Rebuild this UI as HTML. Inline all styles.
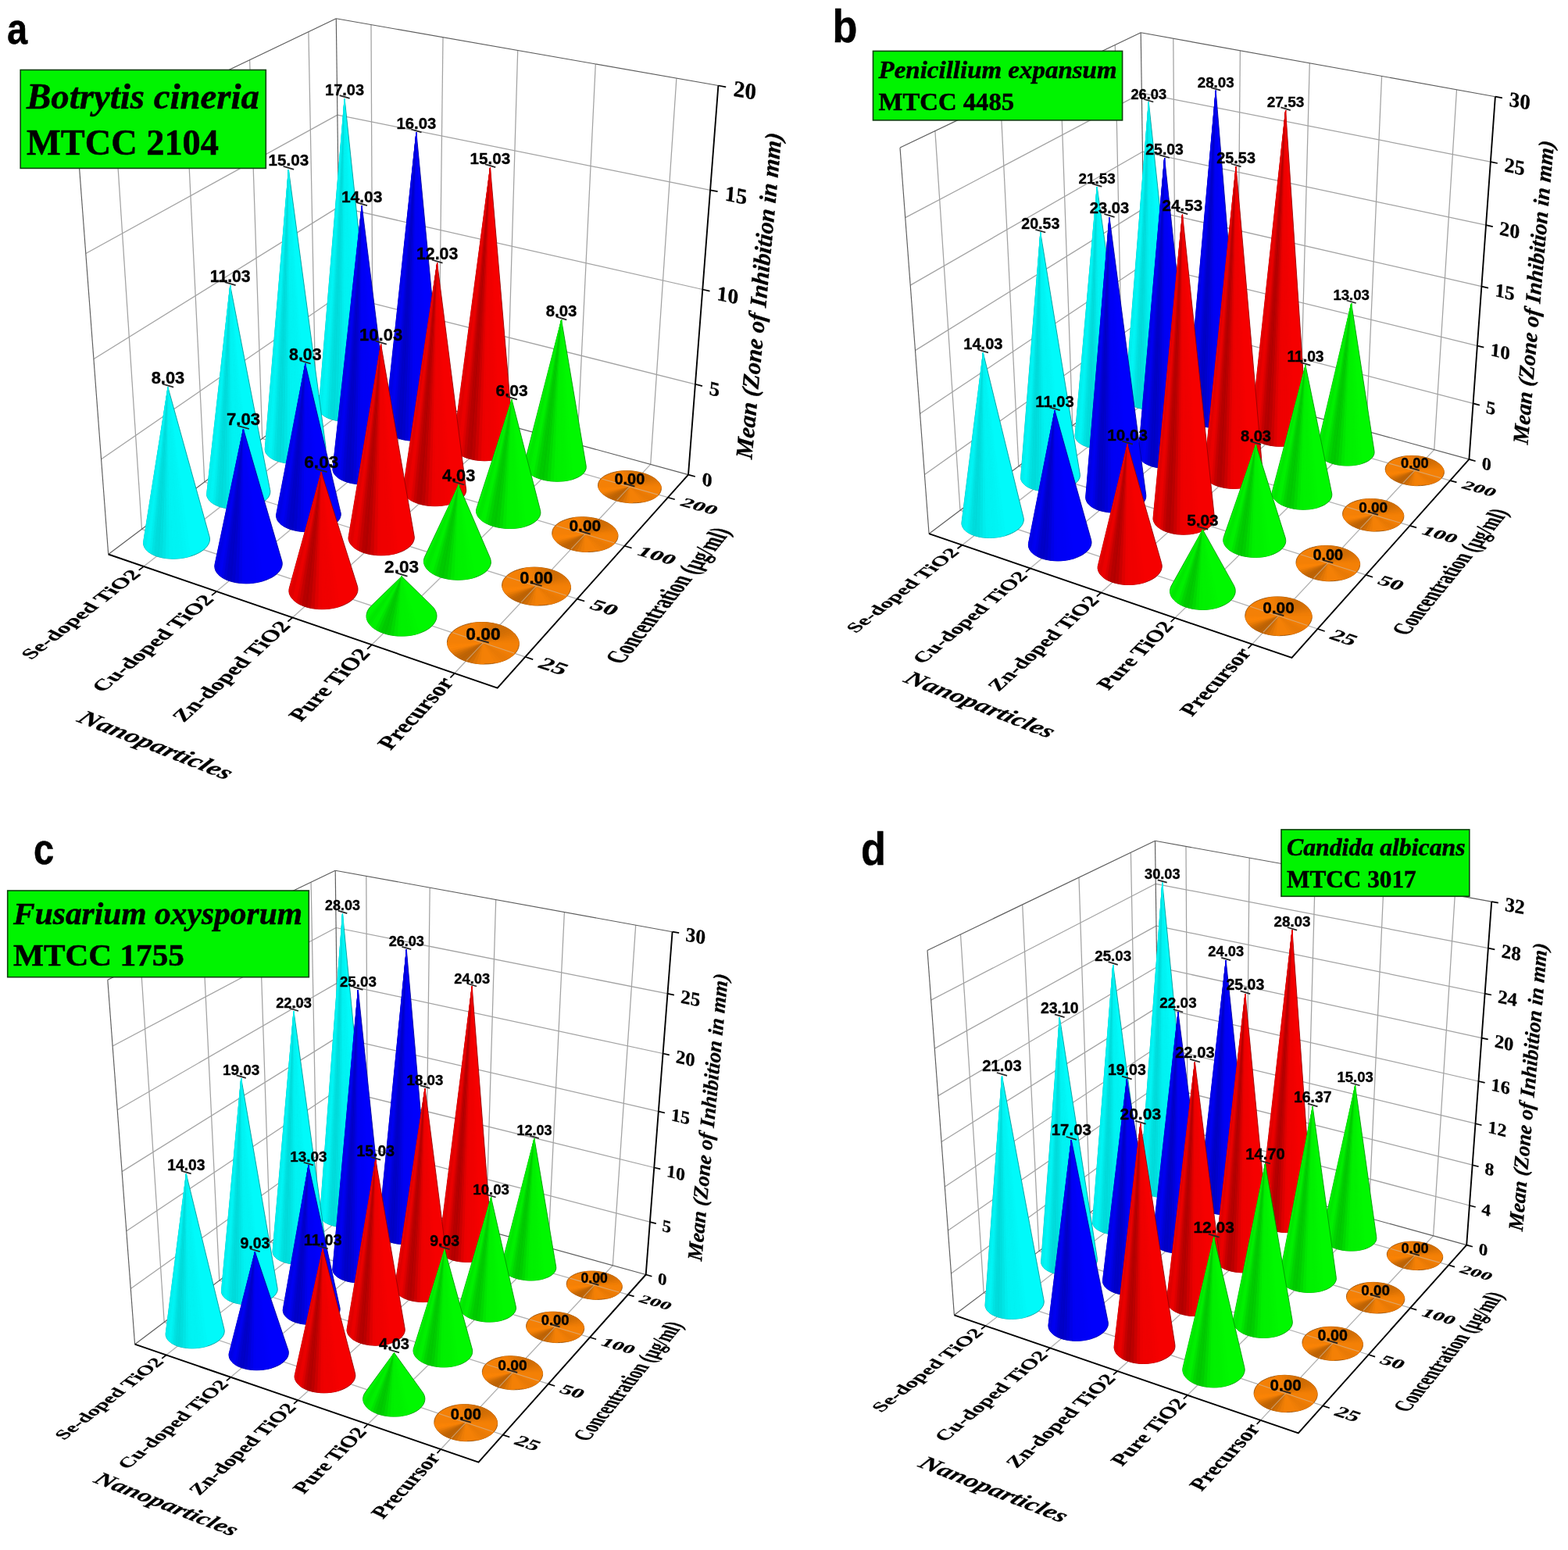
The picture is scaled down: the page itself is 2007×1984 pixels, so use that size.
<!DOCTYPE html><html><head><meta charset="utf-8"><title>Antifungal activity</title><style>
html,body{margin:0;padding:0;background:#fff}
svg{display:block}
text{font-family:"Liberation Serif",serif;font-weight:bold;fill:#000}
.s text{stroke:#000;stroke-width:1.1px;stroke-linejoin:round}
.pl,.t{stroke:#000;stroke-width:0.5px}
.v{font-family:"Liberation Sans",sans-serif;font-weight:bold;text-anchor:middle;stroke:#000;stroke-width:0.35px}
.pl{font-family:"Liberation Sans",sans-serif;font-weight:bold}
.i{font-style:italic}
</style></head><body>
<svg width="2007" height="1984" viewBox="0 0 2007 1984">
<rect width="2007" height="1984" fill="#fff"/>
<g id="panel-a">
<line x1="129.6" y1="587.7" x2="434.8" y2="377.7" stroke="#a2a2a2" stroke-width="1.25"/>
<line x1="434.8" y1="377.7" x2="889.9" y2="491.8" stroke="#a2a2a2" stroke-width="1.25"/>
<line x1="120" y1="459.5" x2="433.4" y2="264.9" stroke="#a2a2a2" stroke-width="1.25"/>
<line x1="433.4" y1="264.9" x2="899.3" y2="370.5" stroke="#a2a2a2" stroke-width="1.25"/>
<line x1="109.8" y1="324.5" x2="431.9" y2="147.1" stroke="#a2a2a2" stroke-width="1.25"/>
<line x1="431.9" y1="147.1" x2="909.1" y2="243.3" stroke="#a2a2a2" stroke-width="1.25"/>
<line x1="181.5" y1="677.4" x2="147.4" y2="159" stroke="#a2a2a2" stroke-width="1.25"/>
<line x1="181.5" y1="677.4" x2="672.3" y2="840.8" stroke="#b0b0b0" stroke-width="1.3"/>
<line x1="261.8" y1="617" x2="237.4" y2="116" stroke="#a2a2a2" stroke-width="1.25"/>
<line x1="261.8" y1="617" x2="738.7" y2="766.6" stroke="#b0b0b0" stroke-width="1.3"/>
<line x1="335.7" y1="561.4" x2="319.6" y2="76.7" stroke="#a2a2a2" stroke-width="1.25"/>
<line x1="335.7" y1="561.4" x2="799.3" y2="698.8" stroke="#b0b0b0" stroke-width="1.3"/>
<line x1="404" y1="510" x2="394.9" y2="40.7" stroke="#a2a2a2" stroke-width="1.25"/>
<line x1="404" y1="510" x2="854.9" y2="636.7" stroke="#b0b0b0" stroke-width="1.3"/>
<line x1="477.2" y1="497" x2="475" y2="31.7" stroke="#a2a2a2" stroke-width="1.25"/>
<line x1="183.9" y1="725.1" x2="477.2" y2="497" stroke="#b0b0b0" stroke-width="1.3"/>
<line x1="561.3" y1="520" x2="567" y2="47.8" stroke="#a2a2a2" stroke-width="1.25"/>
<line x1="277.1" y1="757.1" x2="561.3" y2="520" stroke="#b0b0b0" stroke-width="1.3"/>
<line x1="648.5" y1="543.9" x2="662.7" y2="64.6" stroke="#a2a2a2" stroke-width="1.25"/>
<line x1="374.3" y1="790.5" x2="648.5" y2="543.9" stroke="#b0b0b0" stroke-width="1.3"/>
<line x1="738.9" y1="568.7" x2="762.3" y2="82" stroke="#a2a2a2" stroke-width="1.25"/>
<line x1="475.8" y1="825.3" x2="738.9" y2="568.7" stroke="#b0b0b0" stroke-width="1.3"/>
<line x1="832.7" y1="594.4" x2="865.9" y2="100.2" stroke="#a2a2a2" stroke-width="1.25"/>
<line x1="581.8" y1="861.8" x2="832.7" y2="594.4" stroke="#b0b0b0" stroke-width="1.3"/>
<line x1="138.7" y1="709.5" x2="99.1" y2="182.1" stroke="#5c5c5c" stroke-width="1.15"/>
<line x1="99.1" y1="182.1" x2="430.3" y2="23.8" stroke="#5c5c5c" stroke-width="1.15"/>
<line x1="430.3" y1="23.8" x2="919.4" y2="109.5" stroke="#5c5c5c" stroke-width="1.15"/>
<line x1="436.2" y1="485.8" x2="430.3" y2="23.8" stroke="#5c5c5c" stroke-width="1.15"/>
<line x1="138.7" y1="709.5" x2="436.2" y2="485.8" stroke="#5c5c5c" stroke-width="1.15"/>
<line x1="436.2" y1="485.8" x2="881" y2="607.6" stroke="#5c5c5c" stroke-width="1.15"/>
<polyline points="138.7,709.5 636.7,880.6 881,607.6 919.4,109.5" fill="none" stroke="#000" stroke-width="1.9" stroke-linejoin="miter"/>
<line x1="183.9" y1="725.1" x2="177.7" y2="729.9" stroke="#000" stroke-width="1.7"/>
<line x1="277.1" y1="757.1" x2="271" y2="762.1" stroke="#000" stroke-width="1.7"/>
<line x1="374.3" y1="790.5" x2="368.4" y2="795.7" stroke="#000" stroke-width="1.7"/>
<line x1="475.8" y1="825.3" x2="470.1" y2="830.9" stroke="#000" stroke-width="1.7"/>
<line x1="581.8" y1="861.8" x2="576.4" y2="867.5" stroke="#000" stroke-width="1.7"/>
<line x1="672.3" y1="840.8" x2="682.2" y2="844.1" stroke="#000" stroke-width="1.7"/>
<line x1="738.7" y1="766.6" x2="748.2" y2="769.5" stroke="#000" stroke-width="1.7"/>
<line x1="799.3" y1="698.8" x2="808.6" y2="701.5" stroke="#000" stroke-width="1.7"/>
<line x1="854.9" y1="636.7" x2="863.8" y2="639.2" stroke="#000" stroke-width="1.7"/>
<line x1="881" y1="607.6" x2="889.8" y2="610" stroke="#000" stroke-width="1.7"/>
<line x1="889.9" y1="491.8" x2="898.9" y2="494.1" stroke="#000" stroke-width="1.7"/>
<line x1="899.3" y1="370.5" x2="908.5" y2="372.6" stroke="#000" stroke-width="1.7"/>
<line x1="909.1" y1="243.3" x2="918.6" y2="245.2" stroke="#000" stroke-width="1.7"/>
<line x1="919.4" y1="109.5" x2="929.2" y2="111.3" stroke="#000" stroke-width="1.7"/>
<g><polygon points="408.1,521.6 441.1,126.1 482.7,519.9 482.8,521.8 482.6,523.6 481.9,525.5 480.8,527.2 479.3,529 477.5,530.7 475.2,532.2 472.7,533.7 469.9,535 466.7,536.2 463.4,537.2 459.8,538.1 456.1,538.8 452.2,539.2 448.3,539.5 444.3,539.6 440.4,539.5 436.4,539.2 432.7,538.7 429,538 425.6,537.1 422.3,536.1 419.3,534.9 416.7,533.6 414.3,532.1 412.3,530.5 410.7,528.8 409.4,527.1 408.6,525.3 408.1,523.4" fill="#00fafa" stroke="#009b9b" stroke-width="0.9" stroke-linejoin="round"/><polygon points="441.1,126.1 408.1,521.6 408.1,523.4" fill="#00f9f9" stroke="#00f9f9" stroke-width="0.4"/><polygon points="441.1,126.1 408.1,523.4 408.6,525.3" fill="#00f6f6" stroke="#00f6f6" stroke-width="0.4"/><polygon points="441.1,126.1 408.6,525.3 409.4,527.1" fill="#00f0f0" stroke="#00f0f0" stroke-width="0.4"/><polygon points="441.1,126.1 409.4,527.1 410.7,528.8" fill="#00eeee" stroke="#00eeee" stroke-width="0.4"/><polygon points="441.1,126.1 410.7,528.8 412.3,530.5" fill="#00efef" stroke="#00efef" stroke-width="0.4"/><polygon points="441.1,126.1 412.3,530.5 414.3,532.1" fill="#00f4f4" stroke="#00f4f4" stroke-width="0.4"/><polygon points="441.1,126.1 414.3,532.1 416.7,533.6" fill="#00f4f4" stroke="#00f4f4" stroke-width="0.4"/><polygon points="441.1,126.1 416.7,533.6 419.3,534.9" fill="#00eded" stroke="#00eded" stroke-width="0.4"/><polygon points="441.1,126.1 419.3,534.9 422.3,536.1" fill="#00e3e3" stroke="#00e3e3" stroke-width="0.4"/><polygon points="441.1,126.1 422.3,536.1 425.6,537.1" fill="#00dcdc" stroke="#00dcdc" stroke-width="0.4"/><polygon points="441.1,126.1 425.6,537.1 429,538" fill="#00dada" stroke="#00dada" stroke-width="0.4"/><polygon points="441.1,126.1 459.8,538.1 463.4,537.2" fill="#00f8f8" stroke="#00f8f8" stroke-width="0.4"/><polygon points="441.1,126.1 429,538 432.7,538.7" fill="#00dede" stroke="#00dede" stroke-width="0.4"/><polygon points="441.1,126.1 456.1,538.8 459.8,538.1" fill="#00f6f6" stroke="#00f6f6" stroke-width="0.4"/><polygon points="441.1,126.1 432.7,538.7 436.5,539.2" fill="#00e5e5" stroke="#00e5e5" stroke-width="0.4"/><polygon points="441.1,126.1 452.2,539.2 456.1,538.8" fill="#00f4f4" stroke="#00f4f4" stroke-width="0.4"/><polygon points="441.1,126.1 436.5,539.2 440.3,539.5" fill="#00eded" stroke="#00eded" stroke-width="0.4"/><polygon points="441.1,126.1 448.3,539.5 452.2,539.2" fill="#00f3f3" stroke="#00f3f3" stroke-width="0.4"/><polygon points="441.1,126.1 440.3,539.5 444.3,539.6" fill="#00f2f2" stroke="#00f2f2" stroke-width="0.4"/><polygon points="441.1,126.1 444.3,539.6 448.3,539.5" fill="#00f3f3" stroke="#00f3f3" stroke-width="0.4"/></g>
<g><polygon points="492.6,545.5 532.9,169.6 568.7,545.7 568.5,547.6 568,549.5 567,551.4 565.6,553.2 563.8,554.9 561.7,556.6 559.2,558.1 556.4,559.5 553.3,560.7 549.9,561.7 546.3,562.6 542.6,563.3 538.7,563.8 534.7,564.1 530.7,564.2 526.6,564.1 522.6,563.8 518.8,563.3 515,562.5 511.4,561.6 508,560.6 504.9,559.3 502.1,557.9 499.6,556.4 497.5,554.8 495.7,553 494.3,551.2 493.3,549.3 492.8,547.4" fill="#0000fc" stroke="#00009c" stroke-width="0.9" stroke-linejoin="round"/><polygon points="532.9,169.6 492.6,545.5 492.8,547.4" fill="#0000fb" stroke="#0000fb" stroke-width="0.4"/><polygon points="532.9,169.6 492.8,547.4 493.3,549.3" fill="#0000f3" stroke="#0000f3" stroke-width="0.4"/><polygon points="532.9,169.6 493.3,549.3 494.3,551.2" fill="#0000e9" stroke="#0000e9" stroke-width="0.4"/><polygon points="532.9,169.6 494.3,551.2 495.7,553" fill="#0000e3" stroke="#0000e3" stroke-width="0.4"/><polygon points="532.9,169.6 495.7,553 497.5,554.8" fill="#0000e6" stroke="#0000e6" stroke-width="0.4"/><polygon points="532.9,169.6 497.5,554.8 499.6,556.4" fill="#0000ef" stroke="#0000ef" stroke-width="0.4"/><polygon points="532.9,169.6 499.6,556.4 502.1,557.9" fill="#0000f2" stroke="#0000f2" stroke-width="0.4"/><polygon points="532.9,169.6 502.1,557.9 504.9,559.3" fill="#0000e6" stroke="#0000e6" stroke-width="0.4"/><polygon points="532.9,169.6 504.9,559.3 508,560.6" fill="#0000d5" stroke="#0000d5" stroke-width="0.4"/><polygon points="532.9,169.6 508,560.6 511.4,561.6" fill="#0000c8" stroke="#0000c8" stroke-width="0.4"/><polygon points="532.9,169.6 511.4,561.6 515,562.6" fill="#0000c5" stroke="#0000c5" stroke-width="0.4"/><polygon points="532.9,169.6 546.3,562.6 549.9,561.7" fill="#0000fa" stroke="#0000fa" stroke-width="0.4"/><polygon points="532.9,169.6 515,562.6 518.7,563.3" fill="#0000cc" stroke="#0000cc" stroke-width="0.4"/><polygon points="532.9,169.6 542.6,563.3 546.3,562.6" fill="#0000f8" stroke="#0000f8" stroke-width="0.4"/><polygon points="532.9,169.6 518.7,563.3 522.6,563.8" fill="#0000d9" stroke="#0000d9" stroke-width="0.4"/><polygon points="532.9,169.6 538.7,563.8 542.6,563.3" fill="#0000f6" stroke="#0000f6" stroke-width="0.4"/><polygon points="532.9,169.6 522.6,563.8 526.6,564.1" fill="#0000e8" stroke="#0000e8" stroke-width="0.4"/><polygon points="532.9,169.6 534.7,564.1 538.7,563.8" fill="#0000f5" stroke="#0000f5" stroke-width="0.4"/><polygon points="532.9,169.6 526.6,564.1 530.7,564.2" fill="#0000f3" stroke="#0000f3" stroke-width="0.4"/><polygon points="532.9,169.6 530.7,564.2 534.7,564.1" fill="#0000f5" stroke="#0000f5" stroke-width="0.4"/></g>
<g><polygon points="580.2,570.3 580.4,568.3 627.5,214.3 657.8,570.5 657.7,572.5 657.3,574.5 656.4,576.4 655.1,578.3 653.4,580.1 651.4,581.8 648.9,583.4 646.1,584.8 643.1,586.1 639.7,587.2 636.1,588.1 632.4,588.8 628.4,589.3 624.4,589.6 620.3,589.8 616.2,589.6 612.1,589.3 608.1,588.8 604.2,588 600.5,587.1 597,586 593.7,584.7 590.8,583.2 588.1,581.6 585.8,579.9 583.9,578.1 582.4,576.2 581.2,574.3 580.5,572.3" fill="#f60000" stroke="#990000" stroke-width="0.9" stroke-linejoin="round"/><polygon points="627.5,214.3 580.2,570.3 580.5,572.3" fill="#f50000" stroke="#f50000" stroke-width="0.4"/><polygon points="627.5,214.3 580.5,572.3 581.2,574.3" fill="#ed0000" stroke="#ed0000" stroke-width="0.4"/><polygon points="627.5,214.3 581.2,574.3 582.4,576.2" fill="#e30000" stroke="#e30000" stroke-width="0.4"/><polygon points="627.5,214.3 582.4,576.2 583.9,578.1" fill="#de0000" stroke="#de0000" stroke-width="0.4"/><polygon points="627.5,214.3 583.9,578.1 585.8,579.9" fill="#e00000" stroke="#e00000" stroke-width="0.4"/><polygon points="627.5,214.3 585.8,579.9 588.1,581.6" fill="#ea0000" stroke="#ea0000" stroke-width="0.4"/><polygon points="627.5,214.3 588.1,581.6 590.8,583.2" fill="#ea0000" stroke="#ea0000" stroke-width="0.4"/><polygon points="627.5,214.3 590.8,583.2 593.7,584.7" fill="#db0000" stroke="#db0000" stroke-width="0.4"/><polygon points="627.5,214.3 593.7,584.7 597,586" fill="#c60000" stroke="#c60000" stroke-width="0.4"/><polygon points="627.5,214.3 597,586 600.5,587.1" fill="#b60000" stroke="#b60000" stroke-width="0.4"/><polygon points="627.5,214.3 600.5,587.1 604.2,588" fill="#b10000" stroke="#b10000" stroke-width="0.4"/><polygon points="627.5,214.3 636.1,588.1 639.7,587.2" fill="#f40000" stroke="#f40000" stroke-width="0.4"/><polygon points="627.5,214.3 604.2,588 608.1,588.8" fill="#ba0000" stroke="#ba0000" stroke-width="0.4"/><polygon points="627.5,214.3 632.4,588.8 636.1,588.1" fill="#f20000" stroke="#f20000" stroke-width="0.4"/><polygon points="627.5,214.3 608.1,588.8 612.1,589.3" fill="#cb0000" stroke="#cb0000" stroke-width="0.4"/><polygon points="627.5,214.3 628.4,589.3 632.4,588.8" fill="#f00000" stroke="#f00000" stroke-width="0.4"/><polygon points="627.5,214.3 612.1,589.3 616.2,589.6" fill="#de0000" stroke="#de0000" stroke-width="0.4"/><polygon points="627.5,214.3 624.4,589.6 628.4,589.3" fill="#ef0000" stroke="#ef0000" stroke-width="0.4"/><polygon points="627.5,214.3 616.2,589.6 620.3,589.7" fill="#ec0000" stroke="#ec0000" stroke-width="0.4"/><polygon points="627.5,214.3 620.3,589.7 624.4,589.6" fill="#ef0000" stroke="#ef0000" stroke-width="0.4"/></g>
<g><polygon points="339.3,575.9 339.3,573.9 369.4,217.1 417,572.1 417,574.1 416.7,576.1 415.9,578.1 414.6,580 413,581.9 411,583.7 408.6,585.4 405.9,587 402.9,588.4 399.6,589.7 396,590.8 392.2,591.7 388.3,592.5 384.3,593 380.2,593.3 376,593.4 371.9,593.3 367.9,593 364,592.4 360.2,591.7 356.7,590.7 353.4,589.6 350.3,588.3 347.6,586.8 345.2,585.2 343.2,583.5 341.6,581.7 340.4,579.8 339.6,577.9" fill="#00fafa" stroke="#009b9b" stroke-width="0.9" stroke-linejoin="round"/><polygon points="369.4,217.1 339.3,573.9 339.3,575.9" fill="#00f9f9" stroke="#00f9f9" stroke-width="0.4"/><polygon points="369.4,217.1 339.3,575.9 339.6,577.9" fill="#00f6f6" stroke="#00f6f6" stroke-width="0.4"/><polygon points="369.4,217.1 339.6,577.9 340.4,579.8" fill="#00f0f0" stroke="#00f0f0" stroke-width="0.4"/><polygon points="369.4,217.1 340.4,579.8 341.6,581.7" fill="#00eeee" stroke="#00eeee" stroke-width="0.4"/><polygon points="369.4,217.1 341.6,581.7 343.2,583.5" fill="#00efef" stroke="#00efef" stroke-width="0.4"/><polygon points="369.4,217.1 343.2,583.5 345.2,585.2" fill="#00f4f4" stroke="#00f4f4" stroke-width="0.4"/><polygon points="369.4,217.1 345.2,585.2 347.6,586.8" fill="#00f4f4" stroke="#00f4f4" stroke-width="0.4"/><polygon points="369.4,217.1 347.6,586.8 350.3,588.3" fill="#00eded" stroke="#00eded" stroke-width="0.4"/><polygon points="369.4,217.1 350.3,588.3 353.3,589.6" fill="#00e3e3" stroke="#00e3e3" stroke-width="0.4"/><polygon points="369.4,217.1 353.3,589.6 356.7,590.7" fill="#00dcdc" stroke="#00dcdc" stroke-width="0.4"/><polygon points="369.4,217.1 356.7,590.7 360.2,591.7" fill="#00dada" stroke="#00dada" stroke-width="0.4"/><polygon points="369.4,217.1 392.2,591.7 396,590.8" fill="#00f8f8" stroke="#00f8f8" stroke-width="0.4"/><polygon points="369.4,217.1 360.2,591.7 364,592.4" fill="#00dede" stroke="#00dede" stroke-width="0.4"/><polygon points="369.4,217.1 388.3,592.5 392.2,591.7" fill="#00f6f6" stroke="#00f6f6" stroke-width="0.4"/><polygon points="369.4,217.1 364,592.4 367.9,592.9" fill="#00e5e5" stroke="#00e5e5" stroke-width="0.4"/><polygon points="369.4,217.1 384.3,593 388.3,592.5" fill="#00f4f4" stroke="#00f4f4" stroke-width="0.4"/><polygon points="369.4,217.1 367.9,592.9 371.9,593.3" fill="#00eded" stroke="#00eded" stroke-width="0.4"/><polygon points="369.4,217.1 380.2,593.3 384.3,593" fill="#00f3f3" stroke="#00f3f3" stroke-width="0.4"/><polygon points="369.4,217.1 371.9,593.3 376,593.4" fill="#00f2f2" stroke="#00f2f2" stroke-width="0.4"/><polygon points="369.4,217.1 376,593.4 380.2,593.3" fill="#00f3f3" stroke="#00f3f3" stroke-width="0.4"/></g>
<g><polygon points="671.2,596.1 671.2,594 671.6,592 718.6,409.4 750.2,596.3 750.3,598.4 750,600.4 749.2,602.4 748,604.4 746.5,606.2 744.5,608 742.1,609.6 739.4,611.1 736.3,612.4 733,613.6 729.4,614.5 725.6,615.3 721.6,615.8 717.5,616.1 713.3,616.2 709.1,616.1 704.9,615.8 700.8,615.2 696.8,614.5 693,613.5 689.3,612.3 685.9,611 682.8,609.5 680,607.8 677.5,606.1 675.5,604.2 673.8,602.2 672.5,600.2 671.6,598.2" fill="#00f800" stroke="#009a00" stroke-width="0.9" stroke-linejoin="round"/><polygon points="718.6,409.5 671.2,596.1 671.6,598.2" fill="#00f700" stroke="#00f700" stroke-width="0.4"/><polygon points="718.6,409.5 671.6,598.2 672.5,600.2" fill="#00f200" stroke="#00f200" stroke-width="0.4"/><polygon points="718.6,409.5 672.5,600.2 673.8,602.2" fill="#00eb00" stroke="#00eb00" stroke-width="0.4"/><polygon points="718.6,409.5 673.8,602.2 675.5,604.2" fill="#00e700" stroke="#00e700" stroke-width="0.4"/><polygon points="718.6,409.5 675.5,604.2 677.5,606.1" fill="#00e900" stroke="#00e900" stroke-width="0.4"/><polygon points="718.6,409.5 677.5,606.1 680,607.8" fill="#00ef00" stroke="#00ef00" stroke-width="0.4"/><polygon points="718.6,409.5 680,607.8 682.8,609.5" fill="#00f000" stroke="#00f000" stroke-width="0.4"/><polygon points="718.6,409.5 682.8,609.5 685.9,611" fill="#00e400" stroke="#00e400" stroke-width="0.4"/><polygon points="718.6,409.5 685.9,611 689.3,612.3" fill="#00d500" stroke="#00d500" stroke-width="0.4"/><polygon points="718.6,409.5 689.3,612.3 693,613.5" fill="#00ca00" stroke="#00ca00" stroke-width="0.4"/><polygon points="718.6,409.5 693,613.5 696.8,614.5" fill="#00c700" stroke="#00c700" stroke-width="0.4"/><polygon points="718.6,409.5 729.4,614.5 733,613.6" fill="#00f600" stroke="#00f600" stroke-width="0.4"/><polygon points="718.6,409.5 696.8,614.5 700.8,615.2" fill="#00cd00" stroke="#00cd00" stroke-width="0.4"/><polygon points="718.6,409.5 725.6,615.3 729.4,614.5" fill="#00f400" stroke="#00f400" stroke-width="0.4"/><polygon points="718.6,409.5 700.8,615.2 704.9,615.8" fill="#00d900" stroke="#00d900" stroke-width="0.4"/><polygon points="718.6,409.5 721.6,615.8 725.6,615.3" fill="#00f200" stroke="#00f200" stroke-width="0.4"/><polygon points="718.6,409.5 704.9,615.8 709.1,616.1" fill="#00e600" stroke="#00e600" stroke-width="0.4"/><polygon points="718.6,409.5 717.5,616.1 721.6,615.8" fill="#00f100" stroke="#00f100" stroke-width="0.4"/><polygon points="718.6,409.5 709.1,616.1 713.3,616.3" fill="#00ef00" stroke="#00ef00" stroke-width="0.4"/><polygon points="718.6,409.5 713.3,616.3 717.5,616.1" fill="#00f100" stroke="#00f100" stroke-width="0.4"/></g>
<g><polygon points="426,599.8 463.2,263.4 505,597.9 505.2,600 504.9,602.1 504.2,604.1 503.1,606.1 501.6,608.1 499.6,610 497.3,611.8 494.7,613.4 491.7,614.9 488.4,616.2 484.8,617.4 481.1,618.3 477.1,619.1 473,619.6 468.9,620 464.6,620 460.5,619.9 456.3,619.6 452.3,619 448.4,618.2 444.7,617.3 441.3,616.1 438.1,614.7 435.2,613.2 432.7,611.6 430.6,609.8 428.8,607.9 427.5,606 426.5,603.9 426,601.9" fill="#0000fc" stroke="#00009c" stroke-width="0.9" stroke-linejoin="round"/><polygon points="463.2,263.4 426,599.8 426,601.9" fill="#0000fb" stroke="#0000fb" stroke-width="0.4"/><polygon points="463.2,263.4 426,601.9 426.5,603.9" fill="#0000f3" stroke="#0000f3" stroke-width="0.4"/><polygon points="463.2,263.4 426.5,603.9 427.5,606" fill="#0000e9" stroke="#0000e9" stroke-width="0.4"/><polygon points="463.2,263.4 427.5,606 428.8,607.9" fill="#0000e3" stroke="#0000e3" stroke-width="0.4"/><polygon points="463.2,263.4 428.8,607.9 430.6,609.8" fill="#0000e6" stroke="#0000e6" stroke-width="0.4"/><polygon points="463.2,263.4 430.6,609.8 432.7,611.6" fill="#0000ef" stroke="#0000ef" stroke-width="0.4"/><polygon points="463.2,263.4 432.7,611.6 435.2,613.2" fill="#0000f2" stroke="#0000f2" stroke-width="0.4"/><polygon points="463.2,263.4 435.2,613.2 438.1,614.7" fill="#0000e6" stroke="#0000e6" stroke-width="0.4"/><polygon points="463.2,263.4 438.1,614.7 441.3,616.1" fill="#0000d5" stroke="#0000d5" stroke-width="0.4"/><polygon points="463.2,263.4 441.3,616.1 444.7,617.3" fill="#0000c8" stroke="#0000c8" stroke-width="0.4"/><polygon points="463.2,263.4 444.7,617.3 448.4,618.2" fill="#0000c5" stroke="#0000c5" stroke-width="0.4"/><polygon points="463.2,263.4 481,618.3 484.8,617.4" fill="#0000fa" stroke="#0000fa" stroke-width="0.4"/><polygon points="463.2,263.4 448.4,618.2 452.3,619" fill="#0000cc" stroke="#0000cc" stroke-width="0.4"/><polygon points="463.2,263.4 477.1,619.1 481,618.3" fill="#0000f8" stroke="#0000f8" stroke-width="0.4"/><polygon points="463.2,263.4 452.3,619 456.3,619.6" fill="#0000d9" stroke="#0000d9" stroke-width="0.4"/><polygon points="463.2,263.4 473,619.6 477.1,619.1" fill="#0000f6" stroke="#0000f6" stroke-width="0.4"/><polygon points="463.2,263.4 456.3,619.6 460.5,619.9" fill="#0000e8" stroke="#0000e8" stroke-width="0.4"/><polygon points="463.2,263.4 468.9,619.9 473,619.6" fill="#0000f5" stroke="#0000f5" stroke-width="0.4"/><polygon points="463.2,263.4 460.5,619.9 464.6,620" fill="#0000f3" stroke="#0000f3" stroke-width="0.4"/><polygon points="463.2,263.4 464.6,620 468.9,619.9" fill="#0000f5" stroke="#0000f5" stroke-width="0.4"/></g>
<g><polygon points="765.5,620.7 765.8,618.6 766.5,616.5 767.7,614.5 769.3,612.6 771.3,610.9 773.6,609.2 776.3,607.8 779.3,606.5 782.6,605.3 786.1,604.4 789.9,603.6 793.8,603.1 797.8,602.8 801.9,602.7 806.1,602.8 810.3,603.1 814.4,603.7 818.4,604.5 822.4,605.4 826.1,606.6 829.6,607.9 832.9,609.4 835.9,611 838.5,612.8 840.9,614.7 842.8,616.7 844.3,618.8 845.5,620.9 846.2,623 846.4,625.2 846.2,627.3 845.6,629.4 844.6,631.4 843.1,633.4 841.1,635.2 838.8,636.9 836.2,638.5 833.1,639.8 829.8,641 826.2,642 822.4,642.8 818.4,643.4 814.2,643.7 810,643.8 805.7,643.7 801.4,643.3 797.2,642.7 793,641.9 789,640.9 785.3,639.7 781.7,638.3 778.4,636.8 775.4,635 772.8,633.2 770.6,631.2 768.7,629.2 767.2,627.1 766.2,625 765.6,622.8" fill="#f48006" stroke="#974f04" stroke-width="0.9" stroke-linejoin="round"/><polygon points="805.9,622.9 801.9,602.7 797.8,602.8" fill="#eb7b06" stroke="#eb7b06" stroke-width="0.4"/><polygon points="805.9,622.9 806.1,602.8 801.9,602.7" fill="#e67806" stroke="#e67806" stroke-width="0.4"/><polygon points="805.9,622.9 797.8,602.8 793.8,603.1" fill="#f07e06" stroke="#f07e06" stroke-width="0.4"/><polygon points="805.9,622.9 810.3,603.1 806.1,602.8" fill="#df7505" stroke="#df7505" stroke-width="0.4"/><polygon points="805.9,622.9 793.8,603.1 789.9,603.6" fill="#f37f06" stroke="#f37f06" stroke-width="0.4"/><polygon points="805.9,622.9 814.4,603.7 810.3,603.1" fill="#d97205" stroke="#d97205" stroke-width="0.4"/><polygon points="805.9,622.9 818.4,604.5 814.4,603.7" fill="#d46f05" stroke="#d46f05" stroke-width="0.4"/><polygon points="805.9,622.9 822.3,605.4 818.4,604.5" fill="#d06d05" stroke="#d06d05" stroke-width="0.4"/><polygon points="805.9,622.9 826.1,606.6 822.3,605.4" fill="#ce6c05" stroke="#ce6c05" stroke-width="0.4"/><polygon points="805.9,622.9 829.6,607.9 826.1,606.6" fill="#cd6c05" stroke="#cd6c05" stroke-width="0.4"/><polygon points="805.9,622.9 832.9,609.4 829.6,607.9" fill="#ce6c05" stroke="#ce6c05" stroke-width="0.4"/><polygon points="805.9,622.9 835.9,611 832.9,609.4" fill="#d16e05" stroke="#d16e05" stroke-width="0.4"/><polygon points="805.9,622.9 838.5,612.8 835.9,611" fill="#d67005" stroke="#d67005" stroke-width="0.4"/><polygon points="805.9,622.9 840.8,614.7 838.5,612.8" fill="#db7305" stroke="#db7305" stroke-width="0.4"/><polygon points="805.9,622.9 842.8,616.7 840.8,614.7" fill="#e27606" stroke="#e27606" stroke-width="0.4"/><polygon points="805.9,622.9 844.3,618.8 842.8,616.7" fill="#e77906" stroke="#e77906" stroke-width="0.4"/><polygon points="805.9,622.9 845.5,620.9 844.3,618.8" fill="#ed7c06" stroke="#ed7c06" stroke-width="0.4"/><polygon points="805.9,622.9 846.2,623 845.5,620.9" fill="#f17e06" stroke="#f17e06" stroke-width="0.4"/><polygon points="805.9,622.9 765.6,622.8 766.2,625" fill="#f68106" stroke="#f68106" stroke-width="0.4"/><polygon points="805.9,622.9 846.4,625.2 846.2,623" fill="#f38006" stroke="#f38006" stroke-width="0.4"/><polygon points="805.9,622.9 766.2,625 767.2,627.1" fill="#f98306" stroke="#f98306" stroke-width="0.4"/><polygon points="805.9,622.9 767.2,627.1 768.7,629.2" fill="#fb8406" stroke="#fb8406" stroke-width="0.4"/><polygon points="805.9,622.9 768.7,629.2 770.6,631.3" fill="#f68106" stroke="#f68106" stroke-width="0.4"/><polygon points="805.9,622.9 770.6,631.3 772.8,633.2" fill="#e87a06" stroke="#e87a06" stroke-width="0.4"/><polygon points="805.9,622.9 772.8,633.2 775.4,635" fill="#d77105" stroke="#d77105" stroke-width="0.4"/><polygon points="805.9,622.9 841.1,635.2 843.1,633.4" fill="#f37f06" stroke="#f37f06" stroke-width="0.4"/><polygon points="805.9,622.9 775.4,635 778.4,636.7" fill="#c96905" stroke="#c96905" stroke-width="0.4"/><polygon points="805.9,622.9 838.8,636.9 841.1,635.2" fill="#ef7d06" stroke="#ef7d06" stroke-width="0.4"/><polygon points="805.9,622.9 778.4,636.7 781.7,638.3" fill="#be6405" stroke="#be6405" stroke-width="0.4"/><polygon points="805.9,622.9 836.2,638.4 838.8,636.9" fill="#eb7b06" stroke="#eb7b06" stroke-width="0.4"/><polygon points="805.9,622.9 781.7,638.3 785.3,639.7" fill="#ba6105" stroke="#ba6105" stroke-width="0.4"/><polygon points="805.9,622.9 833.2,639.8 836.2,638.4" fill="#e87a06" stroke="#e87a06" stroke-width="0.4"/><polygon points="805.9,622.9 785.3,639.7 789.1,640.9" fill="#bc6305" stroke="#bc6305" stroke-width="0.4"/><polygon points="805.9,622.9 829.8,641 833.2,639.8" fill="#e97a06" stroke="#e97a06" stroke-width="0.4"/><polygon points="805.9,622.9 789.1,640.9 793,641.9" fill="#c56705" stroke="#c56705" stroke-width="0.4"/><polygon points="805.9,622.9 826.2,642 829.8,641" fill="#ec7c06" stroke="#ec7c06" stroke-width="0.4"/><polygon points="805.9,622.9 793,641.9 797.2,642.7" fill="#d26e05" stroke="#d26e05" stroke-width="0.4"/><polygon points="805.9,622.9 822.4,642.8 826.2,642" fill="#f07e06" stroke="#f07e06" stroke-width="0.4"/><polygon points="805.9,622.9 797.2,642.7 801.4,643.3" fill="#e07606" stroke="#e07606" stroke-width="0.4"/><polygon points="805.9,622.9 801.4,643.3 805.7,643.7" fill="#ec7c06" stroke="#ec7c06" stroke-width="0.4"/><polygon points="805.9,622.9 805.7,643.7 810,643.8" fill="#f38006" stroke="#f38006" stroke-width="0.4"/></g>
<line x1="770.4" y1="613" x2="841.9" y2="633.1" stroke="#cdbfae" stroke-width="1.1" opacity="0.6"/>
<line x1="805.9" y1="622.9" x2="789.6" y2="640.4" stroke="#cdbfae" stroke-width="1.1" opacity="0.6"/>
<g><polygon points="516,626.7 516.2,624.5 559.6,336.8 596.7,626.9 596.6,629 596,631.2 595,633.3 593.6,635.3 591.8,637.3 589.5,639.1 586.9,640.8 583.9,642.4 580.7,643.8 577.1,645 573.3,646 569.4,646.7 565.2,647.3 561,647.6 556.7,647.7 552.5,647.6 548.2,647.3 544.1,646.7 540.1,645.9 536.2,644.9 532.6,643.6 529.3,642.2 526.3,640.7 523.6,638.9 521.3,637.1 519.4,635.1 517.9,633.1 516.8,631 516.2,628.8" fill="#f60000" stroke="#990000" stroke-width="0.9" stroke-linejoin="round"/><polygon points="559.6,336.8 516,626.7 516.2,628.8" fill="#f50000" stroke="#f50000" stroke-width="0.4"/><polygon points="559.6,336.8 516.2,628.8 516.8,631" fill="#ed0000" stroke="#ed0000" stroke-width="0.4"/><polygon points="559.6,336.8 516.8,631 517.9,633.1" fill="#e30000" stroke="#e30000" stroke-width="0.4"/><polygon points="559.6,336.8 517.9,633.1 519.4,635.1" fill="#de0000" stroke="#de0000" stroke-width="0.4"/><polygon points="559.6,336.8 519.4,635.1 521.3,637.1" fill="#e00000" stroke="#e00000" stroke-width="0.4"/><polygon points="559.6,336.8 521.3,637.1 523.6,638.9" fill="#ea0000" stroke="#ea0000" stroke-width="0.4"/><polygon points="559.6,336.8 523.6,638.9 526.3,640.7" fill="#ea0000" stroke="#ea0000" stroke-width="0.4"/><polygon points="559.6,336.8 526.3,640.7 529.3,642.2" fill="#db0000" stroke="#db0000" stroke-width="0.4"/><polygon points="559.6,336.8 529.3,642.2 532.7,643.6" fill="#c60000" stroke="#c60000" stroke-width="0.4"/><polygon points="559.6,336.8 532.7,643.6 536.2,644.8" fill="#b60000" stroke="#b60000" stroke-width="0.4"/><polygon points="559.6,336.8 536.2,644.8 540.1,645.9" fill="#b10000" stroke="#b10000" stroke-width="0.4"/><polygon points="559.6,336.8 573.3,645.9 577.1,645" fill="#f40000" stroke="#f40000" stroke-width="0.4"/><polygon points="559.6,336.8 540.1,645.9 544.1,646.7" fill="#ba0000" stroke="#ba0000" stroke-width="0.4"/><polygon points="559.6,336.8 569.4,646.7 573.3,645.9" fill="#f20000" stroke="#f20000" stroke-width="0.4"/><polygon points="559.6,336.8 544.1,646.7 548.2,647.3" fill="#cb0000" stroke="#cb0000" stroke-width="0.4"/><polygon points="559.6,336.8 565.2,647.3 569.4,646.7" fill="#f00000" stroke="#f00000" stroke-width="0.4"/><polygon points="559.6,336.8 548.2,647.3 552.5,647.6" fill="#de0000" stroke="#de0000" stroke-width="0.4"/><polygon points="559.6,336.8 561,647.6 565.2,647.3" fill="#ef0000" stroke="#ef0000" stroke-width="0.4"/><polygon points="559.6,336.8 552.5,647.6 556.7,647.7" fill="#ec0000" stroke="#ec0000" stroke-width="0.4"/><polygon points="559.6,336.8 556.7,647.7 561,647.6" fill="#ef0000" stroke="#ef0000" stroke-width="0.4"/></g>
<g><polygon points="264.7,632.7 264.9,630.5 294.7,365.4 345.5,626.4 345.9,628.6 345.8,630.7 345.3,632.9 344.4,635.1 343,637.2 341.2,639.2 339,641.2 336.4,643 333.5,644.8 330.2,646.3 326.7,647.7 322.9,648.9 319,649.9 314.8,650.7 310.6,651.3 306.3,651.6 302,651.7 297.7,651.6 293.5,651.2 289.5,650.6 285.6,649.8 281.9,648.8 278.6,647.6 275.5,646.2 272.7,644.6 270.4,642.9 268.4,641 266.8,639 265.6,637 264.9,634.9" fill="#00fafa" stroke="#009b9b" stroke-width="0.9" stroke-linejoin="round"/><polygon points="294.7,365.4 264.9,630.5 264.7,632.7" fill="#00f9f9" stroke="#00f9f9" stroke-width="0.4"/><polygon points="294.7,365.4 264.7,632.7 264.9,634.9" fill="#00f6f6" stroke="#00f6f6" stroke-width="0.4"/><polygon points="294.7,365.4 264.9,634.9 265.6,637" fill="#00f0f0" stroke="#00f0f0" stroke-width="0.4"/><polygon points="294.7,365.4 265.6,637 266.8,639" fill="#00eeee" stroke="#00eeee" stroke-width="0.4"/><polygon points="294.7,365.4 266.8,639 268.4,641" fill="#00efef" stroke="#00efef" stroke-width="0.4"/><polygon points="294.7,365.4 268.4,641 270.4,642.9" fill="#00f4f4" stroke="#00f4f4" stroke-width="0.4"/><polygon points="294.7,365.4 270.4,642.9 272.7,644.6" fill="#00f4f4" stroke="#00f4f4" stroke-width="0.4"/><polygon points="294.7,365.4 272.7,644.6 275.5,646.2" fill="#00eded" stroke="#00eded" stroke-width="0.4"/><polygon points="294.7,365.4 275.5,646.2 278.6,647.6" fill="#00e3e3" stroke="#00e3e3" stroke-width="0.4"/><polygon points="294.7,365.4 278.6,647.6 282,648.8" fill="#00dcdc" stroke="#00dcdc" stroke-width="0.4"/><polygon points="294.7,365.4 282,648.8 285.6,649.8" fill="#00dada" stroke="#00dada" stroke-width="0.4"/><polygon points="294.7,365.4 319,649.9 322.9,648.9" fill="#00f8f8" stroke="#00f8f8" stroke-width="0.4"/><polygon points="294.7,365.4 285.6,649.8 289.5,650.6" fill="#00dede" stroke="#00dede" stroke-width="0.4"/><polygon points="294.7,365.4 314.8,650.7 319,649.9" fill="#00f6f6" stroke="#00f6f6" stroke-width="0.4"/><polygon points="294.7,365.4 289.5,650.6 293.5,651.2" fill="#00e5e5" stroke="#00e5e5" stroke-width="0.4"/><polygon points="294.7,365.4 310.6,651.3 314.8,650.7" fill="#00f4f4" stroke="#00f4f4" stroke-width="0.4"/><polygon points="294.7,365.4 293.5,651.2 297.7,651.6" fill="#00eded" stroke="#00eded" stroke-width="0.4"/><polygon points="294.7,365.4 306.3,651.6 310.6,651.3" fill="#00f3f3" stroke="#00f3f3" stroke-width="0.4"/><polygon points="294.7,365.4 297.7,651.6 302,651.7" fill="#00f2f2" stroke="#00f2f2" stroke-width="0.4"/><polygon points="294.7,365.4 302,651.7 306.3,651.6" fill="#00f3f3" stroke="#00f3f3" stroke-width="0.4"/></g>
<g><polygon points="609.5,654.6 609.6,652.4 610.2,650.2 655.1,511.5 691.4,652.6 691.8,654.8 691.9,657.1 691.4,659.3 690.6,661.5 689.2,663.6 687.5,665.6 685.3,667.6 682.8,669.3 679.9,671 676.6,672.4 673.1,673.6 669.3,674.7 665.3,675.5 661.1,676.1 656.9,676.4 652.5,676.5 648.1,676.4 643.8,676 639.5,675.4 635.4,674.6 631.4,673.5 627.7,672.3 624.2,670.8 621,669.2 618.1,667.4 615.7,665.5 613.6,663.4 611.9,661.3 610.7,659.1 609.9,656.9" fill="#00f800" stroke="#009a00" stroke-width="0.9" stroke-linejoin="round"/><polygon points="655.1,511.5 609.5,654.6 609.9,656.9" fill="#00f700" stroke="#00f700" stroke-width="0.4"/><polygon points="655.1,511.5 609.9,656.9 610.7,659.1" fill="#00f200" stroke="#00f200" stroke-width="0.4"/><polygon points="655.1,511.5 610.7,659.1 611.9,661.3" fill="#00eb00" stroke="#00eb00" stroke-width="0.4"/><polygon points="655.1,511.5 611.9,661.3 613.6,663.4" fill="#00e700" stroke="#00e700" stroke-width="0.4"/><polygon points="655.1,511.5 613.6,663.4 615.7,665.5" fill="#00e900" stroke="#00e900" stroke-width="0.4"/><polygon points="655.1,511.5 615.7,665.5 618.1,667.4" fill="#00ef00" stroke="#00ef00" stroke-width="0.4"/><polygon points="655.1,511.5 618.1,667.4 621,669.2" fill="#00f000" stroke="#00f000" stroke-width="0.4"/><polygon points="655.1,511.5 621,669.2 624.2,670.8" fill="#00e400" stroke="#00e400" stroke-width="0.4"/><polygon points="655.1,511.5 624.2,670.8 627.7,672.3" fill="#00d500" stroke="#00d500" stroke-width="0.4"/><polygon points="655.1,511.5 627.7,672.3 631.4,673.5" fill="#00ca00" stroke="#00ca00" stroke-width="0.4"/><polygon points="655.1,511.5 631.4,673.5 635.4,674.6" fill="#00c700" stroke="#00c700" stroke-width="0.4"/><polygon points="655.1,511.5 669.3,674.7 673.1,673.6" fill="#00f600" stroke="#00f600" stroke-width="0.4"/><polygon points="655.1,511.5 635.4,674.6 639.5,675.4" fill="#00cd00" stroke="#00cd00" stroke-width="0.4"/><polygon points="655.1,511.5 665.3,675.5 669.3,674.7" fill="#00f400" stroke="#00f400" stroke-width="0.4"/><polygon points="655.1,511.5 639.5,675.4 643.8,676" fill="#00d900" stroke="#00d900" stroke-width="0.4"/><polygon points="655.1,511.5 661.2,676.1 665.3,675.5" fill="#00f200" stroke="#00f200" stroke-width="0.4"/><polygon points="655.1,511.5 643.8,676 648.1,676.4" fill="#00e600" stroke="#00e600" stroke-width="0.4"/><polygon points="655.1,511.5 656.9,676.4 661.2,676.1" fill="#00f100" stroke="#00f100" stroke-width="0.4"/><polygon points="655.1,511.5 648.1,676.4 652.5,676.5" fill="#00ef00" stroke="#00ef00" stroke-width="0.4"/><polygon points="655.1,511.5 652.5,676.5 656.9,676.4" fill="#00f100" stroke="#00f100" stroke-width="0.4"/></g>
<g><polygon points="353.7,660.9 353.7,658.6 390.8,465.7 435.6,654.4 436.2,656.6 436.3,658.9 435.9,661.1 435.1,663.4 433.8,665.6 432.1,667.7 430,669.7 427.5,671.6 424.6,673.4 421.4,675.1 417.9,676.5 414.1,677.8 410.1,678.8 406,679.6 401.7,680.2 397.3,680.6 392.9,680.7 388.6,680.5 384.3,680.2 380.1,679.6 376.1,678.7 372.3,677.7 368.8,676.4 365.6,674.9 362.6,673.3 360.1,671.5 358,669.5 356.2,667.5 354.9,665.4 354.1,663.1" fill="#0000fc" stroke="#00009c" stroke-width="0.9" stroke-linejoin="round"/><polygon points="390.8,465.7 353.7,658.6 353.7,660.9" fill="#0000fb" stroke="#0000fb" stroke-width="0.4"/><polygon points="390.8,465.7 353.7,660.9 354.1,663.2" fill="#0000f3" stroke="#0000f3" stroke-width="0.4"/><polygon points="390.8,465.7 354.1,663.2 354.9,665.4" fill="#0000e9" stroke="#0000e9" stroke-width="0.4"/><polygon points="390.8,465.7 354.9,665.4 356.2,667.5" fill="#0000e3" stroke="#0000e3" stroke-width="0.4"/><polygon points="390.8,465.7 356.2,667.5 358,669.5" fill="#0000e6" stroke="#0000e6" stroke-width="0.4"/><polygon points="390.8,465.7 358,669.5 360.1,671.5" fill="#0000ef" stroke="#0000ef" stroke-width="0.4"/><polygon points="390.8,465.7 360.1,671.5 362.6,673.3" fill="#0000f2" stroke="#0000f2" stroke-width="0.4"/><polygon points="390.8,465.7 362.6,673.3 365.5,674.9" fill="#0000e6" stroke="#0000e6" stroke-width="0.4"/><polygon points="390.8,465.7 365.5,674.9 368.8,676.4" fill="#0000d5" stroke="#0000d5" stroke-width="0.4"/><polygon points="390.8,465.7 368.8,676.4 372.3,677.7" fill="#0000c8" stroke="#0000c8" stroke-width="0.4"/><polygon points="390.8,465.7 372.3,677.7 376.1,678.7" fill="#0000c5" stroke="#0000c5" stroke-width="0.4"/><polygon points="390.8,465.7 410.1,678.8 414.1,677.8" fill="#0000fa" stroke="#0000fa" stroke-width="0.4"/><polygon points="390.8,465.7 376.1,678.7 380.1,679.6" fill="#0000cc" stroke="#0000cc" stroke-width="0.4"/><polygon points="390.8,465.7 406,679.6 410.1,678.8" fill="#0000f8" stroke="#0000f8" stroke-width="0.4"/><polygon points="390.8,465.7 380.1,679.6 384.3,680.2" fill="#0000d9" stroke="#0000d9" stroke-width="0.4"/><polygon points="390.8,465.7 401.7,680.2 406,679.6" fill="#0000f6" stroke="#0000f6" stroke-width="0.4"/><polygon points="390.8,465.7 384.3,680.2 388.6,680.6" fill="#0000e8" stroke="#0000e8" stroke-width="0.4"/><polygon points="390.8,465.7 397.3,680.6 401.7,680.2" fill="#0000f5" stroke="#0000f5" stroke-width="0.4"/><polygon points="390.8,465.7 388.6,680.6 392.9,680.7" fill="#0000f3" stroke="#0000f3" stroke-width="0.4"/><polygon points="390.8,465.7 392.9,680.7 397.3,680.6" fill="#0000f5" stroke="#0000f5" stroke-width="0.4"/></g>
<g><polygon points="706.8,681.4 707.2,679.1 708,676.8 709.3,674.7 711,672.6 713.2,670.7 715.7,668.9 718.6,667.3 721.8,665.9 725.2,664.7 728.9,663.6 732.9,662.8 737,662.2 741.2,661.9 745.5,661.8 749.9,661.9 754.2,662.3 758.5,662.9 762.6,663.7 766.7,664.8 770.5,666 774.1,667.5 777.5,669.1 780.5,670.9 783.2,672.8 785.6,674.9 787.5,677 789,679.3 790.1,681.6 790.8,683.9 791,686.3 790.7,688.6 790,690.9 788.8,693.1 787.1,695.2 785,697.2 782.6,699 779.7,700.7 776.5,702.2 773,703.5 769.2,704.6 765.2,705.4 761,706 756.6,706.4 752.2,706.5 747.7,706.4 743.2,706 738.8,705.4 734.6,704.5 730.4,703.4 726.5,702.1 722.9,700.5 719.5,698.9 716.5,697 713.8,695 711.6,692.9 709.7,690.6 708.3,688.4 707.3,686 706.8,683.7" fill="#f48006" stroke="#974f04" stroke-width="0.9" stroke-linejoin="round"/><polygon points="748.8,683.8 745.5,661.8 741.2,661.9" fill="#eb7b06" stroke="#eb7b06" stroke-width="0.4"/><polygon points="748.8,683.8 749.9,661.9 745.5,661.8" fill="#e67806" stroke="#e67806" stroke-width="0.4"/><polygon points="748.8,683.8 741.2,661.9 737,662.2" fill="#f07e06" stroke="#f07e06" stroke-width="0.4"/><polygon points="748.8,683.8 754.2,662.3 749.9,661.9" fill="#df7505" stroke="#df7505" stroke-width="0.4"/><polygon points="748.8,683.8 737,662.2 732.9,662.8" fill="#f37f06" stroke="#f37f06" stroke-width="0.4"/><polygon points="748.8,683.8 758.5,662.9 754.2,662.3" fill="#d97205" stroke="#d97205" stroke-width="0.4"/><polygon points="748.8,683.8 762.6,663.7 758.5,662.9" fill="#d46f05" stroke="#d46f05" stroke-width="0.4"/><polygon points="748.8,683.8 766.7,664.8 762.6,663.7" fill="#d06d05" stroke="#d06d05" stroke-width="0.4"/><polygon points="748.8,683.8 770.5,666 766.7,664.8" fill="#ce6c05" stroke="#ce6c05" stroke-width="0.4"/><polygon points="748.8,683.8 774.1,667.5 770.5,666" fill="#cd6c05" stroke="#cd6c05" stroke-width="0.4"/><polygon points="748.8,683.8 777.5,669.1 774.1,667.5" fill="#ce6c05" stroke="#ce6c05" stroke-width="0.4"/><polygon points="748.8,683.8 780.5,670.9 777.5,669.1" fill="#d16e05" stroke="#d16e05" stroke-width="0.4"/><polygon points="748.8,683.8 783.2,672.8 780.5,670.9" fill="#d67005" stroke="#d67005" stroke-width="0.4"/><polygon points="748.8,683.8 785.6,674.9 783.2,672.8" fill="#db7305" stroke="#db7305" stroke-width="0.4"/><polygon points="748.8,683.8 787.5,677 785.6,674.9" fill="#e27606" stroke="#e27606" stroke-width="0.4"/><polygon points="748.8,683.8 789.1,679.3 787.5,677" fill="#e77906" stroke="#e77906" stroke-width="0.4"/><polygon points="748.8,683.8 790.1,681.6 789.1,679.3" fill="#ed7c06" stroke="#ed7c06" stroke-width="0.4"/><polygon points="748.8,683.8 790.8,683.9 790.1,681.6" fill="#f17e06" stroke="#f17e06" stroke-width="0.4"/><polygon points="748.8,683.8 706.8,683.7 707.3,686.1" fill="#f68106" stroke="#f68106" stroke-width="0.4"/><polygon points="748.8,683.8 791,686.3 790.8,683.9" fill="#f38006" stroke="#f38006" stroke-width="0.4"/><polygon points="748.8,683.8 707.3,686.1 708.3,688.4" fill="#f98306" stroke="#f98306" stroke-width="0.4"/><polygon points="748.8,683.8 708.3,688.4 709.7,690.7" fill="#fb8406" stroke="#fb8406" stroke-width="0.4"/><polygon points="748.8,683.8 709.7,690.7 711.6,692.9" fill="#f68106" stroke="#f68106" stroke-width="0.4"/><polygon points="748.8,683.8 711.6,692.9 713.8,695" fill="#e87a06" stroke="#e87a06" stroke-width="0.4"/><polygon points="748.8,683.8 713.8,695 716.5,697" fill="#d77105" stroke="#d77105" stroke-width="0.4"/><polygon points="748.8,683.8 785.1,697.2 787.1,695.2" fill="#f37f06" stroke="#f37f06" stroke-width="0.4"/><polygon points="748.8,683.8 716.5,697 719.5,698.8" fill="#c96905" stroke="#c96905" stroke-width="0.4"/><polygon points="748.8,683.8 782.6,699 785.1,697.2" fill="#ef7d06" stroke="#ef7d06" stroke-width="0.4"/><polygon points="748.8,683.8 719.5,698.8 722.9,700.5" fill="#be6405" stroke="#be6405" stroke-width="0.4"/><polygon points="748.8,683.8 779.7,700.7 782.6,699" fill="#eb7b06" stroke="#eb7b06" stroke-width="0.4"/><polygon points="748.8,683.8 722.9,700.5 726.5,702.1" fill="#ba6105" stroke="#ba6105" stroke-width="0.4"/><polygon points="748.8,683.8 776.5,702.2 779.7,700.7" fill="#e87a06" stroke="#e87a06" stroke-width="0.4"/><polygon points="748.8,683.8 726.5,702.1 730.4,703.4" fill="#bc6305" stroke="#bc6305" stroke-width="0.4"/><polygon points="748.8,683.8 773,703.5 776.5,702.2" fill="#e97a06" stroke="#e97a06" stroke-width="0.4"/><polygon points="748.8,683.8 730.4,703.4 734.6,704.5" fill="#c56705" stroke="#c56705" stroke-width="0.4"/><polygon points="748.8,683.8 769.2,704.6 773,703.5" fill="#ec7c06" stroke="#ec7c06" stroke-width="0.4"/><polygon points="748.8,683.8 734.6,704.5 738.8,705.4" fill="#d26e05" stroke="#d26e05" stroke-width="0.4"/><polygon points="748.8,683.8 765.2,705.4 769.2,704.6" fill="#f07e06" stroke="#f07e06" stroke-width="0.4"/><polygon points="748.8,683.8 738.8,705.4 743.2,706" fill="#e07606" stroke="#e07606" stroke-width="0.4"/><polygon points="748.8,683.8 743.2,706 747.7,706.4" fill="#ec7c06" stroke="#ec7c06" stroke-width="0.4"/><polygon points="748.8,683.8 747.7,706.4 752.2,706.5" fill="#f38006" stroke="#f38006" stroke-width="0.4"/></g>
<line x1="712.2" y1="673" x2="786" y2="694.8" stroke="#cdbfae" stroke-width="1.1" opacity="0.6"/>
<line x1="748.8" y1="683.8" x2="731" y2="702.8" stroke="#cdbfae" stroke-width="1.1" opacity="0.6"/>
<g><polygon points="446.1,687.9 446.5,685.5 487.6,440.8 530.1,685.8 530.4,688.1 530.1,690.5 529.4,692.8 528.3,695.1 526.7,697.3 524.7,699.4 522.3,701.4 519.4,703.3 516.3,705 512.8,706.5 509,707.8 505,708.9 500.9,709.7 496.5,710.4 492.1,710.7 487.6,710.8 483.1,710.7 478.7,710.3 474.4,709.7 470.3,708.8 466.4,707.7 462.7,706.4 459.3,704.8 456.2,703.1 453.5,701.2 451.2,699.2 449.3,697.1 447.8,694.9 446.8,692.6 446.2,690.2" fill="#f60000" stroke="#990000" stroke-width="0.9" stroke-linejoin="round"/><polygon points="487.6,440.8 446.1,687.9 446.2,690.2" fill="#f50000" stroke="#f50000" stroke-width="0.4"/><polygon points="487.6,440.8 446.2,690.2 446.8,692.6" fill="#ed0000" stroke="#ed0000" stroke-width="0.4"/><polygon points="487.6,440.8 446.8,692.6 447.8,694.9" fill="#e30000" stroke="#e30000" stroke-width="0.4"/><polygon points="487.6,440.8 447.8,694.9 449.3,697.1" fill="#de0000" stroke="#de0000" stroke-width="0.4"/><polygon points="487.6,440.8 449.3,697.1 451.2,699.2" fill="#e00000" stroke="#e00000" stroke-width="0.4"/><polygon points="487.6,440.8 451.2,699.2 453.5,701.3" fill="#ea0000" stroke="#ea0000" stroke-width="0.4"/><polygon points="487.6,440.8 453.5,701.3 456.2,703.1" fill="#ea0000" stroke="#ea0000" stroke-width="0.4"/><polygon points="487.6,440.8 456.2,703.1 459.3,704.8" fill="#db0000" stroke="#db0000" stroke-width="0.4"/><polygon points="487.6,440.8 459.3,704.8 462.7,706.4" fill="#c60000" stroke="#c60000" stroke-width="0.4"/><polygon points="487.6,440.8 462.7,706.4 466.4,707.7" fill="#b60000" stroke="#b60000" stroke-width="0.4"/><polygon points="487.6,440.8 466.4,707.7 470.3,708.8" fill="#b10000" stroke="#b10000" stroke-width="0.4"/><polygon points="487.6,440.8 505,708.9 509,707.8" fill="#f40000" stroke="#f40000" stroke-width="0.4"/><polygon points="487.6,440.8 470.3,708.8 474.4,709.7" fill="#ba0000" stroke="#ba0000" stroke-width="0.4"/><polygon points="487.6,440.8 500.9,709.7 505,708.9" fill="#f20000" stroke="#f20000" stroke-width="0.4"/><polygon points="487.6,440.8 474.4,709.7 478.7,710.3" fill="#cb0000" stroke="#cb0000" stroke-width="0.4"/><polygon points="487.6,440.8 496.5,710.4 500.9,709.7" fill="#f00000" stroke="#f00000" stroke-width="0.4"/><polygon points="487.6,440.8 478.7,710.3 483.2,710.7" fill="#de0000" stroke="#de0000" stroke-width="0.4"/><polygon points="487.6,440.8 492.1,710.7 496.5,710.4" fill="#ef0000" stroke="#ef0000" stroke-width="0.4"/><polygon points="487.6,440.8 483.2,710.7 487.6,710.8" fill="#ec0000" stroke="#ec0000" stroke-width="0.4"/><polygon points="487.6,440.8 487.6,710.8 492.1,710.7" fill="#ef0000" stroke="#ef0000" stroke-width="0.4"/></g>
<g><polygon points="183.6,694.5 183.9,692.1 215,495.8 268.3,687.6 268.5,690 268.4,692.3 267.7,694.7 266.6,697 265.1,699.3 263.1,701.6 260.6,703.7 257.9,705.7 254.7,707.6 251.2,709.3 247.5,710.8 243.5,712.1 239.3,713.2 234.9,714.1 230.4,714.7 225.9,715.1 221.4,715.2 217,715 212.6,714.6 208.4,714 204.4,713.1 200.7,712 197.2,710.7 194.1,709.1 191.3,707.4 188.9,705.5 187,703.5 185.4,701.4 184.3,699.1 183.7,696.8" fill="#00fafa" stroke="#009b9b" stroke-width="0.9" stroke-linejoin="round"/><polygon points="215,495.8 183.9,692.1 183.6,694.5" fill="#00f9f9" stroke="#00f9f9" stroke-width="0.4"/><polygon points="215,495.8 183.6,694.5 183.7,696.8" fill="#00f6f6" stroke="#00f6f6" stroke-width="0.4"/><polygon points="215,495.8 183.7,696.8 184.4,699.1" fill="#00f0f0" stroke="#00f0f0" stroke-width="0.4"/><polygon points="215,495.8 184.4,699.1 185.4,701.4" fill="#00eeee" stroke="#00eeee" stroke-width="0.4"/><polygon points="215,495.8 185.4,701.4 187,703.5" fill="#00efef" stroke="#00efef" stroke-width="0.4"/><polygon points="215,495.8 187,703.5 188.9,705.5" fill="#00f4f4" stroke="#00f4f4" stroke-width="0.4"/><polygon points="215,495.8 188.9,705.5 191.3,707.4" fill="#00f4f4" stroke="#00f4f4" stroke-width="0.4"/><polygon points="215,495.8 191.3,707.4 194.1,709.1" fill="#00eded" stroke="#00eded" stroke-width="0.4"/><polygon points="215,495.8 194.1,709.1 197.2,710.7" fill="#00e3e3" stroke="#00e3e3" stroke-width="0.4"/><polygon points="215,495.8 197.2,710.7 200.7,712" fill="#00dcdc" stroke="#00dcdc" stroke-width="0.4"/><polygon points="215,495.8 200.7,712 204.4,713.1" fill="#00dada" stroke="#00dada" stroke-width="0.4"/><polygon points="215,495.8 239.3,713.2 243.5,712.1" fill="#00f8f8" stroke="#00f8f8" stroke-width="0.4"/><polygon points="215,495.8 204.4,713.1 208.4,714" fill="#00dede" stroke="#00dede" stroke-width="0.4"/><polygon points="215,495.8 234.9,714.1 239.3,713.2" fill="#00f6f6" stroke="#00f6f6" stroke-width="0.4"/><polygon points="215,495.8 208.4,714 212.6,714.7" fill="#00e5e5" stroke="#00e5e5" stroke-width="0.4"/><polygon points="215,495.8 230.5,714.7 234.9,714.1" fill="#00f4f4" stroke="#00f4f4" stroke-width="0.4"/><polygon points="215,495.8 212.6,714.7 217,715" fill="#00eded" stroke="#00eded" stroke-width="0.4"/><polygon points="215,495.8 225.9,715.1 230.5,714.7" fill="#00f3f3" stroke="#00f3f3" stroke-width="0.4"/><polygon points="215,495.8 217,715 221.4,715.2" fill="#00f2f2" stroke="#00f2f2" stroke-width="0.4"/><polygon points="215,495.8 221.4,715.2 225.9,715.1" fill="#00f3f3" stroke="#00f3f3" stroke-width="0.4"/></g>
<g><polygon points="542.4,718.3 542.6,715.9 543.3,713.5 587.1,620.7 627.1,713.7 627.9,716.1 628.3,718.6 628.3,721 627.7,723.5 626.7,725.8 625.2,728.1 623.3,730.4 621,732.4 618.2,734.4 615.1,736.1 611.6,737.7 607.9,739.1 603.9,740.2 599.7,741.1 595.3,741.7 590.8,742.1 586.2,742.2 581.7,742.1 577.1,741.7 572.7,741 568.4,740.1 564.3,739 560.5,737.6 556.9,736 553.7,734.2 550.8,732.3 548.3,730.2 546.2,727.9 544.5,725.6 543.4,723.2 542.6,720.8" fill="#00f800" stroke="#009a00" stroke-width="0.9" stroke-linejoin="round"/><polygon points="587.1,620.7 542.4,718.3 542.6,720.8" fill="#00f700" stroke="#00f700" stroke-width="0.4"/><polygon points="587.1,620.7 542.6,720.8 543.4,723.2" fill="#00f200" stroke="#00f200" stroke-width="0.4"/><polygon points="587.1,620.7 543.4,723.2 544.6,725.6" fill="#00eb00" stroke="#00eb00" stroke-width="0.4"/><polygon points="587.1,620.7 544.6,725.6 546.2,727.9" fill="#00e700" stroke="#00e700" stroke-width="0.4"/><polygon points="587.1,620.7 546.2,727.9 548.3,730.2" fill="#00e900" stroke="#00e900" stroke-width="0.4"/><polygon points="587.1,620.7 548.3,730.2 550.8,732.3" fill="#00ef00" stroke="#00ef00" stroke-width="0.4"/><polygon points="587.1,620.7 550.8,732.3 553.7,734.2" fill="#00f000" stroke="#00f000" stroke-width="0.4"/><polygon points="587.1,620.7 553.7,734.2 556.9,736" fill="#00e400" stroke="#00e400" stroke-width="0.4"/><polygon points="587.1,620.7 556.9,736 560.5,737.6" fill="#00d500" stroke="#00d500" stroke-width="0.4"/><polygon points="587.1,620.7 560.5,737.6 564.3,739" fill="#00ca00" stroke="#00ca00" stroke-width="0.4"/><polygon points="587.1,620.7 564.3,739 568.4,740.1" fill="#00c700" stroke="#00c700" stroke-width="0.4"/><polygon points="587.1,620.7 603.9,740.2 607.9,739.1" fill="#00f600" stroke="#00f600" stroke-width="0.4"/><polygon points="587.1,620.7 568.4,740.1 572.7,741" fill="#00cd00" stroke="#00cd00" stroke-width="0.4"/><polygon points="587.1,620.7 599.7,741.1 603.9,740.2" fill="#00f400" stroke="#00f400" stroke-width="0.4"/><polygon points="587.1,620.7 572.7,741 577.1,741.7" fill="#00d900" stroke="#00d900" stroke-width="0.4"/><polygon points="587.1,620.7 595.3,741.7 599.7,741.1" fill="#00f200" stroke="#00f200" stroke-width="0.4"/><polygon points="587.1,620.7 577.1,741.7 581.7,742.1" fill="#00e600" stroke="#00e600" stroke-width="0.4"/><polygon points="587.1,620.7 590.8,742.1 595.3,741.7" fill="#00f100" stroke="#00f100" stroke-width="0.4"/><polygon points="587.1,620.7 581.7,742.1 586.2,742.2" fill="#00ef00" stroke="#00ef00" stroke-width="0.4"/><polygon points="587.1,620.7 586.2,742.2 590.8,742.1" fill="#00f100" stroke="#00f100" stroke-width="0.4"/></g>
<g><polygon points="274.9,725.2 275,722.7 311.5,549.2 360.8,718.1 361.3,720.5 361.2,723 360.7,725.4 359.7,727.9 358.3,730.3 356.4,732.6 354.1,734.8 351.4,736.9 348.3,738.9 344.8,740.6 341.1,742.2 337.1,743.6 332.9,744.7 328.5,745.6 324,746.3 319.4,746.7 314.8,746.8 310.2,746.6 305.8,746.2 301.4,745.6 297.3,744.6 293.4,743.5 289.8,742.1 286.5,740.5 283.6,738.7 281,736.7 278.9,734.6 277.2,732.4 275.9,730 275.2,727.6" fill="#0000fc" stroke="#00009c" stroke-width="0.9" stroke-linejoin="round"/><polygon points="311.5,549.2 275,722.7 274.9,725.2" fill="#0000fb" stroke="#0000fb" stroke-width="0.4"/><polygon points="311.5,549.2 274.9,725.2 275.2,727.6" fill="#0000f3" stroke="#0000f3" stroke-width="0.4"/><polygon points="311.5,549.2 275.2,727.6 275.9,730.1" fill="#0000e9" stroke="#0000e9" stroke-width="0.4"/><polygon points="311.5,549.2 275.9,730.1 277.2,732.4" fill="#0000e3" stroke="#0000e3" stroke-width="0.4"/><polygon points="311.5,549.2 277.2,732.4 278.9,734.6" fill="#0000e6" stroke="#0000e6" stroke-width="0.4"/><polygon points="311.5,549.2 278.9,734.6 281,736.7" fill="#0000ef" stroke="#0000ef" stroke-width="0.4"/><polygon points="311.5,549.2 281,736.7 283.5,738.7" fill="#0000f2" stroke="#0000f2" stroke-width="0.4"/><polygon points="311.5,549.2 283.5,738.7 286.5,740.5" fill="#0000e6" stroke="#0000e6" stroke-width="0.4"/><polygon points="311.5,549.2 286.5,740.5 289.8,742.1" fill="#0000d5" stroke="#0000d5" stroke-width="0.4"/><polygon points="311.5,549.2 289.8,742.1 293.4,743.5" fill="#0000c8" stroke="#0000c8" stroke-width="0.4"/><polygon points="311.5,549.2 293.4,743.5 297.3,744.6" fill="#0000c5" stroke="#0000c5" stroke-width="0.4"/><polygon points="311.5,549.2 332.9,744.7 337.1,743.6" fill="#0000fa" stroke="#0000fa" stroke-width="0.4"/><polygon points="311.5,549.2 297.3,744.6 301.4,745.6" fill="#0000cc" stroke="#0000cc" stroke-width="0.4"/><polygon points="311.5,549.2 328.5,745.6 332.9,744.7" fill="#0000f8" stroke="#0000f8" stroke-width="0.4"/><polygon points="311.5,549.2 301.4,745.6 305.8,746.2" fill="#0000d9" stroke="#0000d9" stroke-width="0.4"/><polygon points="311.5,549.2 324,746.3 328.5,745.6" fill="#0000f6" stroke="#0000f6" stroke-width="0.4"/><polygon points="311.5,549.2 305.8,746.2 310.2,746.6" fill="#0000e8" stroke="#0000e8" stroke-width="0.4"/><polygon points="311.5,549.2 319.4,746.7 324,746.3" fill="#0000f5" stroke="#0000f5" stroke-width="0.4"/><polygon points="311.5,549.2 310.2,746.6 314.8,746.8" fill="#0000f3" stroke="#0000f3" stroke-width="0.4"/><polygon points="311.5,549.2 314.8,746.8 319.4,746.7" fill="#0000f5" stroke="#0000f5" stroke-width="0.4"/></g>
<g><polygon points="642.6,750.1 642.7,747.5 643.2,745 644.2,742.6 645.7,740.2 647.6,738 649.9,735.9 652.6,733.9 655.7,732.2 659.1,730.6 662.8,729.3 666.7,728.1 670.8,727.3 675.1,726.6 679.6,726.3 684.1,726.1 688.6,726.3 693.1,726.7 697.5,727.4 701.9,728.2 706,729.4 710,730.8 713.7,732.3 717.1,734.1 720.2,736.1 723,738.2 725.4,740.4 727.3,742.8 728.8,745.2 729.8,747.8 730.4,750.3 730.5,752.9 730.1,755.4 729.2,757.9 727.9,760.3 726.1,762.6 723.9,764.8 721.2,766.8 718.1,768.6 714.7,770.3 711,771.7 707,772.9 702.7,773.8 698.3,774.5 693.7,774.9 689.1,775 684.4,774.9 679.7,774.4 675.2,773.7 670.7,772.8 666.5,771.6 662.4,770.1 658.7,768.5 655.2,766.6 652.2,764.6 649.5,762.4 647.2,760.1 645.4,757.7 644,755.2 643.1,752.6" fill="#f48006" stroke="#974f04" stroke-width="0.9" stroke-linejoin="round"/><polygon points="686.5,750.2 684.1,726.2 679.6,726.3" fill="#eb7b06" stroke="#eb7b06" stroke-width="0.4"/><polygon points="686.5,750.2 688.6,726.3 684.1,726.2" fill="#e67806" stroke="#e67806" stroke-width="0.4"/><polygon points="686.5,750.2 679.6,726.3 675.1,726.6" fill="#f07e06" stroke="#f07e06" stroke-width="0.4"/><polygon points="686.5,750.2 693.1,726.7 688.6,726.3" fill="#df7505" stroke="#df7505" stroke-width="0.4"/><polygon points="686.5,750.2 675.1,726.6 670.8,727.3" fill="#f37f06" stroke="#f37f06" stroke-width="0.4"/><polygon points="686.5,750.2 697.6,727.3 693.1,726.7" fill="#d97205" stroke="#d97205" stroke-width="0.4"/><polygon points="686.5,750.2 701.9,728.2 697.6,727.3" fill="#d46f05" stroke="#d46f05" stroke-width="0.4"/><polygon points="686.5,750.2 706,729.4 701.9,728.2" fill="#d06d05" stroke="#d06d05" stroke-width="0.4"/><polygon points="686.5,750.2 710,730.8 706,729.4" fill="#ce6c05" stroke="#ce6c05" stroke-width="0.4"/><polygon points="686.5,750.2 713.7,732.3 710,730.8" fill="#cd6c05" stroke="#cd6c05" stroke-width="0.4"/><polygon points="686.5,750.2 717.1,734.1 713.7,732.3" fill="#ce6c05" stroke="#ce6c05" stroke-width="0.4"/><polygon points="686.5,750.2 720.3,736.1 717.1,734.1" fill="#d16e05" stroke="#d16e05" stroke-width="0.4"/><polygon points="686.5,750.2 723,738.2 720.3,736.1" fill="#d67005" stroke="#d67005" stroke-width="0.4"/><polygon points="686.5,750.2 725.4,740.4 723,738.2" fill="#db7305" stroke="#db7305" stroke-width="0.4"/><polygon points="686.5,750.2 727.3,742.8 725.4,740.4" fill="#e27606" stroke="#e27606" stroke-width="0.4"/><polygon points="686.5,750.2 728.8,745.2 727.3,742.8" fill="#e77906" stroke="#e77906" stroke-width="0.4"/><polygon points="686.5,750.2 729.8,747.8 728.8,745.2" fill="#ed7c06" stroke="#ed7c06" stroke-width="0.4"/><polygon points="686.5,750.2 730.4,750.3 729.8,747.8" fill="#f17e06" stroke="#f17e06" stroke-width="0.4"/><polygon points="686.5,750.2 642.6,750.1 643.1,752.6" fill="#f68106" stroke="#f68106" stroke-width="0.4"/><polygon points="686.5,750.2 730.5,752.9 730.4,750.3" fill="#f38006" stroke="#f38006" stroke-width="0.4"/><polygon points="686.5,750.2 643.1,752.6 644,755.2" fill="#f98306" stroke="#f98306" stroke-width="0.4"/><polygon points="686.5,750.2 644,755.2 645.4,757.7" fill="#fb8406" stroke="#fb8406" stroke-width="0.4"/><polygon points="686.5,750.2 645.4,757.7 647.2,760.1" fill="#f68106" stroke="#f68106" stroke-width="0.4"/><polygon points="686.5,750.2 647.2,760.1 649.5,762.4" fill="#e87a06" stroke="#e87a06" stroke-width="0.4"/><polygon points="686.5,750.2 649.5,762.4 652.2,764.6" fill="#d77105" stroke="#d77105" stroke-width="0.4"/><polygon points="686.5,750.2 723.8,764.8 726.1,762.6" fill="#f37f06" stroke="#f37f06" stroke-width="0.4"/><polygon points="686.5,750.2 652.2,764.6 655.3,766.6" fill="#c96905" stroke="#c96905" stroke-width="0.4"/><polygon points="686.5,750.2 721.2,766.8 723.8,764.8" fill="#ef7d06" stroke="#ef7d06" stroke-width="0.4"/><polygon points="686.5,750.2 655.3,766.6 658.7,768.5" fill="#be6405" stroke="#be6405" stroke-width="0.4"/><polygon points="686.5,750.2 718.1,768.6 721.2,766.8" fill="#eb7b06" stroke="#eb7b06" stroke-width="0.4"/><polygon points="686.5,750.2 658.7,768.5 662.4,770.1" fill="#ba6105" stroke="#ba6105" stroke-width="0.4"/><polygon points="686.5,750.2 714.7,770.3 718.1,768.6" fill="#e87a06" stroke="#e87a06" stroke-width="0.4"/><polygon points="686.5,750.2 662.4,770.1 666.5,771.6" fill="#bc6305" stroke="#bc6305" stroke-width="0.4"/><polygon points="686.5,750.2 711,771.7 714.7,770.3" fill="#e97a06" stroke="#e97a06" stroke-width="0.4"/><polygon points="686.5,750.2 666.5,771.6 670.7,772.8" fill="#c56705" stroke="#c56705" stroke-width="0.4"/><polygon points="686.5,750.2 707,772.9 711,771.7" fill="#ec7c06" stroke="#ec7c06" stroke-width="0.4"/><polygon points="686.5,750.2 670.7,772.8 675.2,773.7" fill="#d26e05" stroke="#d26e05" stroke-width="0.4"/><polygon points="686.5,750.2 702.7,773.8 707,772.9" fill="#f07e06" stroke="#f07e06" stroke-width="0.4"/><polygon points="686.5,750.2 675.2,773.7 679.7,774.4" fill="#e07606" stroke="#e07606" stroke-width="0.4"/><polygon points="686.5,750.2 679.7,774.4 684.4,774.8" fill="#ec7c06" stroke="#ec7c06" stroke-width="0.4"/><polygon points="686.5,750.2 684.4,774.8 689.1,775" fill="#f38006" stroke="#f38006" stroke-width="0.4"/></g>
<line x1="648.7" y1="738.3" x2="724.9" y2="762.2" stroke="#cdbfae" stroke-width="1.1" opacity="0.6"/>
<line x1="686.5" y1="750.2" x2="667.1" y2="770.9" stroke="#cdbfae" stroke-width="1.1" opacity="0.6"/>
<g><polygon points="370,757.2 370,754.6 370.5,752.1 411.3,604.4 457.3,749.8 457.9,752.3 458,754.9 457.7,757.5 456.8,760 455.5,762.5 453.7,764.9 451.5,767.3 448.9,769.4 445.8,771.5 442.4,773.3 438.7,775 434.7,776.4 430.5,777.6 426,778.5 421.5,779.2 416.8,779.6 412.1,779.7 407.5,779.6 402.9,779.1 398.4,778.5 394.1,777.5 390.1,776.3 386.3,774.8 382.8,773.2 379.7,771.3 377,769.2 374.7,767 372.8,764.7 371.4,762.3 370.4,759.8" fill="#f60000" stroke="#990000" stroke-width="0.9" stroke-linejoin="round"/><polygon points="411.3,604.4 370,754.7 370,757.2" fill="#f50000" stroke="#f50000" stroke-width="0.4"/><polygon points="411.3,604.4 370,757.2 370.4,759.8" fill="#ed0000" stroke="#ed0000" stroke-width="0.4"/><polygon points="411.3,604.4 370.4,759.8 371.4,762.3" fill="#e30000" stroke="#e30000" stroke-width="0.4"/><polygon points="411.3,604.4 371.4,762.3 372.8,764.7" fill="#de0000" stroke="#de0000" stroke-width="0.4"/><polygon points="411.3,604.4 372.8,764.7 374.7,767" fill="#e00000" stroke="#e00000" stroke-width="0.4"/><polygon points="411.3,604.4 374.7,767 377,769.2" fill="#ea0000" stroke="#ea0000" stroke-width="0.4"/><polygon points="411.3,604.4 377,769.2 379.7,771.3" fill="#ea0000" stroke="#ea0000" stroke-width="0.4"/><polygon points="411.3,604.4 379.7,771.3 382.8,773.2" fill="#db0000" stroke="#db0000" stroke-width="0.4"/><polygon points="411.3,604.4 382.8,773.2 386.3,774.8" fill="#c60000" stroke="#c60000" stroke-width="0.4"/><polygon points="411.3,604.4 386.3,774.8 390.1,776.3" fill="#b60000" stroke="#b60000" stroke-width="0.4"/><polygon points="411.3,604.4 390.1,776.3 394.1,777.5" fill="#b10000" stroke="#b10000" stroke-width="0.4"/><polygon points="411.3,604.4 430.5,777.6 434.7,776.4" fill="#f40000" stroke="#f40000" stroke-width="0.4"/><polygon points="411.3,604.4 394.1,777.5 398.4,778.5" fill="#ba0000" stroke="#ba0000" stroke-width="0.4"/><polygon points="411.3,604.4 426,778.5 430.5,777.6" fill="#f20000" stroke="#f20000" stroke-width="0.4"/><polygon points="411.3,604.4 398.4,778.5 402.9,779.2" fill="#cb0000" stroke="#cb0000" stroke-width="0.4"/><polygon points="411.3,604.4 421.5,779.2 426,778.5" fill="#f00000" stroke="#f00000" stroke-width="0.4"/><polygon points="411.3,604.4 402.9,779.2 407.5,779.6" fill="#de0000" stroke="#de0000" stroke-width="0.4"/><polygon points="411.3,604.4 416.8,779.6 421.5,779.2" fill="#ef0000" stroke="#ef0000" stroke-width="0.4"/><polygon points="411.3,604.4 407.5,779.6 412.1,779.7" fill="#ec0000" stroke="#ec0000" stroke-width="0.4"/><polygon points="411.3,604.4 412.1,779.7 416.8,779.6" fill="#ef0000" stroke="#ef0000" stroke-width="0.4"/></g>
<g><polygon points="469,787.9 469.4,785.3 470.2,782.6 471.5,780.1 473.3,777.6 475.5,775.2 514.1,737.8 552.8,775.5 554.9,777.8 556.6,780.3 557.9,782.9 558.7,785.5 559,788.2 558.8,790.9 558.1,793.5 556.9,796.1 555.2,798.7 553.1,801.1 550.6,803.4 547.6,805.5 544.3,807.4 540.6,809.1 536.6,810.6 532.3,811.9 527.9,812.9 523.2,813.6 518.5,814 513.8,814.1 509,814 504.2,813.5 499.6,812.8 495.2,811.8 491,810.5 487,809 483.4,807.3 480.1,805.3 477.1,803.2 474.6,800.9 472.6,798.5 470.9,795.9 469.8,793.3 469.2,790.6" fill="#00f800" stroke="#009a00" stroke-width="0.9" stroke-linejoin="round"/><polygon points="514.1,737.8 469,787.9 469.2,790.6" fill="#00f700" stroke="#00f700" stroke-width="0.4"/><polygon points="514.1,737.8 469.2,790.6 469.8,793.3" fill="#00f200" stroke="#00f200" stroke-width="0.4"/><polygon points="514.1,737.8 469.8,793.3 470.9,795.9" fill="#00eb00" stroke="#00eb00" stroke-width="0.4"/><polygon points="514.1,737.8 470.9,795.9 472.6,798.4" fill="#00e700" stroke="#00e700" stroke-width="0.4"/><polygon points="514.1,737.8 472.6,798.4 474.6,800.9" fill="#00e900" stroke="#00e900" stroke-width="0.4"/><polygon points="514.1,737.8 474.6,800.9 477.1,803.2" fill="#00ef00" stroke="#00ef00" stroke-width="0.4"/><polygon points="514.1,737.8 477.1,803.2 480.1,805.3" fill="#00f000" stroke="#00f000" stroke-width="0.4"/><polygon points="514.1,737.8 480.1,805.3 483.4,807.3" fill="#00e400" stroke="#00e400" stroke-width="0.4"/><polygon points="514.1,737.8 483.4,807.3 487,809" fill="#00d500" stroke="#00d500" stroke-width="0.4"/><polygon points="514.1,737.8 487,809 491,810.5" fill="#00ca00" stroke="#00ca00" stroke-width="0.4"/><polygon points="514.1,737.8 491,810.5 495.2,811.8" fill="#00c700" stroke="#00c700" stroke-width="0.4"/><polygon points="514.1,737.8 532.3,811.9 536.6,810.6" fill="#00f600" stroke="#00f600" stroke-width="0.4"/><polygon points="514.1,737.8 495.2,811.8 499.6,812.8" fill="#00cd00" stroke="#00cd00" stroke-width="0.4"/><polygon points="514.1,737.8 527.9,812.9 532.3,811.9" fill="#00f400" stroke="#00f400" stroke-width="0.4"/><polygon points="514.1,737.8 499.6,812.8 504.3,813.5" fill="#00d900" stroke="#00d900" stroke-width="0.4"/><polygon points="514.1,737.8 523.3,813.6 527.9,812.9" fill="#00f200" stroke="#00f200" stroke-width="0.4"/><polygon points="514.1,737.8 504.3,813.5 509,814" fill="#00e600" stroke="#00e600" stroke-width="0.4"/><polygon points="514.1,737.8 518.5,814 523.3,813.6" fill="#00f100" stroke="#00f100" stroke-width="0.4"/><polygon points="514.1,737.8 509,814 513.7,814.1" fill="#00ef00" stroke="#00ef00" stroke-width="0.4"/><polygon points="514.1,737.8 513.7,814.1 518.5,814" fill="#00f100" stroke="#00f100" stroke-width="0.4"/></g>
<g><polygon points="572.4,822.7 572.6,819.9 573.3,817.1 574.5,814.5 576.1,811.9 578.2,809.4 580.7,807.1 583.6,805 586.9,803.1 590.5,801.4 594.5,799.9 598.6,798.7 603,797.7 607.6,797 612.2,796.6 616.9,796.5 621.7,796.6 626.4,797.1 631,797.8 635.5,798.8 639.8,800 643.9,801.5 647.7,803.2 651.2,805.2 654.3,807.3 657.1,809.7 659.5,812.1 661.4,814.7 662.9,817.4 663.9,820.2 664.3,823 664.3,825.8 663.8,828.5 662.8,831.3 661.3,833.9 659.3,836.4 656.8,838.8 653.9,841 650.6,843.1 647,844.9 643,846.4 638.7,847.7 634.2,848.7 629.6,849.5 624.8,849.9 619.9,850 615,849.9 610.1,849.4 605.4,848.7 600.8,847.6 596.4,846.3 592.2,844.7 588.4,842.9 584.9,840.8 581.7,838.6 579,836.2 576.7,833.7 574.9,831 573.6,828.3 572.8,825.5" fill="#f48006" stroke="#974f04" stroke-width="0.9" stroke-linejoin="round"/><polygon points="618.4,822.8 616.9,796.5 612.2,796.6" fill="#eb7b06" stroke="#eb7b06" stroke-width="0.4"/><polygon points="618.4,822.8 621.7,796.6 616.9,796.5" fill="#e67806" stroke="#e67806" stroke-width="0.4"/><polygon points="618.4,822.8 612.2,796.6 607.6,797" fill="#f07e06" stroke="#f07e06" stroke-width="0.4"/><polygon points="618.4,822.8 626.4,797.1 621.7,796.6" fill="#df7505" stroke="#df7505" stroke-width="0.4"/><polygon points="618.4,822.8 607.6,797 603,797.7" fill="#f37f06" stroke="#f37f06" stroke-width="0.4"/><polygon points="618.4,822.8 631,797.8 626.4,797.1" fill="#d97205" stroke="#d97205" stroke-width="0.4"/><polygon points="618.4,822.8 635.5,798.8 631,797.8" fill="#d46f05" stroke="#d46f05" stroke-width="0.4"/><polygon points="618.4,822.8 639.8,800 635.5,798.8" fill="#d06d05" stroke="#d06d05" stroke-width="0.4"/><polygon points="618.4,822.8 643.9,801.5 639.8,800" fill="#ce6c05" stroke="#ce6c05" stroke-width="0.4"/><polygon points="618.4,822.8 647.7,803.3 643.9,801.5" fill="#cd6c05" stroke="#cd6c05" stroke-width="0.4"/><polygon points="618.4,822.8 651.2,805.2 647.7,803.3" fill="#ce6c05" stroke="#ce6c05" stroke-width="0.4"/><polygon points="618.4,822.8 654.3,807.3 651.2,805.2" fill="#d16e05" stroke="#d16e05" stroke-width="0.4"/><polygon points="618.4,822.8 657.1,809.7 654.3,807.3" fill="#d67005" stroke="#d67005" stroke-width="0.4"/><polygon points="618.4,822.8 659.5,812.1 657.1,809.7" fill="#db7305" stroke="#db7305" stroke-width="0.4"/><polygon points="618.4,822.8 661.4,814.7 659.5,812.1" fill="#e27606" stroke="#e27606" stroke-width="0.4"/><polygon points="618.4,822.8 662.9,817.4 661.4,814.7" fill="#e77906" stroke="#e77906" stroke-width="0.4"/><polygon points="618.4,822.8 663.9,820.2 662.9,817.4" fill="#ed7c06" stroke="#ed7c06" stroke-width="0.4"/><polygon points="618.4,822.8 664.3,823 663.9,820.2" fill="#f17e06" stroke="#f17e06" stroke-width="0.4"/><polygon points="618.4,822.8 572.4,822.7 572.8,825.5" fill="#f68106" stroke="#f68106" stroke-width="0.4"/><polygon points="618.4,822.8 664.3,825.8 664.3,823" fill="#f38006" stroke="#f38006" stroke-width="0.4"/><polygon points="618.4,822.8 572.8,825.5 573.6,828.3" fill="#f98306" stroke="#f98306" stroke-width="0.4"/><polygon points="618.4,822.8 573.6,828.3 574.9,831" fill="#fb8406" stroke="#fb8406" stroke-width="0.4"/><polygon points="618.4,822.8 574.9,831 576.7,833.7" fill="#f68106" stroke="#f68106" stroke-width="0.4"/><polygon points="618.4,822.8 576.7,833.7 579,836.2" fill="#e87a06" stroke="#e87a06" stroke-width="0.4"/><polygon points="618.4,822.8 579,836.2 581.7,838.6" fill="#d77105" stroke="#d77105" stroke-width="0.4"/><polygon points="618.4,822.8 656.8,838.8 659.3,836.4" fill="#f37f06" stroke="#f37f06" stroke-width="0.4"/><polygon points="618.4,822.8 581.7,838.6 584.9,840.8" fill="#c96905" stroke="#c96905" stroke-width="0.4"/><polygon points="618.4,822.8 653.9,841 656.8,838.8" fill="#ef7d06" stroke="#ef7d06" stroke-width="0.4"/><polygon points="618.4,822.8 584.9,840.8 588.4,842.9" fill="#be6405" stroke="#be6405" stroke-width="0.4"/><polygon points="618.4,822.8 650.6,843.1 653.9,841" fill="#eb7b06" stroke="#eb7b06" stroke-width="0.4"/><polygon points="618.4,822.8 588.4,842.9 592.2,844.7" fill="#ba6105" stroke="#ba6105" stroke-width="0.4"/><polygon points="618.4,822.8 647,844.9 650.6,843.1" fill="#e87a06" stroke="#e87a06" stroke-width="0.4"/><polygon points="618.4,822.8 592.2,844.7 596.4,846.3" fill="#bc6305" stroke="#bc6305" stroke-width="0.4"/><polygon points="618.4,822.8 643,846.4 647,844.9" fill="#e97a06" stroke="#e97a06" stroke-width="0.4"/><polygon points="618.4,822.8 596.4,846.3 600.8,847.6" fill="#c56705" stroke="#c56705" stroke-width="0.4"/><polygon points="618.4,822.8 638.7,847.7 643,846.4" fill="#ec7c06" stroke="#ec7c06" stroke-width="0.4"/><polygon points="618.4,822.8 600.8,847.6 605.4,848.7" fill="#d26e05" stroke="#d26e05" stroke-width="0.4"/><polygon points="618.4,822.8 634.2,848.7 638.7,847.7" fill="#f07e06" stroke="#f07e06" stroke-width="0.4"/><polygon points="618.4,822.8 605.4,848.7 610.1,849.4" fill="#e07606" stroke="#e07606" stroke-width="0.4"/><polygon points="618.4,822.8 610.1,849.4 615,849.9" fill="#ec7c06" stroke="#ec7c06" stroke-width="0.4"/><polygon points="618.4,822.8 615,849.9 619.9,850.1" fill="#f38006" stroke="#f38006" stroke-width="0.4"/></g>
<line x1="579.4" y1="809.8" x2="658" y2="836" stroke="#cdbfae" stroke-width="1.1" opacity="0.6"/>
<line x1="618.4" y1="822.8" x2="597" y2="845.6" stroke="#cdbfae" stroke-width="1.1" opacity="0.6"/>
<line x1="434.6" y1="122.1" x2="447.6" y2="125.9" stroke="#262626" stroke-width="1.8"/>
<text x="441.1" y="121.6" class="v" font-size="20.0">17.03</text>
<line x1="526.3" y1="165.5" x2="539.5" y2="169.4" stroke="#262626" stroke-width="1.8"/>
<text x="532.9" y="165" class="v" font-size="20.3">16.03</text>
<line x1="620.8" y1="210.2" x2="634.2" y2="214.1" stroke="#262626" stroke-width="1.8"/>
<text x="627.5" y="209.7" class="v" font-size="20.7">15.03</text>
<line x1="362.6" y1="212.9" x2="376.1" y2="216.9" stroke="#262626" stroke-width="1.8"/>
<text x="369.4" y="212.4" class="v" font-size="20.7">15.03</text>
<line x1="712" y1="405.4" x2="725.3" y2="409.3" stroke="#262626" stroke-width="1.8"/>
<text x="718.6" y="404.9" class="v" font-size="20.4">8.03</text>
<line x1="456.3" y1="259.1" x2="470" y2="263.2" stroke="#262626" stroke-width="1.8"/>
<text x="463.2" y="258.6" class="v" font-size="21.0">14.03</text>
<line x1="799.4" y1="618.9" x2="812.4" y2="622.7" stroke="#262626" stroke-width="1.8"/>
<text x="805.9" y="619.5" class="v" font-size="20.0">0.00</text>
<line x1="552.7" y1="332.5" x2="566.5" y2="336.6" stroke="#262626" stroke-width="1.8"/>
<text x="559.6" y="332" class="v" font-size="21.3">12.03</text>
<line x1="287.8" y1="361.2" x2="301.6" y2="365.2" stroke="#262626" stroke-width="1.8"/>
<text x="294.7" y="360.7" class="v" font-size="21.2">11.03</text>
<line x1="648.2" y1="507.3" x2="661.9" y2="511.3" stroke="#262626" stroke-width="1.8"/>
<text x="655.1" y="506.8" class="v" font-size="21.1">6.03</text>
<line x1="383.9" y1="461.4" x2="397.7" y2="465.5" stroke="#262626" stroke-width="1.8"/>
<text x="390.8" y="460.9" class="v" font-size="21.3">8.03</text>
<line x1="742" y1="679.6" x2="755.6" y2="683.6" stroke="#262626" stroke-width="1.8"/>
<text x="748.8" y="680.3" class="v" font-size="20.9">0.00</text>
<line x1="480.5" y1="436.4" x2="494.8" y2="440.6" stroke="#262626" stroke-width="1.8"/>
<text x="487.6" y="435.8" class="v" font-size="22.0">10.03</text>
<line x1="207.9" y1="491.5" x2="222.1" y2="495.6" stroke="#262626" stroke-width="1.8"/>
<text x="215" y="490.9" class="v" font-size="21.9">8.03</text>
<line x1="580" y1="616.3" x2="594.2" y2="620.5" stroke="#262626" stroke-width="1.8"/>
<text x="587.1" y="615.8" class="v" font-size="21.8">4.03</text>
<line x1="304.3" y1="544.8" x2="318.8" y2="549" stroke="#262626" stroke-width="1.8"/>
<text x="311.5" y="544.3" class="v" font-size="22.2">7.03</text>
<line x1="679.4" y1="745.8" x2="693.6" y2="750" stroke="#262626" stroke-width="1.8"/>
<text x="686.5" y="746.5" class="v" font-size="21.8">0.00</text>
<line x1="403.9" y1="599.9" x2="418.6" y2="604.2" stroke="#262626" stroke-width="1.8"/>
<text x="411.3" y="599.3" class="v" font-size="22.6">6.03</text>
<line x1="506.8" y1="733.2" x2="521.5" y2="737.6" stroke="#262626" stroke-width="1.8"/>
<text x="514.1" y="732.7" class="v" font-size="22.6">2.03</text>
<line x1="611" y1="818.3" x2="625.8" y2="822.6" stroke="#262626" stroke-width="1.8"/>
<text x="618.4" y="818.9" class="v" font-size="22.8">0.00</text>
<g class="s"><text transform="matrix(0.2216 -0.1723 0.2212 0.1117 175.1 731.9)" x="0" y="28" font-size="100" text-anchor="end">Se-doped TiO2</text>
<text transform="matrix(0.2155 -0.1797 0.2329 0.1165 268.5 764.2)" x="0" y="28" font-size="100" text-anchor="end">Cu-doped TiO2</text>
<text transform="matrix(0.2086 -0.1876 0.2453 0.1216 366.0 798.0)" x="0" y="28" font-size="100" text-anchor="end">Zn-doped TiO2</text>
<text transform="matrix(0.2009 -0.1960 0.2587 0.1270 467.8 833.2)" x="0" y="28" font-size="100" text-anchor="end">Pure TiO2</text>
<text transform="matrix(0.1923 -0.2050 0.2731 0.1329 574.2 870.0)" x="0" y="28" font-size="100" text-anchor="end">Precursor</text>
<text transform="matrix(0.3298 0.1098 -0.1654 0.1881 692.0 847.3)" x="0" y="33" font-size="100" text-anchor="start">25</text>
<text transform="matrix(0.3189 0.1000 -0.1506 0.1713 757.8 772.5)" x="0" y="33" font-size="100" text-anchor="start">50</text>
<text transform="matrix(0.3086 0.0915 -0.1377 0.1567 817.8 704.3)" x="0" y="33" font-size="100" text-anchor="start">100</text>
<text transform="matrix(0.2989 0.0840 -0.1264 0.1438 872.8 641.7)" x="0" y="33" font-size="100" text-anchor="start">200</text>
<text transform="matrix(0.2599 0.0712 -0.0194 0.2403 898.6 612.4)" x="0" y="33" font-size="100" text-anchor="start">0</text>
<text transform="matrix(0.2666 0.0668 -0.0204 0.2518 908.0 496.4)" x="0" y="33" font-size="100" text-anchor="start">5</text>
<text transform="matrix(0.2735 0.0620 -0.0214 0.2641 917.8 374.7)" x="0" y="33" font-size="100" text-anchor="start">10</text>
<text transform="matrix(0.2808 0.0566 -0.0224 0.2773 928.1 247.1)" x="0" y="33" font-size="100" text-anchor="start">15</text>
<text transform="matrix(0.2886 0.0506 -0.0236 0.2916 939.0 113.0)" x="0" y="33" font-size="100" text-anchor="start">20</text>
<text transform="matrix(0.3329 0.1311 -0.1882 0.2166 197.9 955.4)" x="0" y="25" font-size="100" text-anchor="middle" class="i">Nanoparticles</text>
<text transform="matrix(0.1466 -0.1788 0.3415 0.1044 857.7 763.1)" x="0" y="25" font-size="100" text-anchor="middle">Concentration (µg/ml)</text>
<text transform="matrix(0.0278 -0.3024 0.3038 0.0375 973.9 378.7)" x="0" y="25" font-size="100" text-anchor="middle" class="i">Mean (Zone of Inhibition in mm)</text></g>
<rect x="26.2" y="89.5" width="314.1" height="125.9" fill="#00f400" stroke="#0c400c" stroke-width="1.6"/><text x="34" y="138.7" font-size="46" class="i t" textLength="298" lengthAdjust="spacingAndGlyphs">Botrytis cineria</text><text x="34" y="197.6" font-size="46" class="t" textLength="246" lengthAdjust="spacingAndGlyphs">MTCC 2104</text><text class="pl" transform="translate(9 56.3) scale(0.84 1)" font-size="56">a</text>
</g>
<g id="panel-b">
<line x1="1183.4" y1="607.6" x2="1465.6" y2="407" stroke="#a2a2a2" stroke-width="1.25"/>
<line x1="1465.6" y1="407" x2="1885.6" y2="516.4" stroke="#a2a2a2" stroke-width="1.25"/>
<line x1="1177.5" y1="529.4" x2="1464.5" y2="338" stroke="#a2a2a2" stroke-width="1.25"/>
<line x1="1464.5" y1="338" x2="1890.9" y2="442.7" stroke="#a2a2a2" stroke-width="1.25"/>
<line x1="1171.4" y1="448.6" x2="1463.5" y2="267.1" stroke="#a2a2a2" stroke-width="1.25"/>
<line x1="1463.5" y1="267.1" x2="1896.4" y2="366.6" stroke="#a2a2a2" stroke-width="1.25"/>
<line x1="1165.2" y1="365.1" x2="1462.4" y2="194.2" stroke="#a2a2a2" stroke-width="1.25"/>
<line x1="1462.4" y1="194.2" x2="1902.1" y2="288.2" stroke="#a2a2a2" stroke-width="1.25"/>
<line x1="1158.7" y1="278.6" x2="1461.3" y2="119.1" stroke="#a2a2a2" stroke-width="1.25"/>
<line x1="1461.3" y1="119.1" x2="1907.9" y2="207.2" stroke="#a2a2a2" stroke-width="1.25"/>
<line x1="1229" y1="653.1" x2="1196.9" y2="167.6" stroke="#a2a2a2" stroke-width="1.25"/>
<line x1="1229" y1="653.1" x2="1686.6" y2="805" stroke="#b0b0b0" stroke-width="1.3"/>
<line x1="1303.8" y1="596.7" x2="1280.6" y2="127.6" stroke="#a2a2a2" stroke-width="1.25"/>
<line x1="1303.8" y1="596.7" x2="1748.3" y2="735.9" stroke="#b0b0b0" stroke-width="1.3"/>
<line x1="1372.8" y1="544.7" x2="1357.1" y2="91" stroke="#a2a2a2" stroke-width="1.25"/>
<line x1="1372.8" y1="544.7" x2="1804.6" y2="672.9" stroke="#b0b0b0" stroke-width="1.3"/>
<line x1="1436.5" y1="496.7" x2="1427.3" y2="57.5" stroke="#a2a2a2" stroke-width="1.25"/>
<line x1="1436.5" y1="496.7" x2="1856.2" y2="615.1" stroke="#b0b0b0" stroke-width="1.3"/>
<line x1="1504.8" y1="484.6" x2="1501.8" y2="49.3" stroke="#a2a2a2" stroke-width="1.25"/>
<line x1="1231.4" y1="697.7" x2="1504.8" y2="484.6" stroke="#b0b0b0" stroke-width="1.3"/>
<line x1="1583.3" y1="506.2" x2="1587.4" y2="64.7" stroke="#a2a2a2" stroke-width="1.25"/>
<line x1="1318.5" y1="727.5" x2="1583.3" y2="506.2" stroke="#b0b0b0" stroke-width="1.3"/>
<line x1="1664.5" y1="528.5" x2="1676.3" y2="80.8" stroke="#a2a2a2" stroke-width="1.25"/>
<line x1="1409.3" y1="758.5" x2="1664.5" y2="528.5" stroke="#b0b0b0" stroke-width="1.3"/>
<line x1="1748.6" y1="551.7" x2="1768.6" y2="97.4" stroke="#a2a2a2" stroke-width="1.25"/>
<line x1="1503.9" y1="790.9" x2="1748.6" y2="551.7" stroke="#b0b0b0" stroke-width="1.3"/>
<line x1="1835.7" y1="575.6" x2="1864.5" y2="114.7" stroke="#a2a2a2" stroke-width="1.25"/>
<line x1="1602.6" y1="824.6" x2="1835.7" y2="575.6" stroke="#b0b0b0" stroke-width="1.3"/>
<line x1="1189.1" y1="683.2" x2="1152" y2="189.1" stroke="#5c5c5c" stroke-width="1.15"/>
<line x1="1152" y1="189.1" x2="1460.2" y2="41.8" stroke="#5c5c5c" stroke-width="1.15"/>
<line x1="1460.2" y1="41.8" x2="1913.9" y2="123.7" stroke="#5c5c5c" stroke-width="1.15"/>
<line x1="1466.5" y1="474.1" x2="1460.2" y2="41.8" stroke="#5c5c5c" stroke-width="1.15"/>
<line x1="1189.1" y1="683.2" x2="1466.5" y2="474.1" stroke="#5c5c5c" stroke-width="1.15"/>
<line x1="1466.5" y1="474.1" x2="1880.4" y2="587.9" stroke="#5c5c5c" stroke-width="1.15"/>
<polyline points="1189.1,683.2 1653.5,842 1880.4,587.9 1913.9,123.7" fill="none" stroke="#000" stroke-width="1.9" stroke-linejoin="miter"/>
<line x1="1231.4" y1="697.7" x2="1225.5" y2="702.2" stroke="#000" stroke-width="1.7"/>
<line x1="1318.5" y1="727.5" x2="1312.9" y2="732.2" stroke="#000" stroke-width="1.7"/>
<line x1="1409.3" y1="758.5" x2="1403.8" y2="763.5" stroke="#000" stroke-width="1.7"/>
<line x1="1503.9" y1="790.9" x2="1498.6" y2="796" stroke="#000" stroke-width="1.7"/>
<line x1="1602.6" y1="824.6" x2="1597.5" y2="830" stroke="#000" stroke-width="1.7"/>
<line x1="1686.6" y1="805" x2="1695.7" y2="808" stroke="#000" stroke-width="1.7"/>
<line x1="1748.3" y1="735.9" x2="1757.1" y2="738.7" stroke="#000" stroke-width="1.7"/>
<line x1="1804.6" y1="672.9" x2="1813.1" y2="675.4" stroke="#000" stroke-width="1.7"/>
<line x1="1856.2" y1="615.1" x2="1864.5" y2="617.4" stroke="#000" stroke-width="1.7"/>
<line x1="1880.4" y1="587.9" x2="1888.6" y2="590.2" stroke="#000" stroke-width="1.7"/>
<line x1="1885.6" y1="516.4" x2="1893.9" y2="518.6" stroke="#000" stroke-width="1.7"/>
<line x1="1890.9" y1="442.7" x2="1899.3" y2="444.7" stroke="#000" stroke-width="1.7"/>
<line x1="1896.4" y1="366.6" x2="1905" y2="368.6" stroke="#000" stroke-width="1.7"/>
<line x1="1902.1" y1="288.2" x2="1910.8" y2="290.1" stroke="#000" stroke-width="1.7"/>
<line x1="1907.9" y1="207.2" x2="1916.8" y2="209" stroke="#000" stroke-width="1.7"/>
<line x1="1913.9" y1="123.7" x2="1922.9" y2="125.3" stroke="#000" stroke-width="1.7"/>
<g><polygon points="1440.3,507.5 1470.3,130.7 1510,506 1510.1,507.8 1509.8,509.5 1509.2,511.2 1508.2,512.9 1506.8,514.5 1505.1,516.1 1503,517.5 1500.7,518.9 1498,520.1 1495.1,521.3 1492,522.2 1488.6,523 1485.1,523.6 1481.5,524.1 1477.9,524.4 1474.2,524.4 1470.5,524.3 1466.8,524 1463.3,523.6 1459.9,522.9 1456.7,522.1 1453.7,521.1 1450.9,520 1448.4,518.8 1446.2,517.4 1444.3,515.9 1442.8,514.3 1441.6,512.7 1440.8,511 1440.4,509.3" fill="#00fafa" stroke="#009b9b" stroke-width="0.9" stroke-linejoin="round"/><polygon points="1470.3,130.7 1440.3,507.5 1440.4,509.3" fill="#00f9f9" stroke="#00f9f9" stroke-width="0.4"/><polygon points="1470.3,130.7 1440.4,509.3 1440.8,511" fill="#00f6f6" stroke="#00f6f6" stroke-width="0.4"/><polygon points="1470.3,130.7 1440.8,511 1441.6,512.7" fill="#00f0f0" stroke="#00f0f0" stroke-width="0.4"/><polygon points="1470.3,130.7 1441.6,512.7 1442.8,514.3" fill="#00eeee" stroke="#00eeee" stroke-width="0.4"/><polygon points="1470.3,130.7 1442.8,514.3 1444.3,515.9" fill="#00efef" stroke="#00efef" stroke-width="0.4"/><polygon points="1470.3,130.7 1444.3,515.9 1446.2,517.4" fill="#00f4f4" stroke="#00f4f4" stroke-width="0.4"/><polygon points="1470.3,130.7 1446.2,517.4 1448.4,518.8" fill="#00f4f4" stroke="#00f4f4" stroke-width="0.4"/><polygon points="1470.3,130.7 1448.4,518.8 1450.9,520" fill="#00eded" stroke="#00eded" stroke-width="0.4"/><polygon points="1470.3,130.7 1450.9,520 1453.6,521.1" fill="#00e3e3" stroke="#00e3e3" stroke-width="0.4"/><polygon points="1470.3,130.7 1453.6,521.1 1456.7,522.1" fill="#00dcdc" stroke="#00dcdc" stroke-width="0.4"/><polygon points="1470.3,130.7 1456.7,522.1 1459.9,522.9" fill="#00dada" stroke="#00dada" stroke-width="0.4"/><polygon points="1470.3,130.7 1488.6,523 1492,522.2" fill="#00f8f8" stroke="#00f8f8" stroke-width="0.4"/><polygon points="1470.3,130.7 1459.9,522.9 1463.3,523.6" fill="#00dede" stroke="#00dede" stroke-width="0.4"/><polygon points="1470.3,130.7 1485.1,523.6 1488.6,523" fill="#00f6f6" stroke="#00f6f6" stroke-width="0.4"/><polygon points="1470.3,130.7 1463.3,523.6 1466.8,524" fill="#00e5e5" stroke="#00e5e5" stroke-width="0.4"/><polygon points="1470.3,130.7 1481.5,524.1 1485.1,523.6" fill="#00f4f4" stroke="#00f4f4" stroke-width="0.4"/><polygon points="1470.3,130.7 1466.8,524 1470.5,524.3" fill="#00eded" stroke="#00eded" stroke-width="0.4"/><polygon points="1470.3,130.7 1477.9,524.4 1481.5,524.1" fill="#00f3f3" stroke="#00f3f3" stroke-width="0.4"/><polygon points="1470.3,130.7 1470.5,524.3 1474.2,524.4" fill="#00f2f2" stroke="#00f2f2" stroke-width="0.4"/><polygon points="1470.3,130.7 1474.2,524.4 1477.9,524.4" fill="#00f3f3" stroke="#00f3f3" stroke-width="0.4"/></g>
<g><polygon points="1519.2,530 1556.2,115.9 1590.2,530.2 1590,532 1589.5,533.8 1588.6,535.5 1587.3,537.2 1585.7,538.8 1583.7,540.3 1581.3,541.7 1578.7,543 1575.8,544.2 1572.7,545.1 1569.3,546 1565.8,546.6 1562.2,547.1 1558.5,547.4 1554.8,547.5 1551,547.4 1547.3,547 1543.6,546.6 1540.1,545.9 1536.8,545 1533.7,544 1530.8,542.9 1528.1,541.6 1525.8,540.1 1523.8,538.6 1522.1,537 1520.8,535.3 1519.9,533.5 1519.4,531.8" fill="#0000fc" stroke="#00009c" stroke-width="0.9" stroke-linejoin="round"/><polygon points="1556.2,115.9 1519.2,530 1519.4,531.8" fill="#0000fb" stroke="#0000fb" stroke-width="0.4"/><polygon points="1556.2,115.9 1519.4,531.8 1519.9,533.5" fill="#0000f3" stroke="#0000f3" stroke-width="0.4"/><polygon points="1556.2,115.9 1519.9,533.5 1520.8,535.3" fill="#0000e9" stroke="#0000e9" stroke-width="0.4"/><polygon points="1556.2,115.9 1520.8,535.3 1522.1,537" fill="#0000e3" stroke="#0000e3" stroke-width="0.4"/><polygon points="1556.2,115.9 1522.1,537 1523.8,538.6" fill="#0000e6" stroke="#0000e6" stroke-width="0.4"/><polygon points="1556.2,115.9 1523.8,538.6 1525.8,540.1" fill="#0000ef" stroke="#0000ef" stroke-width="0.4"/><polygon points="1556.2,115.9 1525.8,540.1 1528.1,541.6" fill="#0000f2" stroke="#0000f2" stroke-width="0.4"/><polygon points="1556.2,115.9 1528.1,541.6 1530.8,542.9" fill="#0000e6" stroke="#0000e6" stroke-width="0.4"/><polygon points="1556.2,115.9 1530.8,542.9 1533.7,544" fill="#0000d5" stroke="#0000d5" stroke-width="0.4"/><polygon points="1556.2,115.9 1533.7,544 1536.8,545" fill="#0000c8" stroke="#0000c8" stroke-width="0.4"/><polygon points="1556.2,115.9 1536.8,545 1540.1,545.9" fill="#0000c5" stroke="#0000c5" stroke-width="0.4"/><polygon points="1556.2,115.9 1569.4,546 1572.7,545.1" fill="#0000fa" stroke="#0000fa" stroke-width="0.4"/><polygon points="1556.2,115.9 1540.1,545.9 1543.6,546.6" fill="#0000cc" stroke="#0000cc" stroke-width="0.4"/><polygon points="1556.2,115.9 1565.9,546.6 1569.4,546" fill="#0000f8" stroke="#0000f8" stroke-width="0.4"/><polygon points="1556.2,115.9 1543.6,546.6 1547.3,547" fill="#0000d9" stroke="#0000d9" stroke-width="0.4"/><polygon points="1556.2,115.9 1562.2,547.1 1565.9,546.6" fill="#0000f6" stroke="#0000f6" stroke-width="0.4"/><polygon points="1556.2,115.9 1547.3,547 1551,547.3" fill="#0000e8" stroke="#0000e8" stroke-width="0.4"/><polygon points="1556.2,115.9 1558.5,547.4 1562.2,547.1" fill="#0000f5" stroke="#0000f5" stroke-width="0.4"/><polygon points="1556.2,115.9 1551,547.3 1554.7,547.5" fill="#0000f3" stroke="#0000f3" stroke-width="0.4"/><polygon points="1556.2,115.9 1554.7,547.5 1558.5,547.4" fill="#0000f5" stroke="#0000f5" stroke-width="0.4"/></g>
<g><polygon points="1600.9,553.2 1601.1,551.3 1645.6,141.3 1673.1,553.4 1673.1,555.2 1672.7,557.1 1671.8,558.9 1670.7,560.6 1669.1,562.3 1667.2,563.9 1664.9,565.4 1662.3,566.7 1659.4,567.9 1656.3,568.9 1653,569.8 1649.5,570.4 1645.8,570.9 1642,571.2 1638.2,571.3 1634.4,571.2 1630.6,570.9 1626.9,570.4 1623.2,569.7 1619.8,568.8 1616.5,567.8 1613.5,566.6 1610.8,565.2 1608.3,563.7 1606.2,562.1 1604.4,560.5 1602.9,558.7 1601.9,556.9 1601.2,555" fill="#f60000" stroke="#990000" stroke-width="0.9" stroke-linejoin="round"/><polygon points="1645.6,141.3 1600.9,553.2 1601.2,555" fill="#f50000" stroke="#f50000" stroke-width="0.4"/><polygon points="1645.6,141.3 1601.2,555 1601.9,556.9" fill="#ed0000" stroke="#ed0000" stroke-width="0.4"/><polygon points="1645.6,141.3 1601.9,556.9 1602.9,558.7" fill="#e30000" stroke="#e30000" stroke-width="0.4"/><polygon points="1645.6,141.3 1602.9,558.7 1604.4,560.5" fill="#de0000" stroke="#de0000" stroke-width="0.4"/><polygon points="1645.6,141.3 1604.4,560.5 1606.2,562.1" fill="#e00000" stroke="#e00000" stroke-width="0.4"/><polygon points="1645.6,141.3 1606.2,562.1 1608.3,563.7" fill="#ea0000" stroke="#ea0000" stroke-width="0.4"/><polygon points="1645.6,141.3 1608.3,563.7 1610.8,565.2" fill="#ea0000" stroke="#ea0000" stroke-width="0.4"/><polygon points="1645.6,141.3 1610.8,565.2 1613.5,566.6" fill="#db0000" stroke="#db0000" stroke-width="0.4"/><polygon points="1645.6,141.3 1613.5,566.6 1616.5,567.8" fill="#c60000" stroke="#c60000" stroke-width="0.4"/><polygon points="1645.6,141.3 1616.5,567.8 1619.8,568.8" fill="#b60000" stroke="#b60000" stroke-width="0.4"/><polygon points="1645.6,141.3 1619.8,568.8 1623.3,569.7" fill="#b10000" stroke="#b10000" stroke-width="0.4"/><polygon points="1645.6,141.3 1653,569.8 1656.3,568.9" fill="#f40000" stroke="#f40000" stroke-width="0.4"/><polygon points="1645.6,141.3 1623.3,569.7 1626.9,570.4" fill="#ba0000" stroke="#ba0000" stroke-width="0.4"/><polygon points="1645.6,141.3 1649.5,570.4 1653,569.8" fill="#f20000" stroke="#f20000" stroke-width="0.4"/><polygon points="1645.6,141.3 1626.9,570.4 1630.6,570.9" fill="#cb0000" stroke="#cb0000" stroke-width="0.4"/><polygon points="1645.6,141.3 1645.8,570.9 1649.5,570.4" fill="#f00000" stroke="#f00000" stroke-width="0.4"/><polygon points="1645.6,141.3 1630.6,570.9 1634.4,571.2" fill="#de0000" stroke="#de0000" stroke-width="0.4"/><polygon points="1645.6,141.3 1642,571.2 1645.8,570.9" fill="#ef0000" stroke="#ef0000" stroke-width="0.4"/><polygon points="1645.6,141.3 1634.4,571.2 1638.2,571.3" fill="#ec0000" stroke="#ec0000" stroke-width="0.4"/><polygon points="1645.6,141.3 1638.2,571.3 1642,571.2" fill="#ef0000" stroke="#ef0000" stroke-width="0.4"/></g>
<g><polygon points="1376.2,558.3 1376.2,556.4 1404.2,239 1448.7,554.8 1448.8,556.6 1448.4,558.5 1447.7,560.4 1446.5,562.2 1445,563.9 1443.2,565.6 1441,567.2 1438.4,568.7 1435.6,570 1432.5,571.2 1429.2,572.3 1425.7,573.1 1422,573.8 1418.2,574.3 1414.4,574.6 1410.5,574.7 1406.7,574.6 1402.9,574.2 1399.3,573.7 1395.8,573 1392.4,572.2 1389.3,571.1 1386.5,569.9 1384,568.5 1381.8,567 1379.9,565.5 1378.4,563.8 1377.2,562 1376.5,560.1" fill="#00fafa" stroke="#009b9b" stroke-width="0.9" stroke-linejoin="round"/><polygon points="1404.2,239 1376.2,556.4 1376.2,558.3" fill="#00f9f9" stroke="#00f9f9" stroke-width="0.4"/><polygon points="1404.2,239 1376.2,558.3 1376.5,560.2" fill="#00f6f6" stroke="#00f6f6" stroke-width="0.4"/><polygon points="1404.2,239 1376.5,560.2 1377.2,562" fill="#00f0f0" stroke="#00f0f0" stroke-width="0.4"/><polygon points="1404.2,239 1377.2,562 1378.4,563.8" fill="#00eeee" stroke="#00eeee" stroke-width="0.4"/><polygon points="1404.2,239 1378.4,563.8 1379.9,565.4" fill="#00efef" stroke="#00efef" stroke-width="0.4"/><polygon points="1404.2,239 1379.9,565.4 1381.7,567" fill="#00f4f4" stroke="#00f4f4" stroke-width="0.4"/><polygon points="1404.2,239 1381.7,567 1384,568.5" fill="#00f4f4" stroke="#00f4f4" stroke-width="0.4"/><polygon points="1404.2,239 1384,568.5 1386.5,569.9" fill="#00eded" stroke="#00eded" stroke-width="0.4"/><polygon points="1404.2,239 1386.5,569.9 1389.3,571.1" fill="#00e3e3" stroke="#00e3e3" stroke-width="0.4"/><polygon points="1404.2,239 1389.3,571.1 1392.4,572.2" fill="#00dcdc" stroke="#00dcdc" stroke-width="0.4"/><polygon points="1404.2,239 1392.4,572.2 1395.8,573" fill="#00dada" stroke="#00dada" stroke-width="0.4"/><polygon points="1404.2,239 1425.7,573.1 1429.2,572.3" fill="#00f8f8" stroke="#00f8f8" stroke-width="0.4"/><polygon points="1404.2,239 1395.8,573 1399.3,573.7" fill="#00dede" stroke="#00dede" stroke-width="0.4"/><polygon points="1404.2,239 1422,573.8 1425.7,573.1" fill="#00f6f6" stroke="#00f6f6" stroke-width="0.4"/><polygon points="1404.2,239 1399.3,573.7 1402.9,574.3" fill="#00e5e5" stroke="#00e5e5" stroke-width="0.4"/><polygon points="1404.2,239 1418.2,574.3 1422,573.8" fill="#00f4f4" stroke="#00f4f4" stroke-width="0.4"/><polygon points="1404.2,239 1402.9,574.3 1406.7,574.6" fill="#00eded" stroke="#00eded" stroke-width="0.4"/><polygon points="1404.2,239 1414.4,574.6 1418.2,574.3" fill="#00f3f3" stroke="#00f3f3" stroke-width="0.4"/><polygon points="1404.2,239 1406.7,574.6 1410.5,574.7" fill="#00f2f2" stroke="#00f2f2" stroke-width="0.4"/><polygon points="1404.2,239 1410.5,574.7 1414.4,574.6" fill="#00f3f3" stroke="#00f3f3" stroke-width="0.4"/></g>
<g><polygon points="1685.6,575.3 1686,573.4 1729.7,388.2 1759,577.4 1759.1,579.4 1758.8,581.3 1758.1,583.1 1757,585 1755.5,586.7 1753.7,588.3 1751.5,589.9 1749,591.2 1746.1,592.5 1743,593.5 1739.7,594.4 1736.1,595.1 1732.4,595.6 1728.6,595.9 1724.8,596 1720.8,595.9 1717,595.6 1713.1,595.1 1709.4,594.4 1705.8,593.5 1702.5,592.4 1699.3,591.1 1696.4,589.7 1693.8,588.2 1691.5,586.5 1689.6,584.8 1688,583 1686.8,581.1 1686,579.2 1685.6,577.2" fill="#00f800" stroke="#009a00" stroke-width="0.9" stroke-linejoin="round"/><polygon points="1729.7,388.2 1685.6,577.2 1686,579.2" fill="#00f700" stroke="#00f700" stroke-width="0.4"/><polygon points="1729.7,388.2 1686,579.2 1686.8,581.1" fill="#00f200" stroke="#00f200" stroke-width="0.4"/><polygon points="1729.7,388.2 1686.8,581.1 1688,583" fill="#00eb00" stroke="#00eb00" stroke-width="0.4"/><polygon points="1729.7,388.2 1688,583 1689.6,584.8" fill="#00e700" stroke="#00e700" stroke-width="0.4"/><polygon points="1729.7,388.2 1689.6,584.8 1691.5,586.5" fill="#00e900" stroke="#00e900" stroke-width="0.4"/><polygon points="1729.7,388.2 1691.5,586.5 1693.8,588.2" fill="#00ef00" stroke="#00ef00" stroke-width="0.4"/><polygon points="1729.7,388.2 1693.8,588.2 1696.4,589.7" fill="#00f000" stroke="#00f000" stroke-width="0.4"/><polygon points="1729.7,388.2 1696.4,589.7 1699.3,591.1" fill="#00e400" stroke="#00e400" stroke-width="0.4"/><polygon points="1729.7,388.2 1699.3,591.1 1702.5,592.4" fill="#00d500" stroke="#00d500" stroke-width="0.4"/><polygon points="1729.7,388.2 1702.5,592.4 1705.8,593.4" fill="#00ca00" stroke="#00ca00" stroke-width="0.4"/><polygon points="1729.7,388.2 1705.8,593.4 1709.4,594.4" fill="#00c700" stroke="#00c700" stroke-width="0.4"/><polygon points="1729.7,388.2 1739.7,594.4 1743,593.5" fill="#00f600" stroke="#00f600" stroke-width="0.4"/><polygon points="1729.7,388.2 1709.4,594.4 1713.1,595.1" fill="#00cd00" stroke="#00cd00" stroke-width="0.4"/><polygon points="1729.7,388.2 1736.1,595.1 1739.7,594.4" fill="#00f400" stroke="#00f400" stroke-width="0.4"/><polygon points="1729.7,388.2 1713.1,595.1 1717,595.6" fill="#00d900" stroke="#00d900" stroke-width="0.4"/><polygon points="1729.7,388.2 1732.4,595.6 1736.1,595.1" fill="#00f200" stroke="#00f200" stroke-width="0.4"/><polygon points="1729.7,388.2 1717,595.6 1720.9,595.9" fill="#00e600" stroke="#00e600" stroke-width="0.4"/><polygon points="1729.7,388.2 1728.6,595.9 1732.4,595.6" fill="#00f100" stroke="#00f100" stroke-width="0.4"/><polygon points="1729.7,388.2 1720.9,595.9 1724.8,596" fill="#00ef00" stroke="#00ef00" stroke-width="0.4"/><polygon points="1729.7,388.2 1724.8,596 1728.6,595.9" fill="#00f100" stroke="#00f100" stroke-width="0.4"/></g>
<g><polygon points="1457.2,580.6 1490.6,202.2 1530.8,578.9 1531,580.8 1530.8,582.8 1530.2,584.7 1529.1,586.6 1527.7,588.4 1525.9,590.2 1523.7,591.8 1521.2,593.4 1518.5,594.8 1515.4,596 1512.1,597.1 1508.5,598 1504.9,598.7 1501.1,599.2 1497.2,599.5 1493.3,599.6 1489.3,599.5 1485.5,599.1 1481.7,598.6 1478.1,597.9 1474.7,597 1471.5,595.9 1468.5,594.6 1465.8,593.2 1463.5,591.7 1461.5,590 1459.8,588.2 1458.6,586.4 1457.7,584.5 1457.2,582.6" fill="#0000fc" stroke="#00009c" stroke-width="0.9" stroke-linejoin="round"/><polygon points="1490.6,202.2 1457.2,580.6 1457.2,582.6" fill="#0000fb" stroke="#0000fb" stroke-width="0.4"/><polygon points="1490.6,202.2 1457.2,582.6 1457.7,584.5" fill="#0000f3" stroke="#0000f3" stroke-width="0.4"/><polygon points="1490.6,202.2 1457.7,584.5 1458.6,586.4" fill="#0000e9" stroke="#0000e9" stroke-width="0.4"/><polygon points="1490.6,202.2 1458.6,586.4 1459.8,588.2" fill="#0000e3" stroke="#0000e3" stroke-width="0.4"/><polygon points="1490.6,202.2 1459.8,588.2 1461.5,590" fill="#0000e6" stroke="#0000e6" stroke-width="0.4"/><polygon points="1490.6,202.2 1461.5,590 1463.5,591.7" fill="#0000ef" stroke="#0000ef" stroke-width="0.4"/><polygon points="1490.6,202.2 1463.5,591.7 1465.8,593.2" fill="#0000f2" stroke="#0000f2" stroke-width="0.4"/><polygon points="1490.6,202.2 1465.8,593.2 1468.5,594.6" fill="#0000e6" stroke="#0000e6" stroke-width="0.4"/><polygon points="1490.6,202.2 1468.5,594.6 1471.5,595.9" fill="#0000d5" stroke="#0000d5" stroke-width="0.4"/><polygon points="1490.6,202.2 1471.5,595.9 1474.7,597" fill="#0000c8" stroke="#0000c8" stroke-width="0.4"/><polygon points="1490.6,202.2 1474.7,597 1478.1,597.9" fill="#0000c5" stroke="#0000c5" stroke-width="0.4"/><polygon points="1490.6,202.2 1508.6,598 1512.1,597.1" fill="#0000fa" stroke="#0000fa" stroke-width="0.4"/><polygon points="1490.6,202.2 1478.1,597.9 1481.7,598.6" fill="#0000cc" stroke="#0000cc" stroke-width="0.4"/><polygon points="1490.6,202.2 1504.9,598.7 1508.6,598" fill="#0000f8" stroke="#0000f8" stroke-width="0.4"/><polygon points="1490.6,202.2 1481.7,598.6 1485.5,599.1" fill="#0000d9" stroke="#0000d9" stroke-width="0.4"/><polygon points="1490.6,202.2 1501.1,599.2 1504.9,598.7" fill="#0000f6" stroke="#0000f6" stroke-width="0.4"/><polygon points="1490.6,202.2 1485.5,599.1 1489.4,599.5" fill="#0000e8" stroke="#0000e8" stroke-width="0.4"/><polygon points="1490.6,202.2 1497.2,599.5 1501.1,599.2" fill="#0000f5" stroke="#0000f5" stroke-width="0.4"/><polygon points="1490.6,202.2 1489.4,599.5 1493.3,599.6" fill="#0000f3" stroke="#0000f3" stroke-width="0.4"/><polygon points="1490.6,202.2 1493.3,599.6 1497.2,599.5" fill="#0000f5" stroke="#0000f5" stroke-width="0.4"/></g>
<g><polygon points="1773.2,600.2 1773.5,598.2 1774.2,596.3 1775.3,594.4 1776.8,592.7 1778.6,591 1780.8,589.5 1783.3,588.1 1786.1,586.9 1789.1,585.9 1792.4,585 1795.9,584.3 1799.5,583.8 1803.3,583.5 1807.1,583.4 1811,583.5 1814.8,583.8 1818.7,584.3 1822.4,585 1826,586 1829.5,587 1832.8,588.3 1835.8,589.6 1838.6,591.2 1841,592.9 1843.2,594.6 1845,596.5 1846.4,598.4 1847.5,600.4 1848.1,602.4 1848.4,604.4 1848.2,606.4 1847.6,608.3 1846.6,610.2 1845.2,612 1843.4,613.7 1841.3,615.3 1838.8,616.7 1836,618 1832.9,619.1 1829.6,620 1826,620.7 1822.3,621.3 1818.5,621.6 1814.5,621.7 1810.5,621.6 1806.6,621.2 1802.6,620.7 1798.8,619.9 1795.1,619 1791.6,617.9 1788.3,616.6 1785.2,615.1 1782.5,613.5 1780,611.8 1777.9,610 1776.2,608.1 1774.8,606.2 1773.9,604.2 1773.4,602.2" fill="#f48006" stroke="#974f04" stroke-width="0.9" stroke-linejoin="round"/><polygon points="1810.8,602.3 1807.1,583.4 1803.3,583.5" fill="#eb7b06" stroke="#eb7b06" stroke-width="0.4"/><polygon points="1810.8,602.3 1811,583.5 1807.1,583.4" fill="#e67806" stroke="#e67806" stroke-width="0.4"/><polygon points="1810.8,602.3 1803.3,583.5 1799.5,583.8" fill="#f07e06" stroke="#f07e06" stroke-width="0.4"/><polygon points="1810.8,602.3 1814.8,583.8 1811,583.5" fill="#df7505" stroke="#df7505" stroke-width="0.4"/><polygon points="1810.8,602.3 1799.5,583.8 1795.9,584.3" fill="#f37f06" stroke="#f37f06" stroke-width="0.4"/><polygon points="1810.8,602.3 1818.7,584.3 1814.8,583.8" fill="#d97205" stroke="#d97205" stroke-width="0.4"/><polygon points="1810.8,602.3 1822.4,585.1 1818.7,584.3" fill="#d46f05" stroke="#d46f05" stroke-width="0.4"/><polygon points="1810.8,602.3 1826,585.9 1822.4,585.1" fill="#d06d05" stroke="#d06d05" stroke-width="0.4"/><polygon points="1810.8,602.3 1829.5,587 1826,585.9" fill="#ce6c05" stroke="#ce6c05" stroke-width="0.4"/><polygon points="1810.8,602.3 1832.8,588.3 1829.5,587" fill="#cd6c05" stroke="#cd6c05" stroke-width="0.4"/><polygon points="1810.8,602.3 1835.8,589.7 1832.8,588.3" fill="#ce6c05" stroke="#ce6c05" stroke-width="0.4"/><polygon points="1810.8,602.3 1838.6,591.2 1835.8,589.7" fill="#d16e05" stroke="#d16e05" stroke-width="0.4"/><polygon points="1810.8,602.3 1841,592.8 1838.6,591.2" fill="#d67005" stroke="#d67005" stroke-width="0.4"/><polygon points="1810.8,602.3 1843.2,594.6 1841,592.8" fill="#db7305" stroke="#db7305" stroke-width="0.4"/><polygon points="1810.8,602.3 1845,596.5 1843.2,594.6" fill="#e27606" stroke="#e27606" stroke-width="0.4"/><polygon points="1810.8,602.3 1846.4,598.4 1845,596.5" fill="#e77906" stroke="#e77906" stroke-width="0.4"/><polygon points="1810.8,602.3 1847.5,600.4 1846.4,598.4" fill="#ed7c06" stroke="#ed7c06" stroke-width="0.4"/><polygon points="1810.8,602.3 1848.1,602.4 1847.5,600.4" fill="#f17e06" stroke="#f17e06" stroke-width="0.4"/><polygon points="1810.8,602.3 1773.4,602.2 1773.9,604.2" fill="#f68106" stroke="#f68106" stroke-width="0.4"/><polygon points="1810.8,602.3 1848.4,604.4 1848.1,602.4" fill="#f38006" stroke="#f38006" stroke-width="0.4"/><polygon points="1810.8,602.3 1773.9,604.2 1774.9,606.2" fill="#f98306" stroke="#f98306" stroke-width="0.4"/><polygon points="1810.8,602.3 1774.9,606.2 1776.2,608.1" fill="#fb8406" stroke="#fb8406" stroke-width="0.4"/><polygon points="1810.8,602.3 1776.2,608.1 1777.9,610" fill="#f68106" stroke="#f68106" stroke-width="0.4"/><polygon points="1810.8,602.3 1777.9,610 1780,611.8" fill="#e87a06" stroke="#e87a06" stroke-width="0.4"/><polygon points="1810.8,602.3 1780,611.8 1782.5,613.5" fill="#d77105" stroke="#d77105" stroke-width="0.4"/><polygon points="1810.8,602.3 1843.4,613.7 1845.2,612" fill="#f37f06" stroke="#f37f06" stroke-width="0.4"/><polygon points="1810.8,602.3 1782.5,613.5 1785.2,615.1" fill="#c96905" stroke="#c96905" stroke-width="0.4"/><polygon points="1810.8,602.3 1841.3,615.3 1843.4,613.7" fill="#ef7d06" stroke="#ef7d06" stroke-width="0.4"/><polygon points="1810.8,602.3 1785.2,615.1 1788.3,616.6" fill="#be6405" stroke="#be6405" stroke-width="0.4"/><polygon points="1810.8,602.3 1838.8,616.7 1841.3,615.3" fill="#eb7b06" stroke="#eb7b06" stroke-width="0.4"/><polygon points="1810.8,602.3 1788.3,616.6 1791.6,617.9" fill="#ba6105" stroke="#ba6105" stroke-width="0.4"/><polygon points="1810.8,602.3 1836,618 1838.8,616.7" fill="#e87a06" stroke="#e87a06" stroke-width="0.4"/><polygon points="1810.8,602.3 1791.6,617.9 1795.1,619" fill="#bc6305" stroke="#bc6305" stroke-width="0.4"/><polygon points="1810.8,602.3 1832.9,619.1 1836,618" fill="#e97a06" stroke="#e97a06" stroke-width="0.4"/><polygon points="1810.8,602.3 1795.1,619 1798.8,619.9" fill="#c56705" stroke="#c56705" stroke-width="0.4"/><polygon points="1810.8,602.3 1829.6,620 1832.9,619.1" fill="#ec7c06" stroke="#ec7c06" stroke-width="0.4"/><polygon points="1810.8,602.3 1798.8,619.9 1802.6,620.7" fill="#d26e05" stroke="#d26e05" stroke-width="0.4"/><polygon points="1810.8,602.3 1826,620.7 1829.6,620" fill="#f07e06" stroke="#f07e06" stroke-width="0.4"/><polygon points="1810.8,602.3 1802.6,620.7 1806.6,621.2" fill="#e07606" stroke="#e07606" stroke-width="0.4"/><polygon points="1810.8,602.3 1806.6,621.2 1810.5,621.6" fill="#ec7c06" stroke="#ec7c06" stroke-width="0.4"/><polygon points="1810.8,602.3 1810.5,621.6 1814.5,621.7" fill="#f38006" stroke="#f38006" stroke-width="0.4"/></g>
<line x1="1777.8" y1="593" x2="1844.2" y2="611.7" stroke="#cdbfae" stroke-width="1.1" opacity="0.6"/>
<line x1="1810.8" y1="602.3" x2="1795.6" y2="618.5" stroke="#cdbfae" stroke-width="1.1" opacity="0.6"/>
<g><polygon points="1541.1,605.8 1582.1,213.5 1616.3,605.9 1616.2,608 1615.7,610 1614.7,611.9 1613.4,613.8 1611.7,615.6 1609.6,617.4 1607.2,618.9 1604.4,620.4 1601.4,621.7 1598.1,622.8 1594.5,623.7 1590.8,624.5 1587,625 1583.1,625.3 1579.1,625.4 1575.1,625.3 1571.2,625 1567.3,624.4 1563.6,623.6 1560,622.7 1556.7,621.6 1553.6,620.3 1550.8,618.8 1548.3,617.2 1546.1,615.5 1544.3,613.6 1542.9,611.7 1541.9,609.8 1541.3,607.8" fill="#f60000" stroke="#990000" stroke-width="0.9" stroke-linejoin="round"/><polygon points="1582.1,213.5 1541.1,605.8 1541.3,607.8" fill="#f50000" stroke="#f50000" stroke-width="0.4"/><polygon points="1582.1,213.5 1541.3,607.8 1541.9,609.8" fill="#ed0000" stroke="#ed0000" stroke-width="0.4"/><polygon points="1582.1,213.5 1541.9,609.8 1542.9,611.7" fill="#e30000" stroke="#e30000" stroke-width="0.4"/><polygon points="1582.1,213.5 1542.9,611.7 1544.3,613.6" fill="#de0000" stroke="#de0000" stroke-width="0.4"/><polygon points="1582.1,213.5 1544.3,613.6 1546.1,615.5" fill="#e00000" stroke="#e00000" stroke-width="0.4"/><polygon points="1582.1,213.5 1546.1,615.5 1548.3,617.2" fill="#ea0000" stroke="#ea0000" stroke-width="0.4"/><polygon points="1582.1,213.5 1548.3,617.2 1550.8,618.8" fill="#ea0000" stroke="#ea0000" stroke-width="0.4"/><polygon points="1582.1,213.5 1550.8,618.8 1553.6,620.3" fill="#db0000" stroke="#db0000" stroke-width="0.4"/><polygon points="1582.1,213.5 1553.6,620.3 1556.7,621.6" fill="#c60000" stroke="#c60000" stroke-width="0.4"/><polygon points="1582.1,213.5 1556.7,621.6 1560,622.7" fill="#b60000" stroke="#b60000" stroke-width="0.4"/><polygon points="1582.1,213.5 1560,622.7 1563.6,623.6" fill="#b10000" stroke="#b10000" stroke-width="0.4"/><polygon points="1582.1,213.5 1594.6,623.7 1598.1,622.8" fill="#f40000" stroke="#f40000" stroke-width="0.4"/><polygon points="1582.1,213.5 1563.6,623.6 1567.3,624.4" fill="#ba0000" stroke="#ba0000" stroke-width="0.4"/><polygon points="1582.1,213.5 1590.9,624.5 1594.6,623.7" fill="#f20000" stroke="#f20000" stroke-width="0.4"/><polygon points="1582.1,213.5 1567.3,624.4 1571.2,624.9" fill="#cb0000" stroke="#cb0000" stroke-width="0.4"/><polygon points="1582.1,213.5 1587,625 1590.9,624.5" fill="#f00000" stroke="#f00000" stroke-width="0.4"/><polygon points="1582.1,213.5 1571.2,624.9 1575.1,625.3" fill="#de0000" stroke="#de0000" stroke-width="0.4"/><polygon points="1582.1,213.5 1583.1,625.3 1587,625" fill="#ef0000" stroke="#ef0000" stroke-width="0.4"/><polygon points="1582.1,213.5 1575.1,625.3 1579.1,625.4" fill="#ec0000" stroke="#ec0000" stroke-width="0.4"/><polygon points="1582.1,213.5 1579.1,625.4 1583.1,625.3" fill="#ef0000" stroke="#ef0000" stroke-width="0.4"/></g>
<g><polygon points="1306.6,611.4 1306.8,609.4 1331.8,297.7 1382.4,607.5 1382.4,609.5 1381.9,611.6 1381,613.6 1379.8,615.6 1378.1,617.5 1376,619.3 1373.6,621 1370.9,622.6 1367.9,624.1 1364.6,625.4 1361.1,626.5 1357.4,627.5 1353.5,628.2 1349.6,628.7 1345.5,629.1 1341.5,629.2 1337.5,629 1333.6,628.7 1329.8,628.1 1326.2,627.4 1322.8,626.4 1319.6,625.3 1316.7,624 1314.2,622.5 1311.9,620.9 1310.1,619.2 1308.6,617.3 1307.5,615.4 1306.8,613.4" fill="#00fafa" stroke="#009b9b" stroke-width="0.9" stroke-linejoin="round"/><polygon points="1331.8,297.7 1306.6,611.4 1306.8,613.4" fill="#00f6f6" stroke="#00f6f6" stroke-width="0.4"/><polygon points="1331.8,297.7 1306.8,613.4 1307.5,615.4" fill="#00f0f0" stroke="#00f0f0" stroke-width="0.4"/><polygon points="1331.8,297.7 1307.5,615.4 1308.6,617.3" fill="#00eeee" stroke="#00eeee" stroke-width="0.4"/><polygon points="1331.8,297.7 1308.6,617.3 1310.1,619.2" fill="#00efef" stroke="#00efef" stroke-width="0.4"/><polygon points="1331.8,297.7 1310.1,619.2 1311.9,620.9" fill="#00f4f4" stroke="#00f4f4" stroke-width="0.4"/><polygon points="1331.8,297.7 1311.9,620.9 1314.2,622.5" fill="#00f4f4" stroke="#00f4f4" stroke-width="0.4"/><polygon points="1331.8,297.7 1314.2,622.5 1316.7,624" fill="#00eded" stroke="#00eded" stroke-width="0.4"/><polygon points="1331.8,297.7 1316.7,624 1319.6,625.3" fill="#00e3e3" stroke="#00e3e3" stroke-width="0.4"/><polygon points="1331.8,297.7 1319.6,625.3 1322.8,626.4" fill="#00dcdc" stroke="#00dcdc" stroke-width="0.4"/><polygon points="1331.8,297.7 1322.8,626.4 1326.2,627.4" fill="#00dada" stroke="#00dada" stroke-width="0.4"/><polygon points="1331.8,297.7 1357.4,627.5 1361.1,626.5" fill="#00f8f8" stroke="#00f8f8" stroke-width="0.4"/><polygon points="1331.8,297.7 1326.2,627.4 1329.8,628.2" fill="#00dede" stroke="#00dede" stroke-width="0.4"/><polygon points="1331.8,297.7 1353.5,628.2 1357.4,627.5" fill="#00f6f6" stroke="#00f6f6" stroke-width="0.4"/><polygon points="1331.8,297.7 1329.8,628.2 1333.6,628.7" fill="#00e5e5" stroke="#00e5e5" stroke-width="0.4"/><polygon points="1331.8,297.7 1349.6,628.7 1353.5,628.2" fill="#00f4f4" stroke="#00f4f4" stroke-width="0.4"/><polygon points="1331.8,297.7 1333.6,628.7 1337.5,629" fill="#00eded" stroke="#00eded" stroke-width="0.4"/><polygon points="1331.8,297.7 1345.5,629.1 1349.6,628.7" fill="#00f3f3" stroke="#00f3f3" stroke-width="0.4"/><polygon points="1331.8,297.7 1337.5,629 1341.5,629.2" fill="#00f2f2" stroke="#00f2f2" stroke-width="0.4"/><polygon points="1331.8,297.7 1341.5,629.2 1345.5,629.1" fill="#00f3f3" stroke="#00f3f3" stroke-width="0.4"/></g>
<g><polygon points="1628.2,631.8 1628.3,629.7 1628.8,627.7 1671,467.8 1704.8,632 1704.8,634.1 1704.4,636.2 1703.6,638.2 1702.4,640.2 1700.7,642.1 1698.7,643.8 1696.4,645.5 1693.7,647 1690.7,648.3 1687.4,649.5 1683.8,650.5 1680.1,651.2 1676.2,651.8 1672.3,652.1 1668.2,652.2 1664.1,652.1 1660.1,651.8 1656.1,651.2 1652.3,650.4 1648.6,649.4 1645.1,648.2 1641.9,646.9 1638.9,645.4 1636.2,643.7 1634,641.9 1632,640 1630.5,638 1629.3,636 1628.5,633.9" fill="#00f800" stroke="#009a00" stroke-width="0.9" stroke-linejoin="round"/><polygon points="1671,467.8 1628.2,631.8 1628.5,633.9" fill="#00f700" stroke="#00f700" stroke-width="0.4"/><polygon points="1671,467.8 1628.5,633.9 1629.3,636" fill="#00f200" stroke="#00f200" stroke-width="0.4"/><polygon points="1671,467.8 1629.3,636 1630.4,638" fill="#00eb00" stroke="#00eb00" stroke-width="0.4"/><polygon points="1671,467.8 1630.4,638 1632,640" fill="#00e700" stroke="#00e700" stroke-width="0.4"/><polygon points="1671,467.8 1632,640 1633.9,641.9" fill="#00e900" stroke="#00e900" stroke-width="0.4"/><polygon points="1671,467.8 1633.9,641.9 1636.3,643.7" fill="#00ef00" stroke="#00ef00" stroke-width="0.4"/><polygon points="1671,467.8 1636.3,643.7 1638.9,645.4" fill="#00f000" stroke="#00f000" stroke-width="0.4"/><polygon points="1671,467.8 1638.9,645.4 1641.9,646.9" fill="#00e400" stroke="#00e400" stroke-width="0.4"/><polygon points="1671,467.8 1641.9,646.9 1645.1,648.2" fill="#00d500" stroke="#00d500" stroke-width="0.4"/><polygon points="1671,467.8 1645.1,648.2 1648.6,649.4" fill="#00ca00" stroke="#00ca00" stroke-width="0.4"/><polygon points="1671,467.8 1648.6,649.4 1652.3,650.4" fill="#00c700" stroke="#00c700" stroke-width="0.4"/><polygon points="1671,467.8 1683.8,650.5 1687.4,649.5" fill="#00f600" stroke="#00f600" stroke-width="0.4"/><polygon points="1671,467.8 1652.3,650.4 1656.1,651.2" fill="#00cd00" stroke="#00cd00" stroke-width="0.4"/><polygon points="1671,467.8 1680.1,651.2 1683.8,650.5" fill="#00f400" stroke="#00f400" stroke-width="0.4"/><polygon points="1671,467.8 1656.1,651.2 1660.1,651.7" fill="#00d900" stroke="#00d900" stroke-width="0.4"/><polygon points="1671,467.8 1676.2,651.8 1680.1,651.2" fill="#00f200" stroke="#00f200" stroke-width="0.4"/><polygon points="1671,467.8 1660.1,651.7 1664.1,652.1" fill="#00e600" stroke="#00e600" stroke-width="0.4"/><polygon points="1671,467.8 1672.3,652.1 1676.2,651.8" fill="#00f100" stroke="#00f100" stroke-width="0.4"/><polygon points="1671,467.8 1664.1,652.1 1668.2,652.2" fill="#00ef00" stroke="#00ef00" stroke-width="0.4"/><polygon points="1671,467.8 1668.2,652.2 1672.3,652.1" fill="#00f100" stroke="#00f100" stroke-width="0.4"/></g>
<g><polygon points="1389.8,637.7 1389.8,635.6 1420,278 1466.8,633.7 1466.8,635.8 1466.5,637.9 1465.7,640 1464.6,642 1463,644 1461,645.9 1458.7,647.7 1456,649.4 1453,650.9 1449.8,652.3 1446.2,653.4 1442.5,654.4 1438.6,655.2 1434.7,655.7 1430.6,656.1 1426.5,656.2 1422.4,656 1418.4,655.7 1414.5,655.1 1410.8,654.3 1407.2,653.4 1403.9,652.2 1400.9,650.8 1398.2,649.3 1395.8,647.6 1393.8,645.8 1392.2,643.9 1391,641.9 1390.2,639.8" fill="#0000fc" stroke="#00009c" stroke-width="0.9" stroke-linejoin="round"/><polygon points="1420,278 1389.8,635.6 1389.8,637.7" fill="#0000fb" stroke="#0000fb" stroke-width="0.4"/><polygon points="1420,278 1389.8,637.7 1390.2,639.8" fill="#0000f3" stroke="#0000f3" stroke-width="0.4"/><polygon points="1420,278 1390.2,639.8 1391,641.9" fill="#0000e9" stroke="#0000e9" stroke-width="0.4"/><polygon points="1420,278 1391,641.9 1392.2,643.9" fill="#0000e3" stroke="#0000e3" stroke-width="0.4"/><polygon points="1420,278 1392.2,643.9 1393.8,645.8" fill="#0000e6" stroke="#0000e6" stroke-width="0.4"/><polygon points="1420,278 1393.8,645.8 1395.8,647.6" fill="#0000ef" stroke="#0000ef" stroke-width="0.4"/><polygon points="1420,278 1395.8,647.6 1398.2,649.3" fill="#0000f2" stroke="#0000f2" stroke-width="0.4"/><polygon points="1420,278 1398.2,649.3 1400.9,650.8" fill="#0000e6" stroke="#0000e6" stroke-width="0.4"/><polygon points="1420,278 1400.9,650.8 1403.9,652.2" fill="#0000d5" stroke="#0000d5" stroke-width="0.4"/><polygon points="1420,278 1403.9,652.2 1407.2,653.4" fill="#0000c8" stroke="#0000c8" stroke-width="0.4"/><polygon points="1420,278 1407.2,653.4 1410.8,654.3" fill="#0000c5" stroke="#0000c5" stroke-width="0.4"/><polygon points="1420,278 1442.5,654.4 1446.2,653.4" fill="#0000fa" stroke="#0000fa" stroke-width="0.4"/><polygon points="1420,278 1410.8,654.3 1414.5,655.1" fill="#0000cc" stroke="#0000cc" stroke-width="0.4"/><polygon points="1420,278 1438.6,655.2 1442.5,654.4" fill="#0000f8" stroke="#0000f8" stroke-width="0.4"/><polygon points="1420,278 1414.5,655.1 1418.4,655.7" fill="#0000d9" stroke="#0000d9" stroke-width="0.4"/><polygon points="1420,278 1434.6,655.7 1438.6,655.2" fill="#0000f6" stroke="#0000f6" stroke-width="0.4"/><polygon points="1420,278 1418.4,655.7 1422.4,656" fill="#0000e8" stroke="#0000e8" stroke-width="0.4"/><polygon points="1420,278 1430.6,656.1 1434.6,655.7" fill="#0000f5" stroke="#0000f5" stroke-width="0.4"/><polygon points="1420,278 1422.4,656 1426.5,656.2" fill="#0000f3" stroke="#0000f3" stroke-width="0.4"/><polygon points="1420,278 1426.5,656.2 1430.6,656.1" fill="#0000f5" stroke="#0000f5" stroke-width="0.4"/></g>
<g><polygon points="1718.6,656.7 1719,654.6 1719.8,652.5 1721,650.5 1722.6,648.5 1724.6,646.8 1726.9,645.1 1729.6,643.6 1732.6,642.3 1735.8,641.1 1739.2,640.2 1742.9,639.4 1746.7,638.9 1750.6,638.6 1754.6,638.5 1758.7,638.6 1762.7,638.9 1766.7,639.5 1770.5,640.2 1774.3,641.2 1777.8,642.4 1781.2,643.7 1784.3,645.2 1787.1,646.9 1789.7,648.7 1791.8,650.6 1793.6,652.6 1795,654.7 1796.1,656.9 1796.7,659 1796.8,661.2 1796.6,663.4 1795.9,665.5 1794.8,667.5 1793.2,669.5 1791.3,671.4 1789,673.1 1786.4,674.6 1783.4,676 1780.1,677.2 1776.6,678.3 1772.9,679.1 1769,679.6 1764.9,680 1760.8,680.1 1756.6,680 1752.5,679.6 1748.4,679 1744.4,678.2 1740.6,677.2 1737,676 1733.6,674.5 1730.5,673 1727.7,671.2 1725.2,669.4 1723.1,667.4 1721.4,665.3 1720,663.2 1719.1,661 1718.7,658.9" fill="#f48006" stroke="#974f04" stroke-width="0.9" stroke-linejoin="round"/><polygon points="1757.7,659 1754.6,638.5 1750.6,638.6" fill="#eb7b06" stroke="#eb7b06" stroke-width="0.4"/><polygon points="1757.7,659 1758.7,638.6 1754.6,638.5" fill="#e67806" stroke="#e67806" stroke-width="0.4"/><polygon points="1757.7,659 1750.6,638.6 1746.7,638.9" fill="#f07e06" stroke="#f07e06" stroke-width="0.4"/><polygon points="1757.7,659 1762.7,638.9 1758.7,638.6" fill="#df7505" stroke="#df7505" stroke-width="0.4"/><polygon points="1757.7,659 1746.7,638.9 1742.9,639.4" fill="#f37f06" stroke="#f37f06" stroke-width="0.4"/><polygon points="1757.7,659 1766.7,639.5 1762.7,638.9" fill="#d97205" stroke="#d97205" stroke-width="0.4"/><polygon points="1757.7,659 1770.5,640.2 1766.7,639.5" fill="#d46f05" stroke="#d46f05" stroke-width="0.4"/><polygon points="1757.7,659 1774.3,641.2 1770.5,640.2" fill="#d06d05" stroke="#d06d05" stroke-width="0.4"/><polygon points="1757.7,659 1777.9,642.4 1774.3,641.2" fill="#ce6c05" stroke="#ce6c05" stroke-width="0.4"/><polygon points="1757.7,659 1781.2,643.7 1777.9,642.4" fill="#cd6c05" stroke="#cd6c05" stroke-width="0.4"/><polygon points="1757.7,659 1784.3,645.2 1781.2,643.7" fill="#ce6c05" stroke="#ce6c05" stroke-width="0.4"/><polygon points="1757.7,659 1787.1,646.9 1784.3,645.2" fill="#d16e05" stroke="#d16e05" stroke-width="0.4"/><polygon points="1757.7,659 1789.7,648.7 1787.1,646.9" fill="#d67005" stroke="#d67005" stroke-width="0.4"/><polygon points="1757.7,659 1791.8,650.6 1789.7,648.7" fill="#db7305" stroke="#db7305" stroke-width="0.4"/><polygon points="1757.7,659 1793.6,652.6 1791.8,650.6" fill="#e27606" stroke="#e27606" stroke-width="0.4"/><polygon points="1757.7,659 1795,654.7 1793.6,652.6" fill="#e77906" stroke="#e77906" stroke-width="0.4"/><polygon points="1757.7,659 1796.1,656.9 1795,654.7" fill="#ed7c06" stroke="#ed7c06" stroke-width="0.4"/><polygon points="1757.7,659 1796.7,659 1796.1,656.9" fill="#f17e06" stroke="#f17e06" stroke-width="0.4"/><polygon points="1757.7,659 1718.7,658.9 1719.1,661" fill="#f68106" stroke="#f68106" stroke-width="0.4"/><polygon points="1757.7,659 1796.8,661.2 1796.7,659" fill="#f38006" stroke="#f38006" stroke-width="0.4"/><polygon points="1757.7,659 1719.1,661 1720,663.2" fill="#f98306" stroke="#f98306" stroke-width="0.4"/><polygon points="1757.7,659 1720,663.2 1721.4,665.3" fill="#fb8406" stroke="#fb8406" stroke-width="0.4"/><polygon points="1757.7,659 1721.4,665.3 1723.1,667.4" fill="#f68106" stroke="#f68106" stroke-width="0.4"/><polygon points="1757.7,659 1723.1,667.4 1725.2,669.4" fill="#e87a06" stroke="#e87a06" stroke-width="0.4"/><polygon points="1757.7,659 1725.2,669.4 1727.7,671.2" fill="#d77105" stroke="#d77105" stroke-width="0.4"/><polygon points="1757.7,659 1791.3,671.4 1793.2,669.5" fill="#f37f06" stroke="#f37f06" stroke-width="0.4"/><polygon points="1757.7,659 1727.7,671.2 1730.5,673" fill="#c96905" stroke="#c96905" stroke-width="0.4"/><polygon points="1757.7,659 1789,673.1 1791.3,671.4" fill="#ef7d06" stroke="#ef7d06" stroke-width="0.4"/><polygon points="1757.7,659 1730.5,673 1733.6,674.5" fill="#be6405" stroke="#be6405" stroke-width="0.4"/><polygon points="1757.7,659 1786.4,674.6 1789,673.1" fill="#eb7b06" stroke="#eb7b06" stroke-width="0.4"/><polygon points="1757.7,659 1733.6,674.5 1737,675.9" fill="#ba6105" stroke="#ba6105" stroke-width="0.4"/><polygon points="1757.7,659 1783.4,676 1786.4,674.6" fill="#e87a06" stroke="#e87a06" stroke-width="0.4"/><polygon points="1757.7,659 1737,675.9 1740.6,677.2" fill="#bc6305" stroke="#bc6305" stroke-width="0.4"/><polygon points="1757.7,659 1780.1,677.3 1783.4,676" fill="#e97a06" stroke="#e97a06" stroke-width="0.4"/><polygon points="1757.7,659 1740.6,677.2 1744.4,678.2" fill="#c56705" stroke="#c56705" stroke-width="0.4"/><polygon points="1757.7,659 1776.6,678.3 1780.1,677.3" fill="#ec7c06" stroke="#ec7c06" stroke-width="0.4"/><polygon points="1757.7,659 1744.4,678.2 1748.4,679" fill="#d26e05" stroke="#d26e05" stroke-width="0.4"/><polygon points="1757.7,659 1772.9,679.1 1776.6,678.3" fill="#f07e06" stroke="#f07e06" stroke-width="0.4"/><polygon points="1757.7,659 1748.4,679 1752.5,679.6" fill="#e07606" stroke="#e07606" stroke-width="0.4"/><polygon points="1757.7,659 1752.5,679.6 1756.6,680" fill="#ec7c06" stroke="#ec7c06" stroke-width="0.4"/><polygon points="1757.7,659 1756.6,680 1760.8,680.1" fill="#f38006" stroke="#f38006" stroke-width="0.4"/></g>
<line x1="1723.7" y1="648.9" x2="1792.2" y2="669.2" stroke="#cdbfae" stroke-width="1.1" opacity="0.6"/>
<line x1="1757.7" y1="659" x2="1741.1" y2="676.6" stroke="#cdbfae" stroke-width="1.1" opacity="0.6"/>
<g><polygon points="1476.1,662.9 1513.5,274.3 1554.3,660.9 1554.6,663 1554.3,665.2 1553.7,667.4 1552.7,669.5 1551.2,671.6 1549.3,673.6 1547,675.5 1544.4,677.2 1541.5,678.8 1538.2,680.2 1534.7,681.4 1531,682.4 1527.1,683.2 1523.1,683.8 1518.9,684.1 1514.8,684.2 1510.6,684.1 1506.5,683.8 1502.5,683.2 1498.7,682.3 1495,681.3 1491.5,680.1 1488.4,678.7 1485.5,677.1 1483,675.3 1480.8,673.5 1479,671.5 1477.7,669.4 1476.7,667.2 1476.2,665.1" fill="#f60000" stroke="#990000" stroke-width="0.9" stroke-linejoin="round"/><polygon points="1513.5,274.3 1476.1,662.9 1476.2,665.1" fill="#f50000" stroke="#f50000" stroke-width="0.4"/><polygon points="1513.5,274.3 1476.2,665.1 1476.7,667.2" fill="#ed0000" stroke="#ed0000" stroke-width="0.4"/><polygon points="1513.5,274.3 1476.7,667.2 1477.7,669.4" fill="#e30000" stroke="#e30000" stroke-width="0.4"/><polygon points="1513.5,274.3 1477.7,669.4 1479,671.5" fill="#de0000" stroke="#de0000" stroke-width="0.4"/><polygon points="1513.5,274.3 1479,671.5 1480.8,673.4" fill="#e00000" stroke="#e00000" stroke-width="0.4"/><polygon points="1513.5,274.3 1480.8,673.4 1483,675.3" fill="#ea0000" stroke="#ea0000" stroke-width="0.4"/><polygon points="1513.5,274.3 1483,675.3 1485.5,677.1" fill="#ea0000" stroke="#ea0000" stroke-width="0.4"/><polygon points="1513.5,274.3 1485.5,677.1 1488.4,678.7" fill="#db0000" stroke="#db0000" stroke-width="0.4"/><polygon points="1513.5,274.3 1488.4,678.7 1491.5,680.1" fill="#c60000" stroke="#c60000" stroke-width="0.4"/><polygon points="1513.5,274.3 1491.5,680.1 1495,681.3" fill="#b60000" stroke="#b60000" stroke-width="0.4"/><polygon points="1513.5,274.3 1495,681.3 1498.6,682.3" fill="#b10000" stroke="#b10000" stroke-width="0.4"/><polygon points="1513.5,274.3 1531,682.4 1534.7,681.4" fill="#f40000" stroke="#f40000" stroke-width="0.4"/><polygon points="1513.5,274.3 1498.6,682.3 1502.5,683.2" fill="#ba0000" stroke="#ba0000" stroke-width="0.4"/><polygon points="1513.5,274.3 1527.1,683.2 1531,682.4" fill="#f20000" stroke="#f20000" stroke-width="0.4"/><polygon points="1513.5,274.3 1502.5,683.2 1506.5,683.8" fill="#cb0000" stroke="#cb0000" stroke-width="0.4"/><polygon points="1513.5,274.3 1523.1,683.8 1527.1,683.2" fill="#f00000" stroke="#f00000" stroke-width="0.4"/><polygon points="1513.5,274.3 1506.5,683.8 1510.6,684.1" fill="#de0000" stroke="#de0000" stroke-width="0.4"/><polygon points="1513.5,274.3 1518.9,684.1 1523.1,683.8" fill="#ef0000" stroke="#ef0000" stroke-width="0.4"/><polygon points="1513.5,274.3 1510.6,684.1 1514.8,684.2" fill="#ec0000" stroke="#ec0000" stroke-width="0.4"/><polygon points="1513.5,274.3 1514.8,684.2 1518.9,684.1" fill="#ef0000" stroke="#ef0000" stroke-width="0.4"/></g>
<g><polygon points="1231,669.1 1258.4,451.5 1310.1,662.7 1310.4,664.9 1310.2,667.1 1309.6,669.3 1308.6,671.5 1307.1,673.6 1305.3,675.7 1303,677.7 1300.4,679.6 1297.5,681.3 1294.2,682.9 1290.7,684.4 1287,685.6 1283.1,686.6 1279,687.4 1274.8,688 1270.6,688.3 1266.4,688.5 1262.2,688.3 1258.2,688 1254.2,687.4 1250.5,686.5 1247,685.5 1243.8,684.2 1240.8,682.8 1238.2,681.2 1236,679.5 1234.1,677.6 1232.7,675.6 1231.7,673.5 1231.1,671.3" fill="#00fafa" stroke="#009b9b" stroke-width="0.9" stroke-linejoin="round"/><polygon points="1258.4,451.5 1231,669.1 1231.1,671.3" fill="#00f6f6" stroke="#00f6f6" stroke-width="0.4"/><polygon points="1258.4,451.5 1231.1,671.3 1231.7,673.5" fill="#00f0f0" stroke="#00f0f0" stroke-width="0.4"/><polygon points="1258.4,451.5 1231.7,673.5 1232.7,675.6" fill="#00eeee" stroke="#00eeee" stroke-width="0.4"/><polygon points="1258.4,451.5 1232.7,675.6 1234.1,677.6" fill="#00efef" stroke="#00efef" stroke-width="0.4"/><polygon points="1258.4,451.5 1234.1,677.6 1236,679.5" fill="#00f4f4" stroke="#00f4f4" stroke-width="0.4"/><polygon points="1258.4,451.5 1236,679.5 1238.2,681.2" fill="#00f4f4" stroke="#00f4f4" stroke-width="0.4"/><polygon points="1258.4,451.5 1238.2,681.2 1240.8,682.8" fill="#00eded" stroke="#00eded" stroke-width="0.4"/><polygon points="1258.4,451.5 1240.8,682.8 1243.8,684.3" fill="#00e3e3" stroke="#00e3e3" stroke-width="0.4"/><polygon points="1258.4,451.5 1243.8,684.3 1247,685.5" fill="#00dcdc" stroke="#00dcdc" stroke-width="0.4"/><polygon points="1258.4,451.5 1247,685.5 1250.5,686.5" fill="#00dada" stroke="#00dada" stroke-width="0.4"/><polygon points="1258.4,451.5 1283.1,686.6 1287,685.6" fill="#00f8f8" stroke="#00f8f8" stroke-width="0.4"/><polygon points="1258.4,451.5 1250.5,686.5 1254.3,687.4" fill="#00dede" stroke="#00dede" stroke-width="0.4"/><polygon points="1258.4,451.5 1279,687.4 1283.1,686.6" fill="#00f6f6" stroke="#00f6f6" stroke-width="0.4"/><polygon points="1258.4,451.5 1254.3,687.4 1258.2,688" fill="#00e5e5" stroke="#00e5e5" stroke-width="0.4"/><polygon points="1258.4,451.5 1274.8,688 1279,687.4" fill="#00f4f4" stroke="#00f4f4" stroke-width="0.4"/><polygon points="1258.4,451.5 1258.2,688 1262.2,688.3" fill="#00eded" stroke="#00eded" stroke-width="0.4"/><polygon points="1258.4,451.5 1270.6,688.3 1274.8,688" fill="#00f3f3" stroke="#00f3f3" stroke-width="0.4"/><polygon points="1258.4,451.5 1262.2,688.3 1266.4,688.4" fill="#00f2f2" stroke="#00f2f2" stroke-width="0.4"/><polygon points="1258.4,451.5 1266.4,688.4 1270.6,688.3" fill="#00f3f3" stroke="#00f3f3" stroke-width="0.4"/></g>
<g><polygon points="1565.8,691.2 1566,688.9 1566.6,686.7 1607.5,569.1 1645.4,689.1 1645.7,691.4 1645.7,693.6 1645.2,695.9 1644.2,698.1 1642.8,700.3 1641.1,702.3 1638.9,704.3 1636.3,706.1 1633.4,707.7 1630.2,709.2 1626.7,710.5 1623,711.5 1619.1,712.4 1615,713 1610.8,713.3 1606.6,713.4 1602.3,713.3 1598.1,712.9 1594,712.3 1590,711.5 1586.2,710.4 1582.6,709.1 1579.3,707.6 1576.3,706 1573.6,704.2 1571.3,702.2 1569.3,700.1 1567.8,698 1566.7,695.8 1566,693.5" fill="#00f800" stroke="#009a00" stroke-width="0.9" stroke-linejoin="round"/><polygon points="1607.5,569.1 1565.8,691.2 1566,693.5" fill="#00f700" stroke="#00f700" stroke-width="0.4"/><polygon points="1607.5,569.1 1566,693.5 1566.7,695.8" fill="#00f200" stroke="#00f200" stroke-width="0.4"/><polygon points="1607.5,569.1 1566.7,695.8 1567.8,698" fill="#00eb00" stroke="#00eb00" stroke-width="0.4"/><polygon points="1607.5,569.1 1567.8,698 1569.3,700.1" fill="#00e700" stroke="#00e700" stroke-width="0.4"/><polygon points="1607.5,569.1 1569.3,700.1 1571.3,702.2" fill="#00e900" stroke="#00e900" stroke-width="0.4"/><polygon points="1607.5,569.1 1571.3,702.2 1573.6,704.2" fill="#00ef00" stroke="#00ef00" stroke-width="0.4"/><polygon points="1607.5,569.1 1573.6,704.2 1576.3,706" fill="#00f000" stroke="#00f000" stroke-width="0.4"/><polygon points="1607.5,569.1 1576.3,706 1579.3,707.6" fill="#00e400" stroke="#00e400" stroke-width="0.4"/><polygon points="1607.5,569.1 1579.3,707.6 1582.6,709.1" fill="#00d500" stroke="#00d500" stroke-width="0.4"/><polygon points="1607.5,569.1 1582.6,709.1 1586.2,710.4" fill="#00ca00" stroke="#00ca00" stroke-width="0.4"/><polygon points="1607.5,569.1 1586.2,710.4 1590,711.5" fill="#00c700" stroke="#00c700" stroke-width="0.4"/><polygon points="1607.5,569.1 1623,711.5 1626.7,710.5" fill="#00f600" stroke="#00f600" stroke-width="0.4"/><polygon points="1607.5,569.1 1590,711.5 1594,712.3" fill="#00cd00" stroke="#00cd00" stroke-width="0.4"/><polygon points="1607.5,569.1 1619.1,712.4 1623,711.5" fill="#00f400" stroke="#00f400" stroke-width="0.4"/><polygon points="1607.5,569.1 1594,712.3 1598.1,712.9" fill="#00d900" stroke="#00d900" stroke-width="0.4"/><polygon points="1607.5,569.1 1615,713 1619.1,712.4" fill="#00f200" stroke="#00f200" stroke-width="0.4"/><polygon points="1607.5,569.1 1598.1,712.9 1602.3,713.3" fill="#00e600" stroke="#00e600" stroke-width="0.4"/><polygon points="1607.5,569.1 1610.8,713.3 1615,713" fill="#00f100" stroke="#00f100" stroke-width="0.4"/><polygon points="1607.5,569.1 1602.3,713.3 1606.6,713.4" fill="#00ef00" stroke="#00ef00" stroke-width="0.4"/><polygon points="1607.5,569.1 1606.6,713.4 1610.8,713.3" fill="#00f100" stroke="#00f100" stroke-width="0.4"/></g>
<g><polygon points="1316.4,697.8 1316.5,695.5 1350.1,525.4 1396.6,691.1 1397,693.3 1397,695.6 1396.5,697.9 1395.6,700.2 1394.3,702.4 1392.5,704.6 1390.3,706.7 1387.8,708.6 1384.9,710.5 1381.7,712.1 1378.2,713.6 1374.5,714.9 1370.6,715.9 1366.5,716.8 1362.3,717.4 1358,717.8 1353.7,717.9 1349.4,717.7 1345.3,717.4 1341.2,716.7 1337.4,715.9 1333.7,714.8 1330.3,713.5 1327.3,712 1324.5,710.3 1322.1,708.5 1320.1,706.5 1318.5,704.5 1317.4,702.3 1316.6,700" fill="#0000fc" stroke="#00009c" stroke-width="0.9" stroke-linejoin="round"/><polygon points="1350.1,525.4 1316.5,695.5 1316.4,697.8" fill="#0000fb" stroke="#0000fb" stroke-width="0.4"/><polygon points="1350.1,525.4 1316.4,697.8 1316.6,700" fill="#0000f3" stroke="#0000f3" stroke-width="0.4"/><polygon points="1350.1,525.4 1316.6,700 1317.4,702.3" fill="#0000e9" stroke="#0000e9" stroke-width="0.4"/><polygon points="1350.1,525.4 1317.4,702.3 1318.5,704.5" fill="#0000e3" stroke="#0000e3" stroke-width="0.4"/><polygon points="1350.1,525.4 1318.5,704.5 1320.1,706.5" fill="#0000e6" stroke="#0000e6" stroke-width="0.4"/><polygon points="1350.1,525.4 1320.1,706.5 1322.1,708.5" fill="#0000ef" stroke="#0000ef" stroke-width="0.4"/><polygon points="1350.1,525.4 1322.1,708.5 1324.5,710.3" fill="#0000f2" stroke="#0000f2" stroke-width="0.4"/><polygon points="1350.1,525.4 1324.5,710.3 1327.3,712" fill="#0000e6" stroke="#0000e6" stroke-width="0.4"/><polygon points="1350.1,525.4 1327.3,712 1330.3,713.5" fill="#0000d5" stroke="#0000d5" stroke-width="0.4"/><polygon points="1350.1,525.4 1330.3,713.5 1333.7,714.8" fill="#0000c8" stroke="#0000c8" stroke-width="0.4"/><polygon points="1350.1,525.4 1333.7,714.8 1337.4,715.9" fill="#0000c5" stroke="#0000c5" stroke-width="0.4"/><polygon points="1350.1,525.4 1370.6,715.9 1374.5,714.9" fill="#0000fa" stroke="#0000fa" stroke-width="0.4"/><polygon points="1350.1,525.4 1337.4,715.9 1341.2,716.7" fill="#0000cc" stroke="#0000cc" stroke-width="0.4"/><polygon points="1350.1,525.4 1366.5,716.8 1370.6,715.9" fill="#0000f8" stroke="#0000f8" stroke-width="0.4"/><polygon points="1350.1,525.4 1341.2,716.7 1345.3,717.4" fill="#0000d9" stroke="#0000d9" stroke-width="0.4"/><polygon points="1350.1,525.4 1362.3,717.4 1366.5,716.8" fill="#0000f6" stroke="#0000f6" stroke-width="0.4"/><polygon points="1350.1,525.4 1345.3,717.4 1349.4,717.7" fill="#0000e8" stroke="#0000e8" stroke-width="0.4"/><polygon points="1350.1,525.4 1358,717.7 1362.3,717.4" fill="#0000f5" stroke="#0000f5" stroke-width="0.4"/><polygon points="1350.1,525.4 1349.4,717.7 1353.7,717.9" fill="#0000f3" stroke="#0000f3" stroke-width="0.4"/><polygon points="1350.1,525.4 1353.7,717.9 1358,717.7" fill="#0000f5" stroke="#0000f5" stroke-width="0.4"/></g>
<g><polygon points="1659,720.7 1659.1,718.3 1659.6,716 1660.5,713.7 1661.9,711.5 1663.6,709.4 1665.8,707.5 1668.3,705.6 1671.2,704 1674.3,702.6 1677.7,701.3 1681.4,700.3 1685.2,699.4 1689.2,698.9 1693.3,698.5 1697.5,698.4 1701.7,698.5 1705.9,698.9 1710,699.5 1714.1,700.3 1717.9,701.4 1721.6,702.6 1725.1,704.1 1728.2,705.8 1731.1,707.6 1733.7,709.5 1735.9,711.6 1737.7,713.8 1739.1,716.1 1740,718.5 1740.6,720.8 1740.6,723.2 1740.3,725.6 1739.5,727.9 1738.2,730.1 1736.5,732.3 1734.5,734.3 1732,736.2 1729.1,737.9 1726,739.4 1722.5,740.7 1718.8,741.8 1714.8,742.7 1710.7,743.3 1706.5,743.7 1702.2,743.8 1697.8,743.7 1693.5,743.3 1689.2,742.6 1685.1,741.8 1681.2,740.6 1677.4,739.3 1673.9,737.8 1670.8,736 1667.9,734.2 1665.4,732.1 1663.3,730 1661.6,727.7 1660.3,725.4 1659.4,723" fill="#f48006" stroke="#974f04" stroke-width="0.9" stroke-linejoin="round"/><polygon points="1699.8,720.7 1697.5,698.4 1693.4,698.5" fill="#eb7b06" stroke="#eb7b06" stroke-width="0.4"/><polygon points="1699.8,720.7 1701.7,698.5 1697.5,698.4" fill="#e67806" stroke="#e67806" stroke-width="0.4"/><polygon points="1699.8,720.7 1693.4,698.5 1689.2,698.9" fill="#f07e06" stroke="#f07e06" stroke-width="0.4"/><polygon points="1699.8,720.7 1705.9,698.9 1701.7,698.5" fill="#df7505" stroke="#df7505" stroke-width="0.4"/><polygon points="1699.8,720.7 1689.2,698.9 1685.2,699.4" fill="#f37f06" stroke="#f37f06" stroke-width="0.4"/><polygon points="1699.8,720.7 1710.1,699.5 1705.9,698.9" fill="#d97205" stroke="#d97205" stroke-width="0.4"/><polygon points="1699.8,720.7 1714.1,700.3 1710.1,699.5" fill="#d46f05" stroke="#d46f05" stroke-width="0.4"/><polygon points="1699.8,720.7 1717.9,701.4 1714.1,700.3" fill="#d06d05" stroke="#d06d05" stroke-width="0.4"/><polygon points="1699.8,720.7 1721.6,702.7 1717.9,701.4" fill="#ce6c05" stroke="#ce6c05" stroke-width="0.4"/><polygon points="1699.8,720.7 1725.1,704.1 1721.6,702.7" fill="#cd6c05" stroke="#cd6c05" stroke-width="0.4"/><polygon points="1699.8,720.7 1728.3,705.8 1725.1,704.1" fill="#ce6c05" stroke="#ce6c05" stroke-width="0.4"/><polygon points="1699.8,720.7 1731.1,707.6 1728.3,705.8" fill="#d16e05" stroke="#d16e05" stroke-width="0.4"/><polygon points="1699.8,720.7 1733.7,709.5 1731.1,707.6" fill="#d67005" stroke="#d67005" stroke-width="0.4"/><polygon points="1699.8,720.7 1735.9,711.6 1733.7,709.5" fill="#db7305" stroke="#db7305" stroke-width="0.4"/><polygon points="1699.8,720.7 1737.7,713.8 1735.9,711.6" fill="#e27606" stroke="#e27606" stroke-width="0.4"/><polygon points="1699.8,720.7 1739.1,716.1 1737.7,713.8" fill="#e77906" stroke="#e77906" stroke-width="0.4"/><polygon points="1699.8,720.7 1740,718.5 1739.1,716.1" fill="#ed7c06" stroke="#ed7c06" stroke-width="0.4"/><polygon points="1699.8,720.7 1740.6,720.8 1740,718.5" fill="#f17e06" stroke="#f17e06" stroke-width="0.4"/><polygon points="1699.8,720.7 1659,720.7 1659.4,723.1" fill="#f68106" stroke="#f68106" stroke-width="0.4"/><polygon points="1699.8,720.7 1740.6,723.2 1740.6,720.8" fill="#f38006" stroke="#f38006" stroke-width="0.4"/><polygon points="1699.8,720.7 1659.4,723.1 1660.3,725.4" fill="#f98306" stroke="#f98306" stroke-width="0.4"/><polygon points="1699.8,720.7 1660.3,725.4 1661.6,727.7" fill="#fb8406" stroke="#fb8406" stroke-width="0.4"/><polygon points="1699.8,720.7 1661.6,727.7 1663.3,730" fill="#f68106" stroke="#f68106" stroke-width="0.4"/><polygon points="1699.8,720.7 1663.3,730 1665.4,732.1" fill="#e87a06" stroke="#e87a06" stroke-width="0.4"/><polygon points="1699.8,720.7 1665.4,732.1 1667.9,734.2" fill="#d77105" stroke="#d77105" stroke-width="0.4"/><polygon points="1699.8,720.7 1734.5,734.3 1736.5,732.3" fill="#f37f06" stroke="#f37f06" stroke-width="0.4"/><polygon points="1699.8,720.7 1667.9,734.2 1670.8,736.1" fill="#c96905" stroke="#c96905" stroke-width="0.4"/><polygon points="1699.8,720.7 1732,736.2 1734.5,734.3" fill="#ef7d06" stroke="#ef7d06" stroke-width="0.4"/><polygon points="1699.8,720.7 1670.8,736.1 1673.9,737.8" fill="#be6405" stroke="#be6405" stroke-width="0.4"/><polygon points="1699.8,720.7 1729.1,737.9 1732,736.2" fill="#eb7b06" stroke="#eb7b06" stroke-width="0.4"/><polygon points="1699.8,720.7 1673.9,737.8 1677.4,739.3" fill="#ba6105" stroke="#ba6105" stroke-width="0.4"/><polygon points="1699.8,720.7 1726,739.4 1729.1,737.9" fill="#e87a06" stroke="#e87a06" stroke-width="0.4"/><polygon points="1699.8,720.7 1677.4,739.3 1681.2,740.6" fill="#bc6305" stroke="#bc6305" stroke-width="0.4"/><polygon points="1699.8,720.7 1722.5,740.7 1726,739.4" fill="#e97a06" stroke="#e97a06" stroke-width="0.4"/><polygon points="1699.8,720.7 1681.2,740.6 1685.1,741.8" fill="#c56705" stroke="#c56705" stroke-width="0.4"/><polygon points="1699.8,720.7 1718.8,741.8 1722.5,740.7" fill="#ec7c06" stroke="#ec7c06" stroke-width="0.4"/><polygon points="1699.8,720.7 1685.1,741.8 1689.2,742.6" fill="#d26e05" stroke="#d26e05" stroke-width="0.4"/><polygon points="1699.8,720.7 1714.8,742.7 1718.8,741.8" fill="#f07e06" stroke="#f07e06" stroke-width="0.4"/><polygon points="1699.8,720.7 1689.2,742.6 1693.5,743.3" fill="#e07606" stroke="#e07606" stroke-width="0.4"/><polygon points="1699.8,720.7 1693.5,743.3 1697.8,743.7" fill="#ec7c06" stroke="#ec7c06" stroke-width="0.4"/><polygon points="1699.8,720.7 1697.8,743.7 1702.2,743.8" fill="#f38006" stroke="#f38006" stroke-width="0.4"/></g>
<line x1="1664.7" y1="709.8" x2="1735.4" y2="731.9" stroke="#cdbfae" stroke-width="1.1" opacity="0.6"/>
<line x1="1699.8" y1="720.7" x2="1681.7" y2="740" stroke="#cdbfae" stroke-width="1.1" opacity="0.6"/>
<g><polygon points="1405.2,727.6 1405.2,725.2 1405.7,722.8 1443.1,568.8 1486.6,720.6 1487.1,722.9 1487.3,725.3 1486.9,727.7 1486.2,730.1 1484.9,732.4 1483.3,734.7 1481.2,736.8 1478.8,738.9 1475.9,740.8 1472.8,742.5 1469.3,744 1465.6,745.4 1461.6,746.5 1457.5,747.4 1453.2,748 1448.9,748.4 1444.5,748.5 1440.2,748.4 1435.9,748 1431.8,747.3 1427.8,746.4 1424,745.3 1420.5,744 1417.2,742.4 1414.3,740.7 1411.8,738.8 1409.6,736.7 1407.8,734.5 1406.5,732.3 1405.6,729.9" fill="#f60000" stroke="#990000" stroke-width="0.9" stroke-linejoin="round"/><polygon points="1443.1,568.8 1405.2,725.2 1405.2,727.6" fill="#f50000" stroke="#f50000" stroke-width="0.4"/><polygon points="1443.1,568.8 1405.2,727.6 1405.6,729.9" fill="#ed0000" stroke="#ed0000" stroke-width="0.4"/><polygon points="1443.1,568.8 1405.6,729.9 1406.5,732.3" fill="#e30000" stroke="#e30000" stroke-width="0.4"/><polygon points="1443.1,568.8 1406.5,732.3 1407.8,734.5" fill="#de0000" stroke="#de0000" stroke-width="0.4"/><polygon points="1443.1,568.8 1407.8,734.5 1409.6,736.7" fill="#e00000" stroke="#e00000" stroke-width="0.4"/><polygon points="1443.1,568.8 1409.6,736.7 1411.8,738.8" fill="#ea0000" stroke="#ea0000" stroke-width="0.4"/><polygon points="1443.1,568.8 1411.8,738.8 1414.3,740.7" fill="#ea0000" stroke="#ea0000" stroke-width="0.4"/><polygon points="1443.1,568.8 1414.3,740.7 1417.2,742.4" fill="#db0000" stroke="#db0000" stroke-width="0.4"/><polygon points="1443.1,568.8 1417.2,742.4 1420.5,743.9" fill="#c60000" stroke="#c60000" stroke-width="0.4"/><polygon points="1443.1,568.8 1420.5,743.9 1424,745.3" fill="#b60000" stroke="#b60000" stroke-width="0.4"/><polygon points="1443.1,568.8 1424,745.3 1427.8,746.4" fill="#b10000" stroke="#b10000" stroke-width="0.4"/><polygon points="1443.1,568.8 1461.6,746.5 1465.6,745.4" fill="#f40000" stroke="#f40000" stroke-width="0.4"/><polygon points="1443.1,568.8 1427.8,746.4 1431.8,747.3" fill="#ba0000" stroke="#ba0000" stroke-width="0.4"/><polygon points="1443.1,568.8 1457.5,747.4 1461.6,746.5" fill="#f20000" stroke="#f20000" stroke-width="0.4"/><polygon points="1443.1,568.8 1431.8,747.3 1435.9,748" fill="#cb0000" stroke="#cb0000" stroke-width="0.4"/><polygon points="1443.1,568.8 1453.3,748 1457.5,747.4" fill="#f00000" stroke="#f00000" stroke-width="0.4"/><polygon points="1443.1,568.8 1435.9,748 1440.2,748.4" fill="#de0000" stroke="#de0000" stroke-width="0.4"/><polygon points="1443.1,568.8 1448.9,748.4 1453.3,748" fill="#ef0000" stroke="#ef0000" stroke-width="0.4"/><polygon points="1443.1,568.8 1440.2,748.4 1444.6,748.5" fill="#ec0000" stroke="#ec0000" stroke-width="0.4"/><polygon points="1443.1,568.8 1444.6,748.5 1448.9,748.4" fill="#ef0000" stroke="#ef0000" stroke-width="0.4"/></g>
<g><polygon points="1497.6,756.1 1497.9,753.6 1498.7,751.1 1499.9,748.7 1539.4,677.9 1579.1,748.9 1580.2,751.3 1581,753.7 1581.2,756.2 1581.1,758.7 1580.4,761.2 1579.3,763.6 1577.8,766 1575.8,768.2 1573.5,770.4 1570.7,772.3 1567.6,774.1 1564.2,775.7 1560.5,777.1 1556.5,778.3 1552.3,779.2 1548,779.9 1543.7,780.3 1539.2,780.4 1534.8,780.2 1530.4,779.8 1526.1,779.2 1522,778.2 1518,777.1 1514.3,775.7 1510.9,774 1507.8,772.2 1505.1,770.2 1502.8,768.1 1500.8,765.9 1499.3,763.5 1498.3,761.1 1497.7,758.6" fill="#00f800" stroke="#009a00" stroke-width="0.9" stroke-linejoin="round"/><polygon points="1539.4,677.9 1497.6,756.1 1497.7,758.6" fill="#00f700" stroke="#00f700" stroke-width="0.4"/><polygon points="1539.4,677.9 1497.7,758.6 1498.3,761.1" fill="#00f200" stroke="#00f200" stroke-width="0.4"/><polygon points="1539.4,677.9 1498.3,761.1 1499.4,763.5" fill="#00eb00" stroke="#00eb00" stroke-width="0.4"/><polygon points="1539.4,677.9 1499.4,763.5 1500.8,765.9" fill="#00e700" stroke="#00e700" stroke-width="0.4"/><polygon points="1539.4,677.9 1500.8,765.9 1502.8,768.1" fill="#00e900" stroke="#00e900" stroke-width="0.4"/><polygon points="1539.4,677.9 1502.8,768.1 1505.1,770.2" fill="#00ef00" stroke="#00ef00" stroke-width="0.4"/><polygon points="1539.4,677.9 1505.1,770.2 1507.8,772.2" fill="#00f000" stroke="#00f000" stroke-width="0.4"/><polygon points="1539.4,677.9 1507.8,772.2 1510.9,774" fill="#00e400" stroke="#00e400" stroke-width="0.4"/><polygon points="1539.4,677.9 1510.9,774 1514.3,775.7" fill="#00d500" stroke="#00d500" stroke-width="0.4"/><polygon points="1539.4,677.9 1514.3,775.7 1518,777.1" fill="#00ca00" stroke="#00ca00" stroke-width="0.4"/><polygon points="1539.4,677.9 1518,777.1 1522,778.2" fill="#00c700" stroke="#00c700" stroke-width="0.4"/><polygon points="1539.4,677.9 1556.5,778.3 1560.4,777.1" fill="#00f600" stroke="#00f600" stroke-width="0.4"/><polygon points="1539.4,677.9 1522,778.2 1526.1,779.2" fill="#00cd00" stroke="#00cd00" stroke-width="0.4"/><polygon points="1539.4,677.9 1552.3,779.2 1556.5,778.3" fill="#00f400" stroke="#00f400" stroke-width="0.4"/><polygon points="1539.4,677.9 1526.1,779.2 1530.4,779.8" fill="#00d900" stroke="#00d900" stroke-width="0.4"/><polygon points="1539.4,677.9 1548,779.9 1552.3,779.2" fill="#00f200" stroke="#00f200" stroke-width="0.4"/><polygon points="1539.4,677.9 1530.4,779.8 1534.8,780.3" fill="#00e600" stroke="#00e600" stroke-width="0.4"/><polygon points="1539.4,677.9 1543.7,780.3 1548,779.9" fill="#00f100" stroke="#00f100" stroke-width="0.4"/><polygon points="1539.4,677.9 1534.8,780.3 1539.2,780.4" fill="#00ef00" stroke="#00ef00" stroke-width="0.4"/><polygon points="1539.4,677.9 1539.2,780.4 1543.7,780.3" fill="#00f100" stroke="#00f100" stroke-width="0.4"/></g>
<g><polygon points="1593.8,788.3 1594,785.7 1594.6,783.1 1595.7,780.6 1597.2,778.2 1599.1,776 1601.5,773.8 1604.2,771.8 1607.2,770 1610.6,768.5 1614.3,767.1 1618.1,765.9 1622.2,765 1626.4,764.4 1630.8,764 1635.1,763.9 1639.5,764 1643.9,764.4 1648.2,765.1 1652.4,766 1656.4,767.1 1660.2,768.5 1663.7,770.1 1667,771.9 1669.9,773.9 1672.5,776.1 1674.7,778.4 1676.5,780.8 1677.8,783.3 1678.7,785.8 1679.2,788.4 1679.2,791 1678.7,793.6 1677.7,796.1 1676.3,798.6 1674.5,801 1672.2,803.2 1669.5,805.2 1666.5,807.1 1663.1,808.8 1659.4,810.2 1655.4,811.5 1651.2,812.4 1646.9,813.1 1642.4,813.5 1637.9,813.7 1633.4,813.5 1628.8,813.1 1624.4,812.4 1620.2,811.4 1616,810.2 1612.2,808.7 1608.6,807 1605.3,805.1 1602.4,803.1 1599.9,800.9 1597.8,798.5 1596.1,796 1594.9,793.5 1594.1,790.9" fill="#f48006" stroke="#974f04" stroke-width="0.9" stroke-linejoin="round"/><polygon points="1636.5,788.4 1635.1,763.9 1630.8,764" fill="#eb7b06" stroke="#eb7b06" stroke-width="0.4"/><polygon points="1636.5,788.4 1639.5,764 1635.1,763.9" fill="#e67806" stroke="#e67806" stroke-width="0.4"/><polygon points="1636.5,788.4 1630.8,764 1626.4,764.4" fill="#f07e06" stroke="#f07e06" stroke-width="0.4"/><polygon points="1636.5,788.4 1643.9,764.4 1639.5,764" fill="#df7505" stroke="#df7505" stroke-width="0.4"/><polygon points="1636.5,788.4 1626.4,764.4 1622.2,765" fill="#f37f06" stroke="#f37f06" stroke-width="0.4"/><polygon points="1636.5,788.4 1648.2,765.1 1643.9,764.4" fill="#d97205" stroke="#d97205" stroke-width="0.4"/><polygon points="1636.5,788.4 1652.4,766 1648.2,765.1" fill="#d46f05" stroke="#d46f05" stroke-width="0.4"/><polygon points="1636.5,788.4 1656.4,767.1 1652.4,766" fill="#d06d05" stroke="#d06d05" stroke-width="0.4"/><polygon points="1636.5,788.4 1660.2,768.5 1656.4,767.1" fill="#ce6c05" stroke="#ce6c05" stroke-width="0.4"/><polygon points="1636.5,788.4 1663.7,770.1 1660.2,768.5" fill="#cd6c05" stroke="#cd6c05" stroke-width="0.4"/><polygon points="1636.5,788.4 1667,771.9 1663.7,770.1" fill="#ce6c05" stroke="#ce6c05" stroke-width="0.4"/><polygon points="1636.5,788.4 1669.9,773.9 1667,771.9" fill="#d16e05" stroke="#d16e05" stroke-width="0.4"/><polygon points="1636.5,788.4 1672.5,776.1 1669.9,773.9" fill="#d67005" stroke="#d67005" stroke-width="0.4"/><polygon points="1636.5,788.4 1674.7,778.4 1672.5,776.1" fill="#db7305" stroke="#db7305" stroke-width="0.4"/><polygon points="1636.5,788.4 1676.5,780.8 1674.7,778.4" fill="#e27606" stroke="#e27606" stroke-width="0.4"/><polygon points="1636.5,788.4 1677.8,783.3 1676.5,780.8" fill="#e77906" stroke="#e77906" stroke-width="0.4"/><polygon points="1636.5,788.4 1678.7,785.8 1677.8,783.3" fill="#ed7c06" stroke="#ed7c06" stroke-width="0.4"/><polygon points="1636.5,788.4 1679.2,788.4 1678.7,785.8" fill="#f17e06" stroke="#f17e06" stroke-width="0.4"/><polygon points="1636.5,788.4 1593.8,788.3 1594.1,790.9" fill="#f68106" stroke="#f68106" stroke-width="0.4"/><polygon points="1636.5,788.4 1679.2,791 1679.2,788.4" fill="#f38006" stroke="#f38006" stroke-width="0.4"/><polygon points="1636.5,788.4 1594.1,790.9 1594.9,793.5" fill="#f98306" stroke="#f98306" stroke-width="0.4"/><polygon points="1636.5,788.4 1594.9,793.5 1596.1,796" fill="#fb8406" stroke="#fb8406" stroke-width="0.4"/><polygon points="1636.5,788.4 1596.1,796 1597.8,798.5" fill="#f68106" stroke="#f68106" stroke-width="0.4"/><polygon points="1636.5,788.4 1597.8,798.5 1599.9,800.9" fill="#e87a06" stroke="#e87a06" stroke-width="0.4"/><polygon points="1636.5,788.4 1599.9,800.9 1602.4,803.1" fill="#d77105" stroke="#d77105" stroke-width="0.4"/><polygon points="1636.5,788.4 1672.2,803.2 1674.5,801" fill="#f37f06" stroke="#f37f06" stroke-width="0.4"/><polygon points="1636.5,788.4 1602.4,803.1 1605.3,805.2" fill="#c96905" stroke="#c96905" stroke-width="0.4"/><polygon points="1636.5,788.4 1669.5,805.2 1672.2,803.2" fill="#ef7d06" stroke="#ef7d06" stroke-width="0.4"/><polygon points="1636.5,788.4 1605.3,805.2 1608.6,807" fill="#be6405" stroke="#be6405" stroke-width="0.4"/><polygon points="1636.5,788.4 1666.5,807.1 1669.5,805.2" fill="#eb7b06" stroke="#eb7b06" stroke-width="0.4"/><polygon points="1636.5,788.4 1608.6,807 1612.2,808.7" fill="#ba6105" stroke="#ba6105" stroke-width="0.4"/><polygon points="1636.5,788.4 1663.1,808.8 1666.5,807.1" fill="#e87a06" stroke="#e87a06" stroke-width="0.4"/><polygon points="1636.5,788.4 1612.2,808.7 1616.1,810.2" fill="#bc6305" stroke="#bc6305" stroke-width="0.4"/><polygon points="1636.5,788.4 1659.4,810.2 1663.1,808.8" fill="#e97a06" stroke="#e97a06" stroke-width="0.4"/><polygon points="1636.5,788.4 1616.1,810.2 1620.1,811.4" fill="#c56705" stroke="#c56705" stroke-width="0.4"/><polygon points="1636.5,788.4 1655.4,811.5 1659.4,810.2" fill="#ec7c06" stroke="#ec7c06" stroke-width="0.4"/><polygon points="1636.5,788.4 1620.1,811.4 1624.4,812.4" fill="#d26e05" stroke="#d26e05" stroke-width="0.4"/><polygon points="1636.5,788.4 1651.2,812.4 1655.4,811.5" fill="#f07e06" stroke="#f07e06" stroke-width="0.4"/><polygon points="1636.5,788.4 1624.4,812.4 1628.8,813.1" fill="#e07606" stroke="#e07606" stroke-width="0.4"/><polygon points="1636.5,788.4 1628.8,813.1 1633.4,813.5" fill="#ec7c06" stroke="#ec7c06" stroke-width="0.4"/><polygon points="1636.5,788.4 1633.4,813.5 1637.9,813.7" fill="#f38006" stroke="#f38006" stroke-width="0.4"/></g>
<line x1="1600.2" y1="776.3" x2="1673.3" y2="800.6" stroke="#cdbfae" stroke-width="1.1" opacity="0.6"/>
<line x1="1636.5" y1="788.4" x2="1616.7" y2="809.5" stroke="#cdbfae" stroke-width="1.1" opacity="0.6"/>
<line x1="1464.3" y1="127" x2="1476.3" y2="130.5" stroke="#262626" stroke-width="1.8"/>
<text x="1470.3" y="126.5" class="v" font-size="18.3">26.03</text>
<line x1="1550" y1="112.1" x2="1562.3" y2="115.7" stroke="#262626" stroke-width="1.8"/>
<text x="1556.2" y="111.6" class="v" font-size="18.8">28.03</text>
<line x1="1639.3" y1="137.4" x2="1651.8" y2="141.1" stroke="#262626" stroke-width="1.8"/>
<text x="1645.6" y="137" class="v" font-size="19.1">27.53</text>
<line x1="1398" y1="235.2" x2="1410.3" y2="238.8" stroke="#262626" stroke-width="1.8"/>
<text x="1404.2" y="234.8" class="v" font-size="18.9">21.53</text>
<line x1="1723.6" y1="384.5" x2="1735.7" y2="388" stroke="#262626" stroke-width="1.8"/>
<text x="1729.7" y="384" class="v" font-size="18.6">13.03</text>
<line x1="1484.3" y1="198.3" x2="1496.9" y2="202" stroke="#262626" stroke-width="1.8"/>
<text x="1490.6" y="197.8" class="v" font-size="19.4">25.03</text>
<line x1="1804.8" y1="598.6" x2="1816.7" y2="602.1" stroke="#262626" stroke-width="1.8"/>
<text x="1810.8" y="599.2" class="v" font-size="18.3">0.00</text>
<line x1="1575.6" y1="209.5" x2="1588.5" y2="213.3" stroke="#262626" stroke-width="1.8"/>
<text x="1582.1" y="209" class="v" font-size="19.9">25.53</text>
<line x1="1325.4" y1="293.8" x2="1338.2" y2="297.5" stroke="#262626" stroke-width="1.8"/>
<text x="1331.8" y="293.3" class="v" font-size="19.6">20.53</text>
<line x1="1664.7" y1="463.9" x2="1677.3" y2="467.6" stroke="#262626" stroke-width="1.8"/>
<text x="1671" y="463.4" class="v" font-size="19.3">11.03</text>
<line x1="1413.4" y1="273.9" x2="1426.6" y2="277.8" stroke="#262626" stroke-width="1.8"/>
<text x="1420" y="273.4" class="v" font-size="20.2">23.03</text>
<line x1="1751.5" y1="655.1" x2="1763.9" y2="658.8" stroke="#262626" stroke-width="1.8"/>
<text x="1757.7" y="655.7" class="v" font-size="19.0">0.00</text>
<line x1="1506.7" y1="270.2" x2="1520.2" y2="274.1" stroke="#262626" stroke-width="1.8"/>
<text x="1513.5" y="269.7" class="v" font-size="20.7">24.53</text>
<line x1="1251.8" y1="447.5" x2="1264.9" y2="451.3" stroke="#262626" stroke-width="1.8"/>
<text x="1258.4" y="447" class="v" font-size="20.1">14.03</text>
<line x1="1601" y1="565.1" x2="1614.1" y2="568.9" stroke="#262626" stroke-width="1.8"/>
<text x="1607.5" y="564.6" class="v" font-size="20.0">8.03</text>
<line x1="1343.5" y1="521.3" x2="1356.7" y2="525.2" stroke="#262626" stroke-width="1.8"/>
<text x="1350.1" y="520.8" class="v" font-size="20.3">11.03</text>
<line x1="1693.3" y1="716.8" x2="1706.3" y2="720.5" stroke="#262626" stroke-width="1.8"/>
<text x="1699.8" y="717.4" class="v" font-size="19.9">0.00</text>
<line x1="1436.4" y1="564.7" x2="1449.9" y2="568.6" stroke="#262626" stroke-width="1.8"/>
<text x="1443.1" y="564.2" class="v" font-size="20.7">10.03</text>
<line x1="1532.7" y1="673.8" x2="1546.2" y2="677.7" stroke="#262626" stroke-width="1.8"/>
<text x="1539.4" y="673.3" class="v" font-size="20.8">5.03</text>
<line x1="1629.7" y1="784.2" x2="1643.3" y2="788.2" stroke="#262626" stroke-width="1.8"/>
<text x="1636.5" y="784.8" class="v" font-size="20.8">0.00</text>
<g class="s"><text transform="matrix(0.2094 -0.1631 0.2099 0.1055 1223.1 704.1)" x="0" y="28" font-size="100" text-anchor="end">Se-doped TiO2</text>
<text transform="matrix(0.2033 -0.1700 0.2206 0.1099 1310.5 734.2)" x="0" y="28" font-size="100" text-anchor="end">Cu-doped TiO2</text>
<text transform="matrix(0.1967 -0.1772 0.2320 0.1145 1401.6 765.5)" x="0" y="28" font-size="100" text-anchor="end">Zn-doped TiO2</text>
<text transform="matrix(0.1892 -0.1850 0.2441 0.1194 1496.4 798.2)" x="0" y="28" font-size="100" text-anchor="end">Pure TiO2</text>
<text transform="matrix(0.1809 -0.1932 0.2571 0.1246 1595.4 832.2)" x="0" y="28" font-size="100" text-anchor="end">Precursor</text>
<text transform="matrix(0.3060 0.1015 -0.1536 0.1750 1704.9 811.0)" x="0" y="33" font-size="100" text-anchor="start">25</text>
<text transform="matrix(0.2958 0.0927 -0.1399 0.1594 1765.9 741.5)" x="0" y="33" font-size="100" text-anchor="start">50</text>
<text transform="matrix(0.2862 0.0849 -0.1279 0.1458 1821.7 678.0)" x="0" y="33" font-size="100" text-anchor="start">100</text>
<text transform="matrix(0.2771 0.0781 -0.1175 0.1339 1872.8 619.8)" x="0" y="33" font-size="100" text-anchor="start">200</text>
<text transform="matrix(0.2409 0.0663 -0.0170 0.2247 1896.7 592.4)" x="0" y="33" font-size="100" text-anchor="start">0</text>
<text transform="matrix(0.2448 0.0638 -0.0175 0.2315 1902.2 520.7)" x="0" y="33" font-size="100" text-anchor="start">5</text>
<text transform="matrix(0.2488 0.0611 -0.0181 0.2387 1907.8 446.8)" x="0" y="33" font-size="100" text-anchor="start">10</text>
<text transform="matrix(0.2530 0.0581 -0.0186 0.2462 1913.5 370.6)" x="0" y="33" font-size="100" text-anchor="start">15</text>
<text transform="matrix(0.2573 0.0550 -0.0192 0.2541 1919.5 291.9)" x="0" y="33" font-size="100" text-anchor="start">20</text>
<text transform="matrix(0.2618 0.0517 -0.0199 0.2623 1925.6 210.7)" x="0" y="33" font-size="100" text-anchor="start">25</text>
<text transform="matrix(0.2664 0.0481 -0.0205 0.2710 1932.0 126.9)" x="0" y="33" font-size="100" text-anchor="start">30</text>
<text transform="matrix(0.3236 0.1261 -0.1820 0.2100 1253.1 903.5)" x="0" y="25" font-size="100" text-anchor="middle" class="i">Nanoparticles</text>
<text transform="matrix(0.1361 -0.1662 0.3163 0.0967 1858.6 732.6)" x="0" y="25" font-size="100" text-anchor="middle">Concentration (µg/ml)</text>
<text transform="matrix(0.0243 -0.2818 0.2806 0.0353 1965.3 374.3)" x="0" y="25" font-size="100" text-anchor="middle" class="i">Mean (Zone of Inhibition in mm)</text></g>
<rect x="1117.5" y="65.4" width="319.0999999999999" height="88.5" fill="#00f400" stroke="#0c400c" stroke-width="1.6"/><text x="1124.6" y="100.3" font-size="32" class="i t" textLength="305" lengthAdjust="spacingAndGlyphs">Penicillium expansum</text><text x="1124.6" y="141.4" font-size="32" class="t" textLength="173.6" lengthAdjust="spacingAndGlyphs">MTCC 4485</text><text class="pl" transform="translate(1065.5 54) scale(0.87 1)" font-size="60">b</text>
</g>
<g id="panel-c">
<line x1="167.3" y1="1649.5" x2="433.6" y2="1459.8" stroke="#a2a2a2" stroke-width="1.25"/>
<line x1="433.6" y1="1459.8" x2="831.9" y2="1564.1" stroke="#a2a2a2" stroke-width="1.25"/>
<line x1="161.8" y1="1575.8" x2="432.8" y2="1394.7" stroke="#a2a2a2" stroke-width="1.25"/>
<line x1="432.8" y1="1394.7" x2="837.3" y2="1494.5" stroke="#a2a2a2" stroke-width="1.25"/>
<line x1="156.1" y1="1499.6" x2="431.9" y2="1327.6" stroke="#a2a2a2" stroke-width="1.25"/>
<line x1="431.9" y1="1327.6" x2="842.9" y2="1422.7" stroke="#a2a2a2" stroke-width="1.25"/>
<line x1="150.2" y1="1420.7" x2="431" y2="1258.6" stroke="#a2a2a2" stroke-width="1.25"/>
<line x1="431" y1="1258.6" x2="848.6" y2="1348.5" stroke="#a2a2a2" stroke-width="1.25"/>
<line x1="144.1" y1="1339" x2="430.1" y2="1187.5" stroke="#a2a2a2" stroke-width="1.25"/>
<line x1="430.1" y1="1187.5" x2="854.5" y2="1271.9" stroke="#a2a2a2" stroke-width="1.25"/>
<line x1="210.2" y1="1692.3" x2="180.2" y2="1233.9" stroke="#a2a2a2" stroke-width="1.25"/>
<line x1="210.2" y1="1692.3" x2="643.7" y2="1836.6" stroke="#b0b0b0" stroke-width="1.3"/>
<line x1="280.8" y1="1639" x2="259.4" y2="1195.8" stroke="#a2a2a2" stroke-width="1.25"/>
<line x1="280.8" y1="1639" x2="701.9" y2="1771.4" stroke="#b0b0b0" stroke-width="1.3"/>
<line x1="345.9" y1="1589.9" x2="331.7" y2="1161.1" stroke="#a2a2a2" stroke-width="1.25"/>
<line x1="345.9" y1="1589.9" x2="755" y2="1711.8" stroke="#b0b0b0" stroke-width="1.3"/>
<line x1="406" y1="1544.5" x2="398.1" y2="1129.2" stroke="#a2a2a2" stroke-width="1.25"/>
<line x1="406" y1="1544.5" x2="803.8" y2="1657.2" stroke="#b0b0b0" stroke-width="1.3"/>
<line x1="470.6" y1="1533.1" x2="468.8" y2="1121.4" stroke="#a2a2a2" stroke-width="1.25"/>
<line x1="212.7" y1="1734.5" x2="470.6" y2="1533.1" stroke="#b0b0b0" stroke-width="1.3"/>
<line x1="545" y1="1553.7" x2="550.2" y2="1136.2" stroke="#a2a2a2" stroke-width="1.25"/>
<line x1="295.3" y1="1762.8" x2="545" y2="1553.7" stroke="#b0b0b0" stroke-width="1.3"/>
<line x1="622" y1="1575" x2="634.7" y2="1151.6" stroke="#a2a2a2" stroke-width="1.25"/>
<line x1="381.2" y1="1792.3" x2="622" y2="1575" stroke="#b0b0b0" stroke-width="1.3"/>
<line x1="701.7" y1="1597" x2="722.4" y2="1167.5" stroke="#a2a2a2" stroke-width="1.25"/>
<line x1="470.8" y1="1823" x2="701.7" y2="1597" stroke="#b0b0b0" stroke-width="1.3"/>
<line x1="784.3" y1="1619.8" x2="813.7" y2="1184.1" stroke="#a2a2a2" stroke-width="1.25"/>
<line x1="564.2" y1="1855" x2="784.3" y2="1619.8" stroke="#b0b0b0" stroke-width="1.3"/>
<line x1="172.6" y1="1720.7" x2="137.8" y2="1254.3" stroke="#5c5c5c" stroke-width="1.15"/>
<line x1="137.8" y1="1254.3" x2="429.2" y2="1114.2" stroke="#5c5c5c" stroke-width="1.15"/>
<line x1="429.2" y1="1114.2" x2="860.6" y2="1192.7" stroke="#5c5c5c" stroke-width="1.15"/>
<line x1="434.4" y1="1523.1" x2="429.2" y2="1114.2" stroke="#5c5c5c" stroke-width="1.15"/>
<line x1="172.6" y1="1720.7" x2="434.4" y2="1523.1" stroke="#5c5c5c" stroke-width="1.15"/>
<line x1="434.4" y1="1523.1" x2="826.7" y2="1631.5" stroke="#5c5c5c" stroke-width="1.15"/>
<polyline points="172.6,1720.7 612.5,1871.6 826.7,1631.5 860.6,1192.7" fill="none" stroke="#000" stroke-width="1.9" stroke-linejoin="miter"/>
<line x1="212.7" y1="1734.5" x2="207.2" y2="1738.8" stroke="#000" stroke-width="1.7"/>
<line x1="295.3" y1="1762.8" x2="289.9" y2="1767.3" stroke="#000" stroke-width="1.7"/>
<line x1="381.2" y1="1792.3" x2="376.1" y2="1796.9" stroke="#000" stroke-width="1.7"/>
<line x1="470.8" y1="1823" x2="465.9" y2="1827.8" stroke="#000" stroke-width="1.7"/>
<line x1="564.2" y1="1855" x2="559.5" y2="1860.1" stroke="#000" stroke-width="1.7"/>
<line x1="643.7" y1="1836.6" x2="652.3" y2="1839.5" stroke="#000" stroke-width="1.7"/>
<line x1="701.9" y1="1771.4" x2="710.2" y2="1774" stroke="#000" stroke-width="1.7"/>
<line x1="755" y1="1711.8" x2="763.1" y2="1714.2" stroke="#000" stroke-width="1.7"/>
<line x1="803.8" y1="1657.2" x2="811.6" y2="1659.4" stroke="#000" stroke-width="1.7"/>
<line x1="826.7" y1="1631.5" x2="834.4" y2="1633.7" stroke="#000" stroke-width="1.7"/>
<line x1="831.9" y1="1564.1" x2="839.8" y2="1566.1" stroke="#000" stroke-width="1.7"/>
<line x1="837.3" y1="1494.5" x2="845.3" y2="1496.4" stroke="#000" stroke-width="1.7"/>
<line x1="842.9" y1="1422.7" x2="851" y2="1424.5" stroke="#000" stroke-width="1.7"/>
<line x1="848.6" y1="1348.5" x2="856.8" y2="1350.3" stroke="#000" stroke-width="1.7"/>
<line x1="854.5" y1="1271.9" x2="862.9" y2="1273.6" stroke="#000" stroke-width="1.7"/>
<line x1="860.6" y1="1192.7" x2="869.2" y2="1194.2" stroke="#000" stroke-width="1.7"/>
<g><polygon points="409.7,1554.8 438.5,1169.3 475.6,1553.5 475.7,1555.1 475.5,1556.7 474.9,1558.3 473.9,1559.9 472.7,1561.5 471,1563 469.1,1564.3 466.8,1565.6 464.3,1566.8 461.6,1567.8 458.6,1568.8 455.4,1569.5 452.1,1570.1 448.8,1570.5 445.3,1570.8 441.8,1570.8 438.3,1570.7 434.8,1570.5 431.5,1570 428.2,1569.4 425.2,1568.6 422.3,1567.7 419.7,1566.6 417.3,1565.4 415.2,1564.1 413.4,1562.7 412,1561.2 410.9,1559.7 410.1,1558.1 409.7,1556.4" fill="#00fafa" stroke="#009b9b" stroke-width="0.9" stroke-linejoin="round"/><polygon points="438.5,1169.3 409.7,1554.8 409.7,1556.4" fill="#00f9f9" stroke="#00f9f9" stroke-width="0.4"/><polygon points="438.5,1169.3 409.7,1556.4 410.1,1558.1" fill="#00f6f6" stroke="#00f6f6" stroke-width="0.4"/><polygon points="438.5,1169.3 410.1,1558.1 410.9,1559.7" fill="#00f0f0" stroke="#00f0f0" stroke-width="0.4"/><polygon points="438.5,1169.3 410.9,1559.7 412,1561.2" fill="#00eeee" stroke="#00eeee" stroke-width="0.4"/><polygon points="438.5,1169.3 412,1561.2 413.4,1562.7" fill="#00efef" stroke="#00efef" stroke-width="0.4"/><polygon points="438.5,1169.3 413.4,1562.7 415.2,1564.1" fill="#00f4f4" stroke="#00f4f4" stroke-width="0.4"/><polygon points="438.5,1169.3 415.2,1564.1 417.3,1565.4" fill="#00f4f4" stroke="#00f4f4" stroke-width="0.4"/><polygon points="438.5,1169.3 417.3,1565.4 419.7,1566.6" fill="#00eded" stroke="#00eded" stroke-width="0.4"/><polygon points="438.5,1169.3 419.7,1566.6 422.3,1567.7" fill="#00e3e3" stroke="#00e3e3" stroke-width="0.4"/><polygon points="438.5,1169.3 422.3,1567.7 425.2,1568.6" fill="#00dcdc" stroke="#00dcdc" stroke-width="0.4"/><polygon points="438.5,1169.3 425.2,1568.6 428.3,1569.4" fill="#00dada" stroke="#00dada" stroke-width="0.4"/><polygon points="438.5,1169.3 455.4,1569.5 458.6,1568.8" fill="#00f8f8" stroke="#00f8f8" stroke-width="0.4"/><polygon points="438.5,1169.3 428.3,1569.4 431.5,1570" fill="#00dede" stroke="#00dede" stroke-width="0.4"/><polygon points="438.5,1169.3 452.2,1570.1 455.4,1569.5" fill="#00f6f6" stroke="#00f6f6" stroke-width="0.4"/><polygon points="438.5,1169.3 431.5,1570 434.8,1570.5" fill="#00e5e5" stroke="#00e5e5" stroke-width="0.4"/><polygon points="438.5,1169.3 448.7,1570.5 452.2,1570.1" fill="#00f4f4" stroke="#00f4f4" stroke-width="0.4"/><polygon points="438.5,1169.3 434.8,1570.5 438.3,1570.7" fill="#00eded" stroke="#00eded" stroke-width="0.4"/><polygon points="438.5,1169.3 445.3,1570.8 448.7,1570.5" fill="#00f3f3" stroke="#00f3f3" stroke-width="0.4"/><polygon points="438.5,1169.3 438.3,1570.7 441.8,1570.8" fill="#00f2f2" stroke="#00f2f2" stroke-width="0.4"/><polygon points="438.5,1169.3 441.8,1570.8 445.3,1570.8" fill="#00f3f3" stroke="#00f3f3" stroke-width="0.4"/></g>
<g><polygon points="484.5,1576.1 520.3,1215.4 551.6,1576.4 551.5,1578.1 551,1579.8 550.1,1581.5 548.9,1583 547.4,1584.6 545.5,1586 543.3,1587.3 540.8,1588.6 538.1,1589.7 535.1,1590.6 532,1591.4 528.6,1592 525.2,1592.4 521.7,1592.7 518.1,1592.7 514.6,1592.6 511.1,1592.3 507.6,1591.9 504.3,1591.2 501.1,1590.4 498.2,1589.5 495.4,1588.4 492.9,1587.1 490.7,1585.8 488.8,1584.3 487.2,1582.8 486,1581.2 485.1,1579.5 484.6,1577.8" fill="#0000fc" stroke="#00009c" stroke-width="0.9" stroke-linejoin="round"/><polygon points="520.3,1215.4 484.5,1576.1 484.6,1577.8" fill="#0000fb" stroke="#0000fb" stroke-width="0.4"/><polygon points="520.3,1215.4 484.6,1577.8 485.1,1579.5" fill="#0000f3" stroke="#0000f3" stroke-width="0.4"/><polygon points="520.3,1215.4 485.1,1579.5 486,1581.2" fill="#0000e9" stroke="#0000e9" stroke-width="0.4"/><polygon points="520.3,1215.4 486,1581.2 487.2,1582.8" fill="#0000e3" stroke="#0000e3" stroke-width="0.4"/><polygon points="520.3,1215.4 487.2,1582.8 488.8,1584.3" fill="#0000e6" stroke="#0000e6" stroke-width="0.4"/><polygon points="520.3,1215.4 488.8,1584.3 490.7,1585.8" fill="#0000ef" stroke="#0000ef" stroke-width="0.4"/><polygon points="520.3,1215.4 490.7,1585.8 492.9,1587.1" fill="#0000f2" stroke="#0000f2" stroke-width="0.4"/><polygon points="520.3,1215.4 492.9,1587.1 495.4,1588.4" fill="#0000e6" stroke="#0000e6" stroke-width="0.4"/><polygon points="520.3,1215.4 495.4,1588.4 498.2,1589.5" fill="#0000d5" stroke="#0000d5" stroke-width="0.4"/><polygon points="520.3,1215.4 498.2,1589.5 501.1,1590.4" fill="#0000c8" stroke="#0000c8" stroke-width="0.4"/><polygon points="520.3,1215.4 501.1,1590.4 504.3,1591.2" fill="#0000c5" stroke="#0000c5" stroke-width="0.4"/><polygon points="520.3,1215.4 532,1591.4 535.1,1590.6" fill="#0000fa" stroke="#0000fa" stroke-width="0.4"/><polygon points="520.3,1215.4 504.3,1591.2 507.6,1591.9" fill="#0000cc" stroke="#0000cc" stroke-width="0.4"/><polygon points="520.3,1215.4 528.6,1592 532,1591.4" fill="#0000f8" stroke="#0000f8" stroke-width="0.4"/><polygon points="520.3,1215.4 507.6,1591.9 511.1,1592.3" fill="#0000d9" stroke="#0000d9" stroke-width="0.4"/><polygon points="520.3,1215.4 525.2,1592.4 528.6,1592" fill="#0000f6" stroke="#0000f6" stroke-width="0.4"/><polygon points="520.3,1215.4 511.1,1592.3 514.6,1592.6" fill="#0000e8" stroke="#0000e8" stroke-width="0.4"/><polygon points="520.3,1215.4 521.7,1592.7 525.2,1592.4" fill="#0000f5" stroke="#0000f5" stroke-width="0.4"/><polygon points="520.3,1215.4 514.6,1592.6 518.1,1592.7" fill="#0000f3" stroke="#0000f3" stroke-width="0.4"/><polygon points="520.3,1215.4 518.1,1592.7 521.7,1592.7" fill="#0000f5" stroke="#0000f5" stroke-width="0.4"/></g>
<g><polygon points="561.9,1598.2 562,1596.5 604.2,1262.7 630.2,1598.5 630.2,1600.3 629.8,1602 629.1,1603.7 627.9,1605.4 626.5,1607 624.6,1608.5 622.5,1609.8 620,1611.1 617.3,1612.2 614.4,1613.2 611.2,1614 607.9,1614.6 604.4,1615.1 600.9,1615.4 597.2,1615.4 593.6,1615.3 590,1615 586.5,1614.5 583.1,1613.9 579.8,1613.1 576.7,1612.1 573.8,1610.9 571.2,1609.6 568.9,1608.2 566.9,1606.7 565.1,1605.1 563.8,1603.5 562.8,1601.7 562.2,1600" fill="#f60000" stroke="#990000" stroke-width="0.9" stroke-linejoin="round"/><polygon points="604.2,1262.7 561.9,1598.2 562.2,1600" fill="#f50000" stroke="#f50000" stroke-width="0.4"/><polygon points="604.2,1262.7 562.2,1600 562.8,1601.7" fill="#ed0000" stroke="#ed0000" stroke-width="0.4"/><polygon points="604.2,1262.7 562.8,1601.7 563.8,1603.5" fill="#e30000" stroke="#e30000" stroke-width="0.4"/><polygon points="604.2,1262.7 563.8,1603.5 565.2,1605.1" fill="#de0000" stroke="#de0000" stroke-width="0.4"/><polygon points="604.2,1262.7 565.2,1605.1 566.9,1606.7" fill="#e00000" stroke="#e00000" stroke-width="0.4"/><polygon points="604.2,1262.7 566.9,1606.7 568.9,1608.2" fill="#ea0000" stroke="#ea0000" stroke-width="0.4"/><polygon points="604.2,1262.7 568.9,1608.2 571.2,1609.6" fill="#ea0000" stroke="#ea0000" stroke-width="0.4"/><polygon points="604.2,1262.7 571.2,1609.6 573.8,1610.9" fill="#db0000" stroke="#db0000" stroke-width="0.4"/><polygon points="604.2,1262.7 573.8,1610.9 576.7,1612.1" fill="#c60000" stroke="#c60000" stroke-width="0.4"/><polygon points="604.2,1262.7 576.7,1612.1 579.8,1613.1" fill="#b60000" stroke="#b60000" stroke-width="0.4"/><polygon points="604.2,1262.7 579.8,1613.1 583.1,1613.9" fill="#b10000" stroke="#b10000" stroke-width="0.4"/><polygon points="604.2,1262.7 611.2,1614 614.4,1613.2" fill="#f40000" stroke="#f40000" stroke-width="0.4"/><polygon points="604.2,1262.7 583.1,1613.9 586.5,1614.6" fill="#ba0000" stroke="#ba0000" stroke-width="0.4"/><polygon points="604.2,1262.7 607.9,1614.6 611.2,1614" fill="#f20000" stroke="#f20000" stroke-width="0.4"/><polygon points="604.2,1262.7 586.5,1614.6 590,1615" fill="#cb0000" stroke="#cb0000" stroke-width="0.4"/><polygon points="604.2,1262.7 604.4,1615.1 607.9,1614.6" fill="#f00000" stroke="#f00000" stroke-width="0.4"/><polygon points="604.2,1262.7 590,1615 593.6,1615.3" fill="#de0000" stroke="#de0000" stroke-width="0.4"/><polygon points="604.2,1262.7 600.9,1615.4 604.4,1615.1" fill="#ef0000" stroke="#ef0000" stroke-width="0.4"/><polygon points="604.2,1262.7 593.6,1615.3 597.3,1615.4" fill="#ec0000" stroke="#ec0000" stroke-width="0.4"/><polygon points="604.2,1262.7 597.3,1615.4 600.9,1615.4" fill="#ef0000" stroke="#ef0000" stroke-width="0.4"/></g>
<g><polygon points="349.1,1602.8 349.1,1601 376,1294.2 417.8,1599.5 417.9,1601.3 417.5,1603.1 416.8,1604.8 415.8,1606.5 414.3,1608.2 412.6,1609.8 410.5,1611.3 408.1,1612.7 405.4,1614 402.5,1615.1 399.3,1616.1 396,1616.9 392.6,1617.5 389,1618 385.4,1618.2 381.7,1618.3 378.1,1618.2 374.5,1617.9 371,1617.4 367.7,1616.8 364.6,1615.9 361.6,1614.9 358.9,1613.8 356.5,1612.5 354.4,1611.1 352.6,1609.5 351.2,1607.9 350.1,1606.3 349.4,1604.5" fill="#00fafa" stroke="#009b9b" stroke-width="0.9" stroke-linejoin="round"/><polygon points="376,1294.2 349.1,1601 349.1,1602.8" fill="#00f9f9" stroke="#00f9f9" stroke-width="0.4"/><polygon points="376,1294.2 349.1,1602.8 349.4,1604.5" fill="#00f6f6" stroke="#00f6f6" stroke-width="0.4"/><polygon points="376,1294.2 349.4,1604.5 350.1,1606.3" fill="#00f0f0" stroke="#00f0f0" stroke-width="0.4"/><polygon points="376,1294.2 350.1,1606.3 351.2,1607.9" fill="#00eeee" stroke="#00eeee" stroke-width="0.4"/><polygon points="376,1294.2 351.2,1607.9 352.7,1609.5" fill="#00efef" stroke="#00efef" stroke-width="0.4"/><polygon points="376,1294.2 352.7,1609.5 354.4,1611.1" fill="#00f4f4" stroke="#00f4f4" stroke-width="0.4"/><polygon points="376,1294.2 354.4,1611.1 356.5,1612.5" fill="#00f4f4" stroke="#00f4f4" stroke-width="0.4"/><polygon points="376,1294.2 356.5,1612.5 358.9,1613.8" fill="#00eded" stroke="#00eded" stroke-width="0.4"/><polygon points="376,1294.2 358.9,1613.8 361.6,1614.9" fill="#00e3e3" stroke="#00e3e3" stroke-width="0.4"/><polygon points="376,1294.2 361.6,1614.9 364.6,1615.9" fill="#00dcdc" stroke="#00dcdc" stroke-width="0.4"/><polygon points="376,1294.2 364.6,1615.9 367.7,1616.8" fill="#00dada" stroke="#00dada" stroke-width="0.4"/><polygon points="376,1294.2 396,1616.9 399.3,1616.1" fill="#00f8f8" stroke="#00f8f8" stroke-width="0.4"/><polygon points="376,1294.2 367.7,1616.8 371,1617.4" fill="#00dede" stroke="#00dede" stroke-width="0.4"/><polygon points="376,1294.2 392.6,1617.5 396,1616.9" fill="#00f6f6" stroke="#00f6f6" stroke-width="0.4"/><polygon points="376,1294.2 371,1617.4 374.5,1617.9" fill="#00e5e5" stroke="#00e5e5" stroke-width="0.4"/><polygon points="376,1294.2 389,1618 392.6,1617.5" fill="#00f4f4" stroke="#00f4f4" stroke-width="0.4"/><polygon points="376,1294.2 374.5,1617.9 378.1,1618.2" fill="#00eded" stroke="#00eded" stroke-width="0.4"/><polygon points="376,1294.2 385.4,1618.2 389,1618" fill="#00f3f3" stroke="#00f3f3" stroke-width="0.4"/><polygon points="376,1294.2 378.1,1618.2 381.7,1618.3" fill="#00f2f2" stroke="#00f2f2" stroke-width="0.4"/><polygon points="376,1294.2 381.7,1618.3 385.4,1618.2" fill="#00f3f3" stroke="#00f3f3" stroke-width="0.4"/></g>
<g><polygon points="642.1,1619.3 642.5,1617.5 683.9,1457.2 711.7,1621.4 711.8,1623.2 711.5,1625 710.8,1626.8 709.8,1628.5 708.4,1630.2 706.6,1631.7 704.6,1633.2 702.2,1634.5 699.5,1635.6 696.5,1636.6 693.4,1637.5 690,1638.1 686.5,1638.6 682.9,1638.9 679.3,1639 675.6,1638.9 671.9,1638.5 668.2,1638 664.7,1637.4 661.3,1636.5 658.1,1635.5 655.1,1634.3 652.4,1633 649.9,1631.5 647.8,1629.9 645.9,1628.3 644.4,1626.5 643.3,1624.8 642.5,1623 642.1,1621.1" fill="#00f800" stroke="#009a00" stroke-width="0.9" stroke-linejoin="round"/><polygon points="683.9,1457.2 642.1,1621.1 642.5,1622.9" fill="#00f700" stroke="#00f700" stroke-width="0.4"/><polygon points="683.9,1457.2 642.5,1622.9 643.3,1624.8" fill="#00f200" stroke="#00f200" stroke-width="0.4"/><polygon points="683.9,1457.2 643.3,1624.8 644.4,1626.5" fill="#00eb00" stroke="#00eb00" stroke-width="0.4"/><polygon points="683.9,1457.2 644.4,1626.5 645.9,1628.3" fill="#00e700" stroke="#00e700" stroke-width="0.4"/><polygon points="683.9,1457.2 645.9,1628.3 647.7,1629.9" fill="#00e900" stroke="#00e900" stroke-width="0.4"/><polygon points="683.9,1457.2 647.7,1629.9 649.9,1631.5" fill="#00ef00" stroke="#00ef00" stroke-width="0.4"/><polygon points="683.9,1457.2 649.9,1631.5 652.4,1633" fill="#00f000" stroke="#00f000" stroke-width="0.4"/><polygon points="683.9,1457.2 652.4,1633 655.1,1634.3" fill="#00e400" stroke="#00e400" stroke-width="0.4"/><polygon points="683.9,1457.2 655.1,1634.3 658.1,1635.5" fill="#00d500" stroke="#00d500" stroke-width="0.4"/><polygon points="683.9,1457.2 658.1,1635.5 661.3,1636.5" fill="#00ca00" stroke="#00ca00" stroke-width="0.4"/><polygon points="683.9,1457.2 661.3,1636.5 664.7,1637.4" fill="#00c700" stroke="#00c700" stroke-width="0.4"/><polygon points="683.9,1457.2 693.4,1637.5 696.5,1636.6" fill="#00f600" stroke="#00f600" stroke-width="0.4"/><polygon points="683.9,1457.2 664.7,1637.4 668.3,1638" fill="#00cd00" stroke="#00cd00" stroke-width="0.4"/><polygon points="683.9,1457.2 690,1638.1 693.4,1637.5" fill="#00f400" stroke="#00f400" stroke-width="0.4"/><polygon points="683.9,1457.2 668.3,1638 671.9,1638.6" fill="#00d900" stroke="#00d900" stroke-width="0.4"/><polygon points="683.9,1457.2 686.5,1638.6 690,1638.1" fill="#00f200" stroke="#00f200" stroke-width="0.4"/><polygon points="683.9,1457.2 671.9,1638.6 675.6,1638.9" fill="#00e600" stroke="#00e600" stroke-width="0.4"/><polygon points="683.9,1457.2 682.9,1638.9 686.5,1638.6" fill="#00f100" stroke="#00f100" stroke-width="0.4"/><polygon points="683.9,1457.2 675.6,1638.9 679.3,1639" fill="#00ef00" stroke="#00ef00" stroke-width="0.4"/><polygon points="683.9,1457.2 679.3,1639 682.9,1638.9" fill="#00f100" stroke="#00f100" stroke-width="0.4"/></g>
<g><polygon points="425.9,1624 458.4,1267.1 495.6,1622.5 495.8,1624.3 495.6,1626.2 495,1628 494,1629.8 492.6,1631.5 490.9,1633.2 488.9,1634.7 486.6,1636.2 483.9,1637.5 481,1638.7 477.9,1639.7 474.6,1640.5 471.1,1641.2 467.5,1641.6 463.8,1641.9 460.1,1642 456.4,1641.9 452.8,1641.6 449.2,1641.1 445.8,1640.4 442.5,1639.5 439.5,1638.5 436.6,1637.3 434.1,1636 431.9,1634.5 430,1632.9 428.4,1631.2 427.2,1629.5 426.4,1627.7 425.9,1625.9" fill="#0000fc" stroke="#00009c" stroke-width="0.9" stroke-linejoin="round"/><polygon points="458.4,1267.1 425.9,1624 425.9,1625.9" fill="#0000fb" stroke="#0000fb" stroke-width="0.4"/><polygon points="458.4,1267.1 425.9,1625.9 426.4,1627.7" fill="#0000f3" stroke="#0000f3" stroke-width="0.4"/><polygon points="458.4,1267.1 426.4,1627.7 427.2,1629.5" fill="#0000e9" stroke="#0000e9" stroke-width="0.4"/><polygon points="458.4,1267.1 427.2,1629.5 428.4,1631.2" fill="#0000e3" stroke="#0000e3" stroke-width="0.4"/><polygon points="458.4,1267.1 428.4,1631.2 430,1632.9" fill="#0000e6" stroke="#0000e6" stroke-width="0.4"/><polygon points="458.4,1267.1 430,1632.9 431.9,1634.5" fill="#0000ef" stroke="#0000ef" stroke-width="0.4"/><polygon points="458.4,1267.1 431.9,1634.5 434.1,1635.9" fill="#0000f2" stroke="#0000f2" stroke-width="0.4"/><polygon points="458.4,1267.1 434.1,1635.9 436.7,1637.3" fill="#0000e6" stroke="#0000e6" stroke-width="0.4"/><polygon points="458.4,1267.1 436.7,1637.3 439.5,1638.5" fill="#0000d5" stroke="#0000d5" stroke-width="0.4"/><polygon points="458.4,1267.1 439.5,1638.5 442.5,1639.5" fill="#0000c8" stroke="#0000c8" stroke-width="0.4"/><polygon points="458.4,1267.1 442.5,1639.5 445.8,1640.4" fill="#0000c5" stroke="#0000c5" stroke-width="0.4"/><polygon points="458.4,1267.1 474.6,1640.5 477.9,1639.7" fill="#0000fa" stroke="#0000fa" stroke-width="0.4"/><polygon points="458.4,1267.1 445.8,1640.4 449.2,1641.1" fill="#0000cc" stroke="#0000cc" stroke-width="0.4"/><polygon points="458.4,1267.1 471.1,1641.2 474.6,1640.5" fill="#0000f8" stroke="#0000f8" stroke-width="0.4"/><polygon points="458.4,1267.1 449.2,1641.1 452.8,1641.6" fill="#0000d9" stroke="#0000d9" stroke-width="0.4"/><polygon points="458.4,1267.1 467.5,1641.6 471.1,1641.2" fill="#0000f6" stroke="#0000f6" stroke-width="0.4"/><polygon points="458.4,1267.1 452.8,1641.6 456.4,1641.9" fill="#0000e8" stroke="#0000e8" stroke-width="0.4"/><polygon points="458.4,1267.1 463.8,1641.9 467.5,1641.6" fill="#0000f5" stroke="#0000f5" stroke-width="0.4"/><polygon points="458.4,1267.1 456.4,1641.9 460.1,1642" fill="#0000f3" stroke="#0000f3" stroke-width="0.4"/><polygon points="458.4,1267.1 460.1,1642 463.8,1641.9" fill="#0000f5" stroke="#0000f5" stroke-width="0.4"/></g>
<g><polygon points="725.2,1643 725.5,1641.1 726.1,1639.3 727.1,1637.5 728.5,1635.9 730.2,1634.3 732.3,1632.9 734.7,1631.6 737.3,1630.4 740.2,1629.4 743.3,1628.6 746.6,1627.9 750,1627.5 753.6,1627.2 757.2,1627.1 760.9,1627.2 764.5,1627.5 768.2,1628 771.7,1628.7 775.2,1629.6 778.4,1630.6 781.5,1631.8 784.4,1633.1 787,1634.5 789.4,1636.1 791.4,1637.8 793.1,1639.5 794.5,1641.4 795.5,1643.2 796.1,1645.1 796.3,1647 796.2,1648.9 795.6,1650.8 794.7,1652.5 793.4,1654.2 791.7,1655.8 789.7,1657.3 787.3,1658.7 784.7,1659.9 781.8,1661 778.6,1661.8 775.2,1662.5 771.7,1663 768.1,1663.3 764.3,1663.4 760.6,1663.3 756.8,1662.9 753.1,1662.4 749.4,1661.7 745.9,1660.8 742.6,1659.7 739.5,1658.5 736.6,1657.1 734,1655.6 731.6,1654 729.6,1652.3 728,1650.5 726.7,1648.6 725.8,1646.8 725.3,1644.8" fill="#f48006" stroke="#974f04" stroke-width="0.9" stroke-linejoin="round"/><polygon points="760.7,1645 757.2,1627.1 753.6,1627.2" fill="#eb7b06" stroke="#eb7b06" stroke-width="0.4"/><polygon points="760.7,1645 760.9,1627.2 757.2,1627.1" fill="#e67806" stroke="#e67806" stroke-width="0.4"/><polygon points="760.7,1645 753.6,1627.2 750,1627.5" fill="#f07e06" stroke="#f07e06" stroke-width="0.4"/><polygon points="760.7,1645 764.5,1627.5 760.9,1627.2" fill="#df7505" stroke="#df7505" stroke-width="0.4"/><polygon points="760.7,1645 750,1627.5 746.6,1627.9" fill="#f37f06" stroke="#f37f06" stroke-width="0.4"/><polygon points="760.7,1645 768.2,1628 764.5,1627.5" fill="#d97205" stroke="#d97205" stroke-width="0.4"/><polygon points="760.7,1645 771.7,1628.7 768.2,1628" fill="#d46f05" stroke="#d46f05" stroke-width="0.4"/><polygon points="760.7,1645 775.2,1629.6 771.7,1628.7" fill="#d06d05" stroke="#d06d05" stroke-width="0.4"/><polygon points="760.7,1645 778.4,1630.6 775.2,1629.6" fill="#ce6c05" stroke="#ce6c05" stroke-width="0.4"/><polygon points="760.7,1645 781.5,1631.8 778.4,1630.6" fill="#cd6c05" stroke="#cd6c05" stroke-width="0.4"/><polygon points="760.7,1645 784.4,1633.1 781.5,1631.8" fill="#ce6c05" stroke="#ce6c05" stroke-width="0.4"/><polygon points="760.7,1645 787,1634.5 784.4,1633.1" fill="#d16e05" stroke="#d16e05" stroke-width="0.4"/><polygon points="760.7,1645 789.4,1636.1 787,1634.5" fill="#d67005" stroke="#d67005" stroke-width="0.4"/><polygon points="760.7,1645 791.4,1637.8 789.4,1636.1" fill="#db7305" stroke="#db7305" stroke-width="0.4"/><polygon points="760.7,1645 793.1,1639.6 791.4,1637.8" fill="#e27606" stroke="#e27606" stroke-width="0.4"/><polygon points="760.7,1645 794.5,1641.4 793.1,1639.6" fill="#e77906" stroke="#e77906" stroke-width="0.4"/><polygon points="760.7,1645 795.5,1643.2 794.5,1641.4" fill="#ed7c06" stroke="#ed7c06" stroke-width="0.4"/><polygon points="760.7,1645 796.1,1645.1 795.5,1643.2" fill="#f17e06" stroke="#f17e06" stroke-width="0.4"/><polygon points="760.7,1645 725.3,1644.9 725.8,1646.7" fill="#f68106" stroke="#f68106" stroke-width="0.4"/><polygon points="760.7,1645 796.3,1647 796.1,1645.1" fill="#f38006" stroke="#f38006" stroke-width="0.4"/><polygon points="760.7,1645 725.8,1646.7 726.7,1648.6" fill="#f98306" stroke="#f98306" stroke-width="0.4"/><polygon points="760.7,1645 726.7,1648.6 728,1650.5" fill="#fb8406" stroke="#fb8406" stroke-width="0.4"/><polygon points="760.7,1645 728,1650.5 729.6,1652.3" fill="#f68106" stroke="#f68106" stroke-width="0.4"/><polygon points="760.7,1645 729.6,1652.3 731.6,1654" fill="#e87a06" stroke="#e87a06" stroke-width="0.4"/><polygon points="760.7,1645 731.6,1654 733.9,1655.6" fill="#d77105" stroke="#d77105" stroke-width="0.4"/><polygon points="760.7,1645 791.7,1655.8 793.4,1654.2" fill="#f37f06" stroke="#f37f06" stroke-width="0.4"/><polygon points="760.7,1645 733.9,1655.6 736.6,1657.1" fill="#c96905" stroke="#c96905" stroke-width="0.4"/><polygon points="760.7,1645 789.7,1657.3 791.7,1655.8" fill="#ef7d06" stroke="#ef7d06" stroke-width="0.4"/><polygon points="760.7,1645 736.6,1657.1 739.5,1658.5" fill="#be6405" stroke="#be6405" stroke-width="0.4"/><polygon points="760.7,1645 787.3,1658.7 789.7,1657.3" fill="#eb7b06" stroke="#eb7b06" stroke-width="0.4"/><polygon points="760.7,1645 739.5,1658.5 742.6,1659.7" fill="#ba6105" stroke="#ba6105" stroke-width="0.4"/><polygon points="760.7,1645 784.7,1659.9 787.3,1658.7" fill="#e87a06" stroke="#e87a06" stroke-width="0.4"/><polygon points="760.7,1645 742.6,1659.7 745.9,1660.8" fill="#bc6305" stroke="#bc6305" stroke-width="0.4"/><polygon points="760.7,1645 781.8,1661 784.7,1659.9" fill="#e97a06" stroke="#e97a06" stroke-width="0.4"/><polygon points="760.7,1645 745.9,1660.8 749.4,1661.7" fill="#c56705" stroke="#c56705" stroke-width="0.4"/><polygon points="760.7,1645 778.6,1661.8 781.8,1661" fill="#ec7c06" stroke="#ec7c06" stroke-width="0.4"/><polygon points="760.7,1645 749.4,1661.7 753.1,1662.4" fill="#d26e05" stroke="#d26e05" stroke-width="0.4"/><polygon points="760.7,1645 775.2,1662.5 778.6,1661.8" fill="#f07e06" stroke="#f07e06" stroke-width="0.4"/><polygon points="760.7,1645 753.1,1662.4 756.8,1662.9" fill="#e07606" stroke="#e07606" stroke-width="0.4"/><polygon points="760.7,1645 756.8,1662.9 760.6,1663.3" fill="#ec7c06" stroke="#ec7c06" stroke-width="0.4"/><polygon points="760.7,1645 760.6,1663.3 764.3,1663.4" fill="#f38006" stroke="#f38006" stroke-width="0.4"/></g>
<line x1="729.5" y1="1636.1" x2="792.4" y2="1654" stroke="#cdbfae" stroke-width="1.1" opacity="0.6"/>
<line x1="760.7" y1="1645" x2="746.4" y2="1660.3" stroke="#cdbfae" stroke-width="1.1" opacity="0.6"/>
<g><polygon points="505.4,1647.9 505.6,1646 544,1393.1 576.6,1648.2 576.5,1650.1 576,1652 575.1,1653.9 573.9,1655.7 572.3,1657.4 570.3,1659 568,1660.5 565.4,1661.9 562.5,1663.1 559.4,1664.1 556.1,1665 552.6,1665.7 548.9,1666.2 545.2,1666.5 541.4,1666.6 537.7,1666.5 533.9,1666.1 530.3,1665.6 526.7,1664.9 523.4,1664 520.2,1662.9 517.2,1661.7 514.6,1660.3 512.2,1658.8 510.2,1657.1 508.5,1655.4 507.1,1653.6 506.2,1651.7 505.6,1649.8" fill="#f60000" stroke="#990000" stroke-width="0.9" stroke-linejoin="round"/><polygon points="544,1393.1 505.4,1647.9 505.6,1649.8" fill="#f50000" stroke="#f50000" stroke-width="0.4"/><polygon points="544,1393.1 505.6,1649.8 506.2,1651.7" fill="#ed0000" stroke="#ed0000" stroke-width="0.4"/><polygon points="544,1393.1 506.2,1651.7 507.1,1653.6" fill="#e30000" stroke="#e30000" stroke-width="0.4"/><polygon points="544,1393.1 507.1,1653.6 508.5,1655.4" fill="#de0000" stroke="#de0000" stroke-width="0.4"/><polygon points="544,1393.1 508.5,1655.4 510.2,1657.1" fill="#e00000" stroke="#e00000" stroke-width="0.4"/><polygon points="544,1393.1 510.2,1657.1 512.2,1658.8" fill="#ea0000" stroke="#ea0000" stroke-width="0.4"/><polygon points="544,1393.1 512.2,1658.8 514.6,1660.3" fill="#ea0000" stroke="#ea0000" stroke-width="0.4"/><polygon points="544,1393.1 514.6,1660.3 517.3,1661.7" fill="#db0000" stroke="#db0000" stroke-width="0.4"/><polygon points="544,1393.1 517.3,1661.7 520.2,1662.9" fill="#c60000" stroke="#c60000" stroke-width="0.4"/><polygon points="544,1393.1 520.2,1662.9 523.4,1664" fill="#b60000" stroke="#b60000" stroke-width="0.4"/><polygon points="544,1393.1 523.4,1664 526.7,1664.9" fill="#b10000" stroke="#b10000" stroke-width="0.4"/><polygon points="544,1393.1 556.1,1665 559.4,1664.1" fill="#f40000" stroke="#f40000" stroke-width="0.4"/><polygon points="544,1393.1 526.7,1664.9 530.3,1665.6" fill="#ba0000" stroke="#ba0000" stroke-width="0.4"/><polygon points="544,1393.1 552.6,1665.7 556.1,1665" fill="#f20000" stroke="#f20000" stroke-width="0.4"/><polygon points="544,1393.1 530.3,1665.6 533.9,1666.1" fill="#cb0000" stroke="#cb0000" stroke-width="0.4"/><polygon points="544,1393.1 548.9,1666.2 552.6,1665.7" fill="#f00000" stroke="#f00000" stroke-width="0.4"/><polygon points="544,1393.1 533.9,1666.1 537.7,1666.5" fill="#de0000" stroke="#de0000" stroke-width="0.4"/><polygon points="544,1393.1 545.2,1666.5 548.9,1666.2" fill="#ef0000" stroke="#ef0000" stroke-width="0.4"/><polygon points="544,1393.1 537.7,1666.5 541.4,1666.6" fill="#ec0000" stroke="#ec0000" stroke-width="0.4"/><polygon points="544,1393.1 541.4,1666.6 545.2,1666.5" fill="#ef0000" stroke="#ef0000" stroke-width="0.4"/></g>
<g><polygon points="283.5,1653 283.6,1651 308.7,1380.1 355.2,1649.4 355.2,1651.3 354.8,1653.2 353.9,1655.1 352.7,1657 351.1,1658.8 349.2,1660.5 347,1662.2 344.4,1663.7 341.5,1665.1 338.4,1666.3 335.1,1667.3 331.6,1668.2 327.9,1668.9 324.2,1669.4 320.4,1669.7 316.6,1669.8 312.8,1669.7 309.1,1669.4 305.5,1668.8 302.1,1668.1 298.9,1667.2 295.9,1666.1 293.1,1664.9 290.7,1663.5 288.6,1661.9 286.8,1660.3 285.4,1658.5 284.4,1656.7 283.7,1654.9" fill="#00fafa" stroke="#009b9b" stroke-width="0.9" stroke-linejoin="round"/><polygon points="308.7,1380.1 283.6,1651 283.5,1653" fill="#00f9f9" stroke="#00f9f9" stroke-width="0.4"/><polygon points="308.7,1380.1 283.5,1653 283.7,1654.9" fill="#00f6f6" stroke="#00f6f6" stroke-width="0.4"/><polygon points="308.7,1380.1 283.7,1654.9 284.4,1656.7" fill="#00f0f0" stroke="#00f0f0" stroke-width="0.4"/><polygon points="308.7,1380.1 284.4,1656.7 285.4,1658.6" fill="#00eeee" stroke="#00eeee" stroke-width="0.4"/><polygon points="308.7,1380.1 285.4,1658.6 286.8,1660.3" fill="#00efef" stroke="#00efef" stroke-width="0.4"/><polygon points="308.7,1380.1 286.8,1660.3 288.6,1661.9" fill="#00f4f4" stroke="#00f4f4" stroke-width="0.4"/><polygon points="308.7,1380.1 288.6,1661.9 290.7,1663.5" fill="#00f4f4" stroke="#00f4f4" stroke-width="0.4"/><polygon points="308.7,1380.1 290.7,1663.5 293.1,1664.9" fill="#00eded" stroke="#00eded" stroke-width="0.4"/><polygon points="308.7,1380.1 293.1,1664.9 295.9,1666.1" fill="#00e3e3" stroke="#00e3e3" stroke-width="0.4"/><polygon points="308.7,1380.1 295.9,1666.1 298.9,1667.2" fill="#00dcdc" stroke="#00dcdc" stroke-width="0.4"/><polygon points="308.7,1380.1 298.9,1667.2 302.1,1668.1" fill="#00dada" stroke="#00dada" stroke-width="0.4"/><polygon points="308.7,1380.1 331.6,1668.2 335.1,1667.3" fill="#00f8f8" stroke="#00f8f8" stroke-width="0.4"/><polygon points="308.7,1380.1 302.1,1668.1 305.5,1668.8" fill="#00dede" stroke="#00dede" stroke-width="0.4"/><polygon points="308.7,1380.1 328,1668.9 331.6,1668.2" fill="#00f6f6" stroke="#00f6f6" stroke-width="0.4"/><polygon points="308.7,1380.1 305.5,1668.8 309.1,1669.4" fill="#00e5e5" stroke="#00e5e5" stroke-width="0.4"/><polygon points="308.7,1380.1 324.2,1669.4 328,1668.9" fill="#00f4f4" stroke="#00f4f4" stroke-width="0.4"/><polygon points="308.7,1380.1 309.1,1669.4 312.8,1669.7" fill="#00eded" stroke="#00eded" stroke-width="0.4"/><polygon points="308.7,1380.1 320.4,1669.7 324.2,1669.4" fill="#00f3f3" stroke="#00f3f3" stroke-width="0.4"/><polygon points="308.7,1380.1 312.8,1669.7 316.6,1669.8" fill="#00f2f2" stroke="#00f2f2" stroke-width="0.4"/><polygon points="308.7,1380.1 316.6,1669.8 320.4,1669.7" fill="#00f3f3" stroke="#00f3f3" stroke-width="0.4"/></g>
<g><polygon points="588,1672.7 588,1670.7 588.5,1668.8 628.6,1532.8 660,1671 660.4,1673 660.5,1675 660.1,1676.9 659.3,1678.9 658.2,1680.7 656.6,1682.5 654.8,1684.2 652.5,1685.8 650,1687.2 647.1,1688.5 644,1689.5 640.7,1690.5 637.1,1691.2 633.5,1691.7 629.7,1692 625.9,1692.1 622,1692 618.2,1691.6 614.4,1691.1 610.8,1690.3 607.3,1689.4 604,1688.3 600.9,1687 598.1,1685.6 595.6,1684 593.4,1682.3 591.6,1680.5 590.1,1678.6 589,1676.7 588.3,1674.7" fill="#00f800" stroke="#009a00" stroke-width="0.9" stroke-linejoin="round"/><polygon points="628.6,1532.7 588,1672.7 588.3,1674.7" fill="#00f700" stroke="#00f700" stroke-width="0.4"/><polygon points="628.6,1532.7 588.3,1674.7 589,1676.7" fill="#00f200" stroke="#00f200" stroke-width="0.4"/><polygon points="628.6,1532.7 589,1676.7 590.1,1678.6" fill="#00eb00" stroke="#00eb00" stroke-width="0.4"/><polygon points="628.6,1532.7 590.1,1678.6 591.6,1680.5" fill="#00e700" stroke="#00e700" stroke-width="0.4"/><polygon points="628.6,1532.7 591.6,1680.5 593.4,1682.3" fill="#00e900" stroke="#00e900" stroke-width="0.4"/><polygon points="628.6,1532.7 593.4,1682.3 595.6,1684" fill="#00ef00" stroke="#00ef00" stroke-width="0.4"/><polygon points="628.6,1532.7 595.6,1684 598.1,1685.6" fill="#00f000" stroke="#00f000" stroke-width="0.4"/><polygon points="628.6,1532.7 598.1,1685.6 600.9,1687" fill="#00e400" stroke="#00e400" stroke-width="0.4"/><polygon points="628.6,1532.7 600.9,1687 604,1688.3" fill="#00d500" stroke="#00d500" stroke-width="0.4"/><polygon points="628.6,1532.7 604,1688.3 607.3,1689.4" fill="#00ca00" stroke="#00ca00" stroke-width="0.4"/><polygon points="628.6,1532.7 607.3,1689.4 610.8,1690.3" fill="#00c700" stroke="#00c700" stroke-width="0.4"/><polygon points="628.6,1532.7 640.7,1690.5 644,1689.5" fill="#00f600" stroke="#00f600" stroke-width="0.4"/><polygon points="628.6,1532.7 610.8,1690.3 614.4,1691.1" fill="#00cd00" stroke="#00cd00" stroke-width="0.4"/><polygon points="628.6,1532.7 637.1,1691.2 640.7,1690.5" fill="#00f400" stroke="#00f400" stroke-width="0.4"/><polygon points="628.6,1532.7 614.4,1691.1 618.2,1691.6" fill="#00d900" stroke="#00d900" stroke-width="0.4"/><polygon points="628.6,1532.7 633.5,1691.7 637.1,1691.2" fill="#00f200" stroke="#00f200" stroke-width="0.4"/><polygon points="628.6,1532.7 618.2,1691.6 622,1692" fill="#00e600" stroke="#00e600" stroke-width="0.4"/><polygon points="628.6,1532.7 629.7,1692 633.5,1691.7" fill="#00f100" stroke="#00f100" stroke-width="0.4"/><polygon points="628.6,1532.7 622,1692 625.9,1692.1" fill="#00ef00" stroke="#00ef00" stroke-width="0.4"/><polygon points="628.6,1532.7 625.9,1692.1 629.7,1692" fill="#00f100" stroke="#00f100" stroke-width="0.4"/></g>
<g><polygon points="362.3,1678 362.3,1676 394.9,1491.6 435.1,1674.3 435.2,1676.3 434.9,1678.3 434.2,1680.2 433.1,1682.2 431.6,1684.1 429.7,1685.8 427.5,1687.5 425,1689.1 422.2,1690.5 419.1,1691.8 415.8,1692.9 412.3,1693.8 408.6,1694.6 404.8,1695.1 401,1695.4 397.1,1695.5 393.2,1695.4 389.4,1695 385.8,1694.5 382.2,1693.7 378.9,1692.8 375.8,1691.7 372.9,1690.4 370.3,1688.9 368.1,1687.3 366.1,1685.6 364.6,1683.8 363.4,1681.9 362.7,1680" fill="#0000fc" stroke="#00009c" stroke-width="0.9" stroke-linejoin="round"/><polygon points="394.9,1491.6 362.3,1676 362.3,1678" fill="#0000fb" stroke="#0000fb" stroke-width="0.4"/><polygon points="394.9,1491.6 362.3,1678 362.7,1680" fill="#0000f3" stroke="#0000f3" stroke-width="0.4"/><polygon points="394.9,1491.6 362.7,1680 363.4,1681.9" fill="#0000e9" stroke="#0000e9" stroke-width="0.4"/><polygon points="394.9,1491.6 363.4,1681.9 364.6,1683.8" fill="#0000e3" stroke="#0000e3" stroke-width="0.4"/><polygon points="394.9,1491.6 364.6,1683.8 366.2,1685.6" fill="#0000e6" stroke="#0000e6" stroke-width="0.4"/><polygon points="394.9,1491.6 366.2,1685.6 368.1,1687.3" fill="#0000ef" stroke="#0000ef" stroke-width="0.4"/><polygon points="394.9,1491.6 368.1,1687.3 370.3,1688.9" fill="#0000f2" stroke="#0000f2" stroke-width="0.4"/><polygon points="394.9,1491.6 370.3,1688.9 372.9,1690.4" fill="#0000e6" stroke="#0000e6" stroke-width="0.4"/><polygon points="394.9,1491.6 372.9,1690.4 375.7,1691.7" fill="#0000d5" stroke="#0000d5" stroke-width="0.4"/><polygon points="394.9,1491.6 375.7,1691.7 378.9,1692.8" fill="#0000c8" stroke="#0000c8" stroke-width="0.4"/><polygon points="394.9,1491.6 378.9,1692.8 382.2,1693.7" fill="#0000c5" stroke="#0000c5" stroke-width="0.4"/><polygon points="394.9,1491.6 412.3,1693.8 415.8,1692.9" fill="#0000fa" stroke="#0000fa" stroke-width="0.4"/><polygon points="394.9,1491.6 382.2,1693.7 385.8,1694.5" fill="#0000cc" stroke="#0000cc" stroke-width="0.4"/><polygon points="394.9,1491.6 408.6,1694.6 412.3,1693.8" fill="#0000f8" stroke="#0000f8" stroke-width="0.4"/><polygon points="394.9,1491.6 385.8,1694.5 389.5,1695" fill="#0000d9" stroke="#0000d9" stroke-width="0.4"/><polygon points="394.9,1491.6 404.8,1695.1 408.6,1694.6" fill="#0000f6" stroke="#0000f6" stroke-width="0.4"/><polygon points="394.9,1491.6 389.5,1695 393.2,1695.4" fill="#0000e8" stroke="#0000e8" stroke-width="0.4"/><polygon points="394.9,1491.6 401,1695.4 404.8,1695.1" fill="#0000f5" stroke="#0000f5" stroke-width="0.4"/><polygon points="394.9,1491.6 393.2,1695.4 397.1,1695.5" fill="#0000f3" stroke="#0000f3" stroke-width="0.4"/><polygon points="394.9,1491.6 397.1,1695.5 401,1695.4" fill="#0000f5" stroke="#0000f5" stroke-width="0.4"/></g>
<g><polygon points="673.6,1696.4 674,1694.4 674.7,1692.4 675.9,1690.5 677.4,1688.7 679.2,1687 681.5,1685.4 684,1684 686.8,1682.8 689.8,1681.7 693.1,1680.8 696.6,1680.1 700.2,1679.6 703.9,1679.3 707.7,1679.2 711.5,1679.3 715.3,1679.6 719.1,1680.2 722.7,1680.9 726.3,1681.8 729.7,1682.9 732.8,1684.2 735.8,1685.6 738.5,1687.2 740.9,1688.9 742.9,1690.8 744.6,1692.7 746,1694.6 746.9,1696.7 747.5,1698.7 747.7,1700.8 747.4,1702.8 746.8,1704.8 745.7,1706.8 744.3,1708.6 742.5,1710.4 740.3,1712 737.8,1713.5 735,1714.8 731.9,1715.9 728.5,1716.9 725,1717.6 721.3,1718.2 717.5,1718.5 713.6,1718.6 709.7,1718.5 705.7,1718.1 701.9,1717.5 698.1,1716.8 694.5,1715.8 691,1714.6 687.8,1713.3 684.9,1711.8 682.2,1710.2 679.9,1708.4 677.9,1706.5 676.2,1704.6 675,1702.6 674.1,1700.5 673.7,1698.5" fill="#f48006" stroke="#974f04" stroke-width="0.9" stroke-linejoin="round"/><polygon points="710.6,1698.6 707.7,1679.2 703.9,1679.3" fill="#eb7b06" stroke="#eb7b06" stroke-width="0.4"/><polygon points="710.6,1698.6 711.5,1679.3 707.7,1679.2" fill="#e67806" stroke="#e67806" stroke-width="0.4"/><polygon points="710.6,1698.6 703.9,1679.3 700.2,1679.6" fill="#f07e06" stroke="#f07e06" stroke-width="0.4"/><polygon points="710.6,1698.6 715.3,1679.6 711.5,1679.3" fill="#df7505" stroke="#df7505" stroke-width="0.4"/><polygon points="710.6,1698.6 700.2,1679.6 696.6,1680.1" fill="#f37f06" stroke="#f37f06" stroke-width="0.4"/><polygon points="710.6,1698.6 719.1,1680.2 715.3,1679.6" fill="#d97205" stroke="#d97205" stroke-width="0.4"/><polygon points="710.6,1698.6 722.7,1680.9 719.1,1680.2" fill="#d46f05" stroke="#d46f05" stroke-width="0.4"/><polygon points="710.6,1698.6 726.3,1681.8 722.7,1680.9" fill="#d06d05" stroke="#d06d05" stroke-width="0.4"/><polygon points="710.6,1698.6 729.7,1682.9 726.3,1681.8" fill="#ce6c05" stroke="#ce6c05" stroke-width="0.4"/><polygon points="710.6,1698.6 732.8,1684.2 729.7,1682.9" fill="#cd6c05" stroke="#cd6c05" stroke-width="0.4"/><polygon points="710.6,1698.6 735.8,1685.6 732.8,1684.2" fill="#ce6c05" stroke="#ce6c05" stroke-width="0.4"/><polygon points="710.6,1698.6 738.5,1687.2 735.8,1685.6" fill="#d16e05" stroke="#d16e05" stroke-width="0.4"/><polygon points="710.6,1698.6 740.8,1688.9 738.5,1687.2" fill="#d67005" stroke="#d67005" stroke-width="0.4"/><polygon points="710.6,1698.6 742.9,1690.8 740.8,1688.9" fill="#db7305" stroke="#db7305" stroke-width="0.4"/><polygon points="710.6,1698.6 744.6,1692.7 742.9,1690.8" fill="#e27606" stroke="#e27606" stroke-width="0.4"/><polygon points="710.6,1698.6 746,1694.6 744.6,1692.7" fill="#e77906" stroke="#e77906" stroke-width="0.4"/><polygon points="710.6,1698.6 746.9,1696.7 746,1694.6" fill="#ed7c06" stroke="#ed7c06" stroke-width="0.4"/><polygon points="710.6,1698.6 747.5,1698.7 746.9,1696.7" fill="#f17e06" stroke="#f17e06" stroke-width="0.4"/><polygon points="710.6,1698.6 673.7,1698.5 674.1,1700.5" fill="#f68106" stroke="#f68106" stroke-width="0.4"/><polygon points="710.6,1698.6 747.7,1700.8 747.5,1698.7" fill="#f38006" stroke="#f38006" stroke-width="0.4"/><polygon points="710.6,1698.6 674.1,1700.5 675,1702.6" fill="#f98306" stroke="#f98306" stroke-width="0.4"/><polygon points="710.6,1698.6 675,1702.6 676.2,1704.6" fill="#fb8406" stroke="#fb8406" stroke-width="0.4"/><polygon points="710.6,1698.6 676.2,1704.6 677.9,1706.5" fill="#f68106" stroke="#f68106" stroke-width="0.4"/><polygon points="710.6,1698.6 677.9,1706.5 679.9,1708.4" fill="#e87a06" stroke="#e87a06" stroke-width="0.4"/><polygon points="710.6,1698.6 679.9,1708.4 682.2,1710.2" fill="#d77105" stroke="#d77105" stroke-width="0.4"/><polygon points="710.6,1698.6 742.5,1710.4 744.3,1708.6" fill="#f37f06" stroke="#f37f06" stroke-width="0.4"/><polygon points="710.6,1698.6 682.2,1710.2 684.9,1711.8" fill="#c96905" stroke="#c96905" stroke-width="0.4"/><polygon points="710.6,1698.6 740.3,1712 742.5,1710.4" fill="#ef7d06" stroke="#ef7d06" stroke-width="0.4"/><polygon points="710.6,1698.6 684.9,1711.8 687.8,1713.3" fill="#be6405" stroke="#be6405" stroke-width="0.4"/><polygon points="710.6,1698.6 737.8,1713.5 740.3,1712" fill="#eb7b06" stroke="#eb7b06" stroke-width="0.4"/><polygon points="710.6,1698.6 687.8,1713.3 691,1714.6" fill="#ba6105" stroke="#ba6105" stroke-width="0.4"/><polygon points="710.6,1698.6 735,1714.8 737.8,1713.5" fill="#e87a06" stroke="#e87a06" stroke-width="0.4"/><polygon points="710.6,1698.6 691,1714.6 694.5,1715.8" fill="#bc6305" stroke="#bc6305" stroke-width="0.4"/><polygon points="710.6,1698.6 731.9,1715.9 735,1714.8" fill="#e97a06" stroke="#e97a06" stroke-width="0.4"/><polygon points="710.6,1698.6 694.5,1715.8 698.1,1716.8" fill="#c56705" stroke="#c56705" stroke-width="0.4"/><polygon points="710.6,1698.6 728.6,1716.9 731.9,1715.9" fill="#ec7c06" stroke="#ec7c06" stroke-width="0.4"/><polygon points="710.6,1698.6 698.1,1716.8 701.9,1717.6" fill="#d26e05" stroke="#d26e05" stroke-width="0.4"/><polygon points="710.6,1698.6 725,1717.6 728.6,1716.9" fill="#f07e06" stroke="#f07e06" stroke-width="0.4"/><polygon points="710.6,1698.6 701.9,1717.6 705.7,1718.1" fill="#e07606" stroke="#e07606" stroke-width="0.4"/><polygon points="710.6,1698.6 705.7,1718.1 709.7,1718.5" fill="#ec7c06" stroke="#ec7c06" stroke-width="0.4"/><polygon points="710.6,1698.6 709.7,1718.5 713.6,1718.6" fill="#f38006" stroke="#f38006" stroke-width="0.4"/></g>
<line x1="678.4" y1="1689" x2="743.3" y2="1708.3" stroke="#cdbfae" stroke-width="1.1" opacity="0.6"/>
<line x1="710.6" y1="1698.6" x2="695" y2="1715.3" stroke="#cdbfae" stroke-width="1.1" opacity="0.6"/>
<g><polygon points="444.1,1701.9 444.4,1699.8 480.8,1484.8 518.1,1700.1 518.3,1702.2 518.1,1704.2 517.5,1706.3 516.5,1708.3 515.1,1710.3 513.4,1712.2 511.2,1713.9 508.8,1715.5 506,1717 502.9,1718.4 499.6,1719.5 496.1,1720.5 492.4,1721.2 488.6,1721.8 484.7,1722.1 480.8,1722.2 476.8,1722 472.9,1721.7 469.1,1721.1 465.5,1720.3 462,1719.4 458.8,1718.2 455.8,1716.8 453,1715.3 450.6,1713.7 448.6,1711.9 446.9,1710 445.6,1708.1 444.7,1706 444.2,1704" fill="#f60000" stroke="#990000" stroke-width="0.9" stroke-linejoin="round"/><polygon points="480.7,1484.8 444.1,1701.9 444.2,1704" fill="#f50000" stroke="#f50000" stroke-width="0.4"/><polygon points="480.7,1484.8 444.2,1704 444.7,1706" fill="#ed0000" stroke="#ed0000" stroke-width="0.4"/><polygon points="480.7,1484.8 444.7,1706 445.6,1708.1" fill="#e30000" stroke="#e30000" stroke-width="0.4"/><polygon points="480.7,1484.8 445.6,1708.1 446.9,1710" fill="#de0000" stroke="#de0000" stroke-width="0.4"/><polygon points="480.7,1484.8 446.9,1710 448.6,1711.9" fill="#e00000" stroke="#e00000" stroke-width="0.4"/><polygon points="480.7,1484.8 448.6,1711.9 450.6,1713.7" fill="#ea0000" stroke="#ea0000" stroke-width="0.4"/><polygon points="480.7,1484.8 450.6,1713.7 453,1715.3" fill="#ea0000" stroke="#ea0000" stroke-width="0.4"/><polygon points="480.7,1484.8 453,1715.3 455.7,1716.9" fill="#db0000" stroke="#db0000" stroke-width="0.4"/><polygon points="480.7,1484.8 455.7,1716.9 458.7,1718.2" fill="#c60000" stroke="#c60000" stroke-width="0.4"/><polygon points="480.7,1484.8 458.7,1718.2 462,1719.4" fill="#b60000" stroke="#b60000" stroke-width="0.4"/><polygon points="480.7,1484.8 462,1719.4 465.5,1720.4" fill="#b10000" stroke="#b10000" stroke-width="0.4"/><polygon points="480.7,1484.8 496.1,1720.5 499.6,1719.5" fill="#f40000" stroke="#f40000" stroke-width="0.4"/><polygon points="480.7,1484.8 465.5,1720.4 469.1,1721.1" fill="#ba0000" stroke="#ba0000" stroke-width="0.4"/><polygon points="480.7,1484.8 492.4,1721.2 496.1,1720.5" fill="#f20000" stroke="#f20000" stroke-width="0.4"/><polygon points="480.7,1484.8 469.1,1721.1 472.9,1721.7" fill="#cb0000" stroke="#cb0000" stroke-width="0.4"/><polygon points="480.7,1484.8 488.6,1721.8 492.4,1721.2" fill="#f00000" stroke="#f00000" stroke-width="0.4"/><polygon points="480.7,1484.8 472.9,1721.7 476.8,1722" fill="#de0000" stroke="#de0000" stroke-width="0.4"/><polygon points="480.7,1484.8 484.7,1722.1 488.6,1721.8" fill="#ef0000" stroke="#ef0000" stroke-width="0.4"/><polygon points="480.7,1484.8 476.8,1722 480.8,1722.2" fill="#ec0000" stroke="#ec0000" stroke-width="0.4"/><polygon points="480.7,1484.8 480.8,1722.2 484.7,1722.1" fill="#ef0000" stroke="#ef0000" stroke-width="0.4"/></g>
<g><polygon points="212.2,1707.5 212.4,1705.4 238.4,1502.6 287,1701.5 287.3,1703.6 287.1,1705.7 286.6,1707.7 285.6,1709.8 284.2,1711.8 282.5,1713.8 280.4,1715.7 277.9,1717.5 275.2,1719.1 272.1,1720.6 268.8,1722 265.2,1723.1 261.5,1724.1 257.7,1724.8 253.8,1725.4 249.8,1725.7 245.8,1725.8 241.8,1725.7 238,1725.3 234.3,1724.8 230.7,1724 227.4,1723 224.3,1721.8 221.6,1720.4 219.1,1718.9 217,1717.2 215.2,1715.5 213.8,1713.6 212.9,1711.6 212.3,1709.5" fill="#00fafa" stroke="#009b9b" stroke-width="0.9" stroke-linejoin="round"/><polygon points="238.4,1502.6 212.4,1705.4 212.2,1707.5" fill="#00f9f9" stroke="#00f9f9" stroke-width="0.4"/><polygon points="238.4,1502.6 212.2,1707.5 212.3,1709.5" fill="#00f6f6" stroke="#00f6f6" stroke-width="0.4"/><polygon points="238.4,1502.6 212.3,1709.5 212.9,1711.6" fill="#00f0f0" stroke="#00f0f0" stroke-width="0.4"/><polygon points="238.4,1502.6 212.9,1711.6 213.9,1713.6" fill="#00eeee" stroke="#00eeee" stroke-width="0.4"/><polygon points="238.4,1502.6 213.9,1713.6 215.2,1715.5" fill="#00efef" stroke="#00efef" stroke-width="0.4"/><polygon points="238.4,1502.6 215.2,1715.5 217,1717.2" fill="#00f4f4" stroke="#00f4f4" stroke-width="0.4"/><polygon points="238.4,1502.6 217,1717.2 219.1,1718.9" fill="#00f4f4" stroke="#00f4f4" stroke-width="0.4"/><polygon points="238.4,1502.6 219.1,1718.9 221.6,1720.4" fill="#00eded" stroke="#00eded" stroke-width="0.4"/><polygon points="238.4,1502.6 221.6,1720.4 224.3,1721.8" fill="#00e3e3" stroke="#00e3e3" stroke-width="0.4"/><polygon points="238.4,1502.6 224.3,1721.8 227.4,1723" fill="#00dcdc" stroke="#00dcdc" stroke-width="0.4"/><polygon points="238.4,1502.6 227.4,1723 230.7,1724" fill="#00dada" stroke="#00dada" stroke-width="0.4"/><polygon points="238.4,1502.6 261.5,1724.1 265.3,1723.1" fill="#00f8f8" stroke="#00f8f8" stroke-width="0.4"/><polygon points="238.4,1502.6 230.7,1724 234.3,1724.7" fill="#00dede" stroke="#00dede" stroke-width="0.4"/><polygon points="238.4,1502.6 257.7,1724.8 261.5,1724.1" fill="#00f6f6" stroke="#00f6f6" stroke-width="0.4"/><polygon points="238.4,1502.6 234.3,1724.7 238,1725.3" fill="#00e5e5" stroke="#00e5e5" stroke-width="0.4"/><polygon points="238.4,1502.6 253.8,1725.4 257.7,1724.8" fill="#00f4f4" stroke="#00f4f4" stroke-width="0.4"/><polygon points="238.4,1502.6 238,1725.3 241.9,1725.7" fill="#00eded" stroke="#00eded" stroke-width="0.4"/><polygon points="238.4,1502.6 249.8,1725.7 253.8,1725.4" fill="#00f3f3" stroke="#00f3f3" stroke-width="0.4"/><polygon points="238.4,1502.6 241.9,1725.7 245.8,1725.8" fill="#00f2f2" stroke="#00f2f2" stroke-width="0.4"/><polygon points="238.4,1502.6 245.8,1725.8 249.8,1725.7" fill="#00f3f3" stroke="#00f3f3" stroke-width="0.4"/></g>
<g><polygon points="529,1728.8 529.2,1726.7 529.8,1724.6 569.2,1599.3 604.4,1727 604.7,1729.1 604.6,1731.3 604.2,1733.4 603.3,1735.5 602,1737.5 600.3,1739.5 598.3,1741.3 595.9,1743 593.1,1744.6 590.1,1746 586.8,1747.1 583.3,1748.1 579.6,1748.9 575.7,1749.5 571.8,1749.8 567.7,1749.9 563.7,1749.8 559.7,1749.4 555.8,1748.8 552,1748 548.4,1747 545,1745.8 541.9,1744.4 539,1742.8 536.5,1741.1 534.3,1739.2 532.4,1737.3 531,1735.2 529.9,1733.1 529.3,1731" fill="#00f800" stroke="#009a00" stroke-width="0.9" stroke-linejoin="round"/><polygon points="569.2,1599.3 529,1728.8 529.3,1731" fill="#00f700" stroke="#00f700" stroke-width="0.4"/><polygon points="569.2,1599.3 529.3,1731 529.9,1733.1" fill="#00f200" stroke="#00f200" stroke-width="0.4"/><polygon points="569.2,1599.3 529.9,1733.1 531,1735.2" fill="#00eb00" stroke="#00eb00" stroke-width="0.4"/><polygon points="569.2,1599.3 531,1735.2 532.4,1737.3" fill="#00e700" stroke="#00e700" stroke-width="0.4"/><polygon points="569.2,1599.3 532.4,1737.3 534.3,1739.2" fill="#00e900" stroke="#00e900" stroke-width="0.4"/><polygon points="569.2,1599.3 534.3,1739.2 536.5,1741.1" fill="#00ef00" stroke="#00ef00" stroke-width="0.4"/><polygon points="569.2,1599.3 536.5,1741.1 539,1742.8" fill="#00f000" stroke="#00f000" stroke-width="0.4"/><polygon points="569.2,1599.3 539,1742.8 541.9,1744.4" fill="#00e400" stroke="#00e400" stroke-width="0.4"/><polygon points="569.2,1599.3 541.9,1744.4 545,1745.8" fill="#00d500" stroke="#00d500" stroke-width="0.4"/><polygon points="569.2,1599.3 545,1745.8 548.4,1747" fill="#00ca00" stroke="#00ca00" stroke-width="0.4"/><polygon points="569.2,1599.3 548.4,1747 552.1,1748" fill="#00c700" stroke="#00c700" stroke-width="0.4"/><polygon points="569.2,1599.3 583.3,1748.1 586.8,1747.1" fill="#00f600" stroke="#00f600" stroke-width="0.4"/><polygon points="569.2,1599.3 552.1,1748 555.8,1748.8" fill="#00cd00" stroke="#00cd00" stroke-width="0.4"/><polygon points="569.2,1599.3 579.6,1748.9 583.3,1748.1" fill="#00f400" stroke="#00f400" stroke-width="0.4"/><polygon points="569.2,1599.3 555.8,1748.8 559.7,1749.4" fill="#00d900" stroke="#00d900" stroke-width="0.4"/><polygon points="569.2,1599.3 575.7,1749.5 579.6,1748.9" fill="#00f200" stroke="#00f200" stroke-width="0.4"/><polygon points="569.2,1599.3 559.7,1749.4 563.7,1749.8" fill="#00e600" stroke="#00e600" stroke-width="0.4"/><polygon points="569.2,1599.3 571.7,1749.8 575.7,1749.5" fill="#00f100" stroke="#00f100" stroke-width="0.4"/><polygon points="569.2,1599.3 563.7,1749.8 567.7,1749.9" fill="#00ef00" stroke="#00ef00" stroke-width="0.4"/><polygon points="569.2,1599.3 567.7,1749.9 571.7,1749.8" fill="#00f100" stroke="#00f100" stroke-width="0.4"/></g>
<g><polygon points="293.1,1734.7 293.2,1732.5 293.8,1730.3 326.4,1602.4 369,1728.5 369.4,1730.6 369.3,1732.8 368.9,1734.9 368.1,1737.1 366.8,1739.2 365.1,1741.3 363.1,1743.2 360.7,1745.1 358,1746.8 355,1748.3 351.7,1749.7 348.1,1750.9 344.4,1752 340.6,1752.7 336.6,1753.3 332.5,1753.6 328.5,1753.7 324.4,1753.6 320.5,1753.2 316.7,1752.7 313,1751.8 309.6,1750.8 306.4,1749.6 303.4,1748.2 300.8,1746.6 298.6,1744.9 296.7,1743 295.2,1741 294.1,1739 293.4,1736.8" fill="#0000fc" stroke="#00009c" stroke-width="0.9" stroke-linejoin="round"/><polygon points="326.4,1602.4 293.2,1732.5 293.1,1734.7" fill="#0000fb" stroke="#0000fb" stroke-width="0.4"/><polygon points="326.4,1602.4 293.1,1734.7 293.4,1736.8" fill="#0000f3" stroke="#0000f3" stroke-width="0.4"/><polygon points="326.4,1602.4 293.4,1736.8 294,1739" fill="#0000e9" stroke="#0000e9" stroke-width="0.4"/><polygon points="326.4,1602.4 294,1739 295.2,1741" fill="#0000e3" stroke="#0000e3" stroke-width="0.4"/><polygon points="326.4,1602.4 295.2,1741 296.7,1743" fill="#0000e6" stroke="#0000e6" stroke-width="0.4"/><polygon points="326.4,1602.4 296.7,1743 298.6,1744.9" fill="#0000ef" stroke="#0000ef" stroke-width="0.4"/><polygon points="326.4,1602.4 298.6,1744.9 300.8,1746.6" fill="#0000f2" stroke="#0000f2" stroke-width="0.4"/><polygon points="326.4,1602.4 300.8,1746.6 303.4,1748.2" fill="#0000e6" stroke="#0000e6" stroke-width="0.4"/><polygon points="326.4,1602.4 303.4,1748.2 306.4,1749.6" fill="#0000d5" stroke="#0000d5" stroke-width="0.4"/><polygon points="326.4,1602.4 306.4,1749.6 309.6,1750.8" fill="#0000c8" stroke="#0000c8" stroke-width="0.4"/><polygon points="326.4,1602.4 309.6,1750.8 313,1751.8" fill="#0000c5" stroke="#0000c5" stroke-width="0.4"/><polygon points="326.4,1602.4 344.4,1751.9 348.1,1750.9" fill="#0000fa" stroke="#0000fa" stroke-width="0.4"/><polygon points="326.4,1602.4 313,1751.8 316.7,1752.7" fill="#0000cc" stroke="#0000cc" stroke-width="0.4"/><polygon points="326.4,1602.4 340.5,1752.7 344.4,1751.9" fill="#0000f8" stroke="#0000f8" stroke-width="0.4"/><polygon points="326.4,1602.4 316.7,1752.7 320.5,1753.2" fill="#0000d9" stroke="#0000d9" stroke-width="0.4"/><polygon points="326.4,1602.4 336.6,1753.3 340.5,1752.7" fill="#0000f6" stroke="#0000f6" stroke-width="0.4"/><polygon points="326.4,1602.4 320.5,1753.2 324.5,1753.6" fill="#0000e8" stroke="#0000e8" stroke-width="0.4"/><polygon points="326.4,1602.4 332.5,1753.6 336.6,1753.3" fill="#0000f5" stroke="#0000f5" stroke-width="0.4"/><polygon points="326.4,1602.4 324.5,1753.6 328.5,1753.7" fill="#0000f3" stroke="#0000f3" stroke-width="0.4"/><polygon points="326.4,1602.4 328.5,1753.7 332.5,1753.6" fill="#0000f5" stroke="#0000f5" stroke-width="0.4"/></g>
<g><polygon points="617.4,1756.8 617.4,1754.6 617.9,1752.4 618.8,1750.2 620,1748.2 621.7,1746.2 623.7,1744.3 626.1,1742.7 628.8,1741.1 631.8,1739.7 635,1738.5 638.5,1737.6 642.1,1736.8 645.9,1736.2 649.8,1735.9 653.8,1735.8 657.7,1736 661.7,1736.3 665.6,1736.9 669.4,1737.7 673.1,1738.7 676.6,1739.9 679.8,1741.3 682.9,1742.8 685.6,1744.6 688,1746.4 690.1,1748.4 691.8,1750.5 693.1,1752.7 694,1754.9 694.5,1757.1 694.6,1759.4 694.3,1761.6 693.5,1763.8 692.4,1765.9 690.8,1767.9 688.8,1769.8 686.5,1771.6 683.8,1773.2 680.8,1774.7 677.5,1775.9 674,1776.9 670.2,1777.8 666.4,1778.3 662.3,1778.7 658.3,1778.8 654.1,1778.7 650.1,1778.3 646,1777.7 642.1,1776.8 638.4,1775.8 634.9,1774.5 631.5,1773 628.5,1771.4 625.8,1769.6 623.4,1767.7 621.4,1765.7 619.8,1763.5 618.6,1761.3 617.8,1759.1" fill="#f48006" stroke="#974f04" stroke-width="0.9" stroke-linejoin="round"/><polygon points="656,1757 653.8,1735.8 649.8,1735.9" fill="#eb7b06" stroke="#eb7b06" stroke-width="0.4"/><polygon points="656,1757 657.7,1735.9 653.8,1735.8" fill="#e67806" stroke="#e67806" stroke-width="0.4"/><polygon points="656,1757 649.8,1735.9 645.9,1736.2" fill="#f07e06" stroke="#f07e06" stroke-width="0.4"/><polygon points="656,1757 661.7,1736.3 657.7,1735.9" fill="#df7505" stroke="#df7505" stroke-width="0.4"/><polygon points="656,1757 645.9,1736.2 642.1,1736.8" fill="#f37f06" stroke="#f37f06" stroke-width="0.4"/><polygon points="656,1757 665.6,1736.9 661.7,1736.3" fill="#d97205" stroke="#d97205" stroke-width="0.4"/><polygon points="656,1757 669.4,1737.7 665.6,1736.9" fill="#d46f05" stroke="#d46f05" stroke-width="0.4"/><polygon points="656,1757 673.1,1738.7 669.4,1737.7" fill="#d06d05" stroke="#d06d05" stroke-width="0.4"/><polygon points="656,1757 676.6,1739.9 673.1,1738.7" fill="#ce6c05" stroke="#ce6c05" stroke-width="0.4"/><polygon points="656,1757 679.8,1741.3 676.6,1739.9" fill="#cd6c05" stroke="#cd6c05" stroke-width="0.4"/><polygon points="656,1757 682.9,1742.8 679.8,1741.3" fill="#ce6c05" stroke="#ce6c05" stroke-width="0.4"/><polygon points="656,1757 685.6,1744.6 682.9,1742.8" fill="#d16e05" stroke="#d16e05" stroke-width="0.4"/><polygon points="656,1757 688,1746.4 685.6,1744.6" fill="#d67005" stroke="#d67005" stroke-width="0.4"/><polygon points="656,1757 690.1,1748.4 688,1746.4" fill="#db7305" stroke="#db7305" stroke-width="0.4"/><polygon points="656,1757 691.8,1750.5 690.1,1748.4" fill="#e27606" stroke="#e27606" stroke-width="0.4"/><polygon points="656,1757 693.1,1752.7 691.8,1750.5" fill="#e77906" stroke="#e77906" stroke-width="0.4"/><polygon points="656,1757 694,1754.9 693.1,1752.7" fill="#ed7c06" stroke="#ed7c06" stroke-width="0.4"/><polygon points="656,1757 694.5,1757.1 694,1754.9" fill="#f17e06" stroke="#f17e06" stroke-width="0.4"/><polygon points="656,1757 617.4,1756.8 617.8,1759.1" fill="#f68106" stroke="#f68106" stroke-width="0.4"/><polygon points="656,1757 694.6,1759.4 694.5,1757.1" fill="#f38006" stroke="#f38006" stroke-width="0.4"/><polygon points="656,1757 617.8,1759.1 618.6,1761.3" fill="#f98306" stroke="#f98306" stroke-width="0.4"/><polygon points="656,1757 618.6,1761.3 619.8,1763.5" fill="#fb8406" stroke="#fb8406" stroke-width="0.4"/><polygon points="656,1757 619.8,1763.5 621.4,1765.7" fill="#f68106" stroke="#f68106" stroke-width="0.4"/><polygon points="656,1757 621.4,1765.7 623.4,1767.7" fill="#e87a06" stroke="#e87a06" stroke-width="0.4"/><polygon points="656,1757 623.4,1767.7 625.8,1769.6" fill="#d77105" stroke="#d77105" stroke-width="0.4"/><polygon points="656,1757 688.8,1769.8 690.8,1767.9" fill="#f37f06" stroke="#f37f06" stroke-width="0.4"/><polygon points="656,1757 625.8,1769.6 628.5,1771.4" fill="#c96905" stroke="#c96905" stroke-width="0.4"/><polygon points="656,1757 686.5,1771.6 688.8,1769.8" fill="#ef7d06" stroke="#ef7d06" stroke-width="0.4"/><polygon points="656,1757 628.5,1771.4 631.5,1773" fill="#be6405" stroke="#be6405" stroke-width="0.4"/><polygon points="656,1757 683.8,1773.2 686.5,1771.6" fill="#eb7b06" stroke="#eb7b06" stroke-width="0.4"/><polygon points="656,1757 631.5,1773 634.8,1774.5" fill="#ba6105" stroke="#ba6105" stroke-width="0.4"/><polygon points="656,1757 680.8,1774.7 683.8,1773.2" fill="#e87a06" stroke="#e87a06" stroke-width="0.4"/><polygon points="656,1757 634.8,1774.5 638.4,1775.8" fill="#bc6305" stroke="#bc6305" stroke-width="0.4"/><polygon points="656,1757 677.5,1775.9 680.8,1774.7" fill="#e97a06" stroke="#e97a06" stroke-width="0.4"/><polygon points="656,1757 638.4,1775.8 642.1,1776.8" fill="#c56705" stroke="#c56705" stroke-width="0.4"/><polygon points="656,1757 674,1776.9 677.5,1775.9" fill="#ec7c06" stroke="#ec7c06" stroke-width="0.4"/><polygon points="656,1757 642.1,1776.8 646,1777.7" fill="#d26e05" stroke="#d26e05" stroke-width="0.4"/><polygon points="656,1757 670.2,1777.8 674,1776.9" fill="#f07e06" stroke="#f07e06" stroke-width="0.4"/><polygon points="656,1757 646,1777.7 650.1,1778.3" fill="#e07606" stroke="#e07606" stroke-width="0.4"/><polygon points="656,1757 650.1,1778.3 654.1,1778.7" fill="#ec7c06" stroke="#ec7c06" stroke-width="0.4"/><polygon points="656,1757 654.1,1778.7 658.3,1778.8" fill="#f38006" stroke="#f38006" stroke-width="0.4"/></g>
<line x1="622.7" y1="1746.5" x2="689.7" y2="1767.6" stroke="#cdbfae" stroke-width="1.1" opacity="0.6"/>
<line x1="656" y1="1757" x2="638.9" y2="1775.2" stroke="#cdbfae" stroke-width="1.1" opacity="0.6"/>
<g><polygon points="377.2,1763 377.2,1760.7 377.7,1758.5 413.2,1598.5 454.2,1756.5 454.7,1758.7 454.9,1761 454.6,1763.2 453.8,1765.5 452.7,1767.7 451.1,1769.8 449.2,1771.9 446.9,1773.8 444.2,1775.6 441.2,1777.2 437.9,1778.7 434.4,1779.9 430.7,1781 426.8,1781.8 422.8,1782.4 418.7,1782.7 414.5,1782.8 410.4,1782.7 406.4,1782.3 402.4,1781.7 398.6,1780.9 395.1,1779.8 391.7,1778.5 388.6,1777 385.9,1775.4 383.5,1773.6 381.4,1771.6 379.8,1769.6 378.5,1767.5 377.6,1765.2" fill="#f60000" stroke="#990000" stroke-width="0.9" stroke-linejoin="round"/><polygon points="413.2,1598.5 377.2,1760.7 377.2,1763" fill="#f50000" stroke="#f50000" stroke-width="0.4"/><polygon points="413.2,1598.5 377.2,1763 377.7,1765.2" fill="#ed0000" stroke="#ed0000" stroke-width="0.4"/><polygon points="413.2,1598.5 377.7,1765.2 378.5,1767.4" fill="#e30000" stroke="#e30000" stroke-width="0.4"/><polygon points="413.2,1598.5 378.5,1767.4 379.8,1769.6" fill="#de0000" stroke="#de0000" stroke-width="0.4"/><polygon points="413.2,1598.5 379.8,1769.6 381.4,1771.6" fill="#e00000" stroke="#e00000" stroke-width="0.4"/><polygon points="413.2,1598.5 381.4,1771.6 383.5,1773.6" fill="#ea0000" stroke="#ea0000" stroke-width="0.4"/><polygon points="413.2,1598.5 383.5,1773.6 385.9,1775.4" fill="#ea0000" stroke="#ea0000" stroke-width="0.4"/><polygon points="413.2,1598.5 385.9,1775.4 388.7,1777" fill="#db0000" stroke="#db0000" stroke-width="0.4"/><polygon points="413.2,1598.5 388.7,1777 391.7,1778.5" fill="#c60000" stroke="#c60000" stroke-width="0.4"/><polygon points="413.2,1598.5 391.7,1778.5 395.1,1779.8" fill="#b60000" stroke="#b60000" stroke-width="0.4"/><polygon points="413.2,1598.5 395.1,1779.8 398.7,1780.9" fill="#b10000" stroke="#b10000" stroke-width="0.4"/><polygon points="413.2,1598.5 430.7,1781 434.4,1779.9" fill="#f40000" stroke="#f40000" stroke-width="0.4"/><polygon points="413.2,1598.5 398.7,1780.9 402.4,1781.7" fill="#ba0000" stroke="#ba0000" stroke-width="0.4"/><polygon points="413.2,1598.5 426.8,1781.8 430.7,1781" fill="#f20000" stroke="#f20000" stroke-width="0.4"/><polygon points="413.2,1598.5 402.4,1781.7 406.4,1782.3" fill="#cb0000" stroke="#cb0000" stroke-width="0.4"/><polygon points="413.2,1598.5 422.8,1782.4 426.8,1781.8" fill="#f00000" stroke="#f00000" stroke-width="0.4"/><polygon points="413.2,1598.5 406.4,1782.3 410.4,1782.7" fill="#de0000" stroke="#de0000" stroke-width="0.4"/><polygon points="413.2,1598.5 418.7,1782.7 422.8,1782.4" fill="#ef0000" stroke="#ef0000" stroke-width="0.4"/><polygon points="413.2,1598.5 410.4,1782.7 414.5,1782.8" fill="#ec0000" stroke="#ec0000" stroke-width="0.4"/><polygon points="413.2,1598.5 414.5,1782.8 418.7,1782.7" fill="#ef0000" stroke="#ef0000" stroke-width="0.4"/></g>
<g><polygon points="464.7,1790.1 465,1787.7 465.7,1785.4 466.9,1783.2 468.4,1781 504.5,1731.5 540.3,1781.2 541.8,1783.4 542.9,1785.7 543.6,1788 543.9,1790.3 543.7,1792.7 543.1,1795 542.1,1797.3 540.6,1799.6 538.8,1801.7 536.6,1803.7 534,1805.6 531,1807.3 527.8,1808.8 524.3,1810.1 520.5,1811.2 516.6,1812 512.5,1812.7 508.4,1813 504.2,1813.1 500,1813 495.8,1812.6 491.8,1812 487.9,1811.1 484.1,1810 480.6,1808.6 477.4,1807.1 474.5,1805.4 471.9,1803.5 469.7,1801.5 467.9,1799.3 466.4,1797.1 465.4,1794.8 464.9,1792.5" fill="#00f800" stroke="#009a00" stroke-width="0.9" stroke-linejoin="round"/><polygon points="504.5,1731.5 464.7,1790.1 464.8,1792.5" fill="#00f700" stroke="#00f700" stroke-width="0.4"/><polygon points="504.5,1731.5 464.8,1792.5 465.4,1794.8" fill="#00f200" stroke="#00f200" stroke-width="0.4"/><polygon points="504.5,1731.5 465.4,1794.8 466.4,1797.1" fill="#00eb00" stroke="#00eb00" stroke-width="0.4"/><polygon points="504.5,1731.5 466.4,1797.1 467.9,1799.3" fill="#00e700" stroke="#00e700" stroke-width="0.4"/><polygon points="504.5,1731.5 467.9,1799.3 469.7,1801.5" fill="#00e900" stroke="#00e900" stroke-width="0.4"/><polygon points="504.5,1731.5 469.7,1801.5 471.9,1803.5" fill="#00ef00" stroke="#00ef00" stroke-width="0.4"/><polygon points="504.5,1731.5 471.9,1803.5 474.5,1805.4" fill="#00f000" stroke="#00f000" stroke-width="0.4"/><polygon points="504.5,1731.5 474.5,1805.4 477.4,1807.1" fill="#00e400" stroke="#00e400" stroke-width="0.4"/><polygon points="504.5,1731.5 477.4,1807.1 480.6,1808.6" fill="#00d500" stroke="#00d500" stroke-width="0.4"/><polygon points="504.5,1731.5 480.6,1808.6 484.1,1810" fill="#00ca00" stroke="#00ca00" stroke-width="0.4"/><polygon points="504.5,1731.5 484.1,1810 487.9,1811.1" fill="#00c700" stroke="#00c700" stroke-width="0.4"/><polygon points="504.5,1731.5 520.5,1811.2 524.3,1810.1" fill="#00f600" stroke="#00f600" stroke-width="0.4"/><polygon points="504.5,1731.5 487.9,1811.1 491.8,1812" fill="#00cd00" stroke="#00cd00" stroke-width="0.4"/><polygon points="504.5,1731.5 516.6,1812 520.5,1811.2" fill="#00f400" stroke="#00f400" stroke-width="0.4"/><polygon points="504.5,1731.5 491.8,1812 495.8,1812.6" fill="#00d900" stroke="#00d900" stroke-width="0.4"/><polygon points="504.5,1731.5 512.5,1812.7 516.6,1812" fill="#00f200" stroke="#00f200" stroke-width="0.4"/><polygon points="504.5,1731.5 495.8,1812.6 500,1813" fill="#00e600" stroke="#00e600" stroke-width="0.4"/><polygon points="504.5,1731.5 508.4,1813 512.5,1812.7" fill="#00f100" stroke="#00f100" stroke-width="0.4"/><polygon points="504.5,1731.5 500,1813 504.2,1813.1" fill="#00ef00" stroke="#00ef00" stroke-width="0.4"/><polygon points="504.5,1731.5 504.2,1813.1 508.4,1813" fill="#00f100" stroke="#00f100" stroke-width="0.4"/></g>
<g><polygon points="555.9,1820.7 556,1818.2 556.6,1815.8 557.6,1813.5 559,1811.2 560.9,1809 563.1,1807 565.6,1805.2 568.5,1803.5 571.7,1802 575.2,1800.7 578.8,1799.6 582.7,1798.7 586.7,1798.1 590.8,1797.8 594.9,1797.7 599.1,1797.8 603.2,1798.2 607.2,1798.8 611.2,1799.7 615,1800.8 618.6,1802.1 621.9,1803.6 625,1805.3 627.8,1807.2 630.3,1809.3 632.4,1811.4 634,1813.7 635.3,1816.1 636.2,1818.5 636.6,1821 636.6,1823.4 636.2,1825.8 635.3,1828.2 634,1830.6 632.2,1832.8 630.1,1834.9 627.5,1836.8 624.6,1838.6 621.4,1840.2 618,1841.5 614.2,1842.7 610.3,1843.6 606.2,1844.2 601.9,1844.6 597.7,1844.7 593.4,1844.6 589.1,1844.2 584.9,1843.5 580.9,1842.6 577,1841.4 573.3,1840 569.9,1838.4 566.8,1836.7 564.1,1834.7 561.7,1832.6 559.7,1830.3 558.1,1828 556.9,1825.6 556.1,1823.2" fill="#f48006" stroke="#974f04" stroke-width="0.9" stroke-linejoin="round"/><polygon points="596.3,1820.8 594.9,1797.7 590.7,1797.8" fill="#eb7b06" stroke="#eb7b06" stroke-width="0.4"/><polygon points="596.3,1820.8 599.1,1797.8 594.9,1797.7" fill="#e67806" stroke="#e67806" stroke-width="0.4"/><polygon points="596.3,1820.8 590.7,1797.8 586.7,1798.1" fill="#f07e06" stroke="#f07e06" stroke-width="0.4"/><polygon points="596.3,1820.8 603.2,1798.2 599.1,1797.8" fill="#df7505" stroke="#df7505" stroke-width="0.4"/><polygon points="596.3,1820.8 586.7,1798.1 582.7,1798.7" fill="#f37f06" stroke="#f37f06" stroke-width="0.4"/><polygon points="596.3,1820.8 607.3,1798.8 603.2,1798.2" fill="#d97205" stroke="#d97205" stroke-width="0.4"/><polygon points="596.3,1820.8 611.2,1799.7 607.3,1798.8" fill="#d46f05" stroke="#d46f05" stroke-width="0.4"/><polygon points="596.3,1820.8 615,1800.8 611.2,1799.7" fill="#d06d05" stroke="#d06d05" stroke-width="0.4"/><polygon points="596.3,1820.8 618.6,1802.1 615,1800.8" fill="#ce6c05" stroke="#ce6c05" stroke-width="0.4"/><polygon points="596.3,1820.8 621.9,1803.6 618.6,1802.1" fill="#cd6c05" stroke="#cd6c05" stroke-width="0.4"/><polygon points="596.3,1820.8 625,1805.3 621.9,1803.6" fill="#ce6c05" stroke="#ce6c05" stroke-width="0.4"/><polygon points="596.3,1820.8 627.8,1807.2 625,1805.3" fill="#d16e05" stroke="#d16e05" stroke-width="0.4"/><polygon points="596.3,1820.8 630.3,1809.3 627.8,1807.2" fill="#d67005" stroke="#d67005" stroke-width="0.4"/><polygon points="596.3,1820.8 632.4,1811.4 630.3,1809.3" fill="#db7305" stroke="#db7305" stroke-width="0.4"/><polygon points="596.3,1820.8 634,1813.7 632.4,1811.4" fill="#e27606" stroke="#e27606" stroke-width="0.4"/><polygon points="596.3,1820.8 635.3,1816.1 634,1813.7" fill="#e77906" stroke="#e77906" stroke-width="0.4"/><polygon points="596.3,1820.8 636.2,1818.5 635.3,1816.1" fill="#ed7c06" stroke="#ed7c06" stroke-width="0.4"/><polygon points="596.3,1820.8 636.6,1820.9 636.2,1818.5" fill="#f17e06" stroke="#f17e06" stroke-width="0.4"/><polygon points="596.3,1820.8 555.8,1820.7 556.1,1823.2" fill="#f68106" stroke="#f68106" stroke-width="0.4"/><polygon points="596.3,1820.8 636.6,1823.4 636.6,1820.9" fill="#f38006" stroke="#f38006" stroke-width="0.4"/><polygon points="596.3,1820.8 556.1,1823.2 556.9,1825.6" fill="#f98306" stroke="#f98306" stroke-width="0.4"/><polygon points="596.3,1820.8 556.9,1825.6 558.1,1828" fill="#fb8406" stroke="#fb8406" stroke-width="0.4"/><polygon points="596.3,1820.8 558.1,1828 559.7,1830.3" fill="#f68106" stroke="#f68106" stroke-width="0.4"/><polygon points="596.3,1820.8 559.7,1830.3 561.7,1832.6" fill="#e87a06" stroke="#e87a06" stroke-width="0.4"/><polygon points="596.3,1820.8 561.7,1832.6 564.1,1834.7" fill="#d77105" stroke="#d77105" stroke-width="0.4"/><polygon points="596.3,1820.8 630.1,1834.9 632.2,1832.8" fill="#f37f06" stroke="#f37f06" stroke-width="0.4"/><polygon points="596.3,1820.8 564.1,1834.7 566.8,1836.7" fill="#c96905" stroke="#c96905" stroke-width="0.4"/><polygon points="596.3,1820.8 627.5,1836.8 630.1,1834.9" fill="#ef7d06" stroke="#ef7d06" stroke-width="0.4"/><polygon points="596.3,1820.8 566.8,1836.7 569.9,1838.4" fill="#be6405" stroke="#be6405" stroke-width="0.4"/><polygon points="596.3,1820.8 624.6,1838.6 627.5,1836.8" fill="#eb7b06" stroke="#eb7b06" stroke-width="0.4"/><polygon points="596.3,1820.8 569.9,1838.4 573.3,1840" fill="#ba6105" stroke="#ba6105" stroke-width="0.4"/><polygon points="596.3,1820.8 621.4,1840.2 624.6,1838.6" fill="#e87a06" stroke="#e87a06" stroke-width="0.4"/><polygon points="596.3,1820.8 573.3,1840 577,1841.4" fill="#bc6305" stroke="#bc6305" stroke-width="0.4"/><polygon points="596.3,1820.8 617.9,1841.6 621.4,1840.2" fill="#e97a06" stroke="#e97a06" stroke-width="0.4"/><polygon points="596.3,1820.8 577,1841.4 580.9,1842.6" fill="#c56705" stroke="#c56705" stroke-width="0.4"/><polygon points="596.3,1820.8 614.2,1842.7 617.9,1841.6" fill="#ec7c06" stroke="#ec7c06" stroke-width="0.4"/><polygon points="596.3,1820.8 580.9,1842.6 584.9,1843.5" fill="#d26e05" stroke="#d26e05" stroke-width="0.4"/><polygon points="596.3,1820.8 610.3,1843.6 614.2,1842.7" fill="#f07e06" stroke="#f07e06" stroke-width="0.4"/><polygon points="596.3,1820.8 584.9,1843.5 589.1,1844.2" fill="#e07606" stroke="#e07606" stroke-width="0.4"/><polygon points="596.3,1820.8 589.1,1844.2 593.4,1844.6" fill="#ec7c06" stroke="#ec7c06" stroke-width="0.4"/><polygon points="596.3,1820.8 593.4,1844.6 597.7,1844.7" fill="#f38006" stroke="#f38006" stroke-width="0.4"/></g>
<line x1="561.9" y1="1809.4" x2="631.1" y2="1832.4" stroke="#cdbfae" stroke-width="1.1" opacity="0.6"/>
<line x1="596.3" y1="1820.8" x2="577.6" y2="1840.8" stroke="#cdbfae" stroke-width="1.1" opacity="0.6"/>
<line x1="432.7" y1="1165.7" x2="444.3" y2="1169.1" stroke="#262626" stroke-width="1.8"/>
<text x="438.5" y="1165.3" class="v" font-size="17.9">28.03</text>
<line x1="514.4" y1="1211.8" x2="526.2" y2="1215.2" stroke="#262626" stroke-width="1.8"/>
<text x="520.3" y="1211.3" class="v" font-size="18.1">26.03</text>
<line x1="598.2" y1="1259" x2="610.1" y2="1262.5" stroke="#262626" stroke-width="1.8"/>
<text x="604.2" y="1258.6" class="v" font-size="18.3">24.03</text>
<line x1="370.1" y1="1290.5" x2="381.9" y2="1294" stroke="#262626" stroke-width="1.8"/>
<text x="376" y="1290.1" class="v" font-size="18.3">22.03</text>
<line x1="678.1" y1="1453.6" x2="689.8" y2="1457" stroke="#262626" stroke-width="1.8"/>
<text x="683.9" y="1453.2" class="v" font-size="18.0">12.03</text>
<line x1="452.3" y1="1263.3" x2="464.5" y2="1266.9" stroke="#262626" stroke-width="1.8"/>
<text x="458.4" y="1262.8" class="v" font-size="18.8">25.03</text>
<line x1="755" y1="1641.5" x2="766.4" y2="1644.8" stroke="#262626" stroke-width="1.8"/>
<text x="760.7" y="1642" class="v" font-size="17.6">0.00</text>
<line x1="537.9" y1="1389.3" x2="550.1" y2="1392.9" stroke="#262626" stroke-width="1.8"/>
<text x="544" y="1388.9" class="v" font-size="18.7">18.03</text>
<line x1="302.6" y1="1376.3" x2="314.8" y2="1379.9" stroke="#262626" stroke-width="1.8"/>
<text x="308.7" y="1375.9" class="v" font-size="18.9">19.03</text>
<line x1="622.5" y1="1529" x2="634.6" y2="1532.5" stroke="#262626" stroke-width="1.8"/>
<text x="628.6" y="1528.6" class="v" font-size="18.6">10.03</text>
<line x1="388.7" y1="1487.8" x2="401" y2="1491.4" stroke="#262626" stroke-width="1.8"/>
<text x="394.9" y="1487.4" class="v" font-size="18.9">13.03</text>
<line x1="704.6" y1="1694.9" x2="716.6" y2="1698.4" stroke="#262626" stroke-width="1.8"/>
<text x="710.6" y="1695.5" class="v" font-size="18.4">0.00</text>
<line x1="474.4" y1="1480.9" x2="487.1" y2="1484.6" stroke="#262626" stroke-width="1.8"/>
<text x="480.7" y="1480.4" class="v" font-size="19.4">15.03</text>
<line x1="232" y1="1498.7" x2="244.7" y2="1502.4" stroke="#262626" stroke-width="1.8"/>
<text x="238.4" y="1498.2" class="v" font-size="19.4">14.03</text>
<line x1="562.9" y1="1595.4" x2="575.5" y2="1599.1" stroke="#262626" stroke-width="1.8"/>
<text x="569.2" y="1594.9" class="v" font-size="19.4">9.03</text>
<line x1="320.1" y1="1598.5" x2="332.7" y2="1602.2" stroke="#262626" stroke-width="1.8"/>
<text x="326.4" y="1598.1" class="v" font-size="19.5">9.03</text>
<line x1="649.7" y1="1753.1" x2="662.2" y2="1756.8" stroke="#262626" stroke-width="1.8"/>
<text x="656" y="1753.7" class="v" font-size="19.2">0.00</text>
<line x1="406.7" y1="1594.5" x2="419.7" y2="1598.3" stroke="#262626" stroke-width="1.8"/>
<text x="413.2" y="1594" class="v" font-size="20.0">11.03</text>
<line x1="498" y1="1727.5" x2="511" y2="1731.3" stroke="#262626" stroke-width="1.8"/>
<text x="504.5" y="1727" class="v" font-size="20.0">4.03</text>
<line x1="589.7" y1="1816.8" x2="602.8" y2="1820.6" stroke="#262626" stroke-width="1.8"/>
<text x="596.3" y="1817.4" class="v" font-size="20.1">0.00</text>
<g class="s"><text transform="matrix(0.2016 -0.1573 0.2033 0.1023 204.9 1740.5)" x="0" y="28" font-size="100" text-anchor="end">Se-doped TiO2</text>
<text transform="matrix(0.1958 -0.1639 0.2136 0.1065 287.7 1769.1)" x="0" y="28" font-size="100" text-anchor="end">Cu-doped TiO2</text>
<text transform="matrix(0.1894 -0.1709 0.2246 0.1109 373.9 1798.9)" x="0" y="28" font-size="100" text-anchor="end">Zn-doped TiO2</text>
<text transform="matrix(0.1822 -0.1784 0.2363 0.1157 463.8 1829.9)" x="0" y="28" font-size="100" text-anchor="end">Pure TiO2</text>
<text transform="matrix(0.1743 -0.1863 0.2489 0.1208 557.5 1862.2)" x="0" y="28" font-size="100" text-anchor="end">Precursor</text>
<text transform="matrix(0.2898 0.0965 -0.1448 0.1652 661.0 1842.4)" x="0" y="33" font-size="100" text-anchor="start">25</text>
<text transform="matrix(0.2802 0.0881 -0.1320 0.1505 718.6 1776.7)" x="0" y="33" font-size="100" text-anchor="start">50</text>
<text transform="matrix(0.2711 0.0808 -0.1208 0.1378 771.2 1716.7)" x="0" y="33" font-size="100" text-anchor="start">100</text>
<text transform="matrix(0.2626 0.0744 -0.1110 0.1266 819.5 1661.6)" x="0" y="33" font-size="100" text-anchor="start">200</text>
<text transform="matrix(0.2283 0.0631 -0.0172 0.2117 842.1 1635.8)" x="0" y="33" font-size="100" text-anchor="start">0</text>
<text transform="matrix(0.2321 0.0608 -0.0177 0.2184 847.6 1568.2)" x="0" y="33" font-size="100" text-anchor="start">5</text>
<text transform="matrix(0.2361 0.0582 -0.0183 0.2254 853.3 1498.4)" x="0" y="33" font-size="100" text-anchor="start">10</text>
<text transform="matrix(0.2402 0.0555 -0.0189 0.2327 859.1 1426.4)" x="0" y="33" font-size="100" text-anchor="start">15</text>
<text transform="matrix(0.2444 0.0526 -0.0195 0.2403 865.1 1352.1)" x="0" y="33" font-size="100" text-anchor="start">20</text>
<text transform="matrix(0.2488 0.0495 -0.0201 0.2484 871.4 1275.2)" x="0" y="33" font-size="100" text-anchor="start">25</text>
<text transform="matrix(0.2533 0.0461 -0.0208 0.2568 877.8 1195.8)" x="0" y="33" font-size="100" text-anchor="start">30</text>
<text transform="matrix(0.3094 0.1208 -0.1728 0.1999 211.9 1926.7)" x="0" y="25" font-size="100" text-anchor="middle" class="i">Nanoparticles</text>
<text transform="matrix(0.1285 -0.1570 0.2996 0.0919 806.3 1768.5)" x="0" y="25" font-size="100" text-anchor="middle">Concentration (µg/ml)</text>
<text transform="matrix(0.0245 -0.2663 0.2665 0.0340 908.3 1430.1)" x="0" y="25" font-size="100" text-anchor="middle" class="i">Mean (Zone of Inhibition in mm)</text></g>
<rect x="9.7" y="1140" width="385.6" height="110.70000000000005" fill="#00f400" stroke="#0c400c" stroke-width="1.6"/><text x="17" y="1182.6" font-size="40" class="i t" textLength="370" lengthAdjust="spacingAndGlyphs">Fusarium oxysporum</text><text x="17" y="1235.5" font-size="40" class="t" textLength="219" lengthAdjust="spacingAndGlyphs">MTCC 1755</text><text class="pl" transform="translate(43 1106) scale(0.84 1)" font-size="56">c</text>
</g>
<g id="panel-d">
<line x1="1217.5" y1="1629.9" x2="1483.5" y2="1437.7" stroke="#a2a2a2" stroke-width="1.25"/>
<line x1="1483.5" y1="1437.7" x2="1880.9" y2="1543" stroke="#a2a2a2" stroke-width="1.25"/>
<line x1="1213.5" y1="1575.1" x2="1482.8" y2="1389.3" stroke="#a2a2a2" stroke-width="1.25"/>
<line x1="1482.8" y1="1389.3" x2="1884.6" y2="1491.2" stroke="#a2a2a2" stroke-width="1.25"/>
<line x1="1209.3" y1="1519" x2="1482.1" y2="1339.8" stroke="#a2a2a2" stroke-width="1.25"/>
<line x1="1482.1" y1="1339.8" x2="1888.5" y2="1438.2" stroke="#a2a2a2" stroke-width="1.25"/>
<line x1="1205.1" y1="1461.5" x2="1481.5" y2="1289.4" stroke="#a2a2a2" stroke-width="1.25"/>
<line x1="1481.5" y1="1289.4" x2="1892.4" y2="1384" stroke="#a2a2a2" stroke-width="1.25"/>
<line x1="1200.8" y1="1402.6" x2="1480.8" y2="1237.8" stroke="#a2a2a2" stroke-width="1.25"/>
<line x1="1480.8" y1="1237.8" x2="1896.5" y2="1328.6" stroke="#a2a2a2" stroke-width="1.25"/>
<line x1="1196.3" y1="1342.1" x2="1480" y2="1185.1" stroke="#a2a2a2" stroke-width="1.25"/>
<line x1="1480" y1="1185.1" x2="1900.6" y2="1271.8" stroke="#a2a2a2" stroke-width="1.25"/>
<line x1="1191.7" y1="1280.1" x2="1479.3" y2="1131.3" stroke="#a2a2a2" stroke-width="1.25"/>
<line x1="1479.3" y1="1131.3" x2="1904.9" y2="1213.6" stroke="#a2a2a2" stroke-width="1.25"/>
<line x1="1259.2" y1="1654.8" x2="1229.5" y2="1196" stroke="#a2a2a2" stroke-width="1.25"/>
<line x1="1259.2" y1="1654.8" x2="1693.2" y2="1799.4" stroke="#b0b0b0" stroke-width="1.3"/>
<line x1="1330" y1="1601.4" x2="1308.7" y2="1158" stroke="#a2a2a2" stroke-width="1.25"/>
<line x1="1330" y1="1601.4" x2="1751.7" y2="1734" stroke="#b0b0b0" stroke-width="1.3"/>
<line x1="1395.3" y1="1552.1" x2="1381" y2="1123.2" stroke="#a2a2a2" stroke-width="1.25"/>
<line x1="1395.3" y1="1552.1" x2="1805.1" y2="1674.2" stroke="#b0b0b0" stroke-width="1.3"/>
<line x1="1455.7" y1="1506.6" x2="1447.4" y2="1091.3" stroke="#a2a2a2" stroke-width="1.25"/>
<line x1="1455.7" y1="1506.6" x2="1854.1" y2="1619.3" stroke="#b0b0b0" stroke-width="1.3"/>
<line x1="1520.4" y1="1495.1" x2="1518" y2="1083.4" stroke="#a2a2a2" stroke-width="1.25"/>
<line x1="1261.5" y1="1697.1" x2="1520.4" y2="1495.1" stroke="#b0b0b0" stroke-width="1.3"/>
<line x1="1594.9" y1="1515.7" x2="1599.2" y2="1098.1" stroke="#a2a2a2" stroke-width="1.25"/>
<line x1="1344.1" y1="1725.4" x2="1594.9" y2="1515.7" stroke="#b0b0b0" stroke-width="1.3"/>
<line x1="1672" y1="1537" x2="1683.5" y2="1113.3" stroke="#a2a2a2" stroke-width="1.25"/>
<line x1="1430.2" y1="1755" x2="1672" y2="1537" stroke="#b0b0b0" stroke-width="1.3"/>
<line x1="1751.9" y1="1559" x2="1771.2" y2="1129.2" stroke="#a2a2a2" stroke-width="1.25"/>
<line x1="1519.9" y1="1785.8" x2="1751.9" y2="1559" stroke="#b0b0b0" stroke-width="1.3"/>
<line x1="1834.6" y1="1581.8" x2="1862.3" y2="1145.6" stroke="#a2a2a2" stroke-width="1.25"/>
<line x1="1613.5" y1="1817.9" x2="1834.6" y2="1581.8" stroke="#b0b0b0" stroke-width="1.3"/>
<line x1="1221.4" y1="1683.3" x2="1187" y2="1216.4" stroke="#5c5c5c" stroke-width="1.15"/>
<line x1="1187" y1="1216.4" x2="1478.5" y2="1076.3" stroke="#5c5c5c" stroke-width="1.15"/>
<line x1="1478.5" y1="1076.3" x2="1909.2" y2="1154.1" stroke="#5c5c5c" stroke-width="1.15"/>
<line x1="1484.1" y1="1485.1" x2="1478.5" y2="1076.3" stroke="#5c5c5c" stroke-width="1.15"/>
<line x1="1221.4" y1="1683.3" x2="1484.1" y2="1485.1" stroke="#5c5c5c" stroke-width="1.15"/>
<line x1="1484.1" y1="1485.1" x2="1877.2" y2="1593.6" stroke="#5c5c5c" stroke-width="1.15"/>
<polyline points="1221.4,1683.3 1661.8,1834.5 1877.2,1593.6 1909.2,1154.1" fill="none" stroke="#000" stroke-width="1.9" stroke-linejoin="miter"/>
<line x1="1261.5" y1="1697.1" x2="1256" y2="1701.3" stroke="#000" stroke-width="1.7"/>
<line x1="1344.1" y1="1725.4" x2="1338.8" y2="1729.9" stroke="#000" stroke-width="1.7"/>
<line x1="1430.2" y1="1755" x2="1425" y2="1759.6" stroke="#000" stroke-width="1.7"/>
<line x1="1519.9" y1="1785.8" x2="1514.9" y2="1790.6" stroke="#000" stroke-width="1.7"/>
<line x1="1613.5" y1="1817.9" x2="1608.7" y2="1823" stroke="#000" stroke-width="1.7"/>
<line x1="1693.2" y1="1799.4" x2="1701.8" y2="1802.3" stroke="#000" stroke-width="1.7"/>
<line x1="1751.7" y1="1734" x2="1760.1" y2="1736.6" stroke="#000" stroke-width="1.7"/>
<line x1="1805.1" y1="1674.2" x2="1813.2" y2="1676.6" stroke="#000" stroke-width="1.7"/>
<line x1="1854.1" y1="1619.3" x2="1862" y2="1621.6" stroke="#000" stroke-width="1.7"/>
<line x1="1877.2" y1="1593.6" x2="1884.9" y2="1595.7" stroke="#000" stroke-width="1.7"/>
<line x1="1880.9" y1="1543" x2="1888.7" y2="1545" stroke="#000" stroke-width="1.7"/>
<line x1="1884.6" y1="1491.2" x2="1892.6" y2="1493.2" stroke="#000" stroke-width="1.7"/>
<line x1="1888.5" y1="1438.2" x2="1896.5" y2="1440.2" stroke="#000" stroke-width="1.7"/>
<line x1="1892.4" y1="1384" x2="1900.6" y2="1385.9" stroke="#000" stroke-width="1.7"/>
<line x1="1896.5" y1="1328.6" x2="1904.7" y2="1330.4" stroke="#000" stroke-width="1.7"/>
<line x1="1900.6" y1="1271.8" x2="1909" y2="1273.5" stroke="#000" stroke-width="1.7"/>
<line x1="1904.9" y1="1213.6" x2="1913.3" y2="1215.3" stroke="#000" stroke-width="1.7"/>
<line x1="1909.2" y1="1154.1" x2="1917.8" y2="1155.6" stroke="#000" stroke-width="1.7"/>
<g><polygon points="1459.3,1516.9 1487.8,1129.9 1525.3,1515.5 1525.5,1517.1 1525.2,1518.8 1524.6,1520.4 1523.7,1522 1522.4,1523.5 1520.8,1525 1518.8,1526.4 1516.5,1527.7 1514,1528.9 1511.3,1529.9 1508.3,1530.8 1505.1,1531.6 1501.8,1532.2 1498.4,1532.6 1494.9,1532.9 1491.4,1532.9 1487.9,1532.8 1484.5,1532.6 1481.1,1532.1 1477.9,1531.5 1474.8,1530.7 1472,1529.8 1469.3,1528.7 1466.9,1527.5 1464.8,1526.2 1463.1,1524.8 1461.6,1523.3 1460.5,1521.8 1459.8,1520.2 1459.3,1518.5" fill="#00fafa" stroke="#009b9b" stroke-width="0.9" stroke-linejoin="round"/><polygon points="1487.8,1129.9 1459.3,1516.9 1459.3,1518.5" fill="#00f9f9" stroke="#00f9f9" stroke-width="0.4"/><polygon points="1487.8,1129.9 1459.3,1518.5 1459.7,1520.2" fill="#00f6f6" stroke="#00f6f6" stroke-width="0.4"/><polygon points="1487.8,1129.9 1459.7,1520.2 1460.5,1521.8" fill="#00f0f0" stroke="#00f0f0" stroke-width="0.4"/><polygon points="1487.8,1129.9 1460.5,1521.8 1461.6,1523.3" fill="#00eeee" stroke="#00eeee" stroke-width="0.4"/><polygon points="1487.8,1129.9 1461.6,1523.3 1463.1,1524.8" fill="#00efef" stroke="#00efef" stroke-width="0.4"/><polygon points="1487.8,1129.9 1463.1,1524.8 1464.9,1526.2" fill="#00f4f4" stroke="#00f4f4" stroke-width="0.4"/><polygon points="1487.8,1129.9 1464.9,1526.2 1466.9,1527.5" fill="#00f4f4" stroke="#00f4f4" stroke-width="0.4"/><polygon points="1487.8,1129.9 1466.9,1527.5 1469.3,1528.7" fill="#00eded" stroke="#00eded" stroke-width="0.4"/><polygon points="1487.8,1129.9 1469.3,1528.7 1472,1529.8" fill="#00e3e3" stroke="#00e3e3" stroke-width="0.4"/><polygon points="1487.8,1129.9 1472,1529.8 1474.8,1530.7" fill="#00dcdc" stroke="#00dcdc" stroke-width="0.4"/><polygon points="1487.8,1129.9 1474.8,1530.7 1477.9,1531.5" fill="#00dada" stroke="#00dada" stroke-width="0.4"/><polygon points="1487.8,1129.9 1505.1,1531.6 1508.3,1530.8" fill="#00f8f8" stroke="#00f8f8" stroke-width="0.4"/><polygon points="1487.8,1129.9 1477.9,1531.5 1481.1,1532.1" fill="#00dede" stroke="#00dede" stroke-width="0.4"/><polygon points="1487.8,1129.9 1501.8,1532.2 1505.1,1531.6" fill="#00f6f6" stroke="#00f6f6" stroke-width="0.4"/><polygon points="1487.8,1129.9 1481.1,1532.1 1484.5,1532.6" fill="#00e5e5" stroke="#00e5e5" stroke-width="0.4"/><polygon points="1487.8,1129.9 1498.4,1532.6 1501.8,1532.2" fill="#00f4f4" stroke="#00f4f4" stroke-width="0.4"/><polygon points="1487.8,1129.9 1484.5,1532.6 1487.9,1532.8" fill="#00eded" stroke="#00eded" stroke-width="0.4"/><polygon points="1487.8,1129.9 1494.9,1532.9 1498.4,1532.6" fill="#00f3f3" stroke="#00f3f3" stroke-width="0.4"/><polygon points="1487.8,1129.9 1487.9,1532.8 1491.4,1532.9" fill="#00f2f2" stroke="#00f2f2" stroke-width="0.4"/><polygon points="1487.8,1129.9 1491.4,1532.9 1494.9,1532.9" fill="#00f3f3" stroke="#00f3f3" stroke-width="0.4"/></g>
<g><polygon points="1534.2,1538.2 1569.2,1229.4 1601.5,1538.5 1601.3,1540.2 1600.8,1541.9 1600,1543.5 1598.8,1545.1 1597.2,1546.7 1595.3,1548.1 1593.1,1549.4 1590.6,1550.7 1587.9,1551.7 1584.9,1552.7 1581.7,1553.5 1578.4,1554.1 1575,1554.5 1571.5,1554.8 1567.9,1554.8 1564.3,1554.8 1560.8,1554.5 1557.3,1554 1554,1553.3 1550.8,1552.5 1547.9,1551.6 1545.1,1550.5 1542.6,1549.2 1540.4,1547.9 1538.5,1546.4 1536.9,1544.9 1535.7,1543.3 1534.8,1541.6 1534.3,1539.9" fill="#0000fc" stroke="#00009c" stroke-width="0.9" stroke-linejoin="round"/><polygon points="1569.2,1229.4 1534.2,1538.2 1534.3,1539.9" fill="#0000fb" stroke="#0000fb" stroke-width="0.4"/><polygon points="1569.2,1229.4 1534.3,1539.9 1534.8,1541.6" fill="#0000f3" stroke="#0000f3" stroke-width="0.4"/><polygon points="1569.2,1229.4 1534.8,1541.6 1535.7,1543.3" fill="#0000e9" stroke="#0000e9" stroke-width="0.4"/><polygon points="1569.2,1229.4 1535.7,1543.3 1536.9,1544.9" fill="#0000e3" stroke="#0000e3" stroke-width="0.4"/><polygon points="1569.2,1229.4 1536.9,1544.9 1538.5,1546.4" fill="#0000e6" stroke="#0000e6" stroke-width="0.4"/><polygon points="1569.2,1229.4 1538.5,1546.4 1540.4,1547.9" fill="#0000ef" stroke="#0000ef" stroke-width="0.4"/><polygon points="1569.2,1229.4 1540.4,1547.9 1542.6,1549.2" fill="#0000f2" stroke="#0000f2" stroke-width="0.4"/><polygon points="1569.2,1229.4 1542.6,1549.2 1545.1,1550.5" fill="#0000e6" stroke="#0000e6" stroke-width="0.4"/><polygon points="1569.2,1229.4 1545.1,1550.5 1547.9,1551.6" fill="#0000d5" stroke="#0000d5" stroke-width="0.4"/><polygon points="1569.2,1229.4 1547.9,1551.6 1550.8,1552.5" fill="#0000c8" stroke="#0000c8" stroke-width="0.4"/><polygon points="1569.2,1229.4 1550.8,1552.5 1554,1553.4" fill="#0000c5" stroke="#0000c5" stroke-width="0.4"/><polygon points="1569.2,1229.4 1581.7,1553.5 1584.9,1552.7" fill="#0000fa" stroke="#0000fa" stroke-width="0.4"/><polygon points="1569.2,1229.4 1554,1553.4 1557.3,1554" fill="#0000cc" stroke="#0000cc" stroke-width="0.4"/><polygon points="1569.2,1229.4 1578.4,1554.1 1581.7,1553.5" fill="#0000f8" stroke="#0000f8" stroke-width="0.4"/><polygon points="1569.2,1229.4 1557.3,1554 1560.8,1554.5" fill="#0000d9" stroke="#0000d9" stroke-width="0.4"/><polygon points="1569.2,1229.4 1575,1554.5 1578.4,1554.1" fill="#0000f6" stroke="#0000f6" stroke-width="0.4"/><polygon points="1569.2,1229.4 1560.8,1554.5 1564.3,1554.7" fill="#0000e8" stroke="#0000e8" stroke-width="0.4"/><polygon points="1569.2,1229.4 1571.4,1554.8 1575,1554.5" fill="#0000f5" stroke="#0000f5" stroke-width="0.4"/><polygon points="1569.2,1229.4 1564.3,1554.7 1567.9,1554.9" fill="#0000f3" stroke="#0000f3" stroke-width="0.4"/><polygon points="1569.2,1229.4 1567.9,1554.9 1571.4,1554.8" fill="#0000f5" stroke="#0000f5" stroke-width="0.4"/></g>
<g><polygon points="1611.7,1560.3 1611.8,1558.6 1654,1190.8 1680.2,1560.6 1680.2,1562.3 1679.8,1564.1 1679,1565.8 1677.9,1567.5 1676.4,1569 1674.6,1570.5 1672.4,1571.9 1670,1573.2 1667.2,1574.3 1664.3,1575.3 1661.1,1576.1 1657.8,1576.8 1654.3,1577.2 1650.7,1577.5 1647.1,1577.6 1643.5,1577.5 1639.9,1577.2 1636.3,1576.7 1632.9,1576 1629.6,1575.2 1626.5,1574.2 1623.7,1573 1621,1571.8 1618.7,1570.3 1616.7,1568.8 1615,1567.2 1613.6,1565.6 1612.6,1563.8 1612,1562.1" fill="#f60000" stroke="#990000" stroke-width="0.9" stroke-linejoin="round"/><polygon points="1654,1190.8 1611.7,1560.3 1612,1562.1" fill="#f50000" stroke="#f50000" stroke-width="0.4"/><polygon points="1654,1190.8 1612,1562.1 1612.6,1563.8" fill="#ed0000" stroke="#ed0000" stroke-width="0.4"/><polygon points="1654,1190.8 1612.6,1563.8 1613.6,1565.6" fill="#e30000" stroke="#e30000" stroke-width="0.4"/><polygon points="1654,1190.8 1613.6,1565.6 1615,1567.2" fill="#de0000" stroke="#de0000" stroke-width="0.4"/><polygon points="1654,1190.8 1615,1567.2 1616.7,1568.8" fill="#e00000" stroke="#e00000" stroke-width="0.4"/><polygon points="1654,1190.8 1616.7,1568.8 1618.7,1570.3" fill="#ea0000" stroke="#ea0000" stroke-width="0.4"/><polygon points="1654,1190.8 1618.7,1570.3 1621,1571.8" fill="#ea0000" stroke="#ea0000" stroke-width="0.4"/><polygon points="1654,1190.8 1621,1571.8 1623.7,1573" fill="#db0000" stroke="#db0000" stroke-width="0.4"/><polygon points="1654,1190.8 1623.7,1573 1626.5,1574.2" fill="#c60000" stroke="#c60000" stroke-width="0.4"/><polygon points="1654,1190.8 1626.5,1574.2 1629.6,1575.2" fill="#b60000" stroke="#b60000" stroke-width="0.4"/><polygon points="1654,1190.8 1629.6,1575.2 1632.9,1576" fill="#b10000" stroke="#b10000" stroke-width="0.4"/><polygon points="1654,1190.8 1661.1,1576.1 1664.3,1575.3" fill="#f40000" stroke="#f40000" stroke-width="0.4"/><polygon points="1654,1190.8 1632.9,1576 1636.3,1576.7" fill="#ba0000" stroke="#ba0000" stroke-width="0.4"/><polygon points="1654,1190.8 1657.8,1576.8 1661.1,1576.1" fill="#f20000" stroke="#f20000" stroke-width="0.4"/><polygon points="1654,1190.8 1636.3,1576.7 1639.9,1577.2" fill="#cb0000" stroke="#cb0000" stroke-width="0.4"/><polygon points="1654,1190.8 1654.3,1577.2 1657.8,1576.8" fill="#f00000" stroke="#f00000" stroke-width="0.4"/><polygon points="1654,1190.8 1639.9,1577.2 1643.5,1577.5" fill="#de0000" stroke="#de0000" stroke-width="0.4"/><polygon points="1654,1190.8 1650.7,1577.5 1654.3,1577.2" fill="#ef0000" stroke="#ef0000" stroke-width="0.4"/><polygon points="1654,1190.8 1643.5,1577.5 1647.1,1577.6" fill="#ec0000" stroke="#ec0000" stroke-width="0.4"/><polygon points="1654,1190.8 1647.1,1577.6 1650.7,1577.5" fill="#ef0000" stroke="#ef0000" stroke-width="0.4"/></g>
<g><polygon points="1398.5,1565 1398.6,1563.2 1424.7,1235 1467.3,1561.7 1467.4,1563.5 1467,1565.2 1466.3,1567 1465.3,1568.7 1463.8,1570.4 1462.1,1572 1460,1573.5 1457.5,1574.9 1454.9,1576.2 1451.9,1577.3 1448.8,1578.3 1445.5,1579.1 1442,1579.8 1438.4,1580.2 1434.8,1580.5 1431.1,1580.6 1427.5,1580.5 1423.9,1580.2 1420.5,1579.7 1417.1,1579 1414,1578.2 1411,1577.2 1408.3,1576 1405.9,1574.7 1403.8,1573.3 1402,1571.8 1400.6,1570.2 1399.5,1568.5 1398.8,1566.8" fill="#00fafa" stroke="#009b9b" stroke-width="0.9" stroke-linejoin="round"/><polygon points="1424.7,1235 1398.6,1563.2 1398.5,1565" fill="#00f9f9" stroke="#00f9f9" stroke-width="0.4"/><polygon points="1424.7,1235 1398.5,1565 1398.8,1566.8" fill="#00f6f6" stroke="#00f6f6" stroke-width="0.4"/><polygon points="1424.7,1235 1398.8,1566.8 1399.5,1568.5" fill="#00f0f0" stroke="#00f0f0" stroke-width="0.4"/><polygon points="1424.7,1235 1399.5,1568.5 1400.6,1570.2" fill="#00eeee" stroke="#00eeee" stroke-width="0.4"/><polygon points="1424.7,1235 1400.6,1570.2 1402.1,1571.8" fill="#00efef" stroke="#00efef" stroke-width="0.4"/><polygon points="1424.7,1235 1402.1,1571.8 1403.8,1573.3" fill="#00f4f4" stroke="#00f4f4" stroke-width="0.4"/><polygon points="1424.7,1235 1403.8,1573.3 1405.9,1574.7" fill="#00f4f4" stroke="#00f4f4" stroke-width="0.4"/><polygon points="1424.7,1235 1405.9,1574.7 1408.3,1576" fill="#00eded" stroke="#00eded" stroke-width="0.4"/><polygon points="1424.7,1235 1408.3,1576 1411,1577.2" fill="#00e3e3" stroke="#00e3e3" stroke-width="0.4"/><polygon points="1424.7,1235 1411,1577.2 1414,1578.2" fill="#00dcdc" stroke="#00dcdc" stroke-width="0.4"/><polygon points="1424.7,1235 1414,1578.2 1417.1,1579" fill="#00dada" stroke="#00dada" stroke-width="0.4"/><polygon points="1424.7,1235 1445.5,1579.1 1448.8,1578.3" fill="#00f8f8" stroke="#00f8f8" stroke-width="0.4"/><polygon points="1424.7,1235 1417.1,1579 1420.4,1579.7" fill="#00dede" stroke="#00dede" stroke-width="0.4"/><polygon points="1424.7,1235 1442,1579.7 1445.5,1579.1" fill="#00f6f6" stroke="#00f6f6" stroke-width="0.4"/><polygon points="1424.7,1235 1420.4,1579.7 1423.9,1580.2" fill="#00e5e5" stroke="#00e5e5" stroke-width="0.4"/><polygon points="1424.7,1235 1438.4,1580.2 1442,1579.7" fill="#00f4f4" stroke="#00f4f4" stroke-width="0.4"/><polygon points="1424.7,1235 1423.9,1580.2 1427.5,1580.5" fill="#00eded" stroke="#00eded" stroke-width="0.4"/><polygon points="1424.7,1235 1434.8,1580.5 1438.4,1580.2" fill="#00f3f3" stroke="#00f3f3" stroke-width="0.4"/><polygon points="1424.7,1235 1427.5,1580.5 1431.1,1580.6" fill="#00f2f2" stroke="#00f2f2" stroke-width="0.4"/><polygon points="1424.7,1235 1431.1,1580.6 1434.8,1580.5" fill="#00f3f3" stroke="#00f3f3" stroke-width="0.4"/></g>
<g><polygon points="1692.1,1583.2 1692.1,1581.4 1692.5,1579.6 1734.6,1389.7 1761.8,1583.5 1761.9,1585.3 1761.6,1587.1 1761,1588.9 1759.9,1590.6 1758.5,1592.3 1756.8,1593.8 1754.7,1595.3 1752.2,1596.6 1749.6,1597.8 1746.6,1598.8 1743.4,1599.6 1740.1,1600.3 1736.6,1600.8 1733,1601 1729.3,1601.1 1725.6,1601 1721.9,1600.7 1718.2,1600.2 1714.7,1599.5 1711.3,1598.6 1708.1,1597.6 1705.1,1596.4 1702.3,1595.1 1699.9,1593.6 1697.7,1592.1 1695.9,1590.4 1694.4,1588.7 1693.2,1586.9 1692.5,1585.1" fill="#00f800" stroke="#009a00" stroke-width="0.9" stroke-linejoin="round"/><polygon points="1734.6,1389.7 1692.1,1583.2 1692.5,1585.1" fill="#00f700" stroke="#00f700" stroke-width="0.4"/><polygon points="1734.6,1389.7 1692.5,1585.1 1693.2,1586.9" fill="#00f200" stroke="#00f200" stroke-width="0.4"/><polygon points="1734.6,1389.7 1693.2,1586.9 1694.4,1588.7" fill="#00eb00" stroke="#00eb00" stroke-width="0.4"/><polygon points="1734.6,1389.7 1694.4,1588.7 1695.9,1590.4" fill="#00e700" stroke="#00e700" stroke-width="0.4"/><polygon points="1734.6,1389.7 1695.9,1590.4 1697.7,1592.1" fill="#00e900" stroke="#00e900" stroke-width="0.4"/><polygon points="1734.6,1389.7 1697.7,1592.1 1699.9,1593.6" fill="#00ef00" stroke="#00ef00" stroke-width="0.4"/><polygon points="1734.6,1389.7 1699.9,1593.6 1702.3,1595.1" fill="#00f000" stroke="#00f000" stroke-width="0.4"/><polygon points="1734.6,1389.7 1702.3,1595.1 1705.1,1596.4" fill="#00e400" stroke="#00e400" stroke-width="0.4"/><polygon points="1734.6,1389.7 1705.1,1596.4 1708.1,1597.6" fill="#00d500" stroke="#00d500" stroke-width="0.4"/><polygon points="1734.6,1389.7 1708.1,1597.6 1711.3,1598.6" fill="#00ca00" stroke="#00ca00" stroke-width="0.4"/><polygon points="1734.6,1389.7 1711.3,1598.6 1714.7,1599.5" fill="#00c700" stroke="#00c700" stroke-width="0.4"/><polygon points="1734.6,1389.7 1743.4,1599.6 1746.6,1598.8" fill="#00f600" stroke="#00f600" stroke-width="0.4"/><polygon points="1734.6,1389.7 1714.7,1599.5 1718.2,1600.2" fill="#00cd00" stroke="#00cd00" stroke-width="0.4"/><polygon points="1734.6,1389.7 1740.1,1600.3 1743.4,1599.6" fill="#00f400" stroke="#00f400" stroke-width="0.4"/><polygon points="1734.6,1389.7 1718.2,1600.2 1721.9,1600.7" fill="#00d900" stroke="#00d900" stroke-width="0.4"/><polygon points="1734.6,1389.7 1736.6,1600.7 1740.1,1600.3" fill="#00f200" stroke="#00f200" stroke-width="0.4"/><polygon points="1734.6,1389.7 1721.9,1600.7 1725.6,1601" fill="#00e600" stroke="#00e600" stroke-width="0.4"/><polygon points="1734.6,1389.7 1733,1601 1736.6,1600.7" fill="#00f100" stroke="#00f100" stroke-width="0.4"/><polygon points="1734.6,1389.7 1725.6,1601 1729.3,1601.1" fill="#00ef00" stroke="#00ef00" stroke-width="0.4"/><polygon points="1734.6,1389.7 1729.3,1601.1 1733,1601" fill="#00f100" stroke="#00f100" stroke-width="0.4"/></g>
<g><polygon points="1475.3,1586.3 1508,1295.7 1545.2,1584.7 1545.4,1586.5 1545.2,1588.4 1544.6,1590.2 1543.6,1592 1542.2,1593.7 1540.5,1595.4 1538.5,1596.9 1536.1,1598.4 1533.5,1599.7 1530.6,1600.9 1527.4,1601.9 1524.1,1602.8 1520.6,1603.4 1517,1603.9 1513.3,1604.2 1509.6,1604.3 1505.9,1604.2 1502.2,1603.8 1498.7,1603.3 1495.2,1602.7 1492,1601.8 1488.9,1600.7 1486.1,1599.5 1483.6,1598.2 1481.3,1596.7 1479.4,1595.2 1477.9,1593.5 1476.7,1591.7 1475.8,1589.9 1475.4,1588.1" fill="#0000fc" stroke="#00009c" stroke-width="0.9" stroke-linejoin="round"/><polygon points="1508,1295.7 1475.3,1586.3 1475.4,1588.1" fill="#0000fb" stroke="#0000fb" stroke-width="0.4"/><polygon points="1508,1295.7 1475.4,1588.1 1475.9,1589.9" fill="#0000f3" stroke="#0000f3" stroke-width="0.4"/><polygon points="1508,1295.7 1475.9,1589.9 1476.7,1591.7" fill="#0000e9" stroke="#0000e9" stroke-width="0.4"/><polygon points="1508,1295.7 1476.7,1591.7 1477.9,1593.5" fill="#0000e3" stroke="#0000e3" stroke-width="0.4"/><polygon points="1508,1295.7 1477.9,1593.5 1479.4,1595.2" fill="#0000e6" stroke="#0000e6" stroke-width="0.4"/><polygon points="1508,1295.7 1479.4,1595.2 1481.3,1596.7" fill="#0000ef" stroke="#0000ef" stroke-width="0.4"/><polygon points="1508,1295.7 1481.3,1596.7 1483.6,1598.2" fill="#0000f2" stroke="#0000f2" stroke-width="0.4"/><polygon points="1508,1295.7 1483.6,1598.2 1486.1,1599.5" fill="#0000e6" stroke="#0000e6" stroke-width="0.4"/><polygon points="1508,1295.7 1486.1,1599.5 1488.9,1600.7" fill="#0000d5" stroke="#0000d5" stroke-width="0.4"/><polygon points="1508,1295.7 1488.9,1600.7 1492,1601.8" fill="#0000c8" stroke="#0000c8" stroke-width="0.4"/><polygon points="1508,1295.7 1492,1601.8 1495.2,1602.6" fill="#0000c5" stroke="#0000c5" stroke-width="0.4"/><polygon points="1508,1295.7 1524.1,1602.7 1527.4,1601.9" fill="#0000fa" stroke="#0000fa" stroke-width="0.4"/><polygon points="1508,1295.7 1495.2,1602.6 1498.7,1603.3" fill="#0000cc" stroke="#0000cc" stroke-width="0.4"/><polygon points="1508,1295.7 1520.6,1603.4 1524.1,1602.7" fill="#0000f8" stroke="#0000f8" stroke-width="0.4"/><polygon points="1508,1295.7 1498.7,1603.3 1502.2,1603.8" fill="#0000d9" stroke="#0000d9" stroke-width="0.4"/><polygon points="1508,1295.7 1517,1603.9 1520.6,1603.4" fill="#0000f6" stroke="#0000f6" stroke-width="0.4"/><polygon points="1508,1295.7 1502.2,1603.8 1505.9,1604.2" fill="#0000e8" stroke="#0000e8" stroke-width="0.4"/><polygon points="1508,1295.7 1513.3,1604.2 1517,1603.9" fill="#0000f5" stroke="#0000f5" stroke-width="0.4"/><polygon points="1508,1295.7 1505.9,1604.2 1509.6,1604.3" fill="#0000f3" stroke="#0000f3" stroke-width="0.4"/><polygon points="1508,1295.7 1509.6,1604.3 1513.3,1604.2" fill="#0000f5" stroke="#0000f5" stroke-width="0.4"/></g>
<g><polygon points="1775.3,1605.1 1775.6,1603.2 1776.3,1601.4 1777.3,1599.7 1778.7,1598 1780.4,1596.4 1782.5,1595 1784.9,1593.7 1787.5,1592.5 1790.4,1591.5 1793.5,1590.7 1796.8,1590 1800.3,1589.6 1803.8,1589.3 1807.5,1589.2 1811.2,1589.3 1814.8,1589.6 1818.5,1590.1 1822,1590.8 1825.5,1591.6 1828.8,1592.7 1831.9,1593.8 1834.8,1595.2 1837.4,1596.6 1839.7,1598.2 1841.8,1599.9 1843.5,1601.6 1844.8,1603.5 1845.8,1605.3 1846.5,1607.2 1846.7,1609.1 1846.5,1611 1846,1612.9 1845,1614.7 1843.7,1616.4 1842,1618 1840,1619.5 1837.6,1620.8 1835,1622.1 1832,1623.1 1828.9,1624 1825.5,1624.7 1822,1625.2 1818.3,1625.5 1814.5,1625.6 1810.8,1625.4 1807,1625.1 1803.2,1624.6 1799.6,1623.9 1796.1,1623 1792.7,1621.9 1789.6,1620.7 1786.7,1619.3 1784.1,1617.8 1781.8,1616.2 1779.8,1614.4 1778.1,1612.6 1776.9,1610.8 1776,1608.9 1775.5,1607" fill="#f48006" stroke="#974f04" stroke-width="0.9" stroke-linejoin="round"/><polygon points="1811,1607.1 1807.5,1589.2 1803.8,1589.3" fill="#eb7b06" stroke="#eb7b06" stroke-width="0.4"/><polygon points="1811,1607.1 1811.2,1589.3 1807.5,1589.2" fill="#e67806" stroke="#e67806" stroke-width="0.4"/><polygon points="1811,1607.1 1803.8,1589.3 1800.3,1589.6" fill="#f07e06" stroke="#f07e06" stroke-width="0.4"/><polygon points="1811,1607.1 1814.8,1589.6 1811.2,1589.3" fill="#df7505" stroke="#df7505" stroke-width="0.4"/><polygon points="1811,1607.1 1800.3,1589.6 1796.8,1590" fill="#f37f06" stroke="#f37f06" stroke-width="0.4"/><polygon points="1811,1607.1 1818.5,1590.1 1814.8,1589.6" fill="#d97205" stroke="#d97205" stroke-width="0.4"/><polygon points="1811,1607.1 1822,1590.8 1818.5,1590.1" fill="#d46f05" stroke="#d46f05" stroke-width="0.4"/><polygon points="1811,1607.1 1825.5,1591.6 1822,1590.8" fill="#d06d05" stroke="#d06d05" stroke-width="0.4"/><polygon points="1811,1607.1 1828.8,1592.7 1825.5,1591.6" fill="#ce6c05" stroke="#ce6c05" stroke-width="0.4"/><polygon points="1811,1607.1 1831.9,1593.8 1828.8,1592.7" fill="#cd6c05" stroke="#cd6c05" stroke-width="0.4"/><polygon points="1811,1607.1 1834.8,1595.2 1831.9,1593.8" fill="#ce6c05" stroke="#ce6c05" stroke-width="0.4"/><polygon points="1811,1607.1 1837.4,1596.6 1834.8,1595.2" fill="#d16e05" stroke="#d16e05" stroke-width="0.4"/><polygon points="1811,1607.1 1839.7,1598.2 1837.4,1596.6" fill="#d67005" stroke="#d67005" stroke-width="0.4"/><polygon points="1811,1607.1 1841.8,1599.9 1839.7,1598.2" fill="#db7305" stroke="#db7305" stroke-width="0.4"/><polygon points="1811,1607.1 1843.5,1601.6 1841.8,1599.9" fill="#e27606" stroke="#e27606" stroke-width="0.4"/><polygon points="1811,1607.1 1844.8,1603.5 1843.5,1601.6" fill="#e77906" stroke="#e77906" stroke-width="0.4"/><polygon points="1811,1607.1 1845.8,1605.3 1844.8,1603.5" fill="#ed7c06" stroke="#ed7c06" stroke-width="0.4"/><polygon points="1811,1607.1 1846.5,1607.2 1845.8,1605.3" fill="#f17e06" stroke="#f17e06" stroke-width="0.4"/><polygon points="1811,1607.1 1775.5,1607 1776,1608.9" fill="#f68106" stroke="#f68106" stroke-width="0.4"/><polygon points="1811,1607.1 1846.7,1609.1 1846.5,1607.2" fill="#f38006" stroke="#f38006" stroke-width="0.4"/><polygon points="1811,1607.1 1776,1608.9 1776.9,1610.8" fill="#f98306" stroke="#f98306" stroke-width="0.4"/><polygon points="1811,1607.1 1776.9,1610.8 1778.1,1612.6" fill="#fb8406" stroke="#fb8406" stroke-width="0.4"/><polygon points="1811,1607.1 1778.1,1612.6 1779.8,1614.4" fill="#f68106" stroke="#f68106" stroke-width="0.4"/><polygon points="1811,1607.1 1779.8,1614.4 1781.8,1616.2" fill="#e87a06" stroke="#e87a06" stroke-width="0.4"/><polygon points="1811,1607.1 1781.8,1616.2 1784.1,1617.8" fill="#d77105" stroke="#d77105" stroke-width="0.4"/><polygon points="1811,1607.1 1842,1618 1843.7,1616.4" fill="#f37f06" stroke="#f37f06" stroke-width="0.4"/><polygon points="1811,1607.1 1784.1,1617.8 1786.7,1619.3" fill="#c96905" stroke="#c96905" stroke-width="0.4"/><polygon points="1811,1607.1 1840,1619.5 1842,1618" fill="#ef7d06" stroke="#ef7d06" stroke-width="0.4"/><polygon points="1811,1607.1 1786.7,1619.3 1789.6,1620.7" fill="#be6405" stroke="#be6405" stroke-width="0.4"/><polygon points="1811,1607.1 1837.6,1620.9 1840,1619.5" fill="#eb7b06" stroke="#eb7b06" stroke-width="0.4"/><polygon points="1811,1607.1 1789.6,1620.7 1792.7,1621.9" fill="#ba6105" stroke="#ba6105" stroke-width="0.4"/><polygon points="1811,1607.1 1835,1622.1 1837.6,1620.9" fill="#e87a06" stroke="#e87a06" stroke-width="0.4"/><polygon points="1811,1607.1 1792.7,1621.9 1796.1,1623" fill="#bc6305" stroke="#bc6305" stroke-width="0.4"/><polygon points="1811,1607.1 1832,1623.1 1835,1622.1" fill="#e97a06" stroke="#e97a06" stroke-width="0.4"/><polygon points="1811,1607.1 1796.1,1623 1799.6,1623.9" fill="#c56705" stroke="#c56705" stroke-width="0.4"/><polygon points="1811,1607.1 1828.9,1624 1832,1623.1" fill="#ec7c06" stroke="#ec7c06" stroke-width="0.4"/><polygon points="1811,1607.1 1799.6,1623.9 1803.2,1624.6" fill="#d26e05" stroke="#d26e05" stroke-width="0.4"/><polygon points="1811,1607.1 1825.5,1624.7 1828.9,1624" fill="#f07e06" stroke="#f07e06" stroke-width="0.4"/><polygon points="1811,1607.1 1803.2,1624.6 1807,1625.1" fill="#e07606" stroke="#e07606" stroke-width="0.4"/><polygon points="1811,1607.1 1807,1625.1 1810.8,1625.4" fill="#ec7c06" stroke="#ec7c06" stroke-width="0.4"/><polygon points="1811,1607.1 1810.8,1625.4 1814.5,1625.6" fill="#f38006" stroke="#f38006" stroke-width="0.4"/></g>
<line x1="1779.6" y1="1598.3" x2="1842.7" y2="1616.1" stroke="#cdbfae" stroke-width="1.1" opacity="0.6"/>
<line x1="1811" y1="1607.1" x2="1796.5" y2="1622.5" stroke="#cdbfae" stroke-width="1.1" opacity="0.6"/>
<g><polygon points="1555,1610.2 1555.2,1608.3 1593.9,1272.3 1626.3,1610.4 1626.2,1612.3 1625.7,1614.2 1624.8,1616.1 1623.6,1617.9 1622,1619.6 1620,1621.2 1617.7,1622.8 1615.1,1624.1 1612.2,1625.3 1609,1626.4 1605.7,1627.3 1602.2,1628 1598.6,1628.5 1594.8,1628.8 1591,1628.9 1587.3,1628.7 1583.5,1628.4 1579.8,1627.9 1576.3,1627.2 1572.9,1626.3 1569.8,1625.2 1566.8,1624 1564.2,1622.6 1561.8,1621 1559.7,1619.4 1558,1617.7 1556.7,1615.9 1555.7,1614 1555.2,1612.1" fill="#f60000" stroke="#990000" stroke-width="0.9" stroke-linejoin="round"/><polygon points="1593.9,1272.3 1555,1610.2 1555.2,1612.1" fill="#f50000" stroke="#f50000" stroke-width="0.4"/><polygon points="1593.9,1272.3 1555.2,1612.1 1555.7,1614" fill="#ed0000" stroke="#ed0000" stroke-width="0.4"/><polygon points="1593.9,1272.3 1555.7,1614 1556.7,1615.9" fill="#e30000" stroke="#e30000" stroke-width="0.4"/><polygon points="1593.9,1272.3 1556.7,1615.9 1558,1617.7" fill="#de0000" stroke="#de0000" stroke-width="0.4"/><polygon points="1593.9,1272.3 1558,1617.7 1559.7,1619.4" fill="#e00000" stroke="#e00000" stroke-width="0.4"/><polygon points="1593.9,1272.3 1559.7,1619.4 1561.8,1621" fill="#ea0000" stroke="#ea0000" stroke-width="0.4"/><polygon points="1593.9,1272.3 1561.8,1621 1564.2,1622.6" fill="#ea0000" stroke="#ea0000" stroke-width="0.4"/><polygon points="1593.9,1272.3 1564.2,1622.6 1566.8,1624" fill="#db0000" stroke="#db0000" stroke-width="0.4"/><polygon points="1593.9,1272.3 1566.8,1624 1569.8,1625.2" fill="#c60000" stroke="#c60000" stroke-width="0.4"/><polygon points="1593.9,1272.3 1569.8,1625.2 1572.9,1626.3" fill="#b60000" stroke="#b60000" stroke-width="0.4"/><polygon points="1593.9,1272.3 1572.9,1626.3 1576.3,1627.2" fill="#b10000" stroke="#b10000" stroke-width="0.4"/><polygon points="1593.9,1272.3 1605.7,1627.3 1609.1,1626.4" fill="#f40000" stroke="#f40000" stroke-width="0.4"/><polygon points="1593.9,1272.3 1576.3,1627.2 1579.9,1627.9" fill="#ba0000" stroke="#ba0000" stroke-width="0.4"/><polygon points="1593.9,1272.3 1602.2,1628 1605.7,1627.3" fill="#f20000" stroke="#f20000" stroke-width="0.4"/><polygon points="1593.9,1272.3 1579.9,1627.9 1583.5,1628.4" fill="#cb0000" stroke="#cb0000" stroke-width="0.4"/><polygon points="1593.9,1272.3 1598.6,1628.5 1602.2,1628" fill="#f00000" stroke="#f00000" stroke-width="0.4"/><polygon points="1593.9,1272.3 1583.5,1628.4 1587.3,1628.7" fill="#de0000" stroke="#de0000" stroke-width="0.4"/><polygon points="1593.9,1272.3 1594.8,1628.8 1598.6,1628.5" fill="#ef0000" stroke="#ef0000" stroke-width="0.4"/><polygon points="1593.9,1272.3 1587.3,1628.7 1591,1628.9" fill="#ec0000" stroke="#ec0000" stroke-width="0.4"/><polygon points="1593.9,1272.3 1591,1628.9 1594.8,1628.8" fill="#ef0000" stroke="#ef0000" stroke-width="0.4"/></g>
<g><polygon points="1332.7,1615.3 1356.3,1302.3 1404.5,1611.7 1404.5,1613.6 1404,1615.6 1403.2,1617.5 1402,1619.3 1400.4,1621.2 1398.5,1622.9 1396.2,1624.5 1393.6,1626 1390.8,1627.4 1387.6,1628.7 1384.3,1629.7 1380.8,1630.6 1377.1,1631.3 1373.4,1631.8 1369.6,1632.1 1365.8,1632.2 1362,1632.1 1358.3,1631.8 1354.7,1631.2 1351.2,1630.5 1348,1629.6 1345,1628.5 1342.3,1627.2 1339.8,1625.8 1337.7,1624.3 1336,1622.7 1334.5,1620.9 1333.5,1619.1 1332.9,1617.2" fill="#00fafa" stroke="#009b9b" stroke-width="0.9" stroke-linejoin="round"/><polygon points="1356.3,1302.3 1332.6,1615.3 1332.9,1617.2" fill="#00f6f6" stroke="#00f6f6" stroke-width="0.4"/><polygon points="1356.3,1302.3 1332.9,1617.2 1333.5,1619.1" fill="#00f0f0" stroke="#00f0f0" stroke-width="0.4"/><polygon points="1356.3,1302.3 1333.5,1619.1 1334.6,1620.9" fill="#00eeee" stroke="#00eeee" stroke-width="0.4"/><polygon points="1356.3,1302.3 1334.6,1620.9 1336,1622.7" fill="#00efef" stroke="#00efef" stroke-width="0.4"/><polygon points="1356.3,1302.3 1336,1622.7 1337.7,1624.3" fill="#00f4f4" stroke="#00f4f4" stroke-width="0.4"/><polygon points="1356.3,1302.3 1337.7,1624.3 1339.8,1625.9" fill="#00f4f4" stroke="#00f4f4" stroke-width="0.4"/><polygon points="1356.3,1302.3 1339.8,1625.9 1342.3,1627.3" fill="#00eded" stroke="#00eded" stroke-width="0.4"/><polygon points="1356.3,1302.3 1342.3,1627.3 1345,1628.5" fill="#00e3e3" stroke="#00e3e3" stroke-width="0.4"/><polygon points="1356.3,1302.3 1345,1628.5 1348,1629.6" fill="#00dcdc" stroke="#00dcdc" stroke-width="0.4"/><polygon points="1356.3,1302.3 1348,1629.6 1351.3,1630.5" fill="#00dada" stroke="#00dada" stroke-width="0.4"/><polygon points="1356.3,1302.3 1380.8,1630.6 1384.3,1629.7" fill="#00f8f8" stroke="#00f8f8" stroke-width="0.4"/><polygon points="1356.3,1302.3 1351.3,1630.5 1354.7,1631.2" fill="#00dede" stroke="#00dede" stroke-width="0.4"/><polygon points="1356.3,1302.3 1377.1,1631.3 1380.8,1630.6" fill="#00f6f6" stroke="#00f6f6" stroke-width="0.4"/><polygon points="1356.3,1302.3 1354.7,1631.2 1358.3,1631.7" fill="#00e5e5" stroke="#00e5e5" stroke-width="0.4"/><polygon points="1356.3,1302.3 1373.4,1631.8 1377.1,1631.3" fill="#00f4f4" stroke="#00f4f4" stroke-width="0.4"/><polygon points="1356.3,1302.3 1358.3,1631.7 1362,1632.1" fill="#00eded" stroke="#00eded" stroke-width="0.4"/><polygon points="1356.3,1302.3 1369.6,1632.1 1373.4,1631.8" fill="#00f3f3" stroke="#00f3f3" stroke-width="0.4"/><polygon points="1356.3,1302.3 1362,1632.1 1365.8,1632.2" fill="#00f2f2" stroke="#00f2f2" stroke-width="0.4"/><polygon points="1356.3,1302.3 1365.8,1632.2 1369.6,1632.1" fill="#00f3f3" stroke="#00f3f3" stroke-width="0.4"/></g>
<g><polygon points="1637.7,1635 1637.8,1633 1680.2,1416.5 1710.3,1635.2 1710.4,1637.2 1710,1639.2 1709.2,1641.1 1708,1643 1706.5,1644.8 1704.6,1646.5 1702.4,1648 1699.8,1649.5 1696.9,1650.8 1693.8,1651.8 1690.5,1652.8 1686.9,1653.5 1683.3,1654 1679.5,1654.3 1675.6,1654.4 1671.8,1654.3 1667.9,1654 1664.2,1653.4 1660.5,1652.7 1657,1651.7 1653.7,1650.6 1650.6,1649.3 1647.8,1647.9 1645.3,1646.3 1643.1,1644.6 1641.3,1642.8 1639.8,1640.9 1638.7,1639 1638,1637" fill="#00f800" stroke="#009a00" stroke-width="0.9" stroke-linejoin="round"/><polygon points="1680.2,1416.6 1637.7,1635 1638,1637" fill="#00f700" stroke="#00f700" stroke-width="0.4"/><polygon points="1680.2,1416.6 1638,1637 1638.7,1639" fill="#00f200" stroke="#00f200" stroke-width="0.4"/><polygon points="1680.2,1416.6 1638.7,1639 1639.8,1640.9" fill="#00eb00" stroke="#00eb00" stroke-width="0.4"/><polygon points="1680.2,1416.6 1639.8,1640.9 1641.3,1642.8" fill="#00e700" stroke="#00e700" stroke-width="0.4"/><polygon points="1680.2,1416.6 1641.3,1642.8 1643.1,1644.6" fill="#00e900" stroke="#00e900" stroke-width="0.4"/><polygon points="1680.2,1416.6 1643.1,1644.6 1645.3,1646.3" fill="#00ef00" stroke="#00ef00" stroke-width="0.4"/><polygon points="1680.2,1416.6 1645.3,1646.3 1647.8,1647.9" fill="#00f000" stroke="#00f000" stroke-width="0.4"/><polygon points="1680.2,1416.6 1647.8,1647.9 1650.6,1649.3" fill="#00e400" stroke="#00e400" stroke-width="0.4"/><polygon points="1680.2,1416.6 1650.6,1649.3 1653.7,1650.6" fill="#00d500" stroke="#00d500" stroke-width="0.4"/><polygon points="1680.2,1416.6 1653.7,1650.6 1657,1651.7" fill="#00ca00" stroke="#00ca00" stroke-width="0.4"/><polygon points="1680.2,1416.6 1657,1651.7 1660.5,1652.7" fill="#00c700" stroke="#00c700" stroke-width="0.4"/><polygon points="1680.2,1416.6 1690.5,1652.8 1693.8,1651.9" fill="#00f600" stroke="#00f600" stroke-width="0.4"/><polygon points="1680.2,1416.6 1660.5,1652.7 1664.2,1653.4" fill="#00cd00" stroke="#00cd00" stroke-width="0.4"/><polygon points="1680.2,1416.6 1686.9,1653.5 1690.5,1652.8" fill="#00f400" stroke="#00f400" stroke-width="0.4"/><polygon points="1680.2,1416.6 1664.2,1653.4 1667.9,1654" fill="#00d900" stroke="#00d900" stroke-width="0.4"/><polygon points="1680.2,1416.6 1683.3,1654 1686.9,1653.5" fill="#00f200" stroke="#00f200" stroke-width="0.4"/><polygon points="1680.2,1416.6 1667.9,1654 1671.8,1654.3" fill="#00e600" stroke="#00e600" stroke-width="0.4"/><polygon points="1680.2,1416.6 1679.5,1654.3 1683.3,1654" fill="#00f100" stroke="#00f100" stroke-width="0.4"/><polygon points="1680.2,1416.6 1671.8,1654.3 1675.6,1654.4" fill="#00ef00" stroke="#00ef00" stroke-width="0.4"/><polygon points="1680.2,1416.6 1675.6,1654.4 1679.5,1654.3" fill="#00f100" stroke="#00f100" stroke-width="0.4"/></g>
<g><polygon points="1411.5,1640.4 1411.6,1638.4 1442.4,1381.5 1484.5,1636.6 1484.6,1638.6 1484.3,1640.6 1483.5,1642.6 1482.4,1644.5 1480.9,1646.4 1479.1,1648.2 1476.8,1649.9 1474.3,1651.5 1471.5,1652.9 1468.4,1654.2 1465.1,1655.3 1461.5,1656.2 1457.9,1657 1454.1,1657.5 1450.2,1657.8 1446.3,1657.9 1442.5,1657.8 1438.7,1657.5 1435,1656.9 1431.4,1656.2 1428.1,1655.2 1425,1654.1 1422.1,1652.8 1419.5,1651.3 1417.3,1649.7 1415.4,1648 1413.8,1646.2 1412.7,1644.3 1411.9,1642.3" fill="#0000fc" stroke="#00009c" stroke-width="0.9" stroke-linejoin="round"/><polygon points="1442.4,1381.5 1411.6,1638.4 1411.5,1640.4" fill="#0000fb" stroke="#0000fb" stroke-width="0.4"/><polygon points="1442.4,1381.5 1411.5,1640.4 1411.9,1642.4" fill="#0000f3" stroke="#0000f3" stroke-width="0.4"/><polygon points="1442.4,1381.5 1411.9,1642.4 1412.7,1644.3" fill="#0000e9" stroke="#0000e9" stroke-width="0.4"/><polygon points="1442.4,1381.5 1412.7,1644.3 1413.8,1646.2" fill="#0000e3" stroke="#0000e3" stroke-width="0.4"/><polygon points="1442.4,1381.5 1413.8,1646.2 1415.4,1648" fill="#0000e6" stroke="#0000e6" stroke-width="0.4"/><polygon points="1442.4,1381.5 1415.4,1648 1417.3,1649.7" fill="#0000ef" stroke="#0000ef" stroke-width="0.4"/><polygon points="1442.4,1381.5 1417.3,1649.7 1419.5,1651.3" fill="#0000f2" stroke="#0000f2" stroke-width="0.4"/><polygon points="1442.4,1381.5 1419.5,1651.3 1422.1,1652.8" fill="#0000e6" stroke="#0000e6" stroke-width="0.4"/><polygon points="1442.4,1381.5 1422.1,1652.8 1425,1654.1" fill="#0000d5" stroke="#0000d5" stroke-width="0.4"/><polygon points="1442.4,1381.5 1425,1654.1 1428.1,1655.2" fill="#0000c8" stroke="#0000c8" stroke-width="0.4"/><polygon points="1442.4,1381.5 1428.1,1655.2 1431.4,1656.2" fill="#0000c5" stroke="#0000c5" stroke-width="0.4"/><polygon points="1442.4,1381.5 1461.5,1656.3 1465.1,1655.3" fill="#0000fa" stroke="#0000fa" stroke-width="0.4"/><polygon points="1442.4,1381.5 1431.4,1656.2 1435,1656.9" fill="#0000cc" stroke="#0000cc" stroke-width="0.4"/><polygon points="1442.4,1381.5 1457.9,1657 1461.5,1656.3" fill="#0000f8" stroke="#0000f8" stroke-width="0.4"/><polygon points="1442.4,1381.5 1435,1656.9 1438.7,1657.4" fill="#0000d9" stroke="#0000d9" stroke-width="0.4"/><polygon points="1442.4,1381.5 1454.1,1657.5 1457.9,1657" fill="#0000f6" stroke="#0000f6" stroke-width="0.4"/><polygon points="1442.4,1381.5 1438.7,1657.4 1442.5,1657.8" fill="#0000e8" stroke="#0000e8" stroke-width="0.4"/><polygon points="1442.4,1381.5 1450.2,1657.8 1454.1,1657.5" fill="#0000f5" stroke="#0000f5" stroke-width="0.4"/><polygon points="1442.4,1381.5 1442.5,1657.8 1446.3,1657.9" fill="#0000f3" stroke="#0000f3" stroke-width="0.4"/><polygon points="1442.4,1381.5 1446.3,1657.9 1450.2,1657.8" fill="#0000f5" stroke="#0000f5" stroke-width="0.4"/></g>
<g><polygon points="1723.5,1658.7 1723.8,1656.7 1724.6,1654.7 1725.8,1652.8 1727.3,1651 1729.2,1649.3 1731.4,1647.7 1733.9,1646.3 1736.7,1645 1739.8,1643.9 1743.1,1643 1746.5,1642.3 1750.2,1641.8 1753.9,1641.5 1757.7,1641.4 1761.5,1641.5 1765.3,1641.9 1769.1,1642.4 1772.8,1643.1 1776.3,1644.1 1779.7,1645.2 1782.9,1646.5 1785.9,1647.9 1788.6,1649.5 1790.9,1651.2 1793,1653 1794.7,1654.9 1796.1,1656.9 1797,1659 1797.6,1661 1797.8,1663.1 1797.5,1665.1 1796.9,1667.2 1795.8,1669.1 1794.3,1671 1792.5,1672.7 1790.3,1674.3 1787.8,1675.8 1785,1677.2 1781.9,1678.3 1778.6,1679.2 1775,1680 1771.3,1680.5 1767.5,1680.9 1763.5,1681 1759.6,1680.8 1755.7,1680.5 1751.8,1679.9 1748,1679.2 1744.4,1678.2 1740.9,1677 1737.7,1675.7 1734.8,1674.2 1732.1,1672.5 1729.7,1670.8 1727.7,1668.9 1726.1,1666.9 1724.8,1664.9 1724,1662.8 1723.5,1660.8" fill="#f48006" stroke="#974f04" stroke-width="0.9" stroke-linejoin="round"/><polygon points="1760.6,1660.9 1757.7,1641.4 1753.9,1641.5" fill="#eb7b06" stroke="#eb7b06" stroke-width="0.4"/><polygon points="1760.6,1660.9 1761.5,1641.5 1757.7,1641.4" fill="#e67806" stroke="#e67806" stroke-width="0.4"/><polygon points="1760.6,1660.9 1753.9,1641.5 1750.2,1641.8" fill="#f07e06" stroke="#f07e06" stroke-width="0.4"/><polygon points="1760.6,1660.9 1765.3,1641.9 1761.5,1641.5" fill="#df7505" stroke="#df7505" stroke-width="0.4"/><polygon points="1760.6,1660.9 1750.2,1641.8 1746.5,1642.3" fill="#f37f06" stroke="#f37f06" stroke-width="0.4"/><polygon points="1760.6,1660.9 1769.1,1642.4 1765.3,1641.9" fill="#d97205" stroke="#d97205" stroke-width="0.4"/><polygon points="1760.6,1660.9 1772.8,1643.1 1769.1,1642.4" fill="#d46f05" stroke="#d46f05" stroke-width="0.4"/><polygon points="1760.6,1660.9 1776.3,1644.1 1772.8,1643.1" fill="#d06d05" stroke="#d06d05" stroke-width="0.4"/><polygon points="1760.6,1660.9 1779.7,1645.2 1776.3,1644.1" fill="#ce6c05" stroke="#ce6c05" stroke-width="0.4"/><polygon points="1760.6,1660.9 1782.9,1646.5 1779.7,1645.2" fill="#cd6c05" stroke="#cd6c05" stroke-width="0.4"/><polygon points="1760.6,1660.9 1785.9,1647.9 1782.9,1646.5" fill="#ce6c05" stroke="#ce6c05" stroke-width="0.4"/><polygon points="1760.6,1660.9 1788.6,1649.5 1785.9,1647.9" fill="#d16e05" stroke="#d16e05" stroke-width="0.4"/><polygon points="1760.6,1660.9 1790.9,1651.2 1788.6,1649.5" fill="#d67005" stroke="#d67005" stroke-width="0.4"/><polygon points="1760.6,1660.9 1793,1653 1790.9,1651.2" fill="#db7305" stroke="#db7305" stroke-width="0.4"/><polygon points="1760.6,1660.9 1794.7,1654.9 1793,1653" fill="#e27606" stroke="#e27606" stroke-width="0.4"/><polygon points="1760.6,1660.9 1796.1,1656.9 1794.7,1654.9" fill="#e77906" stroke="#e77906" stroke-width="0.4"/><polygon points="1760.6,1660.9 1797,1659 1796.1,1656.9" fill="#ed7c06" stroke="#ed7c06" stroke-width="0.4"/><polygon points="1760.6,1660.9 1797.6,1661 1797,1659" fill="#f17e06" stroke="#f17e06" stroke-width="0.4"/><polygon points="1760.6,1660.9 1723.5,1660.8 1724,1662.8" fill="#f68106" stroke="#f68106" stroke-width="0.4"/><polygon points="1760.6,1660.9 1797.8,1663.1 1797.6,1661" fill="#f38006" stroke="#f38006" stroke-width="0.4"/><polygon points="1760.6,1660.9 1724,1662.8 1724.8,1664.9" fill="#f98306" stroke="#f98306" stroke-width="0.4"/><polygon points="1760.6,1660.9 1724.8,1664.9 1726.1,1666.9" fill="#fb8406" stroke="#fb8406" stroke-width="0.4"/><polygon points="1760.6,1660.9 1726.1,1666.9 1727.7,1668.9" fill="#f68106" stroke="#f68106" stroke-width="0.4"/><polygon points="1760.6,1660.9 1727.7,1668.9 1729.7,1670.7" fill="#e87a06" stroke="#e87a06" stroke-width="0.4"/><polygon points="1760.6,1660.9 1729.7,1670.7 1732.1,1672.5" fill="#d77105" stroke="#d77105" stroke-width="0.4"/><polygon points="1760.6,1660.9 1792.5,1672.7 1794.4,1671" fill="#f37f06" stroke="#f37f06" stroke-width="0.4"/><polygon points="1760.6,1660.9 1732.1,1672.5 1734.8,1674.2" fill="#c96905" stroke="#c96905" stroke-width="0.4"/><polygon points="1760.6,1660.9 1790.3,1674.3 1792.5,1672.7" fill="#ef7d06" stroke="#ef7d06" stroke-width="0.4"/><polygon points="1760.6,1660.9 1734.8,1674.2 1737.7,1675.7" fill="#be6405" stroke="#be6405" stroke-width="0.4"/><polygon points="1760.6,1660.9 1787.8,1675.8 1790.3,1674.3" fill="#eb7b06" stroke="#eb7b06" stroke-width="0.4"/><polygon points="1760.6,1660.9 1737.7,1675.7 1740.9,1677" fill="#ba6105" stroke="#ba6105" stroke-width="0.4"/><polygon points="1760.6,1660.9 1785,1677.2 1787.8,1675.8" fill="#e87a06" stroke="#e87a06" stroke-width="0.4"/><polygon points="1760.6,1660.9 1740.9,1677 1744.4,1678.2" fill="#bc6305" stroke="#bc6305" stroke-width="0.4"/><polygon points="1760.6,1660.9 1781.9,1678.3 1785,1677.2" fill="#e97a06" stroke="#e97a06" stroke-width="0.4"/><polygon points="1760.6,1660.9 1744.4,1678.2 1748,1679.1" fill="#c56705" stroke="#c56705" stroke-width="0.4"/><polygon points="1760.6,1660.9 1778.6,1679.2 1781.9,1678.3" fill="#ec7c06" stroke="#ec7c06" stroke-width="0.4"/><polygon points="1760.6,1660.9 1748,1679.1 1751.8,1679.9" fill="#d26e05" stroke="#d26e05" stroke-width="0.4"/><polygon points="1760.6,1660.9 1775,1680 1778.6,1679.2" fill="#f07e06" stroke="#f07e06" stroke-width="0.4"/><polygon points="1760.6,1660.9 1751.8,1679.9 1755.7,1680.5" fill="#e07606" stroke="#e07606" stroke-width="0.4"/><polygon points="1760.6,1660.9 1755.7,1680.5 1759.6,1680.8" fill="#ec7c06" stroke="#ec7c06" stroke-width="0.4"/><polygon points="1760.6,1660.9 1759.6,1680.8 1763.5,1681" fill="#f38006" stroke="#f38006" stroke-width="0.4"/></g>
<line x1="1728.3" y1="1651.3" x2="1793.3" y2="1670.7" stroke="#cdbfae" stroke-width="1.1" opacity="0.6"/>
<line x1="1760.6" y1="1660.9" x2="1744.9" y2="1677.6" stroke="#cdbfae" stroke-width="1.1" opacity="0.6"/>
<g><polygon points="1493.4,1664.3 1529.4,1359.7 1567.6,1662.5 1567.8,1664.6 1567.6,1666.6 1567,1668.7 1566,1670.7 1564.6,1672.7 1562.8,1674.6 1560.7,1676.3 1558.2,1678 1555.4,1679.5 1552.3,1680.8 1549,1682 1545.5,1682.9 1541.8,1683.7 1538,1684.2 1534,1684.5 1530.1,1684.6 1526.1,1684.5 1522.2,1684.2 1518.4,1683.6 1514.8,1682.8 1511.3,1681.8 1508,1680.7 1505,1679.3 1502.3,1677.8 1499.9,1676.1 1497.9,1674.3 1496.2,1672.5 1494.9,1670.5 1494,1668.5 1493.5,1666.4" fill="#f60000" stroke="#990000" stroke-width="0.9" stroke-linejoin="round"/><polygon points="1529.4,1359.7 1493.4,1664.3 1493.5,1666.4" fill="#f50000" stroke="#f50000" stroke-width="0.4"/><polygon points="1529.4,1359.7 1493.5,1666.4 1494,1668.5" fill="#ed0000" stroke="#ed0000" stroke-width="0.4"/><polygon points="1529.4,1359.7 1494,1668.5 1494.9,1670.5" fill="#e30000" stroke="#e30000" stroke-width="0.4"/><polygon points="1529.4,1359.7 1494.9,1670.5 1496.2,1672.5" fill="#de0000" stroke="#de0000" stroke-width="0.4"/><polygon points="1529.4,1359.7 1496.2,1672.5 1497.9,1674.4" fill="#e00000" stroke="#e00000" stroke-width="0.4"/><polygon points="1529.4,1359.7 1497.9,1674.4 1499.9,1676.1" fill="#ea0000" stroke="#ea0000" stroke-width="0.4"/><polygon points="1529.4,1359.7 1499.9,1676.1 1502.3,1677.8" fill="#ea0000" stroke="#ea0000" stroke-width="0.4"/><polygon points="1529.4,1359.7 1502.3,1677.8 1505,1679.3" fill="#db0000" stroke="#db0000" stroke-width="0.4"/><polygon points="1529.4,1359.7 1505,1679.3 1508,1680.7" fill="#c60000" stroke="#c60000" stroke-width="0.4"/><polygon points="1529.4,1359.7 1508,1680.7 1511.3,1681.8" fill="#b60000" stroke="#b60000" stroke-width="0.4"/><polygon points="1529.4,1359.7 1511.3,1681.8 1514.8,1682.8" fill="#b10000" stroke="#b10000" stroke-width="0.4"/><polygon points="1529.4,1359.7 1545.5,1682.9 1549,1682" fill="#f40000" stroke="#f40000" stroke-width="0.4"/><polygon points="1529.4,1359.7 1514.8,1682.8 1518.4,1683.6" fill="#ba0000" stroke="#ba0000" stroke-width="0.4"/><polygon points="1529.4,1359.7 1541.8,1683.7 1545.5,1682.9" fill="#f20000" stroke="#f20000" stroke-width="0.4"/><polygon points="1529.4,1359.7 1518.4,1683.6 1522.2,1684.2" fill="#cb0000" stroke="#cb0000" stroke-width="0.4"/><polygon points="1529.4,1359.7 1537.9,1684.2 1541.8,1683.7" fill="#f00000" stroke="#f00000" stroke-width="0.4"/><polygon points="1529.4,1359.7 1522.2,1684.2 1526.1,1684.5" fill="#de0000" stroke="#de0000" stroke-width="0.4"/><polygon points="1529.4,1359.7 1534,1684.5 1537.9,1684.2" fill="#ef0000" stroke="#ef0000" stroke-width="0.4"/><polygon points="1529.4,1359.7 1526.1,1684.5 1530.1,1684.6" fill="#ec0000" stroke="#ec0000" stroke-width="0.4"/><polygon points="1529.4,1359.7 1530.1,1684.6 1534,1684.5" fill="#ef0000" stroke="#ef0000" stroke-width="0.4"/></g>
<g><polygon points="1261.1,1670 1282.5,1377 1336,1664 1336.3,1666 1336.1,1668.1 1335.6,1670.2 1334.6,1672.3 1333.2,1674.3 1331.5,1676.3 1329.4,1678.2 1326.9,1680 1324.1,1681.6 1321,1683.1 1317.7,1684.5 1314.2,1685.6 1310.5,1686.6 1306.6,1687.4 1302.7,1687.9 1298.7,1688.2 1294.7,1688.3 1290.7,1688.2 1286.9,1687.9 1283.2,1687.3 1279.6,1686.5 1276.3,1685.5 1273.2,1684.3 1270.4,1683 1268,1681.5 1265.8,1679.8 1264.1,1678 1262.7,1676.1 1261.8,1674.1 1261.2,1672.1" fill="#00fafa" stroke="#009b9b" stroke-width="0.9" stroke-linejoin="round"/><polygon points="1282.5,1377 1261.1,1670 1261.2,1672.1" fill="#00f6f6" stroke="#00f6f6" stroke-width="0.4"/><polygon points="1282.5,1377 1261.2,1672.1 1261.8,1674.1" fill="#00f0f0" stroke="#00f0f0" stroke-width="0.4"/><polygon points="1282.5,1377 1261.8,1674.1 1262.7,1676.1" fill="#00eeee" stroke="#00eeee" stroke-width="0.4"/><polygon points="1282.5,1377 1262.7,1676.1 1264.1,1678" fill="#00efef" stroke="#00efef" stroke-width="0.4"/><polygon points="1282.5,1377 1264.1,1678 1265.9,1679.8" fill="#00f4f4" stroke="#00f4f4" stroke-width="0.4"/><polygon points="1282.5,1377 1265.9,1679.8 1268,1681.5" fill="#00f4f4" stroke="#00f4f4" stroke-width="0.4"/><polygon points="1282.5,1377 1268,1681.5 1270.4,1683" fill="#00eded" stroke="#00eded" stroke-width="0.4"/><polygon points="1282.5,1377 1270.4,1683 1273.2,1684.3" fill="#00e3e3" stroke="#00e3e3" stroke-width="0.4"/><polygon points="1282.5,1377 1273.2,1684.3 1276.3,1685.5" fill="#00dcdc" stroke="#00dcdc" stroke-width="0.4"/><polygon points="1282.5,1377 1276.3,1685.5 1279.6,1686.5" fill="#00dada" stroke="#00dada" stroke-width="0.4"/><polygon points="1282.5,1377 1310.5,1686.6 1314.2,1685.6" fill="#00f8f8" stroke="#00f8f8" stroke-width="0.4"/><polygon points="1282.5,1377 1279.6,1686.5 1283.2,1687.3" fill="#00dede" stroke="#00dede" stroke-width="0.4"/><polygon points="1282.5,1377 1306.6,1687.4 1310.5,1686.6" fill="#00f6f6" stroke="#00f6f6" stroke-width="0.4"/><polygon points="1282.5,1377 1283.2,1687.3 1286.9,1687.9" fill="#00e5e5" stroke="#00e5e5" stroke-width="0.4"/><polygon points="1282.5,1377 1302.7,1687.9 1306.6,1687.4" fill="#00f4f4" stroke="#00f4f4" stroke-width="0.4"/><polygon points="1282.5,1377 1286.9,1687.9 1290.7,1688.2" fill="#00eded" stroke="#00eded" stroke-width="0.4"/><polygon points="1282.5,1377 1298.7,1688.2 1302.7,1687.9" fill="#00f3f3" stroke="#00f3f3" stroke-width="0.4"/><polygon points="1282.5,1377 1290.7,1688.2 1294.7,1688.3" fill="#00f2f2" stroke="#00f2f2" stroke-width="0.4"/><polygon points="1282.5,1377 1294.7,1688.3 1298.7,1688.2" fill="#00f3f3" stroke="#00f3f3" stroke-width="0.4"/></g>
<g><polygon points="1578.5,1691.3 1578.6,1689.1 1619.5,1489.7 1654,1689.4 1654.3,1691.5 1654.3,1693.7 1653.8,1695.9 1652.9,1698 1651.6,1700 1649.9,1702 1647.8,1703.8 1645.4,1705.5 1642.7,1707.1 1639.6,1708.5 1636.3,1709.7 1632.8,1710.7 1629.1,1711.4 1625.2,1712 1621.2,1712.3 1617.2,1712.4 1613.2,1712.3 1609.2,1712 1605.3,1711.4 1601.5,1710.5 1597.9,1709.5 1594.5,1708.3 1591.3,1706.9 1588.5,1705.3 1585.9,1703.6 1583.7,1701.7 1581.8,1699.8 1580.4,1697.7 1579.3,1695.6 1578.7,1693.5" fill="#00f800" stroke="#009a00" stroke-width="0.9" stroke-linejoin="round"/><polygon points="1619.5,1489.7 1578.5,1691.3 1578.7,1693.5" fill="#00f700" stroke="#00f700" stroke-width="0.4"/><polygon points="1619.5,1489.7 1578.7,1693.5 1579.3,1695.6" fill="#00f200" stroke="#00f200" stroke-width="0.4"/><polygon points="1619.5,1489.7 1579.3,1695.6 1580.4,1697.7" fill="#00eb00" stroke="#00eb00" stroke-width="0.4"/><polygon points="1619.5,1489.7 1580.4,1697.7 1581.8,1699.8" fill="#00e700" stroke="#00e700" stroke-width="0.4"/><polygon points="1619.5,1489.7 1581.8,1699.8 1583.7,1701.7" fill="#00e900" stroke="#00e900" stroke-width="0.4"/><polygon points="1619.5,1489.7 1583.7,1701.7 1585.9,1703.6" fill="#00ef00" stroke="#00ef00" stroke-width="0.4"/><polygon points="1619.5,1489.7 1585.9,1703.6 1588.5,1705.3" fill="#00f000" stroke="#00f000" stroke-width="0.4"/><polygon points="1619.5,1489.7 1588.5,1705.3 1591.3,1706.9" fill="#00e400" stroke="#00e400" stroke-width="0.4"/><polygon points="1619.5,1489.7 1591.3,1706.9 1594.5,1708.3" fill="#00d500" stroke="#00d500" stroke-width="0.4"/><polygon points="1619.5,1489.7 1594.5,1708.3 1597.9,1709.5" fill="#00ca00" stroke="#00ca00" stroke-width="0.4"/><polygon points="1619.5,1489.7 1597.9,1709.5 1601.5,1710.5" fill="#00c700" stroke="#00c700" stroke-width="0.4"/><polygon points="1619.5,1489.7 1632.8,1710.6 1636.3,1709.6" fill="#00f600" stroke="#00f600" stroke-width="0.4"/><polygon points="1619.5,1489.7 1601.5,1710.5 1605.3,1711.4" fill="#00cd00" stroke="#00cd00" stroke-width="0.4"/><polygon points="1619.5,1489.7 1629.1,1711.4 1632.8,1710.6" fill="#00f400" stroke="#00f400" stroke-width="0.4"/><polygon points="1619.5,1489.7 1605.3,1711.4 1609.2,1711.9" fill="#00d900" stroke="#00d900" stroke-width="0.4"/><polygon points="1619.5,1489.7 1625.2,1712 1629.1,1711.4" fill="#00f200" stroke="#00f200" stroke-width="0.4"/><polygon points="1619.5,1489.7 1609.2,1711.9 1613.2,1712.3" fill="#00e600" stroke="#00e600" stroke-width="0.4"/><polygon points="1619.5,1489.7 1621.2,1712.3 1625.2,1712" fill="#00f100" stroke="#00f100" stroke-width="0.4"/><polygon points="1619.5,1489.7 1613.2,1712.3 1617.2,1712.4" fill="#00ef00" stroke="#00ef00" stroke-width="0.4"/><polygon points="1619.5,1489.7 1617.2,1712.4 1621.2,1712.3" fill="#00f100" stroke="#00f100" stroke-width="0.4"/></g>
<g><polygon points="1342,1697.2 1342.2,1695 1371.3,1459 1418,1691 1418.4,1693.1 1418.4,1695.3 1418,1697.5 1417.1,1699.6 1415.8,1701.8 1414.2,1703.8 1412.1,1705.8 1409.7,1707.6 1407,1709.3 1404,1710.9 1400.7,1712.3 1397.1,1713.5 1393.4,1714.5 1389.5,1715.3 1385.5,1715.9 1381.5,1716.2 1377.4,1716.3 1373.4,1716.2 1369.4,1715.8 1365.6,1715.2 1361.9,1714.4 1358.5,1713.4 1355.3,1712.2 1352.3,1710.8 1349.8,1709.2 1347.5,1707.4 1345.6,1705.6 1344.1,1703.6 1343,1701.5 1342.3,1699.4" fill="#0000fc" stroke="#00009c" stroke-width="0.9" stroke-linejoin="round"/><polygon points="1371.3,1459 1342.2,1695 1342,1697.2" fill="#0000fb" stroke="#0000fb" stroke-width="0.4"/><polygon points="1371.3,1459 1342,1697.2 1342.3,1699.4" fill="#0000f3" stroke="#0000f3" stroke-width="0.4"/><polygon points="1371.3,1459 1342.3,1699.4 1343,1701.5" fill="#0000e9" stroke="#0000e9" stroke-width="0.4"/><polygon points="1371.3,1459 1343,1701.5 1344.1,1703.6" fill="#0000e3" stroke="#0000e3" stroke-width="0.4"/><polygon points="1371.3,1459 1344.1,1703.6 1345.6,1705.6" fill="#0000e6" stroke="#0000e6" stroke-width="0.4"/><polygon points="1371.3,1459 1345.6,1705.6 1347.5,1707.4" fill="#0000ef" stroke="#0000ef" stroke-width="0.4"/><polygon points="1371.3,1459 1347.5,1707.4 1349.7,1709.2" fill="#0000f2" stroke="#0000f2" stroke-width="0.4"/><polygon points="1371.3,1459 1349.7,1709.2 1352.4,1710.8" fill="#0000e6" stroke="#0000e6" stroke-width="0.4"/><polygon points="1371.3,1459 1352.4,1710.8 1355.3,1712.2" fill="#0000d5" stroke="#0000d5" stroke-width="0.4"/><polygon points="1371.3,1459 1355.3,1712.2 1358.5,1713.4" fill="#0000c8" stroke="#0000c8" stroke-width="0.4"/><polygon points="1371.3,1459 1358.5,1713.4 1361.9,1714.4" fill="#0000c5" stroke="#0000c5" stroke-width="0.4"/><polygon points="1371.3,1459 1393.4,1714.5 1397.1,1713.5" fill="#0000fa" stroke="#0000fa" stroke-width="0.4"/><polygon points="1371.3,1459 1361.9,1714.4 1365.6,1715.2" fill="#0000cc" stroke="#0000cc" stroke-width="0.4"/><polygon points="1371.3,1459 1389.5,1715.3 1393.4,1714.5" fill="#0000f8" stroke="#0000f8" stroke-width="0.4"/><polygon points="1371.3,1459 1365.6,1715.2 1369.4,1715.8" fill="#0000d9" stroke="#0000d9" stroke-width="0.4"/><polygon points="1371.3,1459 1385.5,1715.9 1389.5,1715.3" fill="#0000f6" stroke="#0000f6" stroke-width="0.4"/><polygon points="1371.3,1459 1369.4,1715.8 1373.4,1716.2" fill="#0000e8" stroke="#0000e8" stroke-width="0.4"/><polygon points="1371.3,1459 1381.5,1716.2 1385.5,1715.9" fill="#0000f5" stroke="#0000f5" stroke-width="0.4"/><polygon points="1371.3,1459 1373.4,1716.2 1377.4,1716.3" fill="#0000f3" stroke="#0000f3" stroke-width="0.4"/><polygon points="1371.3,1459 1377.4,1716.3 1381.5,1716.2" fill="#0000f5" stroke="#0000f5" stroke-width="0.4"/></g>
<g><polygon points="1667,1719.4 1667,1717.1 1667.5,1714.9 1668.4,1712.8 1669.7,1710.7 1671.3,1708.7 1673.4,1706.8 1675.8,1705.1 1678.5,1703.6 1681.5,1702.2 1684.7,1701 1688.2,1700 1691.8,1699.2 1695.6,1698.7 1699.5,1698.4 1703.5,1698.3 1707.5,1698.4 1711.5,1698.8 1715.4,1699.3 1719.2,1700.1 1722.9,1701.1 1726.4,1702.3 1729.6,1703.7 1732.7,1705.3 1735.4,1707 1737.8,1708.9 1739.9,1710.9 1741.6,1713 1742.9,1715.1 1743.9,1717.4 1744.4,1719.6 1744.4,1721.9 1744.1,1724.1 1743.3,1726.3 1742.2,1728.4 1740.5,1730.5 1738.6,1732.4 1736.2,1734.2 1733.5,1735.8 1730.5,1737.2 1727.2,1738.5 1723.7,1739.5 1719.9,1740.3 1716,1740.9 1712,1741.3 1707.9,1741.4 1703.8,1741.3 1699.7,1740.9 1695.7,1740.3 1691.8,1739.4 1688,1738.4 1684.5,1737.1 1681.1,1735.6 1678.1,1734 1675.4,1732.2 1673,1730.2 1671,1728.2 1669.4,1726.1 1668.2,1723.9 1667.4,1721.6" fill="#f48006" stroke="#974f04" stroke-width="0.9" stroke-linejoin="round"/><polygon points="1705.7,1719.5 1703.5,1698.3 1699.5,1698.4" fill="#eb7b06" stroke="#eb7b06" stroke-width="0.4"/><polygon points="1705.7,1719.5 1707.5,1698.4 1703.5,1698.3" fill="#e67806" stroke="#e67806" stroke-width="0.4"/><polygon points="1705.7,1719.5 1699.5,1698.4 1695.6,1698.7" fill="#f07e06" stroke="#f07e06" stroke-width="0.4"/><polygon points="1705.7,1719.5 1711.5,1698.7 1707.5,1698.4" fill="#df7505" stroke="#df7505" stroke-width="0.4"/><polygon points="1705.7,1719.5 1695.6,1698.7 1691.8,1699.3" fill="#f37f06" stroke="#f37f06" stroke-width="0.4"/><polygon points="1705.7,1719.5 1715.4,1699.3 1711.5,1698.7" fill="#d97205" stroke="#d97205" stroke-width="0.4"/><polygon points="1705.7,1719.5 1719.2,1700.1 1715.4,1699.3" fill="#d46f05" stroke="#d46f05" stroke-width="0.4"/><polygon points="1705.7,1719.5 1722.9,1701.1 1719.2,1700.1" fill="#d06d05" stroke="#d06d05" stroke-width="0.4"/><polygon points="1705.7,1719.5 1726.4,1702.3 1722.9,1701.1" fill="#ce6c05" stroke="#ce6c05" stroke-width="0.4"/><polygon points="1705.7,1719.5 1729.6,1703.7 1726.4,1702.3" fill="#cd6c05" stroke="#cd6c05" stroke-width="0.4"/><polygon points="1705.7,1719.5 1732.7,1705.3 1729.6,1703.7" fill="#ce6c05" stroke="#ce6c05" stroke-width="0.4"/><polygon points="1705.7,1719.5 1735.4,1707 1732.7,1705.3" fill="#d16e05" stroke="#d16e05" stroke-width="0.4"/><polygon points="1705.7,1719.5 1737.8,1708.9 1735.4,1707" fill="#d67005" stroke="#d67005" stroke-width="0.4"/><polygon points="1705.7,1719.5 1739.9,1710.9 1737.8,1708.9" fill="#db7305" stroke="#db7305" stroke-width="0.4"/><polygon points="1705.7,1719.5 1741.6,1713 1739.9,1710.9" fill="#e27606" stroke="#e27606" stroke-width="0.4"/><polygon points="1705.7,1719.5 1742.9,1715.1 1741.6,1713" fill="#e77906" stroke="#e77906" stroke-width="0.4"/><polygon points="1705.7,1719.5 1743.9,1717.4 1742.9,1715.1" fill="#ed7c06" stroke="#ed7c06" stroke-width="0.4"/><polygon points="1705.7,1719.5 1744.4,1719.6 1743.9,1717.4" fill="#f17e06" stroke="#f17e06" stroke-width="0.4"/><polygon points="1705.7,1719.5 1667,1719.4 1667.4,1721.6" fill="#f68106" stroke="#f68106" stroke-width="0.4"/><polygon points="1705.7,1719.5 1744.4,1721.9 1744.4,1719.6" fill="#f38006" stroke="#f38006" stroke-width="0.4"/><polygon points="1705.7,1719.5 1667.4,1721.6 1668.2,1723.9" fill="#f98306" stroke="#f98306" stroke-width="0.4"/><polygon points="1705.7,1719.5 1668.2,1723.9 1669.4,1726.1" fill="#fb8406" stroke="#fb8406" stroke-width="0.4"/><polygon points="1705.7,1719.5 1669.4,1726.1 1671,1728.2" fill="#f68106" stroke="#f68106" stroke-width="0.4"/><polygon points="1705.7,1719.5 1671,1728.2 1673,1730.3" fill="#e87a06" stroke="#e87a06" stroke-width="0.4"/><polygon points="1705.7,1719.5 1673,1730.3 1675.4,1732.2" fill="#d77105" stroke="#d77105" stroke-width="0.4"/><polygon points="1705.7,1719.5 1738.6,1732.4 1740.6,1730.5" fill="#f37f06" stroke="#f37f06" stroke-width="0.4"/><polygon points="1705.7,1719.5 1675.4,1732.2 1678.1,1734" fill="#c96905" stroke="#c96905" stroke-width="0.4"/><polygon points="1705.7,1719.5 1736.2,1734.2 1738.6,1732.4" fill="#ef7d06" stroke="#ef7d06" stroke-width="0.4"/><polygon points="1705.7,1719.5 1678.1,1734 1681.1,1735.6" fill="#be6405" stroke="#be6405" stroke-width="0.4"/><polygon points="1705.7,1719.5 1733.5,1735.8 1736.2,1734.2" fill="#eb7b06" stroke="#eb7b06" stroke-width="0.4"/><polygon points="1705.7,1719.5 1681.1,1735.6 1684.4,1737.1" fill="#ba6105" stroke="#ba6105" stroke-width="0.4"/><polygon points="1705.7,1719.5 1730.5,1737.2 1733.5,1735.8" fill="#e87a06" stroke="#e87a06" stroke-width="0.4"/><polygon points="1705.7,1719.5 1684.4,1737.1 1688,1738.4" fill="#bc6305" stroke="#bc6305" stroke-width="0.4"/><polygon points="1705.7,1719.5 1727.2,1738.5 1730.5,1737.2" fill="#e97a06" stroke="#e97a06" stroke-width="0.4"/><polygon points="1705.7,1719.5 1688,1738.4 1691.8,1739.4" fill="#c56705" stroke="#c56705" stroke-width="0.4"/><polygon points="1705.7,1719.5 1723.7,1739.5 1727.2,1738.5" fill="#ec7c06" stroke="#ec7c06" stroke-width="0.4"/><polygon points="1705.7,1719.5 1691.8,1739.4 1695.7,1740.3" fill="#d26e05" stroke="#d26e05" stroke-width="0.4"/><polygon points="1705.7,1719.5 1719.9,1740.3 1723.7,1739.5" fill="#f07e06" stroke="#f07e06" stroke-width="0.4"/><polygon points="1705.7,1719.5 1695.7,1740.3 1699.7,1740.9" fill="#e07606" stroke="#e07606" stroke-width="0.4"/><polygon points="1705.7,1719.5 1699.7,1740.9 1703.8,1741.3" fill="#ec7c06" stroke="#ec7c06" stroke-width="0.4"/><polygon points="1705.7,1719.5 1703.8,1741.3 1707.9,1741.4" fill="#f38006" stroke="#f38006" stroke-width="0.4"/></g>
<line x1="1672.4" y1="1709" x2="1739.5" y2="1730.1" stroke="#cdbfae" stroke-width="1.1" opacity="0.6"/>
<line x1="1705.7" y1="1719.5" x2="1688.5" y2="1737.8" stroke="#cdbfae" stroke-width="1.1" opacity="0.6"/>
<g><polygon points="1426.2,1725.6 1426.2,1723.3 1459.8,1438.8 1503.9,1721.3 1504,1723.6 1503.7,1725.8 1503,1728.1 1501.8,1730.3 1500.2,1732.4 1498.3,1734.5 1496,1736.4 1493.3,1738.2 1490.3,1739.8 1487,1741.3 1483.5,1742.6 1479.7,1743.6 1475.8,1744.4 1471.8,1745 1467.7,1745.4 1463.6,1745.5 1459.4,1745.4 1455.4,1745 1451.4,1744.4 1447.7,1743.5 1444.1,1742.4 1440.7,1741.2 1437.6,1739.7 1434.9,1738 1432.5,1736.2 1430.4,1734.3 1428.8,1732.2 1427.5,1730.1 1426.7,1727.8" fill="#f60000" stroke="#990000" stroke-width="0.9" stroke-linejoin="round"/><polygon points="1459.8,1438.8 1426.2,1723.3 1426.2,1725.6" fill="#f50000" stroke="#f50000" stroke-width="0.4"/><polygon points="1459.8,1438.8 1426.2,1725.6 1426.6,1727.8" fill="#ed0000" stroke="#ed0000" stroke-width="0.4"/><polygon points="1459.8,1438.8 1426.6,1727.8 1427.5,1730.1" fill="#e30000" stroke="#e30000" stroke-width="0.4"/><polygon points="1459.8,1438.8 1427.5,1730.1 1428.7,1732.2" fill="#de0000" stroke="#de0000" stroke-width="0.4"/><polygon points="1459.8,1438.8 1428.7,1732.2 1430.4,1734.3" fill="#e00000" stroke="#e00000" stroke-width="0.4"/><polygon points="1459.8,1438.8 1430.4,1734.3 1432.5,1736.2" fill="#ea0000" stroke="#ea0000" stroke-width="0.4"/><polygon points="1459.8,1438.8 1432.5,1736.2 1434.9,1738" fill="#ea0000" stroke="#ea0000" stroke-width="0.4"/><polygon points="1459.8,1438.8 1434.9,1738 1437.6,1739.7" fill="#db0000" stroke="#db0000" stroke-width="0.4"/><polygon points="1459.8,1438.8 1437.6,1739.7 1440.7,1741.2" fill="#c60000" stroke="#c60000" stroke-width="0.4"/><polygon points="1459.8,1438.8 1440.7,1741.2 1444.1,1742.4" fill="#b60000" stroke="#b60000" stroke-width="0.4"/><polygon points="1459.8,1438.8 1444.1,1742.4 1447.6,1743.5" fill="#b10000" stroke="#b10000" stroke-width="0.4"/><polygon points="1459.8,1438.8 1479.7,1743.6 1483.5,1742.6" fill="#f40000" stroke="#f40000" stroke-width="0.4"/><polygon points="1459.8,1438.8 1447.6,1743.5 1451.4,1744.4" fill="#ba0000" stroke="#ba0000" stroke-width="0.4"/><polygon points="1459.8,1438.8 1475.8,1744.4 1479.7,1743.6" fill="#f20000" stroke="#f20000" stroke-width="0.4"/><polygon points="1459.8,1438.8 1451.4,1744.4 1455.4,1745" fill="#cb0000" stroke="#cb0000" stroke-width="0.4"/><polygon points="1459.8,1438.8 1471.8,1745 1475.8,1744.4" fill="#f00000" stroke="#f00000" stroke-width="0.4"/><polygon points="1459.8,1438.8 1455.4,1745 1459.4,1745.4" fill="#de0000" stroke="#de0000" stroke-width="0.4"/><polygon points="1459.8,1438.8 1467.7,1745.4 1471.8,1745" fill="#ef0000" stroke="#ef0000" stroke-width="0.4"/><polygon points="1459.8,1438.8 1459.4,1745.4 1463.6,1745.5" fill="#ec0000" stroke="#ec0000" stroke-width="0.4"/><polygon points="1459.8,1438.8 1463.6,1745.5 1467.7,1745.4" fill="#ef0000" stroke="#ef0000" stroke-width="0.4"/></g>
<g><polygon points="1513.8,1752.8 1514.1,1750.4 1553.8,1583.8 1592.9,1750.6 1593.2,1753 1593,1755.4 1592.4,1757.7 1591.4,1760 1589.9,1762.3 1588.1,1764.4 1585.8,1766.4 1583.2,1768.3 1580.3,1770 1577,1771.5 1573.5,1772.8 1569.7,1773.9 1565.8,1774.8 1561.7,1775.4 1557.5,1775.8 1553.3,1775.9 1549.1,1775.7 1545,1775.3 1540.9,1774.7 1537,1773.8 1533.2,1772.7 1529.7,1771.4 1526.5,1769.8 1523.6,1768.1 1521,1766.2 1518.8,1764.2 1517,1762 1515.5,1759.8 1514.5,1757.5 1514,1755.1" fill="#00f800" stroke="#009a00" stroke-width="0.9" stroke-linejoin="round"/><polygon points="1553.7,1583.8 1513.8,1752.8 1514,1755.1" fill="#00f700" stroke="#00f700" stroke-width="0.4"/><polygon points="1553.7,1583.8 1514,1755.1 1514.5,1757.5" fill="#00f200" stroke="#00f200" stroke-width="0.4"/><polygon points="1553.7,1583.8 1514.5,1757.5 1515.5,1759.8" fill="#00eb00" stroke="#00eb00" stroke-width="0.4"/><polygon points="1553.7,1583.8 1515.5,1759.8 1516.9,1762" fill="#00e700" stroke="#00e700" stroke-width="0.4"/><polygon points="1553.7,1583.8 1516.9,1762 1518.8,1764.2" fill="#00e900" stroke="#00e900" stroke-width="0.4"/><polygon points="1553.7,1583.8 1518.8,1764.2 1521,1766.2" fill="#00ef00" stroke="#00ef00" stroke-width="0.4"/><polygon points="1553.7,1583.8 1521,1766.2 1523.6,1768.1" fill="#00f000" stroke="#00f000" stroke-width="0.4"/><polygon points="1553.7,1583.8 1523.6,1768.1 1526.5,1769.8" fill="#00e400" stroke="#00e400" stroke-width="0.4"/><polygon points="1553.7,1583.8 1526.5,1769.8 1529.7,1771.4" fill="#00d500" stroke="#00d500" stroke-width="0.4"/><polygon points="1553.7,1583.8 1529.7,1771.4 1533.2,1772.7" fill="#00ca00" stroke="#00ca00" stroke-width="0.4"/><polygon points="1553.7,1583.8 1533.2,1772.7 1537,1773.8" fill="#00c700" stroke="#00c700" stroke-width="0.4"/><polygon points="1553.7,1583.8 1569.7,1773.9 1573.5,1772.8" fill="#00f600" stroke="#00f600" stroke-width="0.4"/><polygon points="1553.7,1583.8 1537,1773.8 1540.9,1774.7" fill="#00cd00" stroke="#00cd00" stroke-width="0.4"/><polygon points="1553.7,1583.8 1565.8,1774.8 1569.7,1773.9" fill="#00f400" stroke="#00f400" stroke-width="0.4"/><polygon points="1553.7,1583.8 1540.9,1774.7 1545,1775.3" fill="#00d900" stroke="#00d900" stroke-width="0.4"/><polygon points="1553.7,1583.8 1561.7,1775.4 1565.8,1774.8" fill="#00f200" stroke="#00f200" stroke-width="0.4"/><polygon points="1553.7,1583.8 1545,1775.3 1549.1,1775.7" fill="#00e600" stroke="#00e600" stroke-width="0.4"/><polygon points="1553.7,1583.8 1557.6,1775.8 1561.7,1775.4" fill="#00f100" stroke="#00f100" stroke-width="0.4"/><polygon points="1553.7,1583.8 1549.1,1775.7 1553.3,1775.9" fill="#00ef00" stroke="#00ef00" stroke-width="0.4"/><polygon points="1553.7,1583.8 1553.3,1775.9 1557.6,1775.8" fill="#00f100" stroke="#00f100" stroke-width="0.4"/></g>
<g><polygon points="1605.1,1783.5 1605.3,1781 1605.9,1778.6 1606.9,1776.2 1608.3,1773.9 1610.2,1771.8 1612.4,1769.7 1615,1767.8 1617.9,1766.2 1621.1,1764.7 1624.5,1763.3 1628.2,1762.3 1632.1,1761.4 1636.1,1760.8 1640.2,1760.5 1644.3,1760.3 1648.5,1760.5 1652.7,1760.9 1656.7,1761.5 1660.7,1762.4 1664.5,1763.5 1668.1,1764.8 1671.4,1766.3 1674.5,1768 1677.3,1769.9 1679.8,1772 1681.9,1774.1 1683.6,1776.4 1684.8,1778.8 1685.7,1781.2 1686.1,1783.7 1686.1,1786.2 1685.7,1788.6 1684.8,1791 1683.4,1793.3 1681.7,1795.6 1679.5,1797.7 1677,1799.6 1674.1,1801.4 1670.9,1803 1667.3,1804.4 1663.6,1805.5 1659.6,1806.4 1655.5,1807.1 1651.3,1807.5 1647,1807.6 1642.7,1807.4 1638.4,1807 1634.2,1806.3 1630.1,1805.4 1626.3,1804.3 1622.6,1802.9 1619.2,1801.3 1616.1,1799.5 1613.3,1797.5 1610.9,1795.4 1608.9,1793.1 1607.3,1790.8 1606.2,1788.4 1605.4,1785.9" fill="#f48006" stroke="#974f04" stroke-width="0.9" stroke-linejoin="round"/><polygon points="1645.6,1783.6 1644.3,1760.3 1640.2,1760.4" fill="#eb7b06" stroke="#eb7b06" stroke-width="0.4"/><polygon points="1645.6,1783.6 1648.5,1760.5 1644.3,1760.3" fill="#e67806" stroke="#e67806" stroke-width="0.4"/><polygon points="1645.6,1783.6 1640.2,1760.4 1636.1,1760.8" fill="#f07e06" stroke="#f07e06" stroke-width="0.4"/><polygon points="1645.6,1783.6 1652.6,1760.9 1648.5,1760.5" fill="#df7505" stroke="#df7505" stroke-width="0.4"/><polygon points="1645.6,1783.6 1636.1,1760.8 1632.1,1761.4" fill="#f37f06" stroke="#f37f06" stroke-width="0.4"/><polygon points="1645.6,1783.6 1656.7,1761.5 1652.6,1760.9" fill="#d97205" stroke="#d97205" stroke-width="0.4"/><polygon points="1645.6,1783.6 1660.7,1762.4 1656.7,1761.5" fill="#d46f05" stroke="#d46f05" stroke-width="0.4"/><polygon points="1645.6,1783.6 1664.5,1763.5 1660.7,1762.4" fill="#d06d05" stroke="#d06d05" stroke-width="0.4"/><polygon points="1645.6,1783.6 1668.1,1764.8 1664.5,1763.5" fill="#ce6c05" stroke="#ce6c05" stroke-width="0.4"/><polygon points="1645.6,1783.6 1671.4,1766.3 1668.1,1764.8" fill="#cd6c05" stroke="#cd6c05" stroke-width="0.4"/><polygon points="1645.6,1783.6 1674.5,1768 1671.4,1766.3" fill="#ce6c05" stroke="#ce6c05" stroke-width="0.4"/><polygon points="1645.6,1783.6 1677.3,1769.9 1674.5,1768" fill="#d16e05" stroke="#d16e05" stroke-width="0.4"/><polygon points="1645.6,1783.6 1679.8,1772 1677.3,1769.9" fill="#d67005" stroke="#d67005" stroke-width="0.4"/><polygon points="1645.6,1783.6 1681.9,1774.1 1679.8,1772" fill="#db7305" stroke="#db7305" stroke-width="0.4"/><polygon points="1645.6,1783.6 1683.6,1776.4 1681.9,1774.1" fill="#e27606" stroke="#e27606" stroke-width="0.4"/><polygon points="1645.6,1783.6 1684.8,1778.8 1683.6,1776.4" fill="#e77906" stroke="#e77906" stroke-width="0.4"/><polygon points="1645.6,1783.6 1685.7,1781.2 1684.8,1778.8" fill="#ed7c06" stroke="#ed7c06" stroke-width="0.4"/><polygon points="1645.6,1783.6 1686.1,1783.7 1685.7,1781.2" fill="#f17e06" stroke="#f17e06" stroke-width="0.4"/><polygon points="1645.6,1783.6 1605.1,1783.5 1605.4,1785.9" fill="#f68106" stroke="#f68106" stroke-width="0.4"/><polygon points="1645.6,1783.6 1686.1,1786.2 1686.1,1783.7" fill="#f38006" stroke="#f38006" stroke-width="0.4"/><polygon points="1645.6,1783.6 1605.4,1785.9 1606.1,1788.4" fill="#f98306" stroke="#f98306" stroke-width="0.4"/><polygon points="1645.6,1783.6 1606.1,1788.4 1607.3,1790.8" fill="#fb8406" stroke="#fb8406" stroke-width="0.4"/><polygon points="1645.6,1783.6 1607.3,1790.8 1608.9,1793.1" fill="#f68106" stroke="#f68106" stroke-width="0.4"/><polygon points="1645.6,1783.6 1608.9,1793.1 1610.9,1795.4" fill="#e87a06" stroke="#e87a06" stroke-width="0.4"/><polygon points="1645.6,1783.6 1610.9,1795.4 1613.3,1797.5" fill="#d77105" stroke="#d77105" stroke-width="0.4"/><polygon points="1645.6,1783.6 1679.5,1797.7 1681.7,1795.6" fill="#f37f06" stroke="#f37f06" stroke-width="0.4"/><polygon points="1645.6,1783.6 1613.3,1797.5 1616.1,1799.5" fill="#c96905" stroke="#c96905" stroke-width="0.4"/><polygon points="1645.6,1783.6 1677,1799.6 1679.5,1797.7" fill="#ef7d06" stroke="#ef7d06" stroke-width="0.4"/><polygon points="1645.6,1783.6 1616.1,1799.5 1619.2,1801.3" fill="#be6405" stroke="#be6405" stroke-width="0.4"/><polygon points="1645.6,1783.6 1674.1,1801.4 1677,1799.6" fill="#eb7b06" stroke="#eb7b06" stroke-width="0.4"/><polygon points="1645.6,1783.6 1619.2,1801.3 1622.6,1802.9" fill="#ba6105" stroke="#ba6105" stroke-width="0.4"/><polygon points="1645.6,1783.6 1670.9,1803 1674.1,1801.4" fill="#e87a06" stroke="#e87a06" stroke-width="0.4"/><polygon points="1645.6,1783.6 1622.6,1802.9 1626.3,1804.3" fill="#bc6305" stroke="#bc6305" stroke-width="0.4"/><polygon points="1645.6,1783.6 1667.3,1804.4 1670.9,1803" fill="#e97a06" stroke="#e97a06" stroke-width="0.4"/><polygon points="1645.6,1783.6 1626.3,1804.3 1630.1,1805.4" fill="#c56705" stroke="#c56705" stroke-width="0.4"/><polygon points="1645.6,1783.6 1663.6,1805.5 1667.3,1804.4" fill="#ec7c06" stroke="#ec7c06" stroke-width="0.4"/><polygon points="1645.6,1783.6 1630.1,1805.4 1634.2,1806.3" fill="#d26e05" stroke="#d26e05" stroke-width="0.4"/><polygon points="1645.6,1783.6 1659.6,1806.4 1663.6,1805.5" fill="#f07e06" stroke="#f07e06" stroke-width="0.4"/><polygon points="1645.6,1783.6 1634.2,1806.3 1638.4,1807" fill="#e07606" stroke="#e07606" stroke-width="0.4"/><polygon points="1645.6,1783.6 1638.4,1807 1642.7,1807.4" fill="#ec7c06" stroke="#ec7c06" stroke-width="0.4"/><polygon points="1645.6,1783.6 1642.7,1807.4 1647,1807.6" fill="#f38006" stroke="#f38006" stroke-width="0.4"/></g>
<line x1="1611.2" y1="1772.1" x2="1680.6" y2="1795.2" stroke="#cdbfae" stroke-width="1.1" opacity="0.6"/>
<line x1="1645.6" y1="1783.6" x2="1626.8" y2="1803.6" stroke="#cdbfae" stroke-width="1.1" opacity="0.6"/>
<line x1="1481.8" y1="1126.3" x2="1493.7" y2="1129.7" stroke="#262626" stroke-width="1.8"/>
<text x="1487.8" y="1124.8" class="v" font-size="18.2">30.03</text>
<line x1="1563.3" y1="1225.8" x2="1575.1" y2="1229.2" stroke="#262626" stroke-width="1.8"/>
<text x="1569.2" y="1224.3" class="v" font-size="18.3">24.03</text>
<line x1="1647.8" y1="1187" x2="1660.1" y2="1190.6" stroke="#262626" stroke-width="1.8"/>
<text x="1654" y="1185.5" class="v" font-size="18.8">28.03</text>
<line x1="1418.6" y1="1231.2" x2="1430.8" y2="1234.8" stroke="#262626" stroke-width="1.8"/>
<text x="1424.7" y="1229.7" class="v" font-size="18.7">25.03</text>
<line x1="1728.6" y1="1386" x2="1740.6" y2="1389.5" stroke="#262626" stroke-width="1.8"/>
<text x="1734.6" y="1384.5" class="v" font-size="18.5">15.03</text>
<line x1="1501.8" y1="1292" x2="1514.2" y2="1295.5" stroke="#262626" stroke-width="1.8"/>
<text x="1508" y="1290.4" class="v" font-size="18.9">22.03</text>
<line x1="1805.1" y1="1603.5" x2="1816.8" y2="1606.9" stroke="#262626" stroke-width="1.8"/>
<text x="1811" y="1604" class="v" font-size="18.1">0.00</text>
<line x1="1587.6" y1="1268.4" x2="1600.2" y2="1272.1" stroke="#262626" stroke-width="1.8"/>
<text x="1593.9" y="1266.8" class="v" font-size="19.5">25.03</text>
<line x1="1349.9" y1="1298.4" x2="1362.6" y2="1302.1" stroke="#262626" stroke-width="1.8"/>
<text x="1356.3" y="1296.8" class="v" font-size="19.5">23.10</text>
<line x1="1673.9" y1="1412.7" x2="1686.5" y2="1416.4" stroke="#262626" stroke-width="1.8"/>
<text x="1680.2" y="1411.1" class="v" font-size="19.4">16.37</text>
<line x1="1436" y1="1377.6" x2="1448.7" y2="1381.3" stroke="#262626" stroke-width="1.8"/>
<text x="1442.4" y="1376" class="v" font-size="19.6">19.03</text>
<line x1="1754.4" y1="1657.1" x2="1766.7" y2="1660.7" stroke="#262626" stroke-width="1.8"/>
<text x="1760.6" y="1657.7" class="v" font-size="18.8">0.00</text>
<line x1="1522.9" y1="1355.7" x2="1536" y2="1359.5" stroke="#262626" stroke-width="1.8"/>
<text x="1529.4" y="1354.1" class="v" font-size="20.2">22.03</text>
<line x1="1275.9" y1="1373" x2="1289" y2="1376.8" stroke="#262626" stroke-width="1.8"/>
<text x="1282.5" y="1371.4" class="v" font-size="20.2">21.03</text>
<line x1="1613" y1="1485.7" x2="1626.1" y2="1489.5" stroke="#262626" stroke-width="1.8"/>
<text x="1619.5" y="1484.1" class="v" font-size="20.2">14.70</text>
<line x1="1364.7" y1="1454.9" x2="1378" y2="1458.8" stroke="#262626" stroke-width="1.8"/>
<text x="1371.3" y="1453.3" class="v" font-size="20.4">17.03</text>
<line x1="1699.3" y1="1715.6" x2="1712.1" y2="1719.3" stroke="#262626" stroke-width="1.8"/>
<text x="1705.7" y="1716.1" class="v" font-size="19.7">0.00</text>
<line x1="1453" y1="1434.6" x2="1466.6" y2="1438.6" stroke="#262626" stroke-width="1.8"/>
<text x="1459.8" y="1432.9" class="v" font-size="21.0">20.03</text>
<line x1="1546.9" y1="1579.6" x2="1560.6" y2="1583.6" stroke="#262626" stroke-width="1.8"/>
<text x="1553.7" y="1577.9" class="v" font-size="21.0">12.03</text>
<line x1="1638.9" y1="1779.5" x2="1652.3" y2="1783.4" stroke="#262626" stroke-width="1.8"/>
<text x="1645.6" y="1780.1" class="v" font-size="20.6">0.00</text>
<g class="s"><text transform="matrix(0.2061 -0.1607 0.2070 0.1043 1253.7 1703.1)" x="0" y="28" font-size="100" text-anchor="end">Se-doped TiO2</text>
<text transform="matrix(0.2002 -0.1674 0.2176 0.1087 1336.5 1731.8)" x="0" y="28" font-size="100" text-anchor="end">Cu-doped TiO2</text>
<text transform="matrix(0.1937 -0.1746 0.2289 0.1133 1422.8 1761.6)" x="0" y="28" font-size="100" text-anchor="end">Zn-doped TiO2</text>
<text transform="matrix(0.1865 -0.1823 0.2409 0.1182 1512.8 1792.7)" x="0" y="28" font-size="100" text-anchor="end">Pure TiO2</text>
<text transform="matrix(0.1784 -0.1904 0.2539 0.1234 1606.7 1825.1)" x="0" y="28" font-size="100" text-anchor="end">Precursor</text>
<text transform="matrix(0.2905 0.0968 -0.1456 0.1658 1710.5 1805.2)" x="0" y="33" font-size="100" text-anchor="start">25</text>
<text transform="matrix(0.2809 0.0883 -0.1327 0.1511 1768.5 1739.2)" x="0" y="33" font-size="100" text-anchor="start">50</text>
<text transform="matrix(0.2719 0.0810 -0.1215 0.1383 1821.4 1679.0)" x="0" y="33" font-size="100" text-anchor="start">100</text>
<text transform="matrix(0.2633 0.0745 -0.1116 0.1270 1869.9 1623.8)" x="0" y="33" font-size="100" text-anchor="start">200</text>
<text transform="matrix(0.2290 0.0632 -0.0163 0.2128 1892.7 1597.9)" x="0" y="33" font-size="100" text-anchor="start">0</text>
<text transform="matrix(0.2317 0.0614 -0.0166 0.2176 1896.5 1547.1)" x="0" y="33" font-size="100" text-anchor="start">4</text>
<text transform="matrix(0.2346 0.0595 -0.0170 0.2226 1900.5 1495.2)" x="0" y="33" font-size="100" text-anchor="start">8</text>
<text transform="matrix(0.2375 0.0575 -0.0174 0.2277 1904.6 1442.1)" x="0" y="33" font-size="100" text-anchor="start">12</text>
<text transform="matrix(0.2404 0.0554 -0.0178 0.2330 1908.7 1387.8)" x="0" y="33" font-size="100" text-anchor="start">16</text>
<text transform="matrix(0.2435 0.0532 -0.0182 0.2386 1913.0 1332.2)" x="0" y="33" font-size="100" text-anchor="start">20</text>
<text transform="matrix(0.2466 0.0508 -0.0187 0.2443 1917.3 1275.2)" x="0" y="33" font-size="100" text-anchor="start">24</text>
<text transform="matrix(0.2498 0.0483 -0.0191 0.2502 1921.8 1216.9)" x="0" y="33" font-size="100" text-anchor="start">28</text>
<text transform="matrix(0.2531 0.0457 -0.0196 0.2563 1926.3 1157.2)" x="0" y="33" font-size="100" text-anchor="start">32</text>
<text transform="matrix(0.3202 0.1254 -0.1797 0.2075 1270.8 1907.9)" x="0" y="25" font-size="100" text-anchor="middle" class="i">Nanoparticles</text>
<text transform="matrix(0.1293 -0.1576 0.3005 0.0922 1856.5 1731.0)" x="0" y="25" font-size="100" text-anchor="middle">Concentration (µg/ml)</text>
<text transform="matrix(0.0232 -0.2668 0.2667 0.0338 1958.0 1391.4)" x="0" y="25" font-size="100" text-anchor="middle" class="i">Mean (Zone of Inhibition in mm)</text></g>
<rect x="1640" y="1061.9" width="240.79999999999995" height="85.39999999999986" fill="#00f400" stroke="#0c400c" stroke-width="1.6"/><text x="1647" y="1095.4" font-size="31" class="i t" textLength="228.6" lengthAdjust="spacingAndGlyphs">Candida albicans</text><text x="1647" y="1136" font-size="31" class="t" textLength="165.7" lengthAdjust="spacingAndGlyphs">MTCC 3017</text><text class="pl" transform="translate(1102 1106.8) scale(0.87 1)" font-size="60">d</text>
</g>

</svg></body></html>
